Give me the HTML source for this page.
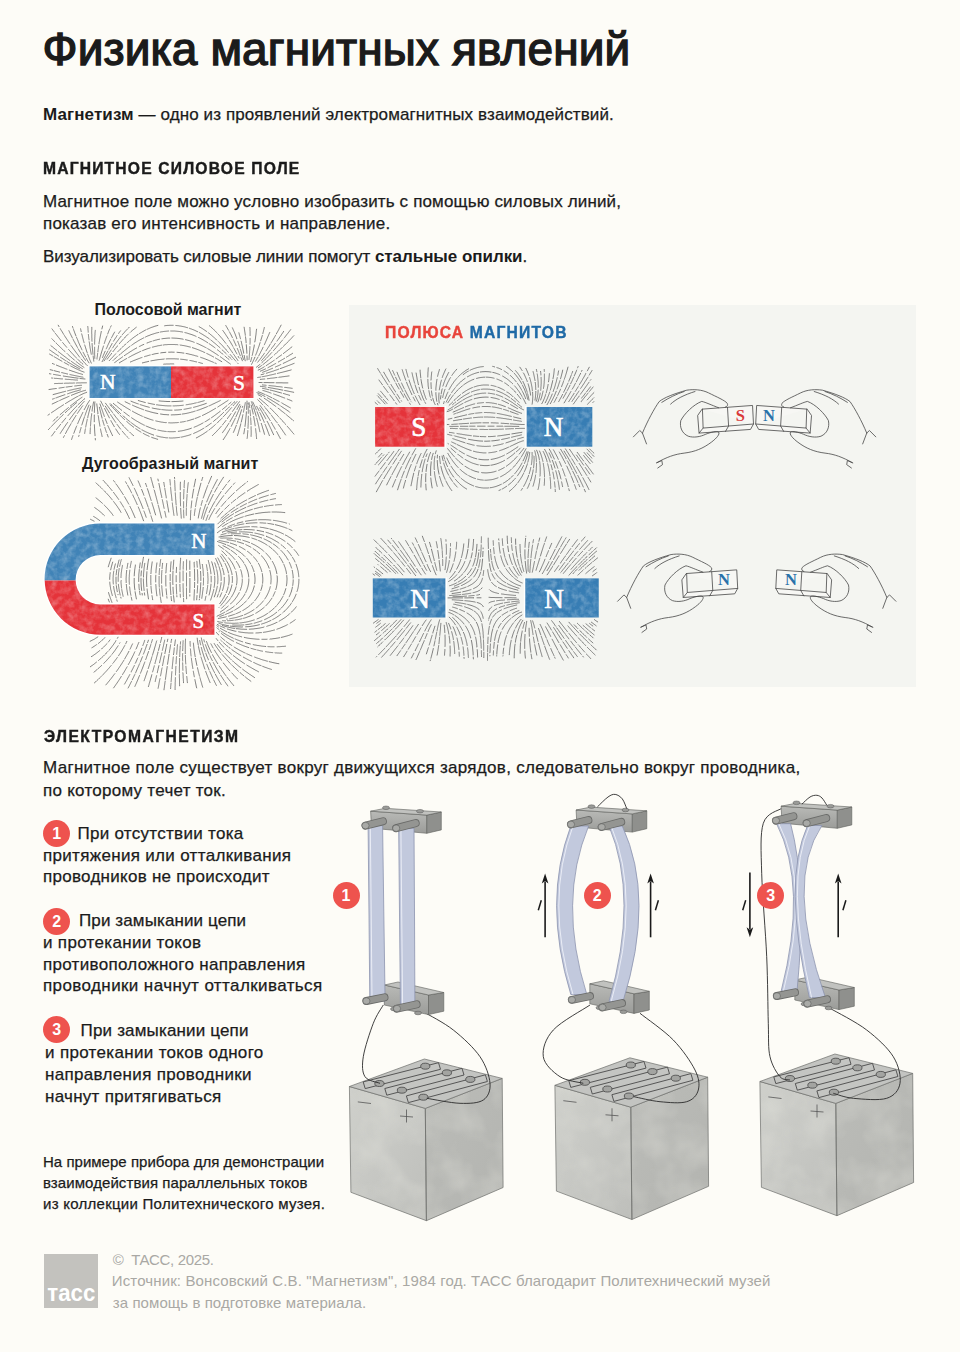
<!DOCTYPE html>
<html><head><meta charset="utf-8">
<style>
html,body{margin:0;padding:0;}
body{width:960px;height:1352px;background:#fdfcf7;position:relative;overflow:hidden;font-family:"Liberation Sans",sans-serif;}
.ln{position:absolute;white-space:nowrap;line-height:1;}
.ln span{-webkit-text-stroke:0.25px currentColor;}
.ln span.b{-webkit-text-stroke:0;}
.ln.t span{-webkit-text-stroke:1.4px currentColor;}
.ln.hd span{-webkit-text-stroke:0.45px currentColor;}
.ln.ft span{-webkit-text-stroke:0;}
.panel{position:absolute;left:349px;top:305px;width:567px;height:382px;background:#f4f5f1;}
.num{position:absolute;width:27px;height:27px;border-radius:50%;background:#ee534e;color:#fff;font-weight:bold;font-size:16px;line-height:27px;text-align:center;}
.logo{position:absolute;left:44px;top:1254px;width:54px;height:54px;background:#c3c2be;}
svg{position:absolute;left:0;top:0;}
</style></head><body>
<div class="panel"></div>
<div class="logo"><svg width="54" height="54" style="position:absolute;left:0;top:0"><text transform="translate(3.3,46.9) scale(1,1.12)" x="0" y="0" font-family="Liberation Sans" font-weight="bold" font-size="22" fill="#fff" textLength="48" lengthAdjust="spacingAndGlyphs">тасс</text></svg></div>
<svg width="960" height="1352" viewBox="0 0 960 1352"><defs><filter id="wc" x="-2%" y="-5%" width="104%" height="110%" color-interpolation-filters="sRGB">
<feTurbulence type="fractalNoise" baseFrequency="0.16" numOctaves="3" seed="4" result="n"/>
<feColorMatrix in="n" type="matrix" values="0 0 0 0 1  0 0 0 0 1  0 0 0 0 1  0 0 0 0.55 -0.2" result="w"/>
<feComposite in="w" in2="SourceAlpha" operator="in" result="wi"/>
<feMerge><feMergeNode in="SourceGraphic"/><feMergeNode in="wi"/></feMerge></filter></defs><path d="M109.2 360.7L109.9 360.0L110.6 359.3L111.3 358.5L112.0 357.8L112.7 357.1L113.4 356.3L114.0 355.6L114.7 354.9L115.4 354.2L115.7 353.8M117.6 351.9L118.2 351.3L118.9 350.6L119.6 349.9L120.3 349.2L121.0 348.5L121.7 347.8L122.5 347.1L123.2 346.4L123.9 345.7L124.7 345.0L125.4 344.3L126.1 343.7M127.5 342.5L127.6 342.3L128.4 341.7L129.2 341.1L129.9 340.4L130.7 339.8L131.5 339.2L132.3 338.5L133.1 337.9L133.9 337.3L134.7 336.7L135.5 336.2L136.3 335.6L137.1 335.0L138.0 334.5L138.0 334.4M139.2 333.6L139.6 333.4L140.5 332.9L141.4 332.4L142.2 331.9L143.1 331.4L144.0 330.9L144.9 330.4L145.6 330.0M146.9 329.4L147.6 329.1L148.5 328.7L149.4 328.3L150.3 327.9L151.2 327.5L152.2 327.2L153.1 326.9L154.1 326.5L155.0 326.2L156.0 325.9L156.9 325.7L157.9 325.4M199.1 326.7L200.0 327.2L200.8 327.7L201.7 328.2L202.5 328.7L203.4 329.3L204.2 329.8L205.0 330.4L205.9 331.0L206.7 331.5L206.9 331.7M208.5 332.9L209.1 333.3L209.9 333.9L210.6 334.6L211.4 335.2L212.2 335.9L212.9 336.5L213.7 337.2L214.4 337.8L215.2 338.5L215.9 339.2L216.6 339.9L217.0 340.2M218.6 341.8L218.8 342.0L219.5 342.7L220.2 343.4L220.9 344.1L221.6 344.8L222.3 345.5L223.0 346.3L223.6 347.0L224.3 347.8L225.0 348.5L225.6 349.2L226.3 350.0L227.0 350.7L227.6 351.5L228.3 352.3L228.4 352.4M230.1 354.4L230.2 354.5L230.9 355.3L231.5 356.1L232.2 356.8L232.8 357.6L233.5 358.4L234.1 359.1L234.8 359.9L235.4 360.6L235.8 361.1M237.5 363.0L238.1 363.6M86.4 382.8L85.4 382.8L84.4 382.8L83.4 382.8L82.4 382.8L81.4 382.8L80.4 382.9L79.4 382.9L78.4 382.9L77.4 382.9L76.4 383.0L76.2 383.0M74.5 383.0L74.4 383.0L73.4 383.0L72.4 383.1L71.4 383.1L70.4 383.1L69.4 383.1L68.4 383.2L67.4 383.2L66.4 383.2L65.4 383.2L64.4 383.3L64.2 383.3M62.7 383.3L62.4 383.3L61.4 383.4L60.4 383.4L59.4 383.4L58.4 383.4L57.4 383.5L56.4 383.5L55.4 383.5L54.6 383.6M85.0 379.0L84.0 378.9L83.0 378.8L82.1 378.7L81.1 378.6L80.1 378.5L79.8 378.4M78.2 378.2L78.1 378.2L77.1 378.1L76.1 377.9L75.1 377.8L74.1 377.7L73.1 377.5L72.1 377.4L71.1 377.2L70.2 377.1L69.2 376.9L68.2 376.8L67.2 376.6L66.2 376.5L65.2 376.3L64.2 376.2L63.3 376.0M60.5 375.6L60.3 375.5L59.3 375.4L58.3 375.2L57.3 375.0L56.3 374.9L55.4 374.7L54.4 374.5L53.6 374.4M50.9 373.9L50.4 373.9L49.4 373.7M87.3 365.6L86.6 364.9L85.9 364.2L85.2 363.5L84.5 362.8L83.9 362.0L83.2 361.3L82.5 360.5L81.9 359.8L81.2 359.0M79.7 357.2L79.3 356.7L78.7 355.9L78.1 355.1L77.5 354.3L76.9 353.5L76.3 352.7L75.7 351.9L75.1 351.1L74.5 350.3L73.9 349.5L73.3 348.7L72.7 347.9L72.2 347.1L71.6 346.3L71.0 345.4L70.9 345.3M69.7 343.5L69.3 343.0L68.8 342.1L68.2 341.3L67.7 340.5L67.1 339.6L66.6 338.8L66.0 338.0L65.5 337.1L64.9 336.3L64.5 335.6M63.7 334.4L63.3 333.7L62.8 332.9L62.3 332.0L61.8 331.2L61.2 330.3L60.7 329.5L60.3 328.7M59.0 326.6L58.7 326.0L58.2 325.2M117.6 402.1L118.1 402.4L118.9 403.0L119.8 403.5L120.6 404.1L121.5 404.6L122.3 405.1L123.1 405.7L124.0 406.2L124.8 406.7L125.7 407.3L126.5 407.8L127.4 408.3L128.2 408.8L129.1 409.3L130.0 409.9L130.3 410.1M132.4 411.3L132.6 411.3L133.4 411.8L134.3 412.3L135.2 412.8L136.1 413.2L137.0 413.7L137.9 414.2L138.8 414.6L139.7 415.0L140.6 415.5L141.5 415.9L142.4 416.3L142.4 416.3M143.9 416.9L144.2 417.1L145.2 417.5L146.1 417.8L147.0 418.2L148.0 418.5L148.9 418.9L149.8 419.2L150.8 419.5L151.7 419.8L152.7 420.1L153.1 420.2M155.8 420.9L156.6 421.1L157.5 421.3L158.5 421.5L159.5 421.7L160.5 421.9L161.5 422.1L162.5 422.2L163.5 422.4L164.5 422.5L165.4 422.6L166.3 422.6M168.7 422.8L169.4 422.8L170.4 422.9L171.4 422.9L172.4 422.9L173.4 422.8L174.4 422.8L175.4 422.7L176.4 422.7L177.4 422.6L178.3 422.5M180.2 422.3L180.4 422.2L181.4 422.1L182.4 421.9L183.4 421.8L184.3 421.6L185.3 421.4M187.0 421.0L187.3 420.9L188.2 420.7L189.2 420.4L190.2 420.1L191.1 419.8L192.1 419.5L193.0 419.2L193.6 419.1M195.0 418.5L195.9 418.2L196.8 417.9L197.7 417.5L198.7 417.1L199.6 416.7L200.2 416.5M202.5 415.4L203.2 415.1L204.1 414.7L205.0 414.2L205.9 413.8L206.8 413.3L207.7 412.8L208.6 412.4L209.4 411.9L210.3 411.4L211.2 410.9L212.1 410.4L212.9 409.9L213.8 409.4L214.6 408.9L215.5 408.4L215.7 408.3M217.8 407.0L218.1 406.8L218.9 406.3L219.7 405.7L220.6 405.2L221.4 404.7L222.3 404.1L223.1 403.6L224.0 403.0L224.8 402.5L225.6 401.9L226.5 401.4L227.3 400.9L228.1 400.3M196.3 437.9L197.2 437.5L198.0 437.0L198.9 436.5L199.8 436.0L200.7 435.5L201.5 435.0L202.4 434.5L203.2 434.0L204.1 433.4L204.9 432.9L205.7 432.3L206.5 431.8L207.4 431.2L207.8 430.8M209.2 429.8L209.8 429.4L210.5 428.7L211.3 428.1L212.1 427.5L212.9 426.8L213.6 426.2L214.4 425.5L215.1 424.9L215.4 424.6M217.0 423.1L217.3 422.8L218.0 422.1L218.8 421.4L219.5 420.7L220.2 420.0L220.9 419.3L221.6 418.6L222.1 418.0M223.4 416.7L223.6 416.4L224.3 415.7L225.0 415.0L225.7 414.2L226.4 413.5L227.0 412.7L227.7 412.0L228.4 411.2L229.0 410.5L229.7 409.7L230.3 409.0L231.0 408.2L231.6 407.6M233.3 405.6L233.6 405.2L234.3 404.5L235.0 403.7L235.6 403.0L236.3 402.3L237.0 401.5M290.7 329.6L290.1 330.4L289.5 331.2L288.9 331.9L288.3 332.7L287.7 333.5L287.0 334.3L286.4 335.1L285.8 335.9L285.2 336.7L284.6 337.5L284.0 338.1M282.6 340.0L282.1 340.6L281.4 341.4L280.8 342.1L280.1 342.9L279.5 343.7L278.9 344.4L278.2 345.2L277.6 345.9L276.9 346.7L276.3 347.5L275.6 348.2L274.9 349.0L274.3 349.7L273.6 350.5L273.4 350.8M271.8 352.5L271.6 352.7L270.9 353.4L270.3 354.2L269.6 354.9L268.9 355.6L268.2 356.4L267.5 357.1L266.8 357.8L266.1 358.5L265.4 359.2L264.7 359.9L264.0 360.6L263.3 361.3L262.5 362.0L261.8 362.7L261.6 362.9M260.0 364.3L259.6 364.7L258.8 365.3L258.0 366.0L257.2 366.6L256.4 367.2M281.1 325.1L280.6 326.0L280.2 326.9L279.7 327.7L279.2 328.6L278.8 329.5L278.3 330.4L277.8 331.3L277.3 332.1L276.9 333.0L276.4 333.7M275.8 335.0L275.4 335.6L274.9 336.5L274.4 337.4L273.9 338.2L273.4 339.1L272.9 339.9L272.4 340.8L271.8 341.7L271.3 342.5L271.0 343.1M270.1 344.4L269.7 345.1L269.2 345.9L268.7 346.8L268.1 347.6L267.6 348.4L267.0 349.3L266.5 350.1L266.0 350.9M264.4 353.2L264.3 353.4L263.7 354.3L263.1 355.1L262.5 355.9L261.9 356.7L261.4 357.5L260.8 358.3L260.2 359.1L259.5 359.9L258.9 360.7L258.3 361.5L257.7 362.2M91.3 363.1L90.9 362.2L90.5 361.3L90.1 360.4L89.7 359.5L89.3 358.5L89.0 357.6L88.6 356.7L88.3 355.7L87.9 354.8L87.6 354.0M87.2 352.6L86.9 352.0L86.6 351.0L86.3 350.1L86.0 349.1L85.7 348.1L85.4 347.2L85.1 346.2L84.8 345.3L84.7 345.0M84.1 342.8L84.0 342.4L83.7 341.4L83.4 340.5L83.2 339.5L82.9 338.5L82.7 337.6L82.4 336.6L82.2 335.6L81.9 334.7L81.7 333.9M81.2 331.6L81.0 330.8L80.8 329.8L80.6 328.8M109.9 404.5L110.6 405.2L111.2 406.0L111.9 406.7L112.6 407.4L113.3 408.2L114.0 408.9L114.7 409.6L115.4 410.3L116.0 411.1L116.7 411.8L117.4 412.5L118.1 413.2L118.8 413.9L118.9 414.0M120.4 415.5L120.9 416.1L121.6 416.8L122.4 417.5L123.1 418.2L123.8 418.9L124.5 419.5M126.6 421.4L126.8 421.6L127.5 422.2L128.3 422.9L129.0 423.5L129.8 424.2L130.6 424.8L131.3 425.4L132.1 426.0L132.9 426.7L133.7 427.2M135.8 428.8L136.2 429.0L137.0 429.6L137.8 430.1L138.6 430.7L139.5 431.2L140.3 431.7L141.0 432.2M143.2 433.4L143.8 433.7L144.7 434.2L145.6 434.7L146.5 435.1L147.4 435.5L148.3 435.9L149.2 436.3L149.3 436.4M151.7 437.4L152.0 437.5L152.9 437.8L153.9 438.1L154.8 438.4L155.8 438.7L156.7 439.0L157.7 439.3M113.1 360.4L113.8 359.7L114.6 359.1L115.3 358.4L116.1 357.7L116.8 357.1L117.2 356.7M119.0 355.2L119.1 355.1L119.9 354.5L120.6 353.8L121.4 353.2L122.2 352.5L122.9 351.9L123.7 351.3L124.5 350.6L125.3 350.0L126.0 349.4L126.8 348.8L127.6 348.2L128.4 347.5L129.2 346.9L130.0 346.4M131.5 345.3L131.6 345.2L132.5 344.6L133.3 344.0L134.1 343.5L134.9 342.9L135.8 342.4L136.6 341.9L137.5 341.3L138.3 340.8L139.2 340.3L140.1 339.8L140.9 339.3L141.8 338.9L142.7 338.4L143.6 337.9L143.9 337.8M145.5 337.0L146.3 336.6L147.2 336.2L148.1 335.8L149.1 335.5L150.0 335.1L150.9 334.7L151.9 334.4L152.8 334.1L153.8 333.8L154.7 333.5L155.7 333.2L156.6 332.9L157.6 332.7L158.5 332.5M160.1 332.1L160.5 332.0L161.5 331.8L162.5 331.7L163.5 331.5L164.5 331.4L165.5 331.3L166.5 331.2L167.5 331.1L168.5 331.0L168.7 331.0M170.7 331.0L171.5 331.0L172.5 331.0L173.5 331.0L174.5 331.0L175.5 331.1L176.5 331.2L177.5 331.3L178.5 331.4L179.5 331.5L180.4 331.7L181.4 331.8L182.4 332.0L182.7 332.1M184.9 332.6L185.3 332.7L186.3 332.9L187.3 333.2L188.2 333.5L189.2 333.8L190.1 334.1L191.1 334.4L192.0 334.7L193.0 335.1L193.9 335.4L194.8 335.8L195.7 336.2L196.1 336.4M198.3 337.4L198.5 337.5L199.4 337.9L200.2 338.4L201.1 338.8L202.0 339.3L202.9 339.8L203.8 340.3L204.6 340.8L205.5 341.3L206.3 341.8L207.2 342.4L208.0 342.9L208.1 343.0M209.4 343.9L209.7 344.0L210.5 344.6L211.3 345.2L212.1 345.7L212.9 346.3L213.8 346.9L214.6 347.5L215.1 347.9M217.4 349.8L217.7 350.0L218.5 350.6L219.3 351.2L220.0 351.9L220.8 352.5L221.6 353.1L222.3 353.8L223.0 354.3M225.0 356.1L225.4 356.4L226.1 357.1L226.9 357.7L227.6 358.4L228.4 359.0L229.1 359.6M84.0 367.4L83.1 366.8L82.3 366.3L81.5 365.7L80.7 365.1L79.9 364.5L79.1 363.9L78.3 363.3L77.5 362.6L76.7 362.0L76.0 361.4M74.6 360.3L74.4 360.1L73.7 359.4L72.9 358.8L72.2 358.1L71.4 357.5L70.7 356.8L69.9 356.2L69.2 355.5L68.4 354.8L67.7 354.2L67.1 353.6M65.0 351.6L64.7 351.4L64.0 350.8L63.3 350.1L62.6 349.4L61.8 348.7L61.1 348.0L60.4 347.3L59.7 346.6L59.0 345.9L58.3 345.2L57.5 344.5L56.8 343.8L56.1 343.1L56.0 342.9M54.5 341.5L54.0 340.9L53.3 340.2L52.6 339.5L51.9 338.8M142.4 362.9L143.2 362.7L144.1 362.5L145.1 362.2L146.1 362.0L147.1 361.8L148.0 361.5L148.7 361.4M150.9 360.9L151.0 360.9L151.9 360.7L152.9 360.5L153.9 360.4L154.9 360.2L155.9 360.0L156.9 359.9L157.9 359.7L158.9 359.6L159.8 359.5L160.8 359.4L161.8 359.3L162.8 359.2L163.8 359.1L164.2 359.0M166.2 358.9L166.8 358.9L167.8 358.8L168.8 358.8L169.8 358.8L170.8 358.8L171.8 358.8L172.8 358.8L173.8 358.8L174.8 358.8L175.8 358.9L176.8 358.9L177.8 359.0L178.5 359.0M180.6 359.2L180.8 359.2L181.8 359.3L182.8 359.4L183.8 359.5L184.8 359.7L185.8 359.8L186.8 360.0L187.3 360.0M189.9 360.5L190.7 360.6L191.7 360.8L192.7 361.0L193.6 361.2L194.6 361.5L195.6 361.7L196.6 361.9L196.7 361.9M198.8 362.5L199.5 362.6L200.4 362.9L201.4 363.2L202.4 363.4M237.5 435.5L237.8 434.5L238.1 433.6L238.4 432.6L238.7 431.7L238.9 430.7L239.2 429.7L239.5 428.8L239.8 427.8L240.0 426.9L240.3 425.9L240.5 424.9L240.8 424.0L240.8 423.8M241.2 422.2L241.3 422.0L241.5 421.0L241.7 420.1L242.0 419.1L242.2 418.1L242.4 417.1L242.6 416.2L242.8 415.2L242.9 414.7M243.5 412.1L243.6 411.3L243.8 410.3L244.0 409.3L244.2 408.3L244.4 407.3L244.6 406.4L244.8 405.4L245.0 404.4L245.2 403.4L245.3 402.7M293.8 335.7L293.1 336.4L292.4 337.1L291.8 337.9L291.1 338.6L290.4 339.3L289.7 340.0L289.0 340.7L288.3 341.5L287.6 342.2L286.9 342.9L286.2 343.6L285.5 344.3L284.8 345.0L284.0 345.7L283.4 346.3M282.3 347.4L281.9 347.8L281.2 348.5L280.5 349.2L279.7 349.9L279.0 350.6L278.3 351.3L277.6 351.9L276.8 352.6L276.1 353.3L275.4 354.0L274.6 354.7L274.2 355.0M272.3 356.8L271.6 357.3L270.9 358.0L270.1 358.6L269.4 359.3L268.6 359.9L267.9 360.6L267.1 361.2L266.3 361.9L265.5 362.5L264.8 363.1L264.0 363.7L263.2 364.4L263.0 364.5M261.7 365.5L261.6 365.6L260.8 366.1L260.0 366.7L259.1 367.3L258.3 367.8M125.1 401.7L126.0 402.2L126.9 402.6L127.8 403.0L128.7 403.5L129.6 403.9L130.1 404.1M132.5 405.2L133.3 405.6L134.2 406.0L135.1 406.4L136.0 406.8L137.0 407.2L137.9 407.5L138.8 407.9L139.7 408.3L140.7 408.6L141.6 409.0L142.5 409.3L143.5 409.7L143.8 409.8M145.5 410.4L146.3 410.7L147.3 411.0L148.2 411.2L149.2 411.5L150.1 411.8L151.1 412.1L152.1 412.3L153.1 412.6L154.0 412.8L155.0 413.0L156.0 413.2L157.0 413.4L157.8 413.6M160.5 414.0L160.9 414.1L161.9 414.2L162.9 414.4L163.9 414.5L164.9 414.6L165.9 414.6L166.9 414.7L167.9 414.8L168.7 414.8M171.2 414.9L171.9 414.9L172.9 414.8L173.9 414.8L174.9 414.8L175.9 414.7L176.9 414.7L177.9 414.6L178.9 414.5L179.8 414.4L180.8 414.3L180.9 414.3M182.4 414.0L182.8 414.0L183.8 413.8L184.8 413.7L185.8 413.5L186.8 413.3L187.7 413.1L188.7 412.9L189.7 412.6L190.7 412.4L191.6 412.1L192.6 411.9L193.6 411.6L194.5 411.3L195.2 411.1M196.8 410.6L197.4 410.4L198.3 410.1L199.3 409.8L200.2 409.4L201.1 409.1L202.1 408.7L203.0 408.4L203.9 408.0L204.9 407.6L205.8 407.3L206.7 406.9L207.4 406.6M208.9 405.9L209.5 405.7L210.4 405.3L211.3 404.9L212.2 404.4L213.1 404.0L214.0 403.6L214.9 403.2L215.8 402.7L216.7 402.3L217.6 401.9L218.5 401.4L219.4 401.0L220.3 400.5M85.5 390.3L84.5 390.6L83.6 390.8L82.6 391.1L81.7 391.4L80.7 391.7L79.8 392.1L78.8 392.4L77.9 392.8L76.9 393.1L76.0 393.5L75.1 393.8L74.1 394.2L73.2 394.6L72.3 394.9L71.4 395.3M69.1 396.3L68.6 396.5L67.7 396.9L66.8 397.3L65.9 397.7L64.9 398.1L64.0 398.5L63.1 398.9L62.2 399.3L61.3 399.7L60.4 400.2L59.7 400.5M58.2 401.2L57.7 401.4L56.8 401.8L55.9 402.3L55.0 402.7L54.1 403.1L53.1 403.6L52.2 404.0M256.6 438.6L256.5 437.6L256.4 436.6L256.3 435.6L256.3 434.6L256.2 433.6L256.0 432.6L255.9 431.6L255.8 430.7L255.7 429.7L255.6 428.7L255.6 428.6M255.2 425.8L255.2 425.7L255.0 424.7L254.9 423.7L254.7 422.7L254.6 421.7L254.4 420.8L254.2 419.8L254.1 418.8L253.9 417.8L253.7 416.8L253.6 416.4M253.2 414.0L253.2 413.9L253.0 412.9L252.8 411.9L252.5 410.9L252.3 410.0L252.1 409.0L251.9 408.0L251.7 407.0L251.4 406.1L251.2 405.1M159.1 400.9L160.1 401.0L161.1 401.1L162.1 401.2L163.1 401.2L164.1 401.3L165.1 401.4L166.0 401.4L167.0 401.5L168.0 401.5L169.0 401.5L169.9 401.5M171.8 401.6L172.0 401.6L173.0 401.6L174.0 401.5L175.0 401.5L176.0 401.5L177.0 401.4L178.0 401.4L179.0 401.3L180.0 401.2L181.0 401.2L182.0 401.1L183.0 401.0M86.7 392.3L85.7 392.7L84.8 393.0L83.9 393.4L83.0 393.8L82.0 394.2L81.1 394.7L80.2 395.1L79.6 395.4M78.3 396.1L77.6 396.5L76.7 396.9L75.8 397.4L74.9 397.9L74.1 398.4L73.2 398.9L72.3 399.4L71.5 399.9L70.6 400.4L69.8 400.9L68.9 401.4L68.0 402.0L67.2 402.5L66.3 403.0L65.5 403.5M63.5 404.8L62.9 405.1L62.1 405.7L61.3 406.2L60.4 406.8L59.6 407.3L58.7 407.8L57.9 408.4L57.1 408.9L56.2 409.5L55.4 410.1L54.6 410.6L53.8 411.2L52.9 411.7L52.1 412.3L51.5 412.7M49.5 414.1L48.8 414.6L48.0 415.1M212.3 435.7L212.7 435.3L213.4 434.6L214.1 433.9L214.8 433.2L215.6 432.5L216.3 431.8L216.9 431.1L217.6 430.3L218.3 429.6L219.0 428.9L219.7 428.1L220.3 427.4L221.0 426.6L221.4 426.2M222.5 424.9L222.9 424.3L223.5 423.5L224.2 422.8L224.8 422.0L225.4 421.2L226.0 420.4L226.1 420.3M227.5 418.5L227.8 418.0L228.4 417.2L229.0 416.4L229.6 415.6L230.2 414.8L230.7 414.0L231.0 413.6M232.5 411.4L233.0 410.7L233.6 409.9L234.2 409.0L234.8 408.2L235.3 407.4L235.9 406.6L236.5 405.8L237.1 405.0L237.6 404.1L238.2 403.3L238.8 402.5L239.4 401.7M256.6 329.2L256.4 330.2L256.3 331.2L256.2 332.2L256.1 333.1L256.0 334.1L255.9 335.1L255.7 336.1L255.6 337.1L255.5 338.1L255.3 339.1L255.2 340.1L255.0 341.1L254.8 342.1L254.8 342.1M254.3 345.0L254.2 346.0L254.0 347.0L253.8 348.0L253.6 348.9L253.4 349.9L253.2 350.9L253.0 351.9L252.8 352.9L252.6 353.8L252.4 354.8L252.2 355.4M251.8 357.3L251.7 357.7L251.4 358.7L251.2 359.7L250.9 360.6L250.6 361.6M138.3 400.5L139.2 400.8L140.2 401.1L141.1 401.4L142.1 401.6L143.1 401.9L144.0 402.2L145.0 402.4L145.3 402.5M148.1 403.1L148.9 403.3L149.9 403.5L150.8 403.7L151.8 403.9L152.8 404.1L153.8 404.3L154.5 404.4M156.5 404.8L156.7 404.8L157.7 404.9L158.7 405.1L159.7 405.2L160.7 405.3L161.7 405.4L162.7 405.5L163.7 405.6L164.7 405.7L165.7 405.8L166.7 405.8L167.7 405.9L168.7 405.9L169.7 405.9L170.7 405.9L171.1 405.9M173.0 405.9L173.7 405.9L174.7 405.9L175.7 405.8L176.7 405.8L177.7 405.7L178.7 405.7L179.7 405.6L180.7 405.5L181.7 405.4L182.7 405.3L183.3 405.2M186.1 404.8L186.6 404.7L187.6 404.6L188.6 404.4L189.6 404.2L190.6 404.1L191.6 403.9L192.5 403.7L193.5 403.5L194.5 403.2L195.5 403.0L196.3 402.8M197.8 402.5L198.4 402.3L199.3 402.1L200.3 401.8L201.3 401.5L202.2 401.3L203.2 401.0L204.2 400.7M77.6 380.1L77.5 380.1L76.5 380.0L75.5 380.0L74.5 379.9L73.5 379.8L72.6 379.7L71.6 379.7L70.6 379.6L69.6 379.5L68.6 379.4L67.6 379.4L66.6 379.3L65.6 379.2L65.2 379.2M62.5 378.9L61.6 378.9L60.6 378.8L59.6 378.7L58.6 378.6L57.6 378.5L56.6 378.4L55.6 378.4L54.6 378.3L54.4 378.3M52.9 378.1L52.6 378.1L51.6 378.0M91.3 354.4L91.2 354.3L91.1 353.3L90.9 352.3L90.7 351.3L90.5 350.3L90.4 349.4L90.2 348.4L90.0 347.4L89.9 346.4L89.7 345.4L89.6 344.4L89.5 343.4L89.3 342.4L89.2 341.8M89.0 339.9L89.0 339.5L88.8 338.5L88.7 337.5L88.6 336.5L88.5 335.5L88.4 334.5L88.4 334.4M88.2 332.2L88.2 331.5L88.1 330.5L88.0 329.5L88.0 328.5L87.9 327.5L87.8 326.5M82.1 397.3L81.3 397.8L80.4 398.4L79.6 399.0L78.8 399.5L78.0 400.1L77.2 400.7L76.4 401.3L75.6 401.9L74.8 402.5L74.0 403.1L73.2 403.7L72.4 404.4L71.6 405.0L70.9 405.6L70.4 405.9M68.4 407.6L67.8 408.1L67.0 408.8L66.2 409.4L65.5 410.1L64.7 410.7L63.9 411.4L63.2 412.0L62.4 412.7L61.7 413.3L60.9 414.0L60.2 414.6M58.0 416.6L57.9 416.7L57.2 417.3L56.5 418.0L55.7 418.7L55.0 419.4L54.3 420.0L53.5 420.7L53.2 421.0M113.3 403.4L114.1 404.1L114.9 404.7L115.7 405.3L116.4 406.0L117.2 406.6L118.0 407.3L118.7 407.9L119.5 408.5L120.3 409.2L121.0 409.8L121.7 410.3M123.9 412.1L124.2 412.3L125.0 412.9L125.8 413.5L126.6 414.1L127.4 414.7L128.2 415.3L129.0 415.9L129.3 416.1M131.6 417.8L132.2 418.2L133.1 418.8L133.9 419.3L134.8 419.9L135.6 420.4L136.4 420.9L137.3 421.4L138.2 421.9L139.0 422.4L139.9 422.9L140.8 423.4L141.7 423.9L142.6 424.3L143.4 424.8L144.3 425.2L144.4 425.2M146.0 426.0L146.2 426.1L147.1 426.5L148.0 426.8L148.9 427.2L149.9 427.6L150.8 427.9L151.7 428.3L152.7 428.6L153.6 428.9L154.6 429.2L155.6 429.5L155.8 429.5M157.9 430.1L158.5 430.2L159.4 430.4L160.4 430.6L161.4 430.8L162.4 431.0L163.4 431.1L164.4 431.3L165.4 431.4L166.2 431.5M167.8 431.6L168.3 431.6L169.3 431.7L170.3 431.7L171.3 431.7L172.3 431.7L173.3 431.7L174.3 431.6L175.3 431.6L175.4 431.6M178.3 431.3L179.3 431.2L180.3 431.0L181.3 430.9L182.3 430.7L183.3 430.5L184.2 430.3L185.2 430.0L186.2 429.8L187.1 429.5L188.1 429.3L189.1 429.0L190.0 428.7L191.0 428.4L191.4 428.2M194.1 427.2L194.7 427.0L195.6 426.6L196.6 426.2L197.5 425.8L198.4 425.3L199.3 424.9L200.2 424.5L201.1 424.0L201.9 423.5L202.8 423.1L203.1 422.9M205.0 421.8L205.4 421.6L206.3 421.1L207.1 420.5L208.0 420.0L208.8 419.5L209.7 418.9L209.8 418.9M211.5 417.7L212.2 417.2L213.0 416.7L213.8 416.1L214.6 415.5L215.4 414.9L216.2 414.3L217.0 413.7L217.8 413.1L218.6 412.5L219.4 411.9L220.2 411.3L220.2 411.2M222.5 409.4L223.3 408.7L224.0 408.1L224.8 407.5L225.6 406.8L226.3 406.2L226.9 405.8M228.7 404.2L229.4 403.6L230.2 403.0L231.0 402.3M251.1 436.4L251.1 435.4L251.2 434.4L251.2 433.4L251.2 432.4L251.2 431.4L251.2 430.4L251.1 429.4L251.1 428.4L251.1 427.4L251.1 426.7M251.0 424.7L251.0 424.4L251.0 423.4L250.9 422.4L250.9 421.4L250.8 420.4L250.7 419.4L250.7 418.4L250.6 417.9M250.5 415.9L250.5 415.4L250.4 414.4L250.3 413.4L250.2 412.4L250.1 411.4L250.0 410.4L250.0 410.2M249.7 407.7L249.7 407.4L249.5 406.4L249.4 405.4L249.3 404.4L249.2 403.4L249.0 402.5M130.4 362.0L131.4 361.6L132.3 361.2L133.2 360.8L134.1 360.4L135.1 360.1L136.0 359.7L136.9 359.3L137.9 359.0L138.8 358.6L139.7 358.3L140.7 357.9L141.6 357.6L142.0 357.5M144.4 356.7L144.5 356.6L145.4 356.3L146.4 356.1L147.3 355.8L148.3 355.5L149.3 355.2L150.2 355.0M152.1 354.5L152.2 354.5L153.1 354.3L154.1 354.0L155.1 353.8L156.1 353.6L157.1 353.5L158.0 353.3L158.2 353.3M160.7 352.9L161.0 352.8L162.0 352.7L163.0 352.6L164.0 352.5L165.0 352.4L165.8 352.3M168.6 352.2L169.0 352.2L170.0 352.2L171.0 352.1L172.0 352.1L173.0 352.2L174.0 352.2L174.2 352.2M177.0 352.3L178.0 352.4L179.0 352.5L180.0 352.6L180.9 352.7L181.9 352.8L182.9 353.0L183.9 353.1M186.1 353.5L186.9 353.6L187.9 353.8L188.8 354.0L189.8 354.3L190.8 354.5L191.8 354.7L192.7 355.0L193.7 355.2L194.7 355.5L195.6 355.8L196.6 356.0L197.5 356.3L197.8 356.4M200.6 357.3L201.3 357.6L202.3 357.9L203.2 358.2L204.2 358.6L205.1 358.9L206.0 359.3L207.0 359.7L207.9 360.0L208.8 360.4L209.7 360.8L210.7 361.2L211.6 361.6L212.5 361.9L213.4 362.3M214.9 363.0L215.3 363.1L216.2 363.5M290.4 407.9L289.5 407.4L288.7 406.9L287.8 406.4L286.9 405.9L286.1 405.4L285.2 404.9L284.3 404.4L283.4 403.9L282.6 403.4L281.7 403.0L281.6 402.9M279.1 401.5L279.1 401.5L278.2 401.0L277.3 400.6L276.4 400.1L275.5 399.6L274.6 399.2L273.8 398.7L273.1 398.4M271.8 397.7L271.1 397.4L270.2 396.9L269.3 396.5L268.4 396.1L267.5 395.6L266.6 395.2M265.1 394.5L264.7 394.4L263.8 394.0L262.9 393.6L262.0 393.2L261.1 392.8L260.1 392.5L259.2 392.1L258.2 391.8M209.5 325.8L210.3 326.4L211.0 327.1L211.8 327.8L212.5 328.4L213.2 329.1L213.9 329.8L214.7 330.5L215.4 331.2L216.1 331.9L216.6 332.5M217.7 333.7L218.1 334.1L218.8 334.8L219.5 335.6L220.1 336.3L220.8 337.1L221.4 337.9L222.1 338.6L222.7 339.4L223.3 340.2L224.0 341.0L224.6 341.7L225.2 342.5L225.8 343.3L225.9 343.4M227.1 345.1L227.6 345.7L228.2 346.5L228.8 347.3L229.4 348.2L230.0 349.0L230.5 349.8L231.1 350.6L231.7 351.4L232.2 352.2L232.7 352.9M233.5 354.1L233.9 354.7L234.5 355.5L235.1 356.4L235.6 357.2L236.2 358.0L236.8 358.8L237.4 359.7L237.9 360.5M285.6 435.0L285.0 434.2L284.5 433.3L283.9 432.5L283.3 431.7L282.8 430.8L282.2 430.0L281.7 429.2L281.1 428.4L280.5 427.5L279.9 426.7L279.4 425.9L278.8 425.1L278.2 424.3L278.1 424.2M277.0 422.7L277.0 422.7L276.4 421.9L275.8 421.1L275.2 420.3L274.6 419.5L274.0 418.7L273.4 417.9L272.8 417.1L272.2 416.3L271.6 415.5L271.2 415.0M270.3 413.8L269.7 413.1L269.1 412.4L268.5 411.6L267.8 410.8L267.2 410.0L266.6 409.3L265.9 408.5L265.3 407.7L264.6 407.0L264.6 406.9M262.9 405.0L262.6 404.7L262.0 404.0L261.3 403.3L260.6 402.5L259.9 401.8L259.2 401.1L258.5 400.4L257.8 399.7M273.6 434.7L273.2 433.8L272.8 432.9L272.3 432.0L271.9 431.1L271.5 430.1L271.1 429.2L270.6 428.3L270.2 427.4L269.8 426.5L269.3 425.6L268.9 424.7L268.5 423.8L268.0 423.0L267.6 422.1L267.1 421.3M265.8 418.8L265.7 418.5L265.2 417.6L264.8 416.8L264.3 415.9L263.8 415.0L263.3 414.1L262.8 413.3L262.3 412.4L261.8 411.5L261.3 410.7L260.8 409.8L260.3 408.9L259.8 408.1L259.7 407.9M97.0 359.0L97.0 358.5L97.1 357.5L97.3 356.5L97.4 355.6L97.5 354.6L97.6 353.6L97.7 353.1M97.9 351.6L98.0 350.6L98.1 349.6L98.3 348.6L98.4 347.6L98.5 346.6L98.7 345.6L98.7 345.6M99.0 343.9L99.0 343.7L99.1 342.7L99.3 341.7L99.5 340.7L99.6 339.7L99.8 338.7L100.0 337.8L100.2 336.8L100.4 335.8L100.6 334.8L100.8 333.8L101.0 332.9L101.2 331.9L101.3 331.4M101.9 328.9L102.1 328.0L102.4 327.0L102.6 326.0M107.2 359.2L107.4 358.9L108.0 358.1L108.6 357.3L109.3 356.5L109.9 355.7L110.5 354.9L111.1 354.1L111.6 353.4M112.9 351.7L113.5 350.9L114.1 350.2L114.7 349.4L115.3 348.6L116.0 347.8L116.6 347.0L117.2 346.2L117.6 345.8M119.3 343.8L119.8 343.2L120.4 342.4L121.1 341.7L121.8 340.9L122.4 340.2L123.1 339.4L123.8 338.7L124.5 338.0L125.1 337.2L125.8 336.5L126.6 335.8L127.3 335.1L128.0 334.4L128.4 334.0M130.3 332.3L130.9 331.7L131.7 331.0L132.4 330.4L133.2 329.8L134.0 329.1L134.8 328.5L135.5 327.9L136.3 327.3M82.4 368.6L81.5 368.1L80.6 367.6L79.8 367.0L78.9 366.5L78.1 366.0L77.2 365.4L76.4 364.9L75.6 364.3L74.7 363.8L73.9 363.2L73.1 362.7L72.3 362.1L71.5 361.5L71.3 361.4M70.0 360.5L69.8 360.3L69.0 359.8L68.2 359.2L67.4 358.6L66.6 358.0L65.8 357.4L65.0 356.8L64.2 356.2L63.4 355.6L62.6 355.0L61.8 354.4L61.0 353.8L60.2 353.1L59.4 352.5L58.7 351.9L58.4 351.7M56.9 350.5L56.3 350.0L55.5 349.4L54.8 348.8L54.0 348.2L53.2 347.5L52.4 346.9L51.7 346.2L50.9 345.6M84.1 372.1L83.2 371.8L82.2 371.4L81.3 371.1L80.4 370.7L79.5 370.3L78.6 369.9L77.7 369.4L76.8 369.0L75.8 368.6L74.9 368.2L74.1 367.7L73.2 367.3L72.3 366.8L71.4 366.4L70.7 366.0M68.8 365.0L68.7 365.0L67.8 364.5L67.0 364.0L66.1 363.5L65.2 363.1L64.3 362.6L64.2 362.5M62.0 361.3L61.7 361.1L60.8 360.6L60.0 360.1L59.1 359.6L58.2 359.1L57.4 358.6L56.5 358.1L55.6 357.6L54.8 357.1L54.4 356.9M53.0 356.1L52.2 355.6L51.3 355.1L50.5 354.6L49.6 354.1M119.3 362.9L120.1 362.3L121.0 361.8L121.9 361.3L122.7 360.8L123.6 360.3L124.4 359.8L125.3 359.3L126.2 358.8L126.8 358.4M128.6 357.5L128.8 357.3L129.7 356.9L130.6 356.4L131.4 355.9L132.3 355.4L133.2 355.0L134.1 354.5L135.0 354.1L135.9 353.6L136.8 353.2L137.7 352.8L138.6 352.4L139.5 351.9L140.4 351.5L140.9 351.3M142.6 350.6L143.2 350.4L144.1 350.0L145.0 349.6L146.0 349.3L146.9 348.9L147.9 348.6L148.8 348.3L149.8 348.0L150.1 347.9M152.3 347.2L152.6 347.1L153.6 346.9L154.6 346.6L155.5 346.4L156.5 346.2L157.5 345.9L158.5 345.7L159.5 345.6L160.4 345.4L161.4 345.2L161.7 345.2M163.2 345.0L163.4 345.0L164.4 344.8L165.4 344.7L166.4 344.7L167.4 344.6L168.4 344.5L169.4 344.5L170.4 344.5L171.4 344.5L172.4 344.5L173.4 344.5L174.4 344.5L175.4 344.6L176.4 344.6L177.4 344.7L177.9 344.8M180.1 345.0L180.4 345.1L181.4 345.2L182.3 345.4L183.3 345.5L184.3 345.7L185.3 345.9L186.3 346.1L187.2 346.3L188.2 346.6L189.2 346.8L190.2 347.1L190.4 347.1M192.4 347.7L193.0 347.9L194.0 348.2L194.9 348.5L195.9 348.9L196.8 349.2L197.8 349.6L198.7 349.9L199.6 350.3L200.5 350.7L201.5 351.1L202.4 351.4L203.3 351.9L204.2 352.3L204.8 352.5M206.8 353.5L206.9 353.5L207.8 354.0L208.7 354.4L209.6 354.9L210.5 355.3L211.4 355.8L212.3 356.3L213.1 356.8L213.6 357.0M215.4 358.0L215.8 358.2L216.6 358.7L217.5 359.2L218.4 359.7L219.2 360.2L220.1 360.7L221.0 361.2L221.8 361.7M84.7 398.7L83.9 399.3L83.2 400.0L82.4 400.6L81.7 401.3L81.0 402.0L80.2 402.7L79.5 403.3L78.8 404.0L78.1 404.7L77.8 405.0M76.8 406.0L76.7 406.2L76.0 406.9L75.3 407.6L74.6 408.3L73.9 409.0L73.2 409.8L72.5 410.5L71.9 411.2L71.2 412.0L70.5 412.7L69.8 413.5L69.2 414.2L68.5 415.0L67.9 415.7L67.8 415.8M65.9 418.0L65.2 418.7L64.6 419.5L63.9 420.3L63.3 421.0L62.7 421.8L62.0 422.6L62.0 422.7M60.7 424.2L60.1 424.9L59.5 425.7L58.9 426.5L58.3 427.2L57.6 428.0L57.0 428.8L56.4 429.6L56.3 429.7M54.9 431.5L54.6 432.0L54.0 432.8L53.4 433.6L52.8 434.4L52.2 435.2L51.6 436.0M110.5 403.8L111.2 404.5L111.9 405.2L112.6 405.9L113.3 406.6L114.1 407.3L114.8 408.0L115.5 408.7L116.2 409.4L116.9 410.1L117.6 410.8L118.3 411.5L119.1 412.1L119.8 412.8L120.5 413.5L120.8 413.8M123.0 415.8L123.5 416.2L124.2 416.9L125.0 417.5L125.7 418.2L126.5 418.9L127.2 419.5L128.0 420.1L128.8 420.8L129.6 421.4L130.2 421.9M131.5 422.9L131.9 423.2L132.7 423.8L133.6 424.4L134.4 425.0L135.2 425.6L136.0 426.1L136.8 426.7L137.7 427.2L138.5 427.8L139.4 428.3L140.1 428.7M141.9 429.8L142.0 429.8L142.8 430.3L143.7 430.8L144.6 431.2L145.5 431.7L146.4 432.1L147.3 432.5L148.2 432.9L149.1 433.3L150.1 433.7L151.0 434.1L151.9 434.4L152.9 434.8L153.8 435.1L153.8 435.1M156.6 435.9L156.7 436.0L157.7 436.2L158.6 436.4L159.6 436.7L160.6 436.9L161.6 437.1L162.6 437.2L163.5 437.4L164.5 437.5L165.5 437.7L166.5 437.8L167.5 437.8L167.6 437.8M169.1 437.9L169.5 437.9L170.5 438.0L171.5 438.0L172.5 438.0L173.5 437.9L174.5 437.9L175.5 437.8L176.5 437.7L177.5 437.6L178.5 437.5L179.4 437.4M181.0 437.1L181.5 437.1L182.4 436.9L183.4 436.7L184.4 436.4L185.4 436.2L186.3 435.9L187.3 435.7L188.3 435.4L189.2 435.1L190.2 434.8L191.0 434.4M193.6 433.5L193.9 433.3L194.8 432.9L195.7 432.5L196.6 432.1L197.5 431.7L198.4 431.2L199.3 430.8L200.2 430.3L201.1 429.8L201.9 429.3L202.8 428.8L203.7 428.3L204.0 428.1M205.8 426.9L206.2 426.7L207.0 426.1L207.8 425.6L208.7 425.0L209.5 424.4L210.3 423.8L211.1 423.2L211.2 423.2M213.4 421.4L213.5 421.4L214.2 420.7L215.0 420.1L215.8 419.5L216.5 418.8L217.3 418.2L218.1 417.5L218.8 416.9L219.6 416.2L220.3 415.5L221.0 414.9L221.8 414.2L222.5 413.5L223.2 412.8L223.7 412.3M225.3 410.8L225.4 410.7L226.1 410.0L226.8 409.3L227.5 408.6L228.3 407.9L229.0 407.2L229.3 407.0M231.0 405.2L231.1 405.1L231.8 404.4L232.5 403.7L233.3 403.0L234.0 402.3L234.7 401.7M90.7 406.1L90.4 407.0L90.1 408.0L89.9 408.9L89.6 409.9L89.3 410.9L89.1 411.8L88.8 412.8L88.6 413.8L88.4 414.7L88.1 415.7L87.9 416.7L87.7 417.7L87.6 417.8M87.3 419.2L87.2 419.6L87.0 420.6L86.8 421.6L86.6 422.5L86.4 423.5L86.2 424.5L86.0 425.5L85.8 426.5L85.7 427.1M85.4 428.9L85.3 429.4L85.1 430.4L85.0 431.4L84.8 432.4L84.7 433.4M264.5 434.3L264.4 433.9L264.1 432.9L263.9 432.0L263.6 431.0L263.3 430.1L263.0 429.1L262.7 428.1L262.4 427.2L262.2 426.2L261.9 425.3L261.5 424.3L261.3 423.4M260.4 420.7L260.3 420.5L260.0 419.6L259.6 418.6L259.3 417.7L259.0 416.8L258.6 415.8L258.3 414.9L257.9 413.9L257.6 413.0L257.2 412.1L257.1 411.7M256.4 410.0L256.1 409.3L255.7 408.4L255.3 407.5L254.9 406.5L254.5 405.6L254.1 404.7L253.7 403.8L253.2 402.9L252.8 402.0M289.1 375.9L288.1 376.0L287.2 376.2L286.2 376.3L285.2 376.4L284.2 376.6L283.2 376.7L282.2 376.8L281.2 377.0L280.2 377.1L279.2 377.2L278.8 377.3M277.0 377.5L276.2 377.6L275.3 377.7L274.3 377.9L273.3 378.0L272.3 378.1L271.3 378.2L270.3 378.3L269.3 378.5L268.3 378.6L267.3 378.7L267.3 378.7M264.8 379.0L264.3 379.0L263.3 379.1L262.3 379.2L261.3 379.3L260.3 379.4M280.3 438.6L279.9 437.7L279.4 436.8L278.9 436.0L278.5 435.1L278.0 434.2L277.5 433.3L277.1 432.4L276.6 431.6M275.2 429.2L275.1 428.9L274.6 428.1L274.1 427.2L273.6 426.3L273.1 425.5L272.6 424.6L272.1 423.7L271.6 422.9L271.4 422.5M270.2 420.6L270.1 420.3L269.5 419.5L269.0 418.6L268.5 417.8L267.9 416.9L267.4 416.1L266.9 415.2L266.3 414.4L265.8 413.6L265.2 412.7L264.7 411.9L264.6 411.8M263.8 410.6L263.5 410.2L263.0 409.4L262.4 408.6L261.8 407.8L261.2 407.0L260.6 406.2L260.2 405.6M294.1 363.4L293.2 363.7L292.3 364.1L291.3 364.5L290.4 364.8L289.5 365.2L288.5 365.5L287.6 365.9L286.7 366.2L285.7 366.6L284.8 366.9L283.9 367.3L282.9 367.6L282.0 368.0L281.0 368.3L280.2 368.6M278.7 369.2L278.2 369.3L277.3 369.7L276.3 370.0L275.4 370.3L274.4 370.6L273.5 371.0L272.5 371.3L271.6 371.6L270.6 371.9L269.7 372.2L268.7 372.5L267.8 372.8L266.8 373.1L266.3 373.3M264.1 373.9L264.0 374.0L263.0 374.2L262.0 374.5L261.1 374.7M99.2 360.3L99.4 359.7L99.7 358.8L99.9 357.8L100.2 356.8L100.5 355.9L100.8 354.9L101.0 354.0L101.3 353.0L101.6 352.0L101.9 351.1L102.2 350.1L102.5 349.2L102.8 348.2L103.1 347.3L103.4 346.3L103.5 346.0M104.3 343.5L104.3 343.4L104.6 342.5L104.9 341.6L105.2 340.6L105.6 339.7L105.9 338.7L106.2 337.8L106.6 336.8L106.9 335.9L107.0 335.8M107.7 334.0L108.0 333.1L108.4 332.2L108.7 331.2L109.1 330.3L109.5 329.4L109.8 328.8M110.5 327.2L110.7 326.7L111.2 325.8M93.6 401.9L93.4 402.9L93.2 403.9L93.0 404.9L92.9 405.9L92.7 406.8L92.5 407.8L92.4 408.8L92.2 409.8L92.1 410.8L92.1 411.1M91.7 413.6L91.7 413.8L91.6 414.8L91.5 415.8L91.3 416.7L91.2 417.7L91.1 418.7L91.0 419.7L90.9 420.7L90.8 421.7L90.7 422.7L90.7 423.7L90.6 424.7L90.5 425.7L90.5 426.1M90.4 427.8L90.3 428.7L90.3 429.7L90.2 430.7L90.2 431.7L90.1 432.7L90.1 433.7M291.2 369.9L290.9 370.0L289.9 370.3L288.9 370.5L288.0 370.8L287.0 371.0L286.0 371.3L285.1 371.5L284.1 371.8L283.1 372.0L282.2 372.3L281.2 372.5L280.2 372.7L279.2 373.0L278.3 373.2L277.5 373.4M275.7 373.8L275.4 373.9L274.4 374.1L273.4 374.4L272.4 374.6L271.5 374.8L270.5 375.0L269.5 375.2L268.5 375.5L267.6 375.7L266.6 375.9L265.6 376.1L264.6 376.3L263.6 376.5L262.7 376.6L262.4 376.7M261.0 376.9L260.7 377.0L259.7 377.2L258.7 377.3L257.7 377.5M89.0 362.9L88.5 362.0L87.9 361.2L87.4 360.3L86.9 359.5L86.5 358.6L86.2 358.1M85.5 356.8L85.0 355.9L84.6 355.1L84.1 354.2L83.7 353.3L83.2 352.4L83.1 352.2M82.0 349.9L81.9 349.7L81.5 348.8L81.1 347.9L80.7 347.0L80.2 346.0L79.8 345.1L79.4 344.2L79.0 343.3L78.6 342.4L78.2 341.5L77.9 340.5L77.5 339.6L77.1 338.7L76.7 337.8L76.4 337.0M75.9 335.7L75.6 335.0L75.2 334.0L74.9 333.1L74.5 332.2L74.2 331.2L73.8 330.3L73.6 329.6M73.1 328.2L72.8 327.5L72.5 326.5M89.0 405.1L88.6 406.0L88.2 406.9L87.9 407.8L87.5 408.8L87.1 409.7L86.7 410.6L86.4 411.6L86.0 412.5L85.7 413.4L85.4 414.4L85.0 415.3L85.0 415.4M84.5 416.8L84.4 417.2L84.0 418.2L83.7 419.1L83.4 420.0L83.1 421.0L82.8 422.0L82.5 422.9L82.2 423.9L81.9 424.8L81.8 425.0M81.1 427.4L81.0 427.7L80.8 428.7L80.5 429.6L80.2 430.6L80.0 431.5L79.7 432.5L79.6 432.8M79.0 435.3L79.0 435.4L78.7 436.4M292.0 401.0L291.1 400.6L290.2 400.2L289.2 399.8L288.3 399.5L287.4 399.1L287.2 399.0M284.8 398.1L284.6 398.0L283.6 397.7L282.7 397.3L281.8 397.0L280.8 396.6L279.9 396.2L279.0 395.9L278.0 395.5L277.1 395.2L276.2 394.9L275.2 394.5L274.3 394.2L273.6 394.0M271.1 393.1L270.5 392.9L269.5 392.6L268.6 392.2L267.6 391.9L266.7 391.6L265.7 391.3L264.8 391.0L263.8 390.7L262.9 390.5M81.3 387.8L80.3 388.0L79.3 388.2L78.3 388.4L77.3 388.6L76.4 388.8L75.4 389.0L74.4 389.2L73.4 389.4L72.4 389.7L71.5 389.9L70.5 390.1L69.5 390.3L68.6 390.6L67.6 390.8L67.6 390.8M65.7 391.3L65.6 391.3L64.7 391.5L63.7 391.8L62.7 392.0L61.8 392.3L60.8 392.5L59.8 392.8L58.9 393.0L57.9 393.3L56.9 393.6L56.0 393.8L55.0 394.1L54.0 394.3L53.1 394.6M291.9 346.9L291.1 347.5L290.3 348.1L289.5 348.8L288.7 349.4L288.0 350.0L287.2 350.6L286.4 351.2L285.6 351.8L284.8 352.4L284.0 353.0L283.4 353.5M281.6 354.9L280.8 355.5L280.0 356.0L279.2 356.6L278.4 357.2L277.6 357.8L276.8 358.4L276.2 358.8M274.2 360.3L273.5 360.7L272.7 361.3L271.9 361.9L271.0 362.4L270.2 363.0L269.4 363.5L268.5 364.1L267.7 364.6L266.9 365.2L266.2 365.6M264.4 366.7L264.3 366.8L263.5 367.3L262.6 367.8L261.7 368.3L260.8 368.8L260.0 369.2L259.1 369.7L258.2 370.1M89.6 400.5L89.0 401.3L88.5 402.2L87.9 403.0L87.4 403.9L86.9 404.7L86.4 405.6L85.9 406.5L85.5 407.4L85.0 408.2L84.5 409.1L84.2 409.7M82.9 412.3L82.7 412.7L82.3 413.6L81.8 414.5L81.4 415.4L81.0 416.3L80.5 417.2L80.1 418.1L79.7 419.0L79.3 419.9L78.9 420.8L78.5 421.7L78.1 422.7L77.7 423.6L77.6 423.8M76.7 426.0L76.5 426.4L76.1 427.3L75.8 428.2L75.4 429.1L75.0 430.1L74.7 431.0L74.3 431.9L74.0 432.9L73.8 433.3M72.9 435.6L72.9 435.7L72.6 436.6L72.2 437.6L71.9 438.5L71.6 439.4M96.8 403.9L96.9 404.9L97.0 405.9L97.2 406.9L97.3 407.9L97.4 408.9L97.5 409.9L97.6 410.9L97.8 411.9L97.9 412.9L98.0 413.9L98.0 413.9M98.2 415.6L98.3 415.9L98.4 416.8L98.6 417.8L98.7 418.8L98.8 419.8L99.0 420.8L99.2 421.8L99.3 422.8L99.5 423.8L99.7 424.7L99.8 425.7L99.9 426.2M100.5 429.0L100.6 429.7L100.8 430.6L101.0 431.6L101.2 432.6L101.5 433.6L101.7 434.5L101.9 435.5L102.1 436.5M293.5 420.7L292.7 420.1L292.0 419.4L291.2 418.8L290.4 418.1L289.7 417.5L288.9 416.9L288.1 416.2L287.4 415.6L286.6 414.9L286.4 414.8M285.2 413.8L285.0 413.7L284.3 413.1L283.5 412.4L282.7 411.8L281.9 411.2L281.1 410.6L280.3 409.9L279.6 409.3L278.8 408.7L278.1 408.2M275.9 406.5L275.6 406.3L274.8 405.7L274.0 405.1L273.2 404.5L272.4 403.9L271.6 403.3L270.8 402.7L269.9 402.1L269.1 401.6L268.3 401.0L267.5 400.4L266.7 399.9L265.8 399.3L265.0 398.8L264.1 398.2L264.0 398.1M261.5 396.6L260.7 396.1L259.9 395.6L259.0 395.2L258.1 394.7M163.7 364.2L164.4 364.1L165.4 364.1L166.4 364.0L167.4 364.0L168.4 364.0L169.4 364.0L170.4 363.9L171.4 363.9L172.4 363.9L173.4 363.9L173.8 364.0M225.8 325.5L226.3 326.4L226.8 327.2L227.3 328.1L227.8 329.0L228.3 329.8L228.6 330.3M229.4 331.8L229.8 332.5L230.2 333.3L230.7 334.2L231.2 335.1L231.6 336.0L232.1 336.9L232.5 337.8L232.6 337.9M233.4 339.7L233.8 340.5L234.2 341.4L234.6 342.3L235.0 343.2L235.5 344.2L235.9 345.1L236.1 345.8M237.3 348.4L237.4 348.7L237.8 349.7L238.2 350.6L238.6 351.5L238.9 352.4L239.3 353.4L239.7 354.3L240.1 355.2L240.3 355.8M241.0 357.6L241.2 358.0L241.6 358.9L242.0 359.9L242.4 360.8M82.5 374.4L81.5 374.1L80.6 373.8L79.6 373.6L78.7 373.3L77.7 373.0L76.8 372.7L75.8 372.4L74.9 372.0L73.9 371.7L73.0 371.4L72.0 371.1L71.1 370.7L70.1 370.4L69.3 370.1M67.0 369.2L66.4 369.0L65.4 368.7L64.5 368.3L63.6 367.9L62.6 367.6L61.7 367.2L60.8 366.9L59.8 366.5L58.9 366.1L58.0 365.8L57.1 365.4L56.4 365.1M54.4 364.3L54.3 364.3L53.4 363.9L52.4 363.5M82.7 405.8L82.1 406.6L81.5 407.4L80.9 408.3L80.3 409.1L79.8 409.9L79.2 410.7L78.7 411.5L78.1 412.4L77.5 413.2L77.4 413.4M76.1 415.4L75.9 415.7L75.4 416.6L74.8 417.4L74.3 418.3L73.8 419.1L73.3 420.0L72.7 420.8L72.2 421.7L71.9 422.2M71.0 423.7L70.7 424.3L70.2 425.1L69.7 426.0L69.2 426.8L68.7 427.7L68.2 428.6L67.7 429.5L67.2 430.3L66.7 431.2L66.3 432.1L65.8 433.0L65.5 433.5M64.4 435.7L63.9 436.5L63.5 437.4M243.8 433.8L244.0 432.8L244.2 431.8L244.3 430.8L244.5 429.8L244.6 428.9L244.7 428.5M245.0 426.4L245.0 425.9L245.2 424.9L245.3 423.9L245.4 422.9L245.5 421.9L245.6 420.9L245.7 419.9L245.8 418.9L245.9 417.9L246.0 416.9L246.1 415.9L246.2 414.9L246.3 414.0L246.3 413.0L246.4 412.0L246.4 411.8M246.6 409.5L246.6 409.0L246.7 408.0L246.7 407.0L246.8 406.0L246.9 405.0L246.9 404.0L247.0 403.0L247.0 402.0L247.0 401.1M102.1 361.7L102.6 360.8L103.1 359.9L103.5 359.1L104.0 358.2L104.5 357.3L105.0 356.4L105.5 355.5L105.9 354.7L106.4 353.8L106.9 352.9L107.4 352.0L107.8 351.2L107.9 351.0M108.8 349.4L108.8 349.4L109.3 348.5L109.8 347.7L110.3 346.8L110.8 345.9L111.3 345.0L111.8 344.2L112.1 343.5M113.5 341.2L113.8 340.7L114.3 339.9L114.9 339.1L115.4 338.2L116.0 337.4L116.5 336.5L117.1 335.7L117.1 335.6M118.6 333.5L118.8 333.2L119.3 332.4L119.9 331.6L120.5 330.8M85.4 360.4L84.9 359.5L84.3 358.7L83.8 357.9L83.2 357.0L82.7 356.2L82.1 355.3L81.6 354.5L81.1 353.6L80.6 352.8L80.0 351.9L79.5 351.1L79.0 350.2L78.5 349.3L78.2 348.8M77.4 347.4L77.0 346.7L76.6 345.9L76.1 345.0L75.6 344.1L75.1 343.2L74.7 342.3L74.2 341.5L73.7 340.6L73.3 339.7L73.1 339.4M72.5 338.1L72.4 337.9L71.9 337.0L71.5 336.1L71.0 335.2L70.6 334.3L70.1 333.4L69.7 332.5L69.3 331.6L68.9 330.7M283.6 331.4L283.1 332.3L282.5 333.1L282.0 333.9L281.4 334.7L280.9 335.6L280.3 336.4L279.7 337.2L279.2 338.0L278.6 338.9L278.0 339.7L277.4 340.5L277.0 341.1M275.3 343.4L275.1 343.7L274.5 344.5L273.9 345.4L273.3 346.2L272.7 347.0L272.1 347.7L271.5 348.5L271.1 349.1M270.2 350.3L269.7 350.9L269.0 351.7L268.4 352.5L267.8 353.3L267.2 354.0L266.5 354.8L265.9 355.6L265.2 356.3L264.6 357.1L263.9 357.9L263.3 358.6L262.6 359.4L262.0 360.1L261.6 360.5M222.5 432.7L222.6 432.5L223.2 431.7L223.8 430.9L224.4 430.1L225.0 429.3L225.5 428.4L226.1 427.6L226.6 426.8L227.2 426.0L227.7 425.1L228.3 424.3L228.8 423.4L229.0 423.1M229.9 421.7L229.9 421.7L230.4 420.9L230.9 420.0L231.4 419.2L231.9 418.3L232.4 417.4L232.9 416.6L233.4 415.7L233.9 414.8L234.4 414.0L234.9 413.1L235.4 412.2L235.6 411.8M237.0 409.4L237.3 408.7L237.8 407.8L238.3 407.0L238.8 406.1L239.3 405.2L239.8 404.4M82.9 364.2L82.1 363.5L81.4 362.8L80.7 362.1L80.0 361.5L79.2 360.8L78.5 360.1L77.9 359.4M76.6 358.2L76.4 357.9L75.7 357.2L75.0 356.5L74.3 355.8L73.6 355.0L73.0 354.3L72.3 353.6L71.6 352.8L70.9 352.1L70.3 351.3L69.6 350.6L68.9 349.9L68.6 349.5M66.7 347.3L66.3 346.8L65.7 346.1L65.0 345.3L64.4 344.6L63.7 343.8L63.1 343.0L62.7 342.6M61.1 340.7L60.5 339.9L59.9 339.2L59.3 338.4L58.7 337.6L58.0 336.8L57.4 336.0L56.8 335.2L56.2 334.4L55.6 333.7L55.0 332.9L54.9 332.8M54.0 331.6L53.8 331.3L53.2 330.5L52.6 329.7L52.0 328.9M84.2 401.4L83.5 402.1L82.8 402.9L82.2 403.6L81.5 404.4L80.8 405.1L80.2 405.9L79.5 406.6L78.9 407.4L78.4 408.0M76.9 409.8L76.4 410.5L75.8 411.3L75.2 412.1L74.5 412.9L73.9 413.7L73.3 414.5L72.7 415.3L72.1 416.1L71.5 416.9L70.9 417.7L70.4 418.5L69.8 419.3L69.4 419.8M67.7 422.3L67.5 422.6L66.9 423.4L66.3 424.2L65.8 425.0L65.2 425.9L64.6 426.7L64.1 427.5L63.5 428.4L63.0 429.2L62.4 430.0L61.9 430.9L61.3 431.7L60.8 432.5L60.3 433.4M293.9 434.1L293.3 433.3L292.6 432.6L292.0 431.8L291.3 431.0L290.7 430.3L290.1 429.5L289.4 428.7L288.8 428.0L288.1 427.2L287.4 426.5L287.1 426.1M285.5 424.3L285.5 424.2L284.8 423.5L284.1 422.7L283.5 422.0L282.8 421.2L282.1 420.5L281.5 419.8L280.8 419.0L280.1 418.3L279.6 417.8M278.4 416.5L278.1 416.1L277.4 415.4L276.7 414.6L276.0 413.9L275.3 413.2L274.6 412.5L273.9 411.8L273.2 411.1L272.5 410.3L271.8 409.6L271.1 408.9L270.4 408.2L270.2 408.1M268.2 406.2L268.2 406.2L267.5 405.5L266.7 404.8L266.0 404.1L265.3 403.4L264.5 402.8L263.8 402.1L263.0 401.5L262.2 400.8L261.5 400.2L260.7 399.5L259.9 398.9L259.3 398.4M100.0 404.0L100.3 405.0L100.7 405.9L101.0 406.9L101.3 407.8L101.7 408.7L102.0 409.7L102.3 410.6L102.7 411.6L103.0 412.5L103.3 413.5L103.7 414.4L104.0 415.4L104.3 416.3L104.4 416.5M105.3 418.8L105.4 419.1L105.7 420.0L106.1 421.0L106.5 421.9L106.8 422.8L107.1 423.5M107.9 425.6L108.0 425.6L108.3 426.5L108.7 427.5L109.1 428.4L109.5 429.3L110.0 430.2L110.4 431.1L110.8 432.0L111.2 432.9L111.7 433.8L112.1 434.7L112.5 435.6M292.2 388.3L291.2 388.2L290.2 388.0L289.2 387.9L288.2 387.8L287.2 387.7L286.2 387.5L285.2 387.4L284.7 387.4M282.3 387.1L282.2 387.1L281.2 386.9L280.2 386.8L279.3 386.7L278.3 386.6L277.3 386.5L276.3 386.4L275.3 386.2L274.3 386.1L273.3 386.0L272.3 385.9L271.3 385.8L270.3 385.7L269.3 385.6L269.0 385.6M266.1 385.3L265.3 385.2L264.3 385.1L263.3 385.0L262.4 384.9M99.4 407.3L99.6 408.3L99.8 409.2L100.1 410.2L100.3 411.2L100.6 412.2L100.8 413.1L101.0 414.1L101.3 415.1L101.5 416.0L101.8 417.0L102.1 418.0L102.1 418.2M102.6 420.0L102.9 420.9L103.1 421.8L103.4 422.8L103.7 423.7L104.0 424.7L104.2 425.3M104.8 427.3L104.9 427.6L105.2 428.5L105.5 429.5L105.8 430.4L106.1 431.4L106.5 432.3L106.6 432.5M107.2 434.3L107.5 435.1L107.9 436.1L108.2 437.0M83.0 377.2L82.3 377.0L81.3 376.9L80.3 376.7L79.4 376.5L78.4 376.3L77.4 376.1L76.4 375.9L75.4 375.7L74.5 375.5L73.5 375.3L72.5 375.1L71.5 374.9L70.6 374.7L69.9 374.5M67.6 374.0L66.7 373.8L65.7 373.5L64.7 373.3L63.7 373.1L62.8 372.8L61.8 372.6L61.6 372.6M59.6 372.1L58.9 371.9L57.9 371.6L56.9 371.4L56.0 371.2L55.0 370.9L54.4 370.7M53.0 370.4L52.1 370.2L51.1 369.9L50.2 369.7M81.5 385.3L80.7 385.3L79.7 385.4L78.7 385.5L77.7 385.6L76.7 385.8L75.7 385.9L74.7 386.0L74.7 386.0M72.1 386.3L71.8 386.4L70.8 386.5L69.8 386.6L68.8 386.7L67.8 386.9L66.8 387.0L66.1 387.1M64.2 387.3L63.8 387.4L62.8 387.5L61.8 387.7L60.8 387.8L59.9 388.0L59.0 388.1M56.3 388.5L55.9 388.5L54.9 388.7L53.9 388.8L52.9 388.9L51.9 389.1L51.0 389.2L50.0 389.4L49.0 389.5M164.6 325.8L164.9 325.7L165.8 325.6L166.8 325.5L167.8 325.4L168.8 325.4L169.8 325.3L170.8 325.3L171.8 325.3L172.8 325.3L173.2 325.3M175.8 325.5L176.8 325.6L177.8 325.7L178.8 325.8L179.8 326.0L180.8 326.1L181.8 326.3L182.8 326.5L183.7 326.7L184.7 326.9L185.7 327.2L186.6 327.5L187.5 327.7M189.3 328.3L189.5 328.3L190.4 328.7L191.4 329.0L192.3 329.4L193.2 329.7L194.2 330.1L195.1 330.5L196.0 331.0L196.9 331.4L197.6 331.7M199.2 332.5L199.6 332.7L200.4 333.2L201.3 333.7L202.2 334.2L203.0 334.7L203.9 335.3L204.7 335.8L205.6 336.3L206.4 336.9L207.2 337.4L208.1 338.0L208.9 338.6L209.3 338.9M210.8 340.0L211.3 340.4L212.1 341.0L212.8 341.6L213.6 342.3L214.4 342.9L215.2 343.5L215.9 344.2L216.7 344.8L217.4 345.5L218.2 346.1L218.9 346.8L219.7 347.5L220.1 347.9M222.1 349.8L222.6 350.2L223.3 350.9L224.0 351.6L224.7 352.3L225.4 353.0L226.2 353.7L226.3 353.9M228.1 355.7L228.3 355.9L229.0 356.6L229.7 357.3L230.4 358.0L231.1 358.7L231.8 359.4M233.4 432.4L233.7 431.8L234.1 430.8L234.5 429.9L234.9 429.0L235.2 428.1L235.6 427.1L236.0 426.2L236.3 425.3M236.9 423.7L237.0 423.4L237.4 422.4L237.7 421.5L238.0 420.6L238.4 419.6L238.7 418.7L239.0 417.7L239.3 416.8L239.7 415.8L240.0 414.9L240.3 413.9L240.6 413.0L240.9 412.0L241.2 411.1L241.5 410.1L241.6 409.7M242.3 407.5L242.4 407.3L242.7 406.3M114.7 362.5L115.2 362.2L116.0 361.6L116.8 361.0L117.6 360.4L118.4 359.8L119.2 359.3L120.0 358.7L120.9 358.1L121.7 357.5L122.5 356.9L122.7 356.8M124.4 355.6L125.0 355.2L125.8 354.7L126.6 354.1L127.5 353.6L128.3 353.0L129.1 352.5L130.0 351.9L130.8 351.4L131.7 350.9L132.5 350.3L133.4 349.8L134.2 349.3L135.1 348.8L136.0 348.3L136.7 347.9M139.2 346.6L139.5 346.4L140.4 346.0L141.3 345.5L142.2 345.1L143.1 344.7L144.0 344.3L144.1 344.2M146.8 343.1L146.8 343.1L147.7 342.7L148.6 342.4L149.6 342.0L150.5 341.7L151.5 341.4L151.6 341.3M153.0 340.9L153.4 340.8L154.3 340.5L155.3 340.2L156.3 340.0L157.2 339.7L158.2 339.5L159.2 339.3L159.7 339.2M161.9 338.8L162.1 338.8L163.1 338.6L164.1 338.5L165.1 338.4L166.1 338.3L167.1 338.2L168.1 338.1L169.1 338.1L169.8 338.1M171.8 338.0L172.1 338.0L173.1 338.1L174.1 338.1L175.1 338.2L176.1 338.2L177.1 338.3L178.1 338.4L179.1 338.5L180.1 338.7L181.1 338.8L182.0 339.0L183.0 339.1L183.2 339.2M185.5 339.7L186.0 339.8L186.9 340.0L187.9 340.3L188.9 340.5L189.8 340.8L190.8 341.1L191.7 341.4L192.7 341.7L193.6 342.1L194.2 342.3M196.8 343.3L197.3 343.5L198.3 343.9L199.2 344.3L200.1 344.8L201.0 345.2L201.9 345.6L202.8 346.1L203.7 346.5L204.6 347.0L205.4 347.4L206.2 347.8M207.7 348.7L208.1 348.9L208.9 349.4L209.8 349.9L210.6 350.4L211.5 351.0L212.3 351.5L213.2 352.0L214.0 352.6L214.9 353.1L215.7 353.7L216.5 354.2L217.4 354.8L218.2 355.3L218.5 355.6M220.3 356.8L220.7 357.0L221.5 357.6L222.3 358.2L223.1 358.8L223.9 359.4L224.7 359.9L225.5 360.5L226.3 361.1L227.2 361.7L228.0 362.3L228.8 362.9L229.6 363.4L230.4 364.0M293.7 392.3L292.8 392.1L291.8 391.9L290.8 391.7L289.8 391.5L288.8 391.3L287.9 391.1L286.9 390.9L285.9 390.7L284.9 390.6L284.6 390.5M282.8 390.1L282.0 390.0L281.0 389.8L280.0 389.6L279.0 389.4L278.1 389.2L277.1 389.0L276.1 388.9L275.1 388.7L274.1 388.5L273.1 388.3L272.1 388.1L271.2 388.0L270.2 387.8L269.2 387.6L268.2 387.5L268.1 387.4M266.0 387.1L265.2 387.0L264.3 386.8L263.3 386.7L262.3 386.5L261.3 386.4L260.3 386.3M102.5 357.5L102.9 356.6L103.2 355.7L103.6 354.8L104.0 353.9L104.4 352.9L104.8 352.0L105.2 351.2M106.2 348.9L106.4 348.4L106.9 347.5L107.3 346.5L107.7 345.6L108.1 344.7L108.5 343.8L109.0 342.9L109.4 342.0L109.8 341.1L110.3 340.2L110.7 339.3L110.8 339.2M111.4 337.9L111.6 337.5L112.1 336.7L112.6 335.8L113.0 334.9L113.5 334.0L114.0 333.1L114.5 332.3L114.6 332.1M100.7 401.1L101.2 402.0L101.7 402.9L102.1 403.7L102.6 404.6L103.1 405.5L103.4 406.2M104.6 408.5L104.9 409.1L105.3 410.0L105.8 410.9L106.2 411.8L106.7 412.7L107.1 413.6L107.6 414.4L108.0 415.3L108.5 416.2L109.0 417.1L109.4 417.9M110.8 420.5L110.9 420.6L111.3 421.5L111.8 422.4L112.3 423.2L112.8 424.1L113.3 425.0L113.8 425.8L114.3 426.7M115.8 429.0L115.9 429.2L116.5 430.1L117.0 430.9L117.6 431.8L118.1 432.6L118.7 433.4L119.3 434.2L119.5 434.5M292.6 353.3L291.8 353.9L290.9 354.4L290.1 354.9L289.2 355.4L288.4 356.0L287.5 356.5L286.7 357.0L286.4 357.2M284.7 358.2L284.1 358.6L283.3 359.1L282.4 359.6L281.5 360.1L280.7 360.6L279.8 361.1L279.0 361.6L278.3 362.0M275.8 363.4L275.5 363.6L274.6 364.1L273.7 364.6L272.9 365.1L272.0 365.5L271.1 366.0L270.2 366.5L269.3 366.9L268.4 367.4L267.9 367.7M265.5 368.9L264.9 369.2L264.0 369.6L263.1 370.0L262.1 370.4L261.2 370.8L260.3 371.2M94.8 358.4L94.7 357.4L94.7 356.4L94.7 355.4L94.6 354.4L94.6 353.4L94.6 352.4L94.6 351.4L94.6 350.4L94.6 349.4L94.6 348.4L94.6 347.4L94.6 347.2M94.6 344.2L94.6 343.4L94.6 342.4L94.7 341.4L94.7 340.4L94.7 339.4L94.8 338.4L94.8 337.4L94.9 336.4L94.9 335.4L95.0 334.4L95.0 333.4L95.1 332.4L95.2 331.4L95.3 330.4L95.3 330.3M269.7 332.4L269.7 332.5L269.3 333.4L268.9 334.4L268.5 335.3L268.1 336.2L267.7 337.1L267.3 338.1L266.9 339.0L266.5 339.9L266.1 340.8L265.7 341.7L265.3 342.6L264.9 343.5L264.5 344.4L264.3 344.8M263.1 347.2L262.7 348.0L262.3 348.9L261.9 349.8L261.4 350.7L260.9 351.6L260.5 352.5L260.0 353.4L259.5 354.3L259.1 355.2L258.7 355.9M257.9 357.2L257.6 357.8L257.1 358.6L256.6 359.5L256.1 360.3L255.5 361.2M264.3 327.5L264.1 328.5L263.9 329.4L263.6 330.4L263.4 331.4L263.1 332.4L262.9 333.3L262.8 333.7M262.3 335.5L262.1 336.2L261.8 337.2L261.5 338.1L261.2 339.1L260.9 340.0L260.7 340.8M260.1 342.6L260.0 342.9L259.7 343.9L259.4 344.8L259.1 345.8L258.8 346.7L258.4 347.7L258.1 348.6L257.8 349.5L257.4 350.5L257.1 351.4L256.8 352.4L256.4 353.3L256.0 354.2L255.7 355.2L255.6 355.3M254.9 357.0L254.9 357.0L254.5 357.9L254.2 358.9L253.8 359.8L253.3 360.7L252.9 361.6L252.5 362.5L252.0 363.4L251.6 364.3M295.6 357.3L294.8 357.7L293.9 358.2L293.0 358.6L292.1 359.1L291.2 359.5L290.3 360.0L289.4 360.4L288.5 360.8L287.6 361.3L286.7 361.7L285.8 362.2L284.9 362.6L284.0 363.0L283.2 363.4M280.8 364.6L280.4 364.7L279.5 365.2L278.6 365.6L277.7 366.0L276.7 366.4L275.8 366.8L275.3 367.1M272.6 368.3L272.2 368.4L271.3 368.8L270.3 369.2L269.4 369.6L268.5 370.0L267.6 370.4L266.6 370.8L265.7 371.1L264.8 371.5L263.8 371.8L262.9 372.2L262.6 372.3M232.4 327.8L232.8 328.7L233.2 329.6L233.6 330.5L234.0 331.4L234.4 332.3L234.8 333.3L235.2 334.2L235.5 335.1L235.9 336.1L236.2 337.0L236.6 337.9L236.9 338.9L236.9 338.9M237.8 341.3L237.9 341.7L238.2 342.7L238.6 343.6L238.9 344.5L239.2 345.5L239.5 346.5L239.8 347.4L239.9 347.8M240.4 349.2L240.4 349.3L240.7 350.3L241.0 351.2L241.3 352.2L241.6 353.1L241.8 354.1L242.1 355.1L242.4 356.0L242.7 357.0L243.0 357.9L243.3 358.9L243.4 359.5M238.9 332.8L239.1 333.5L239.3 334.5L239.6 335.4L239.9 336.4L240.1 337.4L240.4 338.3L240.5 338.8M241.1 341.2L241.4 342.2L241.6 343.2L241.8 344.1L242.0 345.1L242.3 346.1L242.5 347.1L242.7 348.1L242.9 349.0L243.1 350.0L243.3 351.0L243.5 352.0L243.7 353.0L243.7 353.2M244.2 355.4L244.3 355.9L244.5 356.9L244.6 357.9L244.8 358.8L245.0 359.8L245.2 360.8M105.3 406.2L105.9 407.0L106.4 407.9L106.9 408.7L107.4 409.6L108.0 410.4L108.5 411.3L109.0 412.1L109.5 413.0L109.6 413.0M110.6 414.6L110.6 414.7L111.1 415.5L111.7 416.4L112.2 417.2L112.8 418.0L113.3 418.9L113.9 419.7L114.4 420.5L115.0 421.4L115.5 422.2L115.7 422.4M116.9 424.2L117.3 424.7L117.9 425.5L118.5 426.3L119.0 427.1L119.7 427.9L120.3 428.7L120.6 429.1M122.2 431.1L122.8 431.8L123.4 432.5L124.1 433.3L124.7 434.1L125.4 434.8L125.8 435.3M127.0 436.6L127.4 437.0L128.1 437.7L128.8 438.4M223.2 439.7L223.8 438.9L224.3 438.0L224.9 437.2L225.4 436.4L226.0 435.5L226.5 434.7L227.0 433.8L227.5 433.0L228.0 432.1L228.5 431.2L229.0 430.4L229.5 429.5L230.0 428.6L230.1 428.5M231.3 426.3L231.4 426.0L231.9 425.1L232.3 424.2L232.8 423.3L233.2 422.4L233.7 421.5L234.1 420.6L234.6 419.7L235.0 418.8L235.2 418.4M235.9 416.9L236.2 416.1L236.7 415.2L237.1 414.3L237.5 413.3L237.9 412.4L238.3 411.5L238.7 410.6L239.1 409.7L239.5 408.8L239.9 407.9L240.3 406.9L240.7 406.0M94.9 401.9L94.8 402.9L94.7 403.9L94.7 404.9L94.6 405.9L94.6 406.9L94.5 407.9L94.5 408.9L94.5 409.9L94.4 410.9L94.4 411.9L94.4 412.4M94.3 414.9L94.3 414.9L94.3 415.9L94.3 416.9L94.3 417.9L94.3 418.9L94.3 419.9L94.3 420.9L94.3 421.9L94.3 421.9M94.4 424.7L94.4 424.9L94.4 425.9L94.5 426.9L94.5 427.9L94.6 428.9L94.6 429.9L94.7 430.9L94.7 431.9L94.8 432.9L94.9 433.9L95.0 434.9L95.0 435.7M95.3 438.4L95.3 438.9L95.4 439.9M249.9 327.5L250.0 328.5L250.0 329.5L250.0 330.5L250.1 331.5L250.1 332.5L250.1 333.5L250.1 334.5L250.1 335.5L250.1 335.7M250.1 338.3L250.1 338.5L250.1 339.5L250.1 340.5L250.1 341.5L250.1 342.5L250.0 343.5L250.0 344.2M249.9 346.6L249.9 347.5L249.8 348.5L249.8 349.5L249.7 350.5L249.6 351.5L249.6 352.5L249.5 353.5L249.4 354.5L249.3 355.5L249.3 356.5L249.2 357.5L249.1 358.5L249.0 359.5M287.9 382.9L287.0 382.9L286.0 382.9L285.0 382.9L284.0 382.9L283.0 382.9L282.0 382.8L281.0 382.8L280.0 382.8L279.0 382.8L278.0 382.8L277.0 382.8L276.1 382.8M274.1 382.7L274.0 382.7L273.0 382.7L272.0 382.7L271.0 382.7L270.0 382.7L269.0 382.7L268.0 382.6L267.0 382.6L266.0 382.6L265.0 382.6L264.0 382.6L263.9 382.6M262.2 382.6L262.0 382.6L261.0 382.5L260.0 382.5L259.0 382.5M79.8 368.9L79.3 368.6L78.5 368.2L77.6 367.7L76.7 367.2L75.8 366.7L75.0 366.3L74.1 365.8L73.2 365.3L72.4 364.7L71.5 364.2L70.6 363.7L69.8 363.2L68.9 362.7L68.1 362.2L67.2 361.6L66.9 361.4M65.7 360.6L65.5 360.6L64.7 360.0L63.9 359.5L63.0 358.9L62.2 358.4L61.3 357.8L60.5 357.3L60.4 357.2M58.6 356.1L58.0 355.6L57.2 355.1L56.4 354.5L55.5 354.0L54.7 353.4L53.9 352.8L53.1 352.3L52.2 351.7L51.4 351.1L50.6 350.5L49.8 350.0L49.6 349.9M80.5 389.9L80.0 390.0L79.1 390.2L78.1 390.5L77.2 390.8L76.2 391.1L75.2 391.3L74.3 391.6L73.3 391.9L72.4 392.2L71.4 392.5L70.5 392.8L69.5 393.1L68.6 393.5L67.6 393.8L67.6 393.8M64.9 394.7L64.8 394.7L63.8 395.1L62.9 395.4L61.9 395.7L61.0 396.1L60.1 396.4L59.1 396.7L58.2 397.1L57.2 397.4L56.3 397.8L55.9 397.9M54.3 398.5L53.5 398.8L52.5 399.1M105.5 403.2L106.1 404.0L106.7 404.8L107.3 405.6L107.9 406.4L108.5 407.2L109.1 408.0L109.7 408.8L110.3 409.6L110.9 410.4L111.5 411.2L112.1 412.0L112.4 412.4M113.5 413.9L113.9 414.4L114.5 415.2L115.1 416.0L115.7 416.8L116.3 417.6L117.0 418.4L117.6 419.1L118.2 419.9L118.7 420.5M119.6 421.6L120.1 422.2L120.8 423.0L121.4 423.7L122.1 424.5L122.8 425.2L123.4 426.0L124.1 426.7L124.8 427.4L125.5 428.1L126.2 428.9L126.9 429.6L127.6 430.3L128.3 431.0L128.4 431.1M129.9 432.4L130.5 433.0L131.3 433.7L132.0 434.3L132.8 435.0L133.6 435.6M131.0 401.2L132.0 401.6L132.9 402.0L133.8 402.3L134.8 402.7L135.7 403.0L136.6 403.4L137.6 403.7L138.3 403.9M140.1 404.6L140.4 404.7L141.4 405.0L142.3 405.3L143.3 405.6L144.2 405.9L145.2 406.2L146.1 406.5L147.1 406.7L148.1 407.0L149.0 407.2L149.3 407.3M152.2 408.0L152.9 408.2L153.9 408.4L154.9 408.6L155.9 408.7L156.9 408.9L157.8 409.1L158.8 409.2L159.8 409.4L160.3 409.4M161.7 409.6L161.8 409.6L162.8 409.7L163.8 409.8L164.8 409.9L165.8 410.0L166.8 410.1L167.8 410.1L168.8 410.2L169.8 410.2L170.8 410.2L171.8 410.2L172.0 410.2M174.6 410.1L174.8 410.1L175.8 410.1L176.8 410.0L177.8 410.0L178.8 409.9L179.8 409.8L180.8 409.7L181.5 409.6M184.0 409.3L184.7 409.2L185.7 409.0L186.7 408.8L187.7 408.6L188.7 408.4L189.6 408.2L190.6 408.0L191.2 407.9M193.6 407.3L194.5 407.1L195.5 406.8L196.4 406.6L197.4 406.3L198.4 406.0L199.3 405.7L200.3 405.4L201.2 405.1L202.2 404.8L203.1 404.5L204.1 404.2L205.0 403.8L206.0 403.5L206.3 403.4M244.1 327.2L244.3 328.2L244.4 329.2L244.6 330.1L244.7 331.1L244.9 332.1L245.0 333.1L245.2 334.1L245.3 335.1L245.3 335.3M245.5 336.8L245.5 337.1L245.7 338.1L245.8 339.1L245.9 340.1L246.0 341.1L246.1 342.1L246.1 342.8M246.3 344.7L246.3 345.0L246.4 346.0L246.5 347.0L246.6 348.0L246.6 349.0L246.7 350.0L246.8 351.0L246.8 352.0L246.9 353.0L246.9 353.3M247.0 356.0L247.0 357.0L247.1 358.0L247.1 359.0L247.1 360.0M222.8 330.5L223.4 331.3L224.0 332.1L224.6 333.0L225.1 333.8L225.7 334.6L226.2 335.4L226.8 336.3L227.3 337.1L227.9 338.0L228.3 338.6M229.0 339.9L229.4 340.5L230.0 341.4L230.5 342.2L231.0 343.1L231.5 344.0L232.0 344.8L232.5 345.7L232.8 346.3M233.6 347.8L233.9 348.3L234.4 349.2L234.9 350.1L235.3 351.0L235.8 351.9L236.3 352.7L236.7 353.6L237.0 354.0M238.2 356.4L238.6 357.2L239.1 358.0M289.7 412.1L289.6 412.0L288.8 411.4L288.0 410.9L287.1 410.3L286.3 409.7L285.5 409.2L284.6 408.6L283.8 408.1L283.0 407.5L282.1 407.0L281.3 406.4L280.7 406.0M279.3 405.1L278.8 404.8L278.0 404.2L277.1 403.7L276.3 403.2L275.4 402.6L274.6 402.1L273.7 401.6L272.9 401.1L272.0 400.5L271.2 400.0L270.3 399.5L269.4 399.0L268.6 398.5L267.7 398.0L267.3 397.8M265.3 396.7L265.1 396.5L264.2 396.1L263.3 395.6L262.4 395.2L261.5 394.7L260.6 394.3L259.7 393.9L258.8 393.5L257.9 393.1L256.9 392.7M269.4 435.6L269.1 434.7L268.7 433.7L268.4 432.8L268.0 431.8L267.7 430.9L267.3 430.0L267.0 429.0L266.6 428.1L266.2 427.2L265.9 426.2L265.5 425.3L265.1 424.4L265.1 424.3M264.2 422.3L264.0 421.6L263.6 420.7L263.2 419.8L262.8 418.9L262.4 418.0L262.0 417.0L261.5 416.1L261.1 415.2L260.7 414.3L260.3 413.4L259.8 412.5L259.8 412.5M259.0 410.8L259.0 410.7L258.5 409.8L258.1 408.9L257.6 408.0L257.1 407.2L256.7 406.3M93.8 361.2L93.7 360.2L93.6 359.2L93.4 358.2L93.3 357.2L93.2 356.2L93.2 356.0M93.0 354.3L93.0 354.2L92.9 353.2L92.8 352.2L92.7 351.2L92.6 350.2L92.5 349.2L92.4 348.2L92.3 347.2L92.3 346.2L92.2 345.2L92.1 344.2L92.1 343.5M92.0 341.3L92.0 341.2L91.9 340.2L91.9 339.2L91.9 338.2L91.8 337.2L91.8 336.3L91.8 335.3L91.8 334.3L91.7 333.3L91.7 332.3L91.7 331.3L91.7 330.3L91.8 329.3L91.8 328.3L91.8 327.3M259.9 431.8L259.8 431.5L259.6 430.5L259.4 429.5L259.2 428.6L259.0 427.6L258.8 426.6L258.6 425.6L258.3 424.7L258.1 423.7L257.9 422.7L257.6 421.7L257.4 420.8L257.1 419.8L256.9 418.8L256.6 417.9L256.6 417.9M256.2 416.2L256.1 415.9L255.8 415.0L255.6 414.0L255.3 413.1L255.0 412.1L254.7 411.2L254.4 410.2L254.1 409.2L253.8 408.3L253.7 407.9M253.1 406.3L252.8 405.5L252.5 404.5L252.1 403.6L251.8 402.6L251.4 401.7M104.1 360.9L104.7 360.0L105.2 359.2L105.8 358.4L106.3 357.5L106.8 356.7L107.4 355.8L107.9 355.0L108.5 354.2L109.0 353.3L109.6 352.5L110.1 351.6L110.6 350.8L111.2 350.0M112.5 348.0L112.9 347.5L113.4 346.6L114.0 345.8L114.5 345.0L115.1 344.2L115.7 343.4L116.3 342.5L116.9 341.7L117.5 340.9L118.1 340.1L118.7 339.3L119.3 338.5L119.9 337.7L120.5 337.0L121.1 336.2M122.3 334.8L122.4 334.6L123.0 333.9L123.7 333.1L124.4 332.4L125.0 331.6L125.7 330.9L126.4 330.1L127.1 329.4L127.8 328.7L128.5 328.0L129.2 327.3M289.6 395.3L288.6 395.0L287.7 394.7L286.7 394.5L285.8 394.2L284.8 393.9L283.8 393.6L283.3 393.5M281.5 393.0L280.9 392.8L280.0 392.6L279.0 392.3L278.0 392.1L277.1 391.8L276.1 391.5L275.1 391.3L274.2 391.0L273.2 390.8L272.2 390.5L271.3 390.3L270.3 390.1M268.9 389.7L268.4 389.6L267.4 389.4L266.4 389.1L265.4 388.9L264.5 388.7L263.5 388.5L262.5 388.3M247.1 438.4L247.3 437.4L247.4 436.4L247.5 435.4L247.5 434.4L247.6 433.4L247.7 432.4L247.8 431.4L247.8 430.6M248.0 428.3L248.0 427.4L248.1 426.4L248.1 425.4L248.2 424.4L248.2 423.4L248.3 422.4L248.3 421.4L248.3 420.4L248.3 419.4L248.3 418.4L248.3 417.4L248.4 416.4L248.4 416.2M248.3 413.3L248.3 412.4L248.3 411.4L248.3 410.4L248.3 409.4L248.2 408.4L248.2 407.4L248.2 406.4L248.2 406.0M248.1 404.4L248.1 404.4L248.1 403.4M76.6 402.7L75.8 403.3L75.0 404.0L74.3 404.6L73.5 405.3L72.7 405.9L72.0 406.6L71.2 407.2L70.5 407.9L69.7 408.6L69.0 409.2L68.3 409.9L67.5 410.6L66.8 411.3L66.1 411.9L65.3 412.6M63.3 414.5L63.2 414.7L62.4 415.4L61.7 416.1L61.0 416.8L60.3 417.5L59.6 418.2L59.5 418.2M58.4 419.4L58.1 419.6L57.4 420.3L56.7 421.0L56.0 421.7L55.3 422.4L54.6 423.1L53.9 423.9L53.2 424.6L52.5 425.3L51.9 426.0L51.5 426.4M50.2 427.7L49.8 428.2L49.1 428.9L48.4 429.6" fill="none" stroke="#575757" stroke-width="0.75" stroke-linecap="round"/><path d="M168.8 512.1L168.8 512.0L168.6 511.0L168.4 510.1L168.3 509.1L168.1 508.1L167.9 507.1L167.7 506.1L167.6 505.1L167.4 504.1L167.2 503.2L167.1 502.2L166.9 501.2L166.8 500.8M166.3 497.9L166.2 497.2L166.1 496.3L165.9 495.3L165.7 494.3L165.6 493.3L165.4 492.3L165.3 491.3L165.1 490.3L164.9 489.4L164.8 488.4L164.7 488.1M164.5 486.7L164.5 486.4L164.3 485.4L164.1 484.4L164.0 483.4L163.8 482.4M186.3 515.3L186.3 514.6L186.3 513.6L186.3 512.6L186.3 511.6L186.3 510.6L186.4 509.6L186.4 508.6L186.4 507.9M186.4 506.4L186.5 505.6L186.5 504.6L186.5 503.6L186.6 502.6L186.6 501.6L186.7 500.6L186.8 499.6L186.8 498.6L186.9 497.6L187.0 496.6L187.0 495.6L187.1 494.6L187.1 494.5M187.2 492.8L187.3 492.6L187.3 491.6L187.4 490.6L187.5 489.6L187.6 488.6L187.7 487.6L187.8 486.6L187.9 485.7L188.0 484.7L188.1 483.7L188.3 482.7M217.8 557.9L218.3 558.8L218.8 559.7L219.2 560.6L219.7 561.5L220.1 562.4L220.6 563.3L221.0 564.2L221.4 565.1L221.7 566.0L221.9 566.6M222.5 568.1L222.7 568.9L223.0 569.8L223.2 570.8L223.5 571.8L223.7 572.7L223.9 573.7L224.0 574.7M224.3 577.3L224.3 577.7L224.3 578.7L224.3 579.7L224.3 580.7L224.3 581.7L224.2 582.7L224.1 583.7L223.9 584.7L223.8 585.7L223.6 586.6L223.3 587.6L223.1 588.6L222.8 589.5L222.5 590.5L222.5 590.6M221.7 592.8L221.5 593.3L221.1 594.2L220.7 595.2L220.3 596.1L219.9 597.0M217.4 532.7L218.2 532.1L219.0 531.5L219.8 530.9L220.7 530.4L221.5 529.9L222.4 529.4L223.3 528.9L224.2 528.5L225.1 528.0L225.6 527.8M227.9 526.7L228.7 526.3L229.6 526.0L230.5 525.6L231.5 525.2L232.4 524.9L233.4 524.5L234.3 524.2L234.5 524.1M237.2 523.3L238.1 523.0L239.1 522.8L240.1 522.5L241.0 522.3L242.0 522.0L242.8 521.9M245.4 521.3L245.9 521.2L246.9 521.0L247.9 520.9L248.9 520.7L249.9 520.6L250.8 520.4L251.8 520.3L252.8 520.2L253.8 520.1L254.8 520.0L255.8 519.9L256.8 519.8L256.9 519.8M258.5 519.8L258.8 519.7L259.8 519.7L260.8 519.7L261.8 519.7L262.8 519.7L263.8 519.7L264.8 519.7L265.8 519.7L266.8 519.8L267.8 519.8L268.8 519.9L269.8 520.0L270.8 520.1L270.9 520.1M273.3 520.3L273.8 520.4L274.8 520.5L275.8 520.7L276.7 520.8L277.7 521.0L278.7 521.2L279.7 521.4L280.7 521.6L281.7 521.8L282.6 522.0L283.6 522.3L284.6 522.5L285.5 522.8L286.5 523.1L286.7 523.1M289.2 523.9L289.4 524.0M134.9 686.4L135.3 685.5L135.7 684.6L136.1 683.7L136.5 682.8L136.9 681.9L137.3 680.9L137.7 680.0L138.1 679.1L138.4 678.2L138.8 677.2L139.2 676.3L139.6 675.4L139.7 675.2M140.5 673.2L140.7 672.6L141.1 671.7L141.5 670.8L141.8 669.8L142.2 668.9L142.6 668.0L142.9 667.0L143.3 666.1L143.6 665.2L144.0 664.2L144.3 663.3L144.7 662.4L144.8 662.0M145.7 659.6L145.7 659.5L146.1 658.6L146.4 657.7L146.7 656.7L147.1 655.8L147.4 654.8L147.7 653.9L148.1 652.9L148.4 652.0L148.6 651.5M149.2 649.6L149.3 649.2L149.7 648.2L150.0 647.3L150.3 646.3L150.6 645.4L150.8 644.6M151.3 643.1L151.5 642.5L151.8 641.5L152.1 640.6L152.4 639.6M258.6 671.8L258.4 671.7L257.5 671.2L256.6 670.7L255.7 670.3L254.9 669.8L254.0 669.3L253.1 668.8L252.2 668.3L251.4 667.8L250.5 667.3L249.6 666.8L248.8 666.3L247.9 665.8L247.1 665.3L246.8 665.1M244.7 663.8L244.5 663.7L243.7 663.1L242.9 662.6L242.0 662.0L241.2 661.4L240.4 660.9L239.6 660.3L238.8 659.7L238.0 659.1L237.1 658.5L236.3 657.9L235.5 657.3L234.8 656.7L234.0 656.1L233.4 655.7M231.7 654.3L231.6 654.2L230.9 653.6L230.1 652.9L229.3 652.3L228.6 651.6L227.8 651.0L227.1 650.3L226.4 649.6L225.9 649.1M223.8 647.2L223.5 646.8L222.8 646.1L222.1 645.4L221.4 644.7L220.7 643.9L220.1 643.2L219.4 642.5L219.3 642.4M218.0 640.8L217.5 640.2L216.9 639.4L216.3 638.6M220.7 538.1L221.7 538.1L222.7 538.1L223.7 538.0L224.7 538.0L225.7 538.0L226.7 538.0L227.7 538.1L228.7 538.1L229.7 538.2L230.7 538.2L231.7 538.3L232.2 538.4M235.1 538.7L235.6 538.8L236.6 539.0L237.6 539.1L238.6 539.3L239.6 539.5L240.5 539.8L240.6 539.8M242.9 540.3L243.5 540.5L244.4 540.8L245.4 541.1L246.3 541.4L247.3 541.7L248.2 542.1L249.1 542.4L249.6 542.6M251.5 543.4L251.9 543.6L252.8 544.0L253.7 544.5L254.6 544.9L255.5 545.4L256.3 545.9L257.2 546.4L258.0 546.9L258.9 547.5L259.7 548.0L260.5 548.6L261.3 549.2L262.1 549.8L262.9 550.4L263.7 551.1L263.8 551.2M265.7 552.9L265.9 553.1L266.6 553.8L267.3 554.6L267.9 555.3L268.6 556.1L269.2 556.8L269.8 557.6L270.4 558.4L271.0 559.3L271.0 559.3M272.3 561.3L272.6 561.8L273.1 562.7L273.5 563.6L274.0 564.5L274.4 565.4L274.8 566.3L275.1 567.2L275.5 568.2L275.8 569.1L276.0 570.1L276.3 571.0L276.5 572.0L276.7 573.0L276.9 573.7M277.1 575.8L277.2 576.0L277.2 577.0L277.3 578.0L277.3 579.0L277.3 580.0L277.3 581.0L277.2 582.0L277.1 583.0L277.0 583.9L276.9 584.9L276.7 585.9L276.5 586.9L276.3 587.9L276.0 588.8L275.8 589.6M275.1 591.7L274.7 592.6L274.3 593.5L273.9 594.4L273.5 595.3L273.0 596.2L273.0 596.3M271.9 598.1L271.5 598.8L270.9 599.6L270.3 600.5L269.7 601.3L269.1 602.1L268.5 602.8L267.8 603.6L267.2 604.3L266.5 605.1L265.8 605.8L265.7 605.9M264.2 607.3L263.6 607.8L262.8 608.4L262.0 609.1L261.2 609.7L260.4 610.3L259.6 610.8L258.8 611.4L257.9 611.9L257.1 612.5L256.2 613.0L255.8 613.2M253.3 614.6L252.7 614.8L251.8 615.3L250.9 615.7L250.0 616.1L249.0 616.4L248.1 616.8L247.2 617.1L246.2 617.5L245.3 617.8L244.3 618.1L243.3 618.3L243.0 618.4M241.6 618.8L241.4 618.8L240.4 619.1L239.5 619.3L238.5 619.5L237.5 619.7L236.5 619.8L235.5 620.0L234.9 620.1M233.3 620.3L232.5 620.4L231.5 620.5L230.6 620.6L229.6 620.6L228.6 620.7L227.6 620.7L227.4 620.7M225.6 620.8L225.6 620.8L224.6 620.8L223.6 620.8L222.6 620.7M170.6 688.6L170.7 687.6L170.7 686.6L170.8 685.6L170.9 684.6L171.0 683.6L171.0 683.4M171.1 681.9L171.1 681.7L171.2 680.7L171.3 679.7L171.3 678.7L171.4 677.7L171.5 676.7L171.6 675.7L171.6 674.7L171.7 673.7L171.8 672.7L171.9 671.7L171.9 671.6M172.2 668.7L172.2 667.7L172.3 666.7L172.4 665.7L172.5 664.7L172.6 663.7L172.7 662.7L172.8 661.7L172.9 660.7L173.0 659.7L173.1 658.7L173.2 657.7L173.3 657.0M173.5 654.6L173.6 653.8L173.8 652.8L173.9 651.8L174.0 650.8L174.1 649.8L174.2 648.8L174.3 647.9M174.6 645.6L174.7 644.8L174.9 643.8L175.0 642.9L175.1 641.9L175.3 640.9L175.4 639.9M220.9 534.9L221.8 534.6L222.8 534.3L223.7 534.1L224.7 533.8L225.7 533.6L226.1 533.5M228.2 533.1L228.6 533.0L229.6 532.8L230.6 532.7L231.6 532.5L232.6 532.4L233.6 532.3L234.6 532.2L235.6 532.1L236.6 532.0L236.6 532.0M239.5 531.9L239.6 531.9L240.6 531.9L241.6 531.8L242.6 531.9L243.6 531.9L244.6 531.9L245.6 532.0L246.6 532.0L247.5 532.1L248.5 532.2L249.5 532.3L250.5 532.4L251.5 532.5L252.5 532.7L252.7 532.7M254.9 533.1L255.5 533.2L256.4 533.4L257.4 533.6L258.4 533.9L259.4 534.1L260.3 534.4L261.3 534.6L262.2 534.9L263.2 535.2L263.8 535.4M266.0 536.2L266.0 536.2L267.0 536.6L267.9 537.0L268.8 537.4L269.7 537.8L270.6 538.2L271.5 538.6L272.4 539.1L273.3 539.6L274.2 540.1L275.0 540.6L275.9 541.1L276.7 541.6L277.6 542.1L278.4 542.7L279.0 543.1M281.1 544.7L281.6 545.1L282.4 545.7L283.1 546.4L283.9 547.0L284.6 547.7L285.4 548.4L285.5 548.5M287.4 550.5L287.4 550.6L288.1 551.3L288.7 552.1L289.4 552.9L290.0 553.7L290.6 554.5L291.2 555.3L291.5 555.8M292.4 557.2L292.8 557.8L293.3 558.7L293.8 559.5L294.3 560.4L294.7 561.3L295.0 562.0M296.0 564.2L296.3 565.0L296.6 565.9L296.9 566.9L297.2 567.8L297.5 568.8L297.7 569.8L298.0 570.7L298.2 571.7L298.3 572.7L298.5 573.7L298.6 574.7L298.7 575.7L298.8 576.7L298.8 576.8M298.9 579.2L298.9 579.7L298.9 580.7L298.8 581.7L298.8 582.7L298.7 583.7L298.6 584.6L298.4 585.6L298.3 586.6L298.1 587.6L297.9 588.6L297.6 589.6L297.4 590.5L297.1 591.5L297.1 591.5M296.1 594.2L296.1 594.3L295.7 595.2L295.3 596.2L294.9 597.1L294.5 598.0L294.0 598.9L293.5 599.7L293.0 600.6L292.5 601.5L292.1 602.1M291.2 603.5L290.9 604.0L290.3 604.8L289.7 605.6L289.0 606.3L288.4 607.1L287.7 607.9L287.1 608.6L286.4 609.3L285.7 610.1L285.0 610.8L284.2 611.4L283.5 612.1L282.8 612.7M280.9 614.3L280.4 614.6L279.6 615.2L278.8 615.8L278.0 616.4L277.1 616.9L276.3 617.5L275.4 618.0L274.6 618.5L273.7 619.0L272.8 619.5L272.7 619.5M271.0 620.4L270.1 620.8L269.2 621.2L268.3 621.6L267.4 622.0L266.5 622.4L265.5 622.7L264.6 623.1L263.6 623.4L262.7 623.7L261.7 624.0L261.5 624.1M259.4 624.7L258.9 624.8L257.9 625.1L256.9 625.3L255.9 625.5L255.0 625.7L254.0 625.9L253.0 626.0L252.0 626.2L251.0 626.3L250.0 626.5L249.0 626.6L248.0 626.7L247.0 626.7L246.0 626.8L245.6 626.8M242.6 626.9L242.0 627.0L241.0 627.0L240.0 626.9L239.0 626.9L238.0 626.9L237.0 626.8L236.0 626.8L235.0 626.7L234.0 626.6L233.0 626.5L232.1 626.3L231.1 626.2L230.3 626.1M228.7 625.8L228.1 625.7L227.1 625.5L226.1 625.3L225.2 625.1L224.2 624.9L223.2 624.6L222.3 624.3L221.3 624.1L220.4 623.8L219.4 623.4L218.8 623.2M121.3 559.6L121.0 560.6L120.8 561.6L120.5 562.5L120.3 563.5L120.1 564.5L119.8 565.5L119.7 566.3M119.3 568.3L119.2 568.4L119.1 569.4L118.9 570.4L118.8 571.4L118.6 572.4L118.5 573.3L118.4 574.3L118.4 575.3L118.3 576.3L118.2 577.3L118.2 578.3L118.2 579.3L118.2 580.3L118.2 581.3L118.2 581.4M118.4 584.3L118.4 584.3L118.5 585.3L118.6 586.3L118.8 587.3L118.9 588.3L119.1 589.3L119.2 590.3L119.4 591.3L119.6 592.2L119.8 593.2L120.0 594.2L120.2 595.1M120.8 597.2L121.0 598.1M194.3 515.5L194.3 515.5L194.4 514.5L194.5 513.5L194.6 512.5L194.8 511.5L194.9 510.5L195.1 509.5L195.2 508.8M195.5 506.6L195.5 506.6L195.7 505.6L195.9 504.6L196.0 503.6L196.2 502.6L196.4 501.6L196.6 500.7L196.8 499.7L197.0 498.7L197.2 497.7L197.4 497.1M197.7 495.7L197.9 494.8L198.1 493.8L198.4 492.8L198.6 491.9L198.9 490.9L199.1 489.9L199.4 489.0L199.6 488.0L199.9 487.0L200.1 486.1L200.4 485.1L200.7 484.1L200.9 483.2M201.7 480.6L201.8 480.3L202.1 479.3L202.4 478.4L202.7 477.4M208.3 560.5L208.5 561.5L208.8 562.4L209.0 563.4L209.3 564.4L209.5 565.3L209.7 566.3L209.9 567.3L210.1 568.3L210.3 569.3L210.5 570.3L210.6 571.2L210.8 572.2L210.9 573.2L210.9 573.8M211.1 576.2L211.2 577.2L211.2 578.2L211.2 579.2L211.2 580.2L211.2 581.2L211.2 582.0M211.0 584.1L211.0 584.2L210.9 585.2L210.8 586.2L210.7 587.2L210.5 588.2L210.4 589.2L210.2 590.1L210.0 591.1L209.8 592.1L209.6 593.1L209.3 594.1L209.1 595.0M94.4 682.9L95.2 682.2L95.9 681.6L96.6 680.9L97.4 680.2L98.1 679.5L98.8 678.8L99.5 678.1L100.3 677.4L101.0 676.7L101.1 676.5M102.2 675.5L102.4 675.3L103.1 674.6L103.8 673.8L104.4 673.1L105.1 672.4L105.8 671.7L106.5 670.9L107.2 670.2L107.8 669.4L108.5 668.7L109.1 667.9L109.8 667.2L110.4 666.4L111.1 665.6L111.3 665.4M112.8 663.5L113.0 663.3L113.6 662.5L114.2 661.7L114.8 660.9L115.4 660.1L116.0 659.3L116.6 658.5L117.2 657.7L117.3 657.5M118.5 655.8L118.9 655.2L119.4 654.4L120.0 653.6L120.5 652.7L121.1 651.9L121.6 651.0L122.1 650.2L122.6 649.3L123.1 648.5L123.6 647.6L124.1 646.7L124.6 645.8L124.8 645.5M125.6 643.9L126.0 643.2L126.4 642.3L126.8 641.4M166.0 517.2L165.8 516.2L165.6 515.3L165.4 514.3L165.2 513.3L165.0 512.3L164.8 511.3L164.8 511.3M164.2 508.5L164.1 508.4L163.9 507.4L163.7 506.5L163.5 505.5L163.3 504.5L163.1 503.5L162.9 502.5L162.7 501.6L162.5 500.6L162.3 499.7M161.8 497.5L161.7 496.7L161.5 495.7L161.2 494.7L161.0 493.7L160.8 492.8L160.6 491.8L160.4 490.8L160.2 489.8L160.0 488.8L159.8 487.9L159.6 486.9L159.4 485.9L159.2 484.9L159.0 483.9L158.9 483.4M158.3 480.9L158.1 480.0L157.9 479.1M281.8 653.1L281.4 653.1L280.4 653.1L279.4 653.1L278.4 653.0L277.4 653.0L276.4 652.9L275.4 652.9L275.0 652.8M272.8 652.6L272.4 652.6L271.4 652.5L270.4 652.4L269.4 652.3L268.4 652.1L267.4 652.0L266.4 651.8L265.6 651.7M262.6 651.2L262.5 651.2L261.5 651.0L260.5 650.8L259.6 650.6L258.6 650.3L257.6 650.1L257.5 650.1M256.1 649.7L255.7 649.6L254.7 649.4L253.7 649.1L252.8 648.8L251.8 648.6L250.9 648.3M248.8 647.6L248.0 647.4L247.1 647.0L246.1 646.7L245.2 646.4L244.2 646.0L243.3 645.7L242.4 645.3L241.4 644.9L240.5 644.5L239.6 644.1L238.7 643.7L237.8 643.3L236.9 642.9L236.3 642.6M233.7 641.3L233.3 641.1L232.4 640.7L231.5 640.2L230.6 639.7L229.8 639.2L228.9 638.7L228.1 638.2L227.2 637.7L226.4 637.1L225.5 636.6L224.7 636.0L223.9 635.4L223.1 634.9L222.3 634.3L221.5 633.6L221.4 633.6M219.2 631.7L219.2 631.7M90.1 641.3L91.0 640.8L91.9 640.4L92.8 639.9L93.7 639.5L94.6 639.0L95.4 638.4L96.3 637.9L97.1 637.4L97.9 636.8M219.0 537.0L219.1 537.0L220.1 536.8L221.1 536.6L222.0 536.4L223.0 536.3L224.0 536.1L225.0 536.0L226.0 535.9L227.0 535.8L228.0 535.7L229.0 535.6L230.0 535.6L231.0 535.6L232.0 535.5L232.3 535.5M234.4 535.5L235.0 535.6L236.0 535.6L237.0 535.6L238.0 535.7L239.0 535.8L240.0 535.9L241.0 536.0L242.0 536.1L243.0 536.2L244.0 536.4L244.9 536.5L245.9 536.7L246.9 536.9L247.9 537.1L248.9 537.3L249.2 537.4M251.9 538.1L252.7 538.4L253.7 538.7L254.6 539.0L255.6 539.3L256.5 539.7L257.0 539.9M258.6 540.6L259.3 540.8L260.2 541.2L261.1 541.7L262.0 542.1L262.9 542.6L263.8 543.1L264.6 543.5L265.5 544.1L266.3 544.6L267.2 545.1L267.3 545.2M268.8 546.2L268.8 546.2L269.6 546.8L270.4 547.4L271.2 548.1L272.0 548.7L272.7 549.4L273.5 550.0L274.2 550.7L274.9 551.4L275.6 552.1L276.3 552.9L277.0 553.6L277.6 554.4L277.8 554.6M279.0 556.1L279.5 556.7L280.0 557.6L280.6 558.4L281.1 559.2L281.6 560.1L282.1 561.0L282.6 561.8L283.0 562.7M283.7 564.1L283.9 564.5L284.3 565.5L284.6 566.4L285.0 567.3L285.3 568.3L285.6 569.3L285.8 570.2L286.1 571.2L286.3 572.2L286.4 573.2L286.5 573.8M286.8 575.5L286.8 576.1L286.9 577.1L287.0 578.1L287.0 579.1L287.0 580.1L286.9 581.1L286.9 582.1L286.8 583.1L286.7 584.1L286.5 585.1L286.4 585.8M285.8 588.6L285.7 589.0L285.4 590.0L285.1 590.9L284.8 591.9L284.5 592.8L284.1 593.8L283.7 594.6M283.1 596.1L282.9 596.5L282.4 597.4L281.9 598.2L281.4 599.1L280.9 600.0L280.3 600.8L279.8 601.6L279.2 602.4L278.6 603.2L278.0 604.0L277.5 604.5M276.5 605.7L276.0 606.3L275.3 607.0L274.6 607.7L273.9 608.4L273.1 609.1L272.4 609.7L271.6 610.4L270.9 611.0L270.1 611.6L269.5 612.0M268.1 613.0L267.6 613.4L266.8 613.9L266.0 614.5L265.1 615.0L264.2 615.5L263.4 616.0L262.5 616.4L261.6 616.9L260.7 617.3L259.8 617.7L258.9 618.2L257.9 618.5L257.0 618.9M254.3 619.9L254.2 619.9L253.2 620.2L252.3 620.5L251.3 620.8L250.4 621.1L249.4 621.3L248.4 621.6L247.4 621.8L246.5 622.0L245.5 622.2L244.5 622.3L243.5 622.5L242.5 622.6L241.5 622.8L240.5 622.9L239.8 622.9M238.3 623.1L237.5 623.1L236.5 623.2L235.5 623.2L234.5 623.3L233.5 623.3L232.5 623.3L231.5 623.3L230.5 623.2L229.5 623.2L228.5 623.1L227.6 623.1L226.6 623.0L225.6 622.9L224.6 622.8L224.5 622.7M222.3 622.4L221.6 622.3L220.6 622.1L219.6 622.0L218.7 621.7L217.7 621.5M219.0 540.5L219.7 540.6L220.7 540.8L221.6 541.0L222.6 541.2L223.6 541.4L224.6 541.6L225.5 541.8L226.5 542.0L227.5 542.3L228.5 542.5L228.8 542.6M230.4 543.1L231.3 543.4L232.3 543.7L233.2 544.0L234.2 544.4L235.1 544.7L236.0 545.1L236.6 545.3M239.3 546.5L239.7 546.7L240.6 547.1L241.5 547.6L242.4 548.1L243.2 548.6L244.1 549.1L244.9 549.6L245.2 549.8M247.5 551.4L248.2 551.9L249.0 552.5L249.8 553.2L250.5 553.8L251.3 554.5L252.0 555.2L252.2 555.4M253.6 556.9L254.1 557.3L254.7 558.1L255.4 558.9L256.0 559.7L256.6 560.5L257.1 561.3L257.4 561.6M258.3 563.1L258.7 563.8L259.2 564.7L259.6 565.6L260.0 566.5L260.4 567.4L260.8 568.4L261.1 569.3L261.4 570.3L261.7 571.2L261.8 571.7M262.3 573.6L262.4 574.2L262.5 575.1L262.6 576.1L262.7 577.1L262.8 578.1L262.8 579.1L262.8 580.1L262.8 581.1L262.7 582.1L262.6 583.1L262.6 583.3M262.3 584.8L262.3 585.1L262.1 586.1L261.9 587.0L261.6 588.0L261.3 589.0L261.0 589.9L260.8 590.5M259.8 592.8L259.4 593.6L259.0 594.5L258.5 595.4L258.0 596.2L257.4 597.1L256.9 597.9L256.3 598.7L255.7 599.5L255.1 600.3L254.5 600.9M253.1 602.5L253.1 602.5L252.4 603.3L251.7 603.9L250.9 604.6L250.2 605.3L249.4 605.9L248.6 606.6L247.8 607.2L247.0 607.8L246.2 608.3L245.4 608.9L244.5 609.4L243.7 610.0L242.8 610.5L242.8 610.5M240.8 611.5L240.2 611.9L239.3 612.3L238.4 612.7L237.5 613.1L236.5 613.5L235.8 613.8M234.4 614.4L233.7 614.6L232.8 614.9L231.9 615.2L230.9 615.5L229.9 615.8L229.0 616.1L228.5 616.2M226.3 616.8L226.1 616.9L225.1 617.1L224.1 617.3L223.1 617.5L222.2 617.7L221.2 617.9L220.2 618.1L219.2 618.3L218.3 618.4M187.4 682.7L187.3 681.7L187.2 680.7L187.1 679.7L187.0 678.7L186.9 677.7L186.8 676.7L186.7 676.4M186.5 673.5L186.4 672.7L186.3 671.7L186.2 670.7L186.2 669.7L186.1 668.7L186.0 667.7L185.9 666.8L185.9 666.2M185.8 664.0L185.8 663.8L185.7 662.8L185.6 661.8L185.6 660.8L185.5 659.8L185.5 658.8L185.5 657.8L185.4 656.8L185.4 655.8L185.4 655.4M185.3 653.7L185.3 652.8L185.3 651.8L185.3 650.8L185.3 649.8L185.3 648.8L185.3 647.8L185.3 646.8L185.3 645.8L185.3 644.8L185.3 643.8L185.4 642.8L185.4 641.8L185.4 640.8L185.5 639.8L185.5 639.1M221.9 551.0L222.7 551.7L223.4 552.3L224.1 553.0L224.8 553.8L225.5 554.5L226.2 555.2L226.7 555.8M228.5 557.8L228.8 558.2L229.4 559.0L230.0 559.8L230.6 560.6L231.2 561.4L231.7 562.3L232.3 563.1L232.8 564.0L233.2 564.9L233.7 565.7L234.1 566.7L234.5 567.6L234.9 568.5L235.2 569.1M235.9 571.5L236.1 572.3L236.4 573.3L236.5 574.3L236.7 575.2L236.8 576.2L236.9 577.2L237.0 578.2L237.0 579.2L237.0 580.2L236.9 581.2L236.9 582.2L236.8 583.2L236.6 584.2L236.4 585.2L236.4 585.2M236.1 586.8L236.0 587.1L235.7 588.1L235.4 589.0L235.0 590.0L234.7 590.9L234.3 591.8L233.8 592.7L233.4 593.6L232.9 594.5L232.4 595.4L231.9 596.2L231.4 597.1L231.1 597.4M230.3 598.7L230.2 598.7L229.6 599.5L229.0 600.3L228.4 601.1L227.7 601.9L227.1 602.6L226.4 603.3L226.2 603.6M225.0 604.8L225.0 604.8L224.3 605.5L223.6 606.2L222.9 606.9L222.2 607.6L221.5 608.3M104.4 515.6L103.6 514.9L102.9 514.2L102.2 513.5L101.4 512.8L100.7 512.2L99.9 511.5L99.1 510.9L98.4 510.3L97.6 509.7L96.8 509.1L96.0 508.5L95.1 507.9L94.7 507.6M164.0 689.8L164.1 688.8L164.3 687.8L164.4 686.8L164.5 685.8L164.7 684.8L164.8 683.8L164.9 682.8L165.1 681.8L165.2 681.1M165.4 679.4L165.5 678.9L165.6 677.9L165.8 676.9L165.9 675.9L166.0 674.9L166.2 673.9L166.3 672.9L166.5 671.9L166.6 670.9L166.7 670.0L166.9 669.0L167.0 668.0L167.2 667.0L167.2 666.5M167.5 664.3L167.6 664.0L167.7 663.0L167.9 662.0L168.0 661.1L168.2 660.1L168.3 659.1L168.5 658.1L168.6 657.1L168.8 656.1L168.9 655.1L169.1 654.2M169.3 652.7L169.4 652.2L169.6 651.2L169.7 650.2L169.9 649.2L170.1 648.2L170.2 647.2L170.4 646.2L170.5 645.3L170.6 644.8M171.0 642.6L171.1 642.3L171.2 641.3L171.4 640.3L171.6 639.3M218.6 545.5L218.9 545.7L219.7 546.3L220.5 546.9L221.3 547.4L222.2 548.0L223.0 548.6L223.8 549.2L223.9 549.3M225.7 550.6L226.2 551.0L226.9 551.6L227.7 552.3L228.5 552.9L229.2 553.6L230.0 554.3L230.7 554.9L231.4 555.6L232.1 556.3L232.8 557.1L233.5 557.8L234.1 558.6L234.8 559.3L234.9 559.5M236.3 561.3L236.6 561.7L237.1 562.6L237.7 563.4L238.2 564.3L238.7 565.2L239.1 566.0L239.5 566.9L239.8 567.6M240.6 569.6L240.7 569.7L241.0 570.7L241.3 571.6L241.5 572.6L241.7 573.6L241.9 574.6L242.1 575.5L242.2 576.5L242.3 577.2M242.3 579.0L242.3 579.5L242.3 580.5L242.3 581.5L242.2 582.5L242.0 583.5L241.9 584.5L241.7 585.5L241.5 586.5L241.2 587.4L240.9 588.4L240.6 589.3L240.2 590.3L240.1 590.5M239.2 592.6L239.0 593.0L238.5 593.9L238.0 594.7L237.5 595.6L237.0 596.4L236.4 597.3L235.8 598.1L235.2 598.9L234.6 599.7L234.0 600.4L233.3 601.2L232.6 601.9L231.9 602.6L231.2 603.3L230.5 604.0L230.4 604.1M228.2 606.1L227.5 606.7L226.7 607.3L226.0 607.9L225.2 608.6L224.4 609.2L223.6 609.8L222.8 610.3L221.9 610.9L221.1 611.5L220.3 612.1M227.1 539.7L227.3 539.7L228.3 539.9L229.3 540.0L230.3 540.1L231.3 540.3L232.3 540.5L233.3 540.7L234.2 540.9L235.2 541.1L235.7 541.2M237.4 541.7L238.1 541.9L239.1 542.2L240.0 542.5L241.0 542.8L241.9 543.1L242.9 543.4L243.6 543.7M245.8 544.6L246.5 545.0L247.4 545.4L248.3 545.9L249.2 546.3L250.1 546.8L250.9 547.2M253.1 548.6L253.5 548.9L254.3 549.5L255.2 550.0L256.0 550.6L256.7 551.3L257.5 551.9L258.3 552.6L259.0 553.2L259.7 553.8M261.4 555.7L261.8 556.1L262.5 556.8L263.1 557.6L263.7 558.4L264.3 559.2L264.9 560.0L265.5 560.8L266.0 561.7L266.5 562.5L267.0 563.4L267.4 564.3L267.9 565.2L268.3 566.1L268.7 567.0L269.0 568.0L269.1 568.2M269.8 570.4L269.9 570.8L270.2 571.8L270.4 572.8L270.6 573.8L270.7 574.7L270.9 575.7L271.0 576.7L271.0 577.7L271.1 578.7L271.1 579.7L271.0 580.7L271.0 581.7L270.9 582.7L270.8 583.7L270.8 583.9M270.3 586.6L270.3 586.7L270.0 587.6L269.8 588.6L269.5 589.6L269.1 590.5L268.8 591.5L268.4 592.4L268.0 593.3L267.6 594.2L267.1 595.1L266.7 596.0L266.2 596.8L265.6 597.7L265.1 598.5L264.8 599.0M263.4 600.8L263.3 600.9L262.7 601.7L262.0 602.5L261.4 603.2L260.7 603.9L260.0 604.7L259.3 605.4L258.5 606.0L257.8 606.7L257.0 607.3L256.2 607.9L256.1 608.0M254.0 609.6L253.8 609.7L253.0 610.3L252.1 610.8L251.3 611.3L250.4 611.8L249.5 612.3L248.6 612.8L247.7 613.2L246.8 613.7L245.9 614.1L245.0 614.5L244.5 614.7M242.8 615.4L242.2 615.6L241.3 615.9L240.3 616.2L239.4 616.5L238.4 616.8L237.5 617.1L236.5 617.4L235.5 617.6L234.6 617.8L233.6 618.0L232.6 618.2L231.6 618.4L230.6 618.6L229.6 618.8L229.6 618.8M227.3 619.1L226.7 619.1M222.0 521.9L222.8 521.3L223.6 520.7L224.3 520.0L225.1 519.4L225.9 518.8L226.7 518.2L227.6 517.7L228.4 517.1L229.2 516.5L230.0 516.0L230.9 515.4L231.7 514.9L232.6 514.4L233.4 513.8L233.6 513.7M235.4 512.7L236.0 512.3L236.9 511.8L237.8 511.4L238.7 510.9L239.5 510.4L240.4 510.0L241.3 509.5L242.2 509.1L243.1 508.7L244.0 508.3L244.9 507.8L245.8 507.5M247.8 506.6L248.6 506.3L249.6 505.9L250.5 505.5L251.4 505.2L252.4 504.8L253.3 504.5L254.2 504.1L255.2 503.8L256.1 503.5L257.1 503.2M259.7 502.3L259.9 502.3L260.9 502.0L261.9 501.7L262.8 501.5L263.8 501.2L264.8 500.9L265.7 500.7L266.7 500.5L267.7 500.2L267.9 500.2M270.1 499.7L270.6 499.6L271.6 499.4L272.6 499.2L273.5 499.0L274.5 498.8L275.5 498.7M156.9 562.9L156.8 563.9L156.7 564.9L156.5 565.8L156.4 566.8L156.3 567.8L156.2 568.8L156.1 569.8L156.0 570.8L156.0 571.8L155.9 572.8L155.9 572.9M155.8 575.2L155.8 575.8L155.7 576.8L155.7 577.8L155.7 578.8L155.7 579.8L155.7 580.8L155.7 581.8L155.7 582.0M155.8 584.5L155.8 584.8L155.9 585.8L156.0 586.8L156.0 587.8L156.1 588.8L156.2 589.8L156.3 590.8L156.4 591.8L156.5 592.8L156.6 593.8L156.8 594.8L156.9 595.8M108.3 599.2L108.6 600.2L109.0 601.1L109.4 602.0M113.1 515.4L113.1 515.3L112.5 514.5L111.9 513.7L111.3 512.9L110.6 512.1L110.0 511.4L109.4 510.6L108.7 509.8L108.0 509.1L107.4 508.3L106.7 507.6L106.0 506.9L105.3 506.2L104.6 505.5L104.2 505.0M102.4 503.3L101.7 502.7L101.0 502.0L100.2 501.4L99.4 500.7L98.7 500.1L97.9 499.4L97.1 498.8L96.4 498.2L96.0 497.9M198.3 518.0L198.4 517.1L198.6 516.1L198.8 515.1L199.0 514.1L199.2 513.1L199.4 512.2L199.6 511.2L199.8 510.2L200.0 509.2L200.3 508.3L200.4 507.8M201.0 505.4L201.0 505.4L201.3 504.4L201.6 503.4L201.9 502.5L202.1 501.5L202.4 500.6L202.4 500.5M203.2 498.0L203.3 497.7L203.7 496.7L204.0 495.8L204.3 494.8L204.6 493.9L205.0 493.0L205.3 492.0L205.6 491.1L206.0 490.1L206.3 489.2L206.7 488.3L207.0 487.3L207.4 486.4L207.7 485.6M208.4 483.9L208.5 483.6L208.9 482.7L209.3 481.8L209.7 480.8L210.1 479.9L210.4 479.0L210.8 478.1L211.2 477.2L211.6 476.3M161.5 518.0L161.3 517.1L161.0 516.1L160.8 515.1L160.5 514.2L160.3 513.2L160.1 512.2L159.8 511.2L159.6 510.3L159.3 509.3L159.1 508.3L158.8 507.4L158.6 506.4L158.3 505.4L158.3 505.3M157.9 503.9L157.8 503.5L157.6 502.5L157.3 501.6L157.1 500.6L156.8 499.6L156.6 498.7L156.3 497.7L156.1 496.7L155.8 495.8L155.5 494.8L155.3 493.8L155.0 492.9L154.8 491.9L154.5 490.9L154.3 490.0L154.2 489.9M153.7 487.8L153.5 487.1L153.2 486.1L152.9 485.1L152.7 484.2L152.4 483.2L152.1 482.2L151.9 481.3L151.6 480.3L151.3 479.4L151.1 478.4L150.8 477.4M295.3 619.7L295.1 619.9L294.3 620.4L293.4 621.0L292.6 621.6L291.8 622.1L290.9 622.7L290.1 623.2M287.6 624.6L287.5 624.7L286.6 625.1L285.7 625.6L284.8 626.0L283.9 626.4L283.0 626.8L282.0 627.2L281.1 627.6L280.2 628.0L279.3 628.4L278.3 628.7L277.4 629.0L276.9 629.2M274.5 630.0L273.6 630.2L272.6 630.5L271.6 630.7L270.7 631.0L269.7 631.2L268.7 631.4L267.7 631.6L266.7 631.8L265.8 632.0L264.8 632.1L263.8 632.3L263.3 632.3M261.4 632.6L260.8 632.6L259.8 632.7L258.8 632.8L257.8 632.9L256.8 632.9L255.9 633.0M253.0 633.0L252.8 633.0L251.8 633.0L250.8 633.0L249.8 633.0L248.8 633.0L247.8 632.9L246.8 632.8L245.8 632.8L244.8 632.7L243.8 632.6L242.8 632.4L241.8 632.3L240.9 632.2L239.9 632.0L238.9 631.9L238.6 631.8M236.0 631.3L235.9 631.3L235.0 631.1L234.0 630.9L233.0 630.6L232.0 630.4L231.1 630.1L230.1 629.8L229.2 629.6L228.2 629.2L227.3 629.0M224.9 628.1L224.4 627.9L223.5 627.5L222.6 627.1L221.7 626.7L220.8 626.3L220.0 625.9M218.8 625.3L218.1 624.9L217.3 624.4M155.1 681.7L155.2 681.6L155.4 680.6L155.6 679.6L155.8 678.7L156.1 677.7L156.3 676.7L156.5 675.8L156.6 675.6M157.2 672.8L157.2 672.8L157.4 671.9L157.7 670.9L157.9 669.9L158.1 668.9L158.3 668.0L158.6 667.0L158.8 666.0L158.9 665.6M159.5 662.8L159.7 662.1L159.9 661.1L160.1 660.2L160.4 659.2L160.6 658.2L160.8 657.2L161.0 656.3L161.3 655.3L161.5 654.3L161.7 653.3L161.8 652.8M162.3 650.5L162.4 650.4L162.6 649.4L162.8 648.5L163.0 647.5L163.3 646.5L163.5 645.5L163.7 644.6L163.9 643.6L164.1 642.6L164.4 641.6L164.6 640.7L164.7 640.1M222.6 526.5L223.4 526.0L224.3 525.4L225.1 524.9L226.0 524.4L226.8 523.9L227.7 523.4L228.2 523.1M229.8 522.3L230.4 522.0L231.3 521.6L232.2 521.1L233.1 520.7L234.0 520.3L234.9 519.9L235.8 519.5L236.8 519.1L237.7 518.8L238.6 518.4L239.6 518.1L240.5 517.7L241.4 517.4L242.4 517.1L243.2 516.8M245.0 516.3L245.3 516.2L246.2 515.9L247.2 515.6L248.1 515.4L249.1 515.1L250.1 514.9L251.0 514.7L252.0 514.4L253.0 514.2L253.9 514.0M255.5 513.7L255.9 513.6L256.9 513.5L257.9 513.3L258.9 513.1L259.9 513.0L260.9 512.9L261.9 512.7L262.9 512.6L263.9 512.5L264.9 512.4L265.9 512.3L266.9 512.3L267.9 512.2L268.8 512.1L269.8 512.1L270.1 512.1M272.0 512.0L272.8 512.0L273.8 512.0L274.8 512.0L275.8 512.0L276.8 512.0L277.8 512.1L278.8 512.1L279.8 512.2L280.8 512.2L281.8 512.3L282.8 512.4L283.8 512.5L284.8 512.6M214.7 562.9L215.0 563.7L215.3 564.7L215.6 565.6L215.9 566.6L216.2 567.5L216.3 568.2M216.7 569.7L216.9 570.4L217.1 571.4L217.3 572.4L217.4 573.4L217.6 574.4L217.7 575.4L217.8 576.4L217.8 577.4L217.9 578.4L217.9 579.4L217.9 580.4L217.8 581.4L217.8 582.4L217.7 583.4L217.6 583.9M217.3 586.2L217.3 586.3L217.1 587.3L216.9 588.3L216.7 589.3L216.4 590.2L216.2 591.2L215.9 592.2L215.6 593.1L215.3 594.1L215.0 595.0L214.6 596.0L214.3 596.9M91.4 656.6L92.3 656.1L93.1 655.5L93.9 655.0L94.7 654.4L95.6 653.8L96.4 653.2L97.2 652.6L97.9 652.0L98.7 651.4L99.5 650.7L99.8 650.5M101.7 648.8L101.8 648.8L102.5 648.1L103.3 647.4L104.0 646.7L104.7 646.0L105.4 645.3L106.1 644.6L106.8 643.9L106.8 643.8M108.3 642.1L108.7 641.6L109.3 640.8L109.9 640.0M202.7 687.2L202.4 686.2L202.1 685.3L201.8 684.3L201.6 683.3L201.3 682.4L201.0 681.4L200.7 680.5L200.5 679.5L200.2 678.5L200.0 677.7M199.6 676.2L199.4 675.6L199.2 674.7L198.9 673.7L198.7 672.7L198.4 671.8L198.2 670.8L198.0 669.8L197.7 668.9L197.5 667.9L197.5 667.7M196.9 665.4L196.8 665.0L196.6 664.0L196.4 663.0L196.2 662.0L196.0 661.0L195.8 660.1L195.6 659.1L195.5 658.3M195.2 656.6L195.1 656.1L194.9 655.1L194.8 654.1L194.6 653.2L194.5 652.2L194.3 651.2L194.2 650.2L194.0 649.2L193.9 648.2L193.8 647.2L193.7 646.2L193.6 645.2L193.5 644.2L193.4 643.2L193.4 643.1M210.1 682.6L209.9 682.1L209.5 681.2L209.1 680.3L208.8 679.4L208.4 678.4L208.0 677.5L207.7 676.6L207.3 675.7L206.9 674.7L206.6 673.8L206.2 672.8L205.9 671.9L205.7 671.3M204.9 669.1L204.5 668.1L204.2 667.2L203.9 666.2L203.6 665.3L203.3 664.3L203.0 663.4L202.7 662.4L202.4 661.5L202.1 660.5L201.8 659.6L201.5 658.6L201.2 657.7L201.0 657.0M200.5 655.0L200.4 654.8L200.2 653.8L199.9 652.8L199.7 651.9L199.5 650.9L199.2 649.9L199.0 648.9L198.8 648.0L198.6 647.0L198.5 646.6M198.3 645.2L198.2 645.0L198.1 644.0L197.9 643.0L197.7 642.1L197.6 641.1L197.4 640.1L197.3 639.1L197.2 638.1M166.7 563.5L166.6 564.2L166.5 565.1L166.4 566.1L166.3 567.1L166.2 568.1L166.2 569.1L166.1 570.1L166.0 571.1L166.0 572.1L165.9 573.1L165.9 573.1M165.8 575.5L165.8 576.1L165.8 577.1L165.8 578.1L165.8 579.1L165.8 580.1L165.8 581.1L165.8 582.1L165.8 583.1L165.8 584.1L165.9 585.1L165.9 586.1M166.1 588.8L166.1 589.1L166.2 590.1L166.3 591.1L166.4 592.1L166.5 593.1L166.6 594.1L166.7 595.1M166.8 596.6L166.9 597.1L167.0 598.1M296.2 606.8L295.6 607.6L295.0 608.4L294.3 609.1L293.7 609.9L293.0 610.6L292.3 611.3L291.6 612.0L290.9 612.7M289.4 614.0L289.4 614.1L288.6 614.7L287.8 615.3L287.1 616.0L286.3 616.6L285.5 617.2L284.6 617.8L283.8 618.3L283.0 618.9L282.1 619.4L281.3 619.9L280.4 620.4L279.6 620.9L279.1 621.2M277.0 622.3L276.9 622.3L276.0 622.8L275.1 623.2L274.2 623.6L273.3 624.0L272.3 624.4L271.4 624.7L270.5 625.1L269.5 625.4L268.6 625.7L267.6 626.0L266.8 626.3M264.0 627.0L263.8 627.1L262.8 627.4L261.8 627.6L260.8 627.8L259.9 628.0L258.9 628.2L257.9 628.3L256.9 628.5L255.9 628.6L254.9 628.7L253.9 628.9L252.9 629.0L251.9 629.0L250.9 629.1L249.9 629.2L249.3 629.2M246.7 629.3L245.9 629.3L244.9 629.3L243.9 629.2L242.9 629.2L241.9 629.2L240.9 629.1L239.9 629.0L239.0 628.9L238.0 628.8L237.0 628.7L236.4 628.7M234.8 628.4L234.0 628.3L233.0 628.2L232.0 628.0L231.0 627.8L230.1 627.6L229.1 627.4L228.1 627.1L227.1 626.9L226.2 626.6L225.2 626.4L224.3 626.1L223.3 625.8L222.4 625.4M115.4 563.9L115.1 564.9L114.9 565.8L114.6 566.8L114.4 567.8L114.2 568.8L114.1 569.3M113.8 571.1L113.7 571.7L113.5 572.7L113.4 573.7L113.3 574.7L113.2 575.7L113.2 576.7L113.1 577.7L113.1 578.7L113.1 579.7L113.1 580.7L113.2 581.7L113.2 582.7L113.3 583.7L113.3 584.0M113.6 586.4L113.6 586.7L113.8 587.7L113.9 588.6L114.1 589.6L114.3 590.6L114.5 591.6L114.8 592.6L115.0 593.5L115.2 594.5L115.5 595.5L115.8 596.4L116.0 597.4L116.2 597.9M116.8 599.9L116.9 600.3L117.2 601.2M127.9 563.3L127.7 564.3L127.5 565.3L127.4 566.3L127.2 567.3L127.0 568.2L127.0 568.5M126.7 570.4L126.6 571.2L126.5 572.2L126.4 573.2L126.3 574.2L126.3 575.2L126.2 576.2L126.2 577.2L126.1 578.2L126.1 579.2L126.1 580.2L126.2 581.2L126.2 582.2L126.2 582.6M126.3 584.4L126.4 585.2L126.5 586.2L126.6 587.2L126.7 588.2L126.8 589.2L127.0 590.2L127.1 591.1L127.3 592.1L127.5 593.1L127.6 594.1L127.8 595.1M271.4 669.4L270.5 669.1L269.5 668.8L268.6 668.5L267.6 668.2L266.7 667.8L265.8 667.5L264.8 667.2L263.9 666.8L263.0 666.5L262.7 666.4M261.1 665.7L261.1 665.7L260.2 665.3L259.2 665.0L258.3 664.6L257.4 664.2L256.5 663.8L255.6 663.4L254.7 662.9L253.8 662.5L253.7 662.5M251.4 661.4L251.1 661.2L250.2 660.8L249.3 660.3L248.4 659.9L247.5 659.4L246.6 658.9L245.7 658.4L244.9 658.0L244.0 657.5L243.3 657.1M240.9 655.7L240.5 655.4L239.7 654.9L238.8 654.4L238.0 653.8L237.2 653.3L236.3 652.7L235.5 652.2L234.7 651.6L233.9 651.1L233.0 650.5L232.2 649.9L231.8 649.6M230.0 648.2L229.8 648.1L229.0 647.5L228.3 646.8L227.5 646.2L226.7 645.6L226.0 644.9L225.2 644.3L224.4 643.6L223.7 642.9L223.1 642.4M221.8 641.2L221.5 640.9L220.8 640.2M181.3 518.2L181.2 517.2L181.2 516.2L181.1 515.2L181.0 514.2L180.9 513.2L180.9 512.2L180.8 511.2L180.8 510.2L180.7 509.2L180.7 508.3M180.6 506.0L180.5 505.2L180.5 504.2L180.5 503.2L180.4 502.2L180.4 501.2L180.4 500.2L180.4 499.2L180.3 498.2L180.3 497.2L180.3 496.2L180.3 495.2L180.3 494.2L180.3 493.2L180.3 492.4M180.3 489.8L180.3 489.2L180.3 488.2L180.3 487.2L180.3 486.2L180.3 485.2L180.3 484.2L180.4 483.2L180.4 482.2M217.5 541.5L218.4 541.9L219.3 542.2L220.3 542.5L221.2 542.8L222.2 543.2L223.1 543.5L224.1 543.9L225.0 544.2L225.9 544.6M227.5 545.2L227.8 545.3L228.7 545.7L229.6 546.1L230.5 546.6L231.4 547.0L232.3 547.4L233.2 547.9L234.1 548.4L234.3 548.5M235.9 549.4L236.7 549.9L237.5 550.4L238.3 551.0L239.2 551.6L240.0 552.1L240.8 552.7L241.5 553.4L242.3 554.0L243.1 554.7L243.8 555.3L244.5 556.0L244.9 556.4M246.5 558.1L246.6 558.2L247.3 559.0L247.9 559.7L248.5 560.5L249.1 561.3L249.6 562.2L250.2 563.0L250.5 563.5M251.4 565.1L251.7 565.6L252.1 566.5L252.5 567.4L252.9 568.4L253.2 569.3L253.6 570.2L253.9 571.2L254.0 571.7M254.5 573.7L254.5 574.1L254.7 575.1L254.8 576.1L254.9 577.1L255.0 578.1L255.0 579.1L255.0 580.1L255.0 581.1L254.9 582.1L254.8 583.1L254.7 583.7M254.3 585.9L254.3 586.0L254.0 587.0L253.7 588.0L253.4 588.9L253.1 589.9L252.8 590.8L252.4 591.7L251.9 592.6L251.5 593.5L251.0 594.4L250.5 595.3L250.0 596.1L249.4 596.9L248.9 597.8L248.3 598.6L247.8 599.1M246.3 600.9L245.7 601.6L245.0 602.3L244.3 603.0L243.5 603.7L242.8 604.4L242.0 605.0L241.3 605.7L240.5 606.3L239.7 606.9L238.9 607.5L238.0 608.0L237.2 608.6L236.3 609.1L235.5 609.6L234.7 610.1M233.0 611.0L232.9 611.1L232.0 611.5L231.1 612.0L230.2 612.4L229.3 612.8L228.4 613.2L227.4 613.6L226.5 614.0L225.6 614.4M224.0 615.0L223.7 615.1L222.8 615.4L221.8 615.8L220.9 616.1L219.9 616.4M215.8 513.7L216.1 513.3L216.6 512.5L217.2 511.7L217.8 510.9L218.4 510.1L219.0 509.3L219.5 508.6M221.3 506.4L221.5 506.2L222.2 505.4L222.8 504.6L223.4 503.9L224.1 503.1L224.8 502.4L225.4 501.6L226.1 500.9M227.8 499.1L228.2 498.7L228.9 498.0L229.6 497.3L230.3 496.6L231.0 495.9L231.7 495.2L232.4 494.5L233.1 493.8L233.9 493.1L234.3 492.7M236.3 490.8L236.8 490.4L237.6 489.7L238.3 489.1L239.1 488.4L239.8 487.8L240.6 487.1L241.4 486.5L242.1 485.8L242.9 485.2L243.7 484.6L244.5 483.9L245.3 483.3L245.3 483.3M247.0 482.0L247.6 481.5M278.9 663.7L277.9 663.6L277.0 663.4L276.0 663.2L275.0 663.0L274.0 662.8L273.0 662.6L272.1 662.4L271.1 662.1L270.1 661.9L269.1 661.7L269.1 661.6M267.5 661.2L267.2 661.2L266.2 660.9L265.3 660.6L264.3 660.3L263.4 660.1L262.4 659.8L261.5 659.5L260.5 659.2L259.6 658.8L258.6 658.5L257.7 658.2L256.7 657.9L255.8 657.5L254.8 657.2L254.5 657.0M251.8 656.0L251.1 655.7L250.2 655.3L249.3 654.9L248.4 654.5L247.5 654.1L246.7 653.8M245.2 653.0L244.7 652.8L243.8 652.4L242.9 651.9L242.1 651.5L241.2 651.0L240.3 650.6L239.4 650.1L238.5 649.6L237.7 649.1L236.8 648.6L235.9 648.1L235.1 647.6L234.2 647.1L234.1 647.0M231.9 645.6L231.7 645.4L230.9 644.9L230.0 644.3L229.2 643.8L228.4 643.2L227.6 642.6L226.8 642.0L226.4 641.7M225.0 640.6L224.4 640.1L223.7 639.5L222.9 638.9L222.1 638.2L221.4 637.5L220.8 637.0M218.8 635.0L218.5 634.8L217.8 634.0L217.2 633.3L216.5 632.5M194.1 562.1L194.1 562.1L194.1 563.1L194.2 564.1L194.2 565.1L194.3 566.1L194.3 567.1L194.3 567.3M194.4 569.0L194.4 569.1L194.5 570.1L194.5 571.1L194.5 572.1L194.6 573.1L194.6 574.1L194.6 575.1L194.6 576.1L194.6 577.1L194.6 578.1L194.7 579.1L194.7 580.1L194.6 580.5M194.6 582.3L194.6 583.1L194.6 584.1L194.6 585.1L194.5 586.1L194.5 587.1L194.5 587.6M194.4 589.7L194.4 590.1L194.4 591.1L194.3 592.1L194.3 593.1L194.2 594.1L194.2 595.1L194.1 596.1L194.1 597.1L194.0 598.1L194.0 599.1L194.0 600.1M220.4 556.0L220.9 556.8L221.5 557.6L222.0 558.5L222.6 559.3L223.1 560.1L223.6 561.0L224.1 561.7M224.8 563.2L225.1 563.6L225.5 564.5L225.9 565.4L226.3 566.3L226.7 567.3L227.1 568.2L227.4 569.2L227.7 570.1L228.0 571.1L228.2 572.0L228.4 572.9M228.8 574.8L228.8 575.0L228.9 576.0L229.0 577.0L229.1 578.0L229.1 579.0L229.1 580.0L229.1 581.0L229.0 582.0L228.9 583.0L228.8 584.0L228.6 584.9L228.6 585.1M228.2 586.8L228.2 586.9L227.9 587.9L227.7 588.8L227.4 589.8L227.0 590.7L226.7 591.7L226.3 592.6M225.5 594.4L225.5 594.4L225.0 595.3L224.5 596.2L224.1 597.1L223.6 597.9L223.0 598.8L222.5 599.6L222.0 600.5L221.4 601.3L220.8 602.1L220.3 602.9L219.7 603.7M121.0 512.4L120.6 511.7L120.1 510.8L119.6 510.0L119.0 509.1L118.5 508.3L117.9 507.5L117.4 506.6L116.8 505.8L116.2 505.0L115.6 504.2L115.0 503.4L114.4 502.6L113.8 501.8L113.6 501.5M112.3 499.9L111.9 499.4L111.3 498.7L110.7 497.9L110.0 497.1L109.4 496.4L108.7 495.6L108.0 494.9L107.4 494.1L106.7 493.4L106.0 492.7L105.3 492.0L104.6 491.2L104.0 490.6M102.7 489.3L102.5 489.1L101.8 488.4L101.1 487.7L100.4 487.0L99.6 486.3L98.9 485.6L98.2 485.0L97.4 484.3L96.7 483.6L96.0 482.9M155.6 514.9L155.3 513.9L155.0 513.0L154.7 512.0L154.4 511.1L154.2 510.1L153.9 509.1L153.6 508.2L153.3 507.2L153.0 506.3L152.7 505.3L152.4 504.4L152.1 503.4L151.9 502.7M151.2 500.5L150.9 499.6L150.6 498.6L150.3 497.7L150.0 496.7L149.7 495.8L149.4 494.8L149.1 493.9L148.8 492.9L148.5 492.0L148.2 491.0L147.9 490.1L147.5 489.1L147.4 488.7M146.7 486.7L146.6 486.3L146.3 485.3L145.9 484.4L145.6 483.4M180.6 558.2L180.6 559.2L180.5 560.2L180.4 561.2L180.4 562.2L180.3 563.2L180.2 564.2L180.2 565.2L180.1 566.2L180.1 567.2L180.1 568.2L180.0 569.2L180.0 570.0M179.9 571.9L179.9 572.2L179.9 573.2L179.9 574.2L179.9 575.2L179.9 576.2L179.9 577.2L179.9 578.2L179.9 579.2L179.9 580.2L179.9 581.2L179.9 582.2L179.9 582.5M179.9 584.3L179.9 585.2L179.9 586.2L180.0 587.2L180.0 588.2L180.0 589.2L180.0 590.2L180.1 591.2L180.1 591.8M180.2 594.1L180.2 594.2L180.3 595.2L180.3 596.2L180.4 597.2M148.7 559.1L148.5 560.1L148.3 561.1L148.1 562.1L148.0 563.0L147.8 564.0L147.7 565.0L147.6 566.0L147.4 567.0L147.3 568.0L147.2 569.0L147.1 569.7M146.9 571.7L146.9 572.0L146.8 573.0L146.8 574.0L146.7 575.0L146.7 576.0L146.6 577.0L146.6 578.0L146.6 579.0L146.6 580.0L146.6 581.0L146.6 582.0L146.7 583.0L146.7 584.0L146.8 585.0L146.8 586.0L146.9 586.6M147.1 588.9L147.1 589.0L147.2 589.9L147.3 590.9L147.4 591.9L147.6 592.9L147.7 593.9L147.9 594.9L148.0 595.9L148.2 596.9L148.3 597.9L148.5 598.9M222.0 532.3L222.0 532.3L222.9 531.9L223.9 531.6L224.8 531.2L225.8 530.9L226.7 530.5L227.6 530.2L228.6 529.9L229.6 529.7L230.5 529.4L231.5 529.1L232.5 528.9L233.4 528.7L234.1 528.5M235.6 528.2L236.4 528.1L237.4 527.9L238.3 527.7L239.3 527.6L240.3 527.4L241.3 527.3L242.3 527.2L243.3 527.1L244.3 527.0L245.3 526.9L246.3 526.8L247.3 526.8L248.3 526.7L249.3 526.7L249.5 526.7M251.8 526.7L252.3 526.7L253.3 526.7L254.3 526.8L255.3 526.8L256.3 526.9L257.3 526.9L257.4 527.0M260.1 527.2L260.3 527.2L261.3 527.4L262.3 527.5L263.2 527.6L264.2 527.8L265.2 528.0L266.2 528.2L267.2 528.4L268.2 528.6L268.3 528.6M269.8 529.0L270.1 529.1L271.1 529.3L272.0 529.6L273.0 529.9L273.9 530.2L274.9 530.5L275.8 530.8L276.8 531.1L277.7 531.5L278.6 531.9L279.6 532.2L280.5 532.6L281.4 533.0L282.3 533.4L283.2 533.9L283.5 534.0M285.3 535.0L285.9 535.3L286.8 535.7L287.6 536.2L288.5 536.8L289.3 537.3L290.2 537.8L291.0 538.4L291.8 539.0L292.6 539.5L293.4 540.1L294.2 540.8L295.0 541.4M206.4 564.7L206.6 565.6L206.7 566.6L206.9 567.6L207.1 568.6L207.2 569.5L207.4 570.5M207.5 572.1L207.6 572.5L207.7 573.5L207.8 574.5L207.8 575.5L207.9 576.5L207.9 577.5L208.0 578.5L208.0 579.5L208.0 580.5L207.9 581.5L207.9 582.5L207.8 583.5L207.8 583.7M207.7 585.2L207.7 585.5L207.6 586.5L207.5 587.5L207.3 588.5L207.2 589.5L207.0 590.5L206.9 591.4L206.7 592.4L206.5 593.4L206.5 593.7M206.0 596.2L205.9 596.4L205.7 597.3L205.5 598.3L205.3 599.3L205.1 600.3M105.9 684.9L106.5 684.1L107.2 683.4L107.8 682.6L108.5 681.8L109.1 681.0L109.7 680.3L110.3 679.5L111.0 678.7L111.6 677.9L112.2 677.1L112.8 676.3L113.4 675.5L114.0 674.7L114.6 673.9L114.9 673.6M116.2 671.7L116.4 671.5L117.0 670.7L117.6 669.9L118.1 669.1L118.7 668.3L119.3 667.4L119.8 666.6L120.4 665.8L120.9 664.9L121.5 664.1L122.0 663.3L122.5 662.4L123.1 661.6L123.6 660.7L124.0 660.1M124.8 658.8L125.1 658.1L125.6 657.3L126.1 656.4L126.6 655.5L127.1 654.7L127.6 653.8L128.1 652.9L128.5 652.0L128.9 651.3M130.0 649.2L130.4 648.5L130.8 647.6L131.2 646.7L131.6 645.7L132.1 644.8L132.5 643.9M217.6 517.1L217.9 516.7L218.6 515.9L219.2 515.1L219.9 514.4L220.5 513.6L221.2 512.9L221.9 512.1L222.5 511.4L222.9 511.1M224.7 509.2L225.3 508.6L226.1 507.9L226.8 507.2L227.5 506.5L228.2 505.8L229.0 505.1L229.3 504.8M231.5 502.9L232.0 502.5L232.7 501.8L233.5 501.2L234.3 500.6L235.1 499.9L235.9 499.3L236.0 499.2M237.4 498.2L237.4 498.1L238.2 497.5L239.0 496.9L239.8 496.3L240.6 495.7L241.5 495.1L242.3 494.5L243.1 494.0L243.9 493.4L244.7 492.8L244.9 492.8M247.2 491.2L247.2 491.2L248.1 490.6L248.9 490.1L249.8 489.6L250.6 489.0L251.5 488.5L252.3 488.0L253.2 487.5L254.1 487.0L254.9 486.5L255.8 486.0L256.7 485.5L257.5 485.0L258.4 484.6L258.5 484.5M176.5 567.3L176.5 567.9L176.5 568.9L176.4 569.9L176.4 570.9L176.3 571.9L176.3 572.6M176.2 575.6L176.2 575.8L176.2 576.8L176.2 577.8L176.2 578.8L176.2 579.8L176.2 580.8L176.2 581.8M176.3 584.3L176.3 584.8L176.3 585.8L176.3 586.8L176.4 587.8L176.4 588.8L176.5 589.8L176.5 590.8L176.6 591.8L176.6 592.8L176.7 593.8L176.7 594.1M176.8 595.6L176.8 595.8L176.9 596.8M94.0 672.1L94.2 671.9L95.0 671.3L95.8 670.7L96.5 670.0L97.3 669.4L98.0 668.7L98.8 668.0L99.5 667.4L100.3 666.7L101.0 666.0L101.6 665.5M103.7 663.4L103.9 663.2L104.6 662.5L105.3 661.8L106.0 661.1L106.7 660.4L107.3 659.6L108.0 658.9L108.7 658.2L109.3 657.4L110.0 656.7L110.6 655.9L110.8 655.7M112.0 654.3L112.5 653.6L113.2 652.8L113.8 652.0L114.4 651.2L115.0 650.4L115.5 649.6L116.1 648.8L116.7 647.9L117.2 647.1L117.8 646.3L118.1 645.8M119.6 643.3L119.9 642.8M152.7 521.3L152.4 520.3L152.1 519.4L151.8 518.4L151.5 517.5L151.2 516.5L151.0 515.8M150.4 513.9L150.3 513.6L150.0 512.7L149.7 511.7L149.4 510.8L149.1 509.8L148.8 508.9L148.7 508.5M148.2 507.2L148.1 507.0L147.8 506.1L147.5 505.1L147.1 504.2L146.8 503.2L146.5 502.3L146.1 501.3L145.8 500.4L145.5 499.5L145.1 498.5L144.8 497.8M143.9 495.3L143.7 494.8L143.4 493.8L143.0 492.9L142.6 492.0L142.3 491.0L141.9 490.1L141.6 489.4M140.7 487.0L140.4 486.4L140.0 485.5L139.7 484.5L139.3 483.6L138.9 482.7L138.5 481.8L138.1 480.9M160.7 559.6L160.5 560.6L160.4 561.6L160.3 562.6L160.1 563.6L160.0 564.6L159.9 565.5L159.8 566.3M159.6 568.5L159.6 568.5L159.5 569.5L159.4 570.5L159.3 571.5L159.3 572.5L159.2 573.5L159.2 574.5L159.2 574.6M159.1 576.3L159.1 576.5L159.1 577.5L159.1 578.5L159.1 579.5L159.1 580.5L159.1 581.5L159.1 582.5L159.1 583.5L159.2 584.5L159.2 585.5L159.3 586.5L159.3 587.1M159.4 588.8L159.5 589.5L159.6 590.5L159.7 591.5L159.8 592.5L159.9 593.5L160.0 594.5L160.1 595.3M160.4 596.9L160.4 597.4L160.6 598.4L160.7 599.4L160.9 600.4L161.0 601.4L161.2 602.4M199.4 559.6L199.4 559.9L199.5 560.9L199.6 561.9L199.7 562.9L199.8 563.9L200.0 564.9L200.1 565.9L200.2 566.9L200.3 567.9L200.3 568.7M200.5 571.4L200.6 571.9L200.6 572.9L200.7 573.9L200.7 574.9L200.8 575.9L200.8 576.9L200.8 577.9L200.8 578.9L200.8 579.9L200.8 580.5M200.8 582.7L200.8 582.9L200.7 583.9L200.7 584.9L200.6 585.9L200.6 586.9L200.5 587.9L200.4 588.9L200.3 589.9L200.3 590.8L200.2 591.8L200.1 592.8L200.0 593.8L199.9 594.8L199.7 595.8L199.6 596.8L199.6 597.5M199.4 599.1L199.3 599.8M135.1 517.7L134.7 516.8L134.3 515.9L133.9 514.9L133.5 514.0L133.1 513.1L132.7 512.2L132.3 511.3L131.9 510.4L131.5 509.5L131.0 508.6L130.6 507.7L130.1 506.8L129.9 506.3M128.8 504.2L128.7 504.1L128.3 503.3L127.8 502.4L127.3 501.5L126.8 500.6L126.3 499.8L125.8 498.9L125.3 498.0L124.8 497.2L124.5 496.7M123.3 494.6L123.2 494.6L122.7 493.8L122.2 492.9L121.6 492.1L121.1 491.2L120.5 490.4L120.0 489.6L119.4 488.7L118.9 487.9L118.3 487.1L117.7 486.3L117.2 485.4L116.6 484.6L116.0 483.8L116.0 483.8M114.9 482.2L114.8 482.2L114.2 481.4L113.6 480.6M233.7 685.6L233.1 684.8L232.5 684.0L231.8 683.3L231.2 682.5L230.6 681.7L229.9 680.9L229.3 680.1L228.7 679.4L228.1 678.6L227.5 677.8L226.9 677.0L226.8 676.9M225.8 675.6L225.7 675.4L225.1 674.6L224.5 673.8L223.9 672.9L223.4 672.1L222.8 671.3L222.2 670.5L221.6 669.7L221.1 668.8L220.5 668.0L220.0 667.2L219.4 666.3L219.1 665.9M217.7 663.7L217.3 663.0L216.7 662.1L216.2 661.3L215.7 660.4L215.2 659.5L214.7 658.7L214.2 657.8L213.7 656.9L213.2 656.1L212.7 655.2L212.6 654.8M211.5 652.7L211.4 652.5L210.9 651.6L210.5 650.7L210.0 649.8L209.6 648.9L209.2 648.0L208.8 647.1L208.4 646.2L208.0 645.3L207.6 644.3L207.2 643.4L206.9 642.5L206.5 641.5L206.5 641.4M171.1 561.8L171.0 562.8L170.9 563.8L170.8 564.8L170.7 565.8L170.7 566.8L170.6 567.8L170.5 568.8L170.5 569.8L170.4 570.8L170.4 571.6M170.2 574.4L170.2 574.8L170.2 575.8L170.2 576.8L170.2 577.8L170.2 578.8L170.2 579.8L170.2 580.5M170.2 582.3L170.2 582.8L170.2 583.8L170.3 584.8L170.3 585.8L170.3 586.8L170.4 587.8L170.4 588.8L170.5 589.8L170.6 590.8L170.7 591.8L170.7 592.8L170.8 593.8L170.9 594.6M171.1 596.4L171.1 596.8L171.2 597.8L171.3 598.8L171.4 599.8L171.6 600.7M250.9 681.3L250.1 680.7L249.3 680.1L248.5 679.5L247.7 678.9L246.9 678.3L246.1 677.7L245.4 677.0L245.0 676.8M243.7 675.7L243.0 675.1L242.3 674.5L241.5 673.9L240.7 673.2L240.0 672.6L239.8 672.4M238.4 671.2L237.7 670.6L237.0 669.9L236.3 669.2L235.5 668.5L234.8 667.9L234.1 667.2L233.3 666.5L232.6 665.8L232.2 665.4M231.1 664.3L230.5 663.7L229.8 663.0L229.1 662.2L228.4 661.5L227.7 660.8L227.0 660.1L226.4 659.3L225.7 658.6L225.0 657.8L224.4 657.1L223.7 656.3L223.1 655.6L222.4 654.8L222.2 654.6M221.0 653.0L220.5 652.5L219.9 651.7L219.3 650.9L218.7 650.1L218.1 649.3L217.5 648.5L216.9 647.7L216.4 646.9L215.8 646.0L215.2 645.2L214.7 644.4L214.2 643.5M217.9 527.9L218.6 527.2L219.4 526.6L220.1 525.9L220.9 525.3L221.7 524.7L222.4 524.0L223.2 523.4L224.1 522.9L224.9 522.3L225.0 522.2M226.4 521.2L226.5 521.2L227.4 520.6L228.2 520.1L229.1 519.6L229.9 519.0L230.8 518.5L231.7 518.1L232.2 517.8M234.8 516.4L235.2 516.2L236.1 515.7L237.0 515.3L237.9 514.9L238.8 514.4L239.7 514.0L240.6 513.6L241.5 513.2L242.5 512.9L243.4 512.5L244.0 512.3M245.3 511.8L246.2 511.4L247.1 511.1L248.1 510.7L249.0 510.4L250.0 510.1L250.9 509.8L251.9 509.5L252.3 509.4M254.2 508.8L254.8 508.7L255.7 508.4L256.7 508.2L257.7 507.9L258.6 507.7L259.6 507.4L260.6 507.2L261.6 507.0L262.5 506.8L262.6 506.8M264.5 506.4L265.5 506.3L266.5 506.1L267.5 505.9L268.5 505.8L269.4 505.6L270.4 505.5L271.4 505.4L272.4 505.3L273.1 505.2M275.5 505.0L276.4 504.9L277.4 504.8L278.4 504.7L279.4 504.7L280.4 504.6L281.4 504.6M158.1 688.3L158.3 687.3L158.5 686.3L158.7 685.3L158.9 684.3L159.0 683.4L159.2 682.4L159.4 681.4L159.6 680.4L159.8 679.4L160.0 678.6M160.5 675.9L160.6 675.5L160.8 674.5L161.0 673.5L161.2 672.6L161.3 671.6L161.5 670.6L161.7 669.6L161.9 668.6L162.1 667.9M162.5 665.7L162.5 665.7L162.7 664.7L162.9 663.7L163.1 662.7L163.3 661.8L163.4 660.8L163.6 659.8L163.8 658.8L164.0 657.8L164.2 656.9L164.4 656.0M164.9 653.6L165.0 652.9L165.2 652.0L165.4 651.0L165.6 650.0L165.8 649.0L166.0 648.0L166.2 647.1L166.4 646.1L166.6 645.1L166.7 644.3M167.3 641.7L167.4 641.2L167.6 640.2L167.8 639.2M189.8 561.0L189.8 562.0L189.8 563.0L189.8 564.0L189.8 565.0L189.8 566.0L189.8 567.0L189.8 568.0L189.8 569.0L189.8 569.4M189.9 571.4L189.9 572.0L189.9 573.0L189.9 574.0L189.9 575.0L189.9 576.0L189.9 576.5M189.9 578.4L189.9 579.0L189.9 580.0L189.9 581.0L189.9 582.0L189.9 583.0L189.9 584.0L189.9 585.0L189.9 586.0L189.9 587.0L189.9 588.0L189.8 589.0L189.8 590.0L189.8 591.0L189.8 592.0L189.8 592.6M189.8 594.9L189.8 595.0L189.8 596.0M113.6 687.9L114.2 687.1L114.8 686.2L115.4 685.4L115.9 684.6L116.5 683.8L117.1 683.0L117.6 682.1L118.2 681.3L118.7 680.5L119.3 679.6L119.8 678.8L120.4 678.0L120.9 677.1L121.4 676.3L121.5 676.2M122.6 674.5L123.0 673.7L123.6 672.9L124.1 672.0L124.6 671.2L125.1 670.3L125.6 669.4L126.1 668.6L126.6 667.7L127.1 666.8L127.2 666.7M128.3 664.6L128.6 664.2L129.0 663.3L129.5 662.5L130.0 661.6L130.5 660.7L130.9 659.8L131.4 658.9L131.8 658.0L132.3 657.1L132.7 656.2L133.2 655.3L133.6 654.4L134.0 653.5L134.4 652.6L134.8 651.8M136.0 649.1L136.1 649.0L136.5 648.1L136.9 647.1L137.3 646.2L137.6 645.3L138.0 644.4L138.4 643.4L138.8 642.5L138.8 642.4M152.2 561.9L152.1 562.9L151.9 563.9L151.8 564.9L151.7 565.9L151.5 566.9L151.4 567.9L151.3 568.8L151.2 569.8L151.1 570.8L151.1 571.8L151.0 572.8L150.9 573.6M150.8 575.4L150.8 575.8L150.8 576.8L150.8 577.8L150.8 578.8L150.8 579.8L150.8 580.8L150.8 581.8L150.8 582.8L150.9 583.8L150.9 584.6M151.0 586.1L151.0 586.8L151.1 587.8L151.2 588.8L151.3 589.8L151.4 590.8L151.5 591.8L151.7 592.8L151.7 593.2M152.0 595.6L152.1 595.8L152.2 596.8L152.4 597.7L152.5 598.7L152.7 599.7M146.2 517.3L146.1 517.1L145.8 516.2L145.5 515.2L145.2 514.3L144.8 513.3L144.5 512.4L144.1 511.5L143.9 511.0M143.1 508.6L142.7 507.7L142.4 506.8L142.0 505.9L141.6 504.9L141.3 504.0L140.9 503.1L140.5 502.2L140.1 501.2L139.7 500.3L139.3 499.4L138.9 498.5L138.5 497.5L138.3 497.0M137.7 495.7L137.7 495.7L137.3 494.8L136.9 493.9L136.5 493.0L136.1 492.1L135.7 491.2L135.3 490.3L134.8 489.3L134.4 488.4L134.3 488.2M133.0 485.5L132.7 484.8L132.2 483.9L131.8 483.1L131.3 482.2L130.9 481.3L130.4 480.4L130.0 479.5L129.5 478.6L129.1 477.7M221.2 684.5L220.7 683.7L220.2 682.8L219.7 681.9L219.2 681.1L218.7 680.2L218.2 679.3L217.7 678.5L217.2 677.6L216.7 676.7L216.2 675.8L215.8 675.0L215.5 674.4M214.7 673.0L214.4 672.3L213.9 671.4L213.4 670.5L213.0 669.6L212.5 668.7L212.1 667.8L211.7 666.9L211.2 666.0L210.8 665.1L210.4 664.2L210.0 663.3L209.6 662.5M208.4 659.8L208.4 659.7L208.0 658.7L207.6 657.8L207.2 656.9L206.8 656.0L206.5 655.0L206.1 654.1L205.8 653.2L205.8 653.1M205.1 651.4L205.1 651.3L204.8 650.3L204.4 649.4L204.1 648.4L203.8 647.5L203.5 646.5L203.2 645.6L203.0 644.6L202.7 643.7L202.4 642.7L202.2 641.7L201.9 640.7L201.7 639.8L201.5 638.8L201.3 637.9M223.0 545.7L223.3 545.8L224.1 546.3L225.0 546.7L225.9 547.2L226.8 547.7L227.6 548.2L228.5 548.7L229.4 549.2L229.5 549.4M231.0 550.3L231.9 550.9L232.7 551.5L233.5 552.1L234.3 552.7L235.1 553.3L235.8 553.9L236.6 554.6L236.8 554.8M238.6 556.5L238.8 556.6L239.5 557.4L240.1 558.1L240.8 558.8L241.4 559.6L242.1 560.4L242.7 561.2L243.2 562.0L243.8 562.8L243.8 562.9M244.6 564.2L244.8 564.6L245.3 565.4L245.8 566.3L246.2 567.2L246.6 568.1L246.9 569.1L247.3 570.0L247.6 571.0L247.9 571.9L248.1 572.9L248.3 573.9L248.5 574.9L248.6 575.9L248.7 576.9L248.7 577.0M248.8 578.9L248.8 579.8L248.8 580.8L248.7 581.8L248.6 582.8L248.5 583.8L248.3 584.8L248.1 585.8L247.9 586.8L247.6 587.7L247.3 588.7L247.0 589.6L246.6 590.6L246.2 591.5L245.8 592.4L245.6 592.8M244.9 594.1L244.9 594.2L244.4 595.0L243.8 595.9L243.3 596.7L242.7 597.5L242.1 598.3L241.5 599.1L240.9 599.9L240.2 600.6L239.5 601.4L238.8 602.1L238.1 602.8L237.4 603.5L236.7 604.2L236.3 604.5M234.5 606.0L234.4 606.1L233.6 606.7L232.8 607.3L231.9 607.9L231.1 608.4L230.3 609.0L229.4 609.5L228.6 610.0L227.7 610.5L226.9 611.1L226.6 611.2M224.9 612.1L224.2 612.5L223.4 613.0L222.5 613.4L221.6 613.9L220.7 614.3L219.8 614.8L218.9 615.2L218.0 615.7L217.1 616.2M292.1 634.2L291.6 634.4L290.6 634.7L289.7 635.1L288.7 635.4L287.8 635.7L286.8 636.0L285.9 636.2L284.9 636.5L283.9 636.8L283.0 637.0L282.0 637.2L281.3 637.4M279.7 637.7L279.1 637.8L278.1 638.0L277.1 638.2L276.1 638.3L275.1 638.5L274.1 638.6L273.1 638.7L272.1 638.9L271.1 639.0L270.1 639.0L269.9 639.1M267.1 639.2L266.2 639.3L265.2 639.3L264.2 639.3L263.2 639.3L262.2 639.3L261.9 639.3M259.1 639.3L258.2 639.2L257.2 639.2L256.2 639.1L255.2 639.0L254.2 638.9L253.2 638.8L252.2 638.7L251.2 638.6L250.2 638.5L249.2 638.3L248.2 638.2L247.2 638.0L246.2 637.8L245.3 637.6L244.3 637.4M241.7 636.8L241.4 636.8L240.4 636.5L239.4 636.3L238.5 636.0L237.5 635.7L236.5 635.4L235.6 635.1L234.6 634.8L233.7 634.5L232.7 634.2L231.8 633.8L230.9 633.5L229.9 633.1L229.0 632.7L228.5 632.5M226.9 631.8L226.3 631.5L225.4 631.1L224.5 630.6L223.6 630.1L222.7 629.7L221.9 629.2L221.0 628.7L220.3 628.2M218.4 626.9L217.7 626.4L216.9 625.8M174.0 515.4L173.8 514.4L173.7 513.4L173.5 512.4L173.4 511.4L173.3 510.4L173.1 509.4L173.0 508.5L172.9 507.5L172.7 506.5L172.6 505.5L172.5 504.5L172.4 503.5L172.3 502.9M172.1 500.8L172.0 500.5L171.9 499.5L171.8 498.5L171.7 497.5L171.6 496.5L171.5 495.6L171.4 494.6L171.2 493.6L171.1 492.6L171.0 491.6L170.9 490.6L170.8 489.6L170.7 488.6L170.6 487.6L170.6 487.1M170.4 485.1L170.3 484.6L170.3 483.6L170.2 482.6L170.1 481.6L170.0 480.6L169.9 479.6M131.3 561.3L131.3 561.6L131.1 562.5L130.9 563.5L130.7 564.5L130.5 565.5L130.3 566.5L130.2 567.5L130.2 567.6M129.8 570.1L129.8 570.4L129.7 571.4L129.6 572.4L129.5 573.4L129.4 574.4L129.3 575.4L129.3 576.4L129.2 577.4L129.2 578.4L129.2 579.4L129.2 580.4L129.2 581.4L129.3 582.4L129.3 583.4L129.4 584.2M129.6 586.9L129.7 587.4L129.8 588.4L129.9 589.4L130.0 590.4L130.2 591.4L130.3 592.4L130.5 593.3L130.7 594.3L130.9 595.3M131.2 597.1L131.3 597.3L131.5 598.2L131.7 599.2L131.9 600.2M173.8 560.1L173.7 561.1L173.6 562.1L173.6 563.1L173.5 564.1L173.4 565.1L173.3 566.1L173.2 567.1L173.2 568.1L173.1 569.1L173.1 569.3M173.0 571.1L173.0 572.1L172.9 573.1L172.9 574.1L172.9 575.1L172.8 576.1L172.8 577.1L172.8 578.1L172.8 579.1L172.8 580.1L172.8 581.1L172.8 582.1L172.8 583.1L172.9 584.1L172.9 584.6M173.0 587.2L173.0 588.1L173.1 589.1L173.1 590.1L173.2 591.1L173.3 592.1L173.3 593.1L173.4 594.1L173.4 594.2M173.5 595.6L173.6 596.0L173.7 597.0L173.8 598.0L173.9 599.0L174.0 600.0L174.1 601.0L174.2 602.0M208.9 519.5L209.3 518.6L209.7 517.6L210.2 516.7L210.6 515.8L211.1 514.9L211.5 514.1L212.0 513.2L212.5 512.3L213.0 511.4L213.5 510.6L214.0 509.7L214.5 508.8L214.7 508.5M216.0 506.4L216.1 506.3L216.6 505.5L217.2 504.6L217.7 503.8L218.3 503.0L218.9 502.2L219.4 501.3L220.0 500.5L220.6 499.7L221.2 498.9L221.8 498.1L222.4 497.3L223.0 496.5L223.6 495.7L223.7 495.7M225.3 493.7L225.5 493.4L226.2 492.6L226.8 491.9L227.4 491.1L228.1 490.3L228.7 489.6L229.4 488.8L230.1 488.1L230.7 487.3L231.4 486.6L231.8 486.1M233.4 484.4L233.4 484.4L234.1 483.6L234.8 482.9M124.5 684.1L125.0 683.3L125.5 682.4L126.0 681.5L126.5 680.7L127.0 679.8L127.4 678.9L127.9 678.0L128.4 677.1L128.9 676.3L129.3 675.4L129.8 674.5L129.9 674.4M131.2 671.9L131.2 671.8L131.6 670.9L132.1 670.1L132.5 669.2L133.0 668.3L133.4 667.4L133.9 666.5L134.3 665.6L134.4 665.4M135.3 663.3L135.6 662.9L136.0 661.9L136.4 661.0L136.8 660.1L137.2 659.2L137.6 658.3L137.8 658.0M138.9 655.4L139.2 654.6L139.6 653.7L140.0 652.8L140.4 651.9L140.8 650.9L141.1 650.0L141.5 649.1L141.8 648.2M142.8 645.6L142.9 645.3L143.3 644.4L143.6 643.5L144.0 642.5L144.3 641.6L144.6 640.6L144.7 640.3M196.7 687.9L196.4 687.0L196.2 686.0L196.0 685.0L195.8 684.0L195.6 683.0L195.4 682.1L195.2 681.1L195.0 680.1L194.9 679.6M194.3 676.8L194.2 676.2L194.0 675.2L193.8 674.2L193.7 673.2L193.5 672.3L193.3 671.3L193.3 671.2M192.9 668.6L192.8 668.3L192.7 667.3L192.5 666.3L192.3 665.3L192.2 664.4L192.1 663.4L191.9 662.4L191.8 661.4L191.6 660.4L191.5 659.4L191.4 658.4L191.3 658.0M191.1 656.1L191.0 655.4L190.9 654.4L190.8 653.4L190.7 652.4L190.7 651.5L190.6 650.5L190.5 649.5L190.4 648.9M190.3 646.2L190.2 645.5L190.2 644.5L190.1 643.5L190.1 642.5L190.1 641.5M186.6 559.8L186.6 560.8L186.6 561.8L186.6 562.8L186.5 563.8L186.5 564.8L186.5 565.8L186.5 566.8L186.5 567.8L186.5 568.8L186.5 569.8L186.5 570.1M186.5 572.8L186.5 572.8L186.5 573.8L186.5 574.8L186.5 575.8L186.5 576.8L186.5 577.8L186.5 578.8L186.5 579.8L186.5 580.8L186.5 581.8L186.5 582.8L186.5 583.8L186.5 584.8L186.5 585.8L186.5 586.2M186.5 588.0L186.5 588.8L186.5 589.8L186.5 590.8L186.5 591.8L186.5 592.8L186.5 593.8L186.5 594.8L186.5 595.8L186.6 596.8L186.6 597.8L186.6 598.8M179.6 685.8L179.6 684.8L179.5 683.8L179.5 682.8L179.5 681.8L179.5 680.8L179.5 679.8L179.5 678.8L179.4 677.8L179.4 676.8L179.4 675.8L179.4 674.8L179.4 674.5M179.4 673.0L179.4 672.8L179.4 671.8L179.4 670.8L179.4 669.8L179.4 668.8L179.4 667.8L179.4 666.8L179.5 665.8L179.5 664.8L179.5 663.8L179.5 662.8L179.5 661.8L179.6 660.8L179.6 659.8L179.6 658.8L179.6 658.4M179.7 656.6L179.7 655.8L179.8 654.8L179.8 653.8L179.8 652.8L179.9 651.8L179.9 650.8L180.0 649.8L180.1 648.8L180.1 647.8L180.2 646.8L180.3 645.8L180.3 645.8M180.4 644.2L180.4 643.8L180.5 642.8L180.6 641.8M206.0 520.4L206.3 519.5L206.7 518.5L207.0 517.6L207.4 516.6L207.7 515.7L208.0 515.0M209.1 512.5L209.3 512.0L209.7 511.1L210.2 510.2L210.6 509.3L211.1 508.4L211.5 507.6L212.0 506.7L212.4 505.8L212.9 504.9L213.4 504.0L213.9 503.2L214.4 502.3L214.8 501.6M215.7 500.1L215.9 499.7L216.4 498.9L217.0 498.0L217.5 497.2L218.0 496.3L218.6 495.5L219.1 494.6L219.7 493.8L220.2 493.0L220.8 492.1L221.2 491.5M222.6 489.6L223.1 488.9L223.7 488.1L224.3 487.3L224.9 486.4L225.5 485.6L226.1 484.8L226.6 484.2M228.0 482.3L228.5 481.7L229.1 480.9L229.8 480.1M144.1 680.8L144.2 680.4L144.5 679.5L144.9 678.5L145.2 677.6L145.5 676.7L145.8 675.7L146.2 674.8L146.5 673.8L146.8 672.9L147.1 671.9L147.5 671.0L147.5 670.9M148.2 668.6L148.4 668.1L148.7 667.2L149.0 666.2L149.3 665.3L149.6 664.3L149.9 663.4L150.2 662.4L150.5 661.5L150.9 660.5L151.2 659.6L151.4 658.6L151.7 657.6L152.0 656.7M152.5 655.2L152.6 654.8L152.9 653.8L153.2 652.9L153.5 651.9L153.8 651.0L154.1 650.0L154.3 649.0L154.6 648.1L154.9 647.1L155.2 646.2L155.5 645.2L155.7 644.2L156.0 643.3L156.3 642.3L156.5 641.3L156.7 640.9M190.4 519.8L190.4 518.8L190.5 517.8L190.5 516.8L190.5 515.8L190.6 514.8L190.6 513.8L190.7 512.8L190.7 511.8L190.8 510.8L190.9 510.1M191.0 508.1L191.1 507.8L191.2 506.8L191.3 505.8L191.4 504.8L191.5 503.8L191.6 502.8L191.7 501.8L191.8 500.9M192.2 498.0L192.2 497.9L192.4 496.9L192.5 495.9L192.7 494.9L192.8 493.9L193.0 492.9L193.2 491.9L193.3 490.9L193.5 490.0L193.7 489.1M194.0 486.9L194.2 486.0L194.4 485.0L194.6 484.1L194.8 483.1L195.0 482.1L195.2 481.1L195.4 480.1L195.6 479.2M108.5 592.5L108.7 592.9L108.9 593.9L109.2 594.8L109.5 595.8L109.9 596.7L110.2 597.7L110.5 598.6L110.9 599.5L111.2 600.5L111.6 601.4L111.9 602.4M143.5 557.2L143.3 558.2L143.1 559.2L143.0 560.2L142.8 561.1L142.6 562.1L142.4 563.1L142.3 564.1L142.1 565.1L142.0 566.1L141.8 567.1L141.7 567.9M141.4 570.9L141.4 571.0L141.3 572.0L141.2 573.0L141.1 574.0L141.1 575.0L141.0 576.0M141.0 578.2L141.0 579.0L141.0 580.0L141.0 581.0L141.0 582.0L141.1 583.0L141.1 584.0L141.2 585.0L141.2 586.0L141.3 587.0L141.4 588.0L141.5 589.0L141.6 590.0L141.7 590.5M142.1 593.4L142.2 594.0L142.3 595.0M91.9 647.7L92.3 647.5L93.1 647.0L94.0 646.4L94.8 645.9L95.6 645.3L96.5 644.8L96.7 644.6M98.4 643.4L98.9 643.0L99.7 642.4L100.4 641.7L101.2 641.1L101.9 640.4L102.7 639.8L103.4 639.1L104.1 638.4L104.8 637.6M183.4 561.7L183.4 562.7L183.3 563.7L183.3 564.7L183.3 565.7L183.2 566.7L183.2 567.7L183.2 568.7L183.2 569.2M183.1 570.9L183.1 571.7L183.1 572.7L183.1 573.7L183.1 574.7L183.1 575.7L183.1 576.7L183.1 577.7L183.1 578.7L183.1 579.7L183.1 580.7L183.1 580.8M183.1 583.6L183.1 583.7L183.1 584.7L183.1 585.7L183.1 586.7L183.1 587.7L183.2 588.7L183.2 589.7L183.2 590.7L183.2 591.7L183.3 592.7L183.3 593.7L183.3 594.7L183.4 595.7L183.4 596.5M183.5 598.2L183.5 598.7L183.6 599.7L183.6 600.7L183.7 601.7M202.3 564.4L202.5 565.4L202.6 566.4L202.7 567.4L202.9 568.4L203.0 569.4L203.1 570.4L203.2 571.4L203.2 572.4L203.3 573.4L203.4 574.4L203.4 575.4L203.5 575.9M203.5 577.9L203.5 578.4L203.5 579.4L203.5 580.4L203.5 581.4L203.5 582.4L203.4 583.4L203.4 584.4L203.3 585.1M203.2 587.4L203.1 588.4L203.0 589.4L202.9 590.3L202.7 591.3L202.6 592.3L202.5 593.3L202.4 594.3L202.2 595.3L202.1 596.3L201.9 597.3L201.8 598.3M162.6 563.3L162.5 564.3L162.4 565.3L162.3 566.3L162.2 567.3L162.1 568.3L162.1 568.6M161.9 570.3L161.9 570.3L161.8 571.3L161.8 572.3L161.7 573.3L161.7 574.3L161.6 575.3L161.6 576.3L161.6 577.3L161.6 578.3L161.6 579.3L161.6 580.3L161.6 581.3L161.6 582.3L161.6 583.3L161.6 583.3M161.7 585.7L161.8 586.3L161.8 587.3L161.9 588.3L162.0 589.3L162.1 590.3L162.2 591.3L162.3 592.2L162.4 593.2L162.5 594.2L162.6 595.2L162.7 596.2M221.4 554.1L222.1 554.8L222.7 555.6L223.3 556.4L223.9 557.2L224.5 558.0L225.1 558.8L225.7 559.6L226.1 560.3M226.9 561.5L227.3 562.2L227.8 563.0L228.3 563.9L228.8 564.8L229.2 565.7L229.6 566.6L230.0 567.5L230.4 568.4L230.7 569.4L231.0 570.3L231.3 571.3L231.6 572.3L231.8 573.2L232.0 574.2L232.0 574.7M232.3 576.5L232.3 577.2L232.4 578.2L232.4 579.2L232.4 580.2L232.4 581.2L232.3 582.2L232.2 582.7M231.9 584.9L231.9 585.2L231.6 586.1L231.4 587.1L231.1 588.1L230.8 589.0L230.5 590.0L230.2 590.9L229.8 591.8L229.4 592.7L229.0 593.6L228.5 594.5L228.5 594.6M227.5 596.4L227.0 597.1L226.5 598.0L225.9 598.8L225.4 599.7L224.8 600.5L224.2 601.3L223.6 602.1L223.0 602.9L222.3 603.6L221.7 604.4L221.1 605.2L220.8 605.5M219.4 607.1L219.1 607.4M122.5 565.3L122.4 565.6L122.3 566.6L122.1 567.5L121.9 568.5L121.7 569.5L121.6 570.5L121.5 571.5L121.3 572.5L121.2 573.5L121.1 574.5L121.1 575.5L121.0 576.5L121.0 577.5L121.0 577.6M121.0 580.5L121.0 580.5L121.0 581.5L121.0 582.5L121.1 583.5L121.2 584.5L121.3 585.5L121.4 586.5L121.5 587.5L121.6 588.1M121.8 589.6L121.9 590.4L122.1 591.4L122.3 592.4L122.5 593.4L122.7 594.3L122.9 595.3L123.1 596.3M225.1 529.3L226.0 528.9L226.9 528.6L227.8 528.2L228.8 527.8L229.7 527.5L230.7 527.2L231.5 526.9M233.8 526.2L234.5 526.0L235.4 525.7L236.4 525.4L237.4 525.2L238.4 525.0L239.3 524.8L240.3 524.5L241.3 524.4L242.3 524.2L243.3 524.0L243.9 523.9M246.2 523.5L247.2 523.4L248.2 523.3L249.2 523.2L250.2 523.1L251.2 523.0L252.2 523.0L253.2 522.9L254.2 522.9L255.2 522.8L256.2 522.8L257.0 522.8M260.0 522.8L260.2 522.8L261.2 522.9L262.2 522.9L263.2 523.0L264.2 523.1L265.2 523.1L265.9 523.2M267.8 523.4L268.2 523.5L269.2 523.6L270.1 523.7L271.1 523.9L272.1 524.1L273.1 524.3L273.7 524.4M275.3 524.7L276.0 524.9L277.0 525.1L278.0 525.4L278.9 525.6L279.9 525.9L280.9 526.2L281.8 526.5L282.8 526.8L283.7 527.1L284.7 527.4L285.6 527.8L286.5 528.1L287.1 528.3M288.9 529.1L289.3 529.3L290.2 529.7L291.1 530.1L292.0 530.5M215.7 558.5L216.1 559.4L216.5 560.3L216.9 561.2L217.3 562.2L217.7 563.1L218.1 564.0L218.4 564.9L218.5 565.2M219.0 566.6L219.1 566.8L219.4 567.8L219.7 568.7L219.9 569.7L220.2 570.7L220.4 571.6L220.6 572.6L220.8 573.6L220.9 574.6L221.0 575.6L221.1 576.6L221.2 577.6L221.2 578.6L221.2 579.6L221.2 580.6L221.2 580.6M221.1 582.7L221.0 583.6L220.9 584.6L220.7 585.6L220.5 586.5L220.3 587.5L220.1 588.5L219.9 589.5L219.6 590.4L219.3 591.4L219.0 592.2M218.4 593.9L218.3 594.2L217.9 595.1L217.6 596.1L217.2 597.0M143.6 520.8L143.2 519.9L142.9 518.9L142.6 518.0L142.2 517.1L141.9 516.1L141.5 515.2L141.2 514.2L140.8 513.3L140.5 512.4L140.1 511.5L139.7 510.5L139.4 509.6L139.0 508.7L138.6 507.8L138.3 507.0M137.2 504.6L137.0 504.1L136.6 503.2L136.2 502.3L135.8 501.4L135.3 500.4L134.9 499.5L134.5 498.6L134.0 497.7L133.6 496.8L133.2 495.9L132.7 495.0L132.7 494.9M131.6 492.9L131.4 492.4L130.9 491.5L130.5 490.6L130.0 489.7L129.5 488.8L129.0 487.9L128.6 487.1L128.1 486.2L127.6 485.3L127.5 485.1M126.8 483.8L126.6 483.6L126.1 482.7L125.6 481.8M254.6 677.6L253.8 677.0L252.9 676.5L252.1 675.9L251.3 675.4L250.5 674.8L249.6 674.3L248.8 673.7L248.0 673.1L247.2 672.5L246.4 672.0L245.5 671.4L244.7 670.8L243.9 670.2L243.1 669.6L242.6 669.2M240.8 667.8L240.8 667.8L240.0 667.1L239.2 666.5L238.4 665.9L237.6 665.2L236.9 664.6L236.1 664.0L235.4 663.3L234.6 662.7L233.8 662.0L233.1 661.3L232.8 661.1M231.5 659.9L230.9 659.3L230.2 658.6L229.4 657.9L228.7 657.2L228.0 656.5L227.3 655.8L226.6 655.1L225.9 654.4L225.2 653.7L224.8 653.2M223.5 651.9L223.2 651.5L222.5 650.7L221.8 650.0L221.2 649.2L220.5 648.5L219.9 647.7L219.3 646.9L218.6 646.1L218.0 645.3L217.4 644.5L217.3 644.4M135.4 565.0L135.4 565.1L135.3 566.1L135.1 567.1L135.0 568.1L134.8 569.1L134.7 570.1L134.6 571.1L134.5 572.0L134.4 573.0L134.3 574.0L134.3 575.0L134.2 575.9M134.2 578.3L134.2 579.0L134.2 580.0L134.2 581.0L134.2 582.0L134.2 583.0L134.3 584.0L134.4 585.0L134.4 586.0L134.5 587.0L134.6 588.0L134.8 589.0L134.9 589.9M135.1 591.7L135.1 592.0L135.3 593.0L135.5 594.0L135.6 594.9L135.8 595.9L136.0 596.9L136.2 597.9L136.4 598.9M285.5 646.2L284.7 646.3L283.7 646.4L282.7 646.4L281.7 646.5L280.7 646.6L279.7 646.7L278.7 646.7L277.7 646.8L277.1 646.8M274.1 646.8L273.7 646.8L272.7 646.8L271.7 646.8L270.7 646.8L269.7 646.7L268.7 646.7L267.9 646.6M265.7 646.5L264.7 646.4L263.7 646.3L262.7 646.2L261.7 646.1L260.8 645.9L259.8 645.8L258.8 645.6L257.8 645.5L256.8 645.3L255.8 645.1L254.8 645.0L253.9 644.8L253.2 644.6M250.4 644.0L250.0 643.9L249.0 643.6L248.0 643.4L247.0 643.1L246.1 642.9L245.4 642.6M242.7 641.8L242.3 641.7L241.3 641.4L240.4 641.0L239.4 640.7L238.5 640.3L237.6 640.0L236.6 639.6L235.7 639.2L235.0 638.9M233.3 638.2L233.0 638.0L232.1 637.6L231.2 637.2L230.3 636.7L229.4 636.3L228.5 635.8L227.6 635.3L226.7 634.9L225.9 634.4L225.0 633.8L224.1 633.3L223.3 632.8L222.5 632.2L221.6 631.7L220.8 631.1L220.6 630.9M219.1 629.7L218.5 629.2L217.7 628.6L217.0 627.9M220.8 518.7L221.5 518.0L222.2 517.3L222.9 516.6L223.6 515.9L224.4 515.3L225.1 514.6L225.9 514.0L226.6 513.3L227.4 512.7L227.5 512.6M228.8 511.5L229.0 511.4L229.8 510.8L230.6 510.2L231.4 509.6L232.2 509.0L233.0 508.4L233.8 507.8L234.6 507.3L234.8 507.1M236.5 505.9L237.1 505.6L237.9 505.0L238.8 504.5L239.6 504.0L240.5 503.4L241.3 502.9L242.2 502.4L243.0 501.9L243.9 501.4L244.8 500.9L245.7 500.4L246.5 500.0L246.8 499.8M248.8 498.8L249.2 498.6L250.1 498.1L251.0 497.7L251.9 497.2L252.8 496.8L253.7 496.4L254.6 495.9L255.4 495.6M257.3 494.7L257.3 494.7L258.2 494.3L259.2 493.9L260.1 493.5L261.0 493.2L261.9 492.8L262.9 492.4L263.8 492.1L264.7 491.7L265.7 491.4L266.6 491.0L267.6 490.7L268.5 490.4M144.8 563.3L144.7 564.2L144.5 565.2L144.4 566.2L144.2 567.2L144.1 568.2L144.0 569.2L143.9 570.2L143.8 571.2L143.7 572.2L143.6 573.2L143.6 574.2L143.5 575.2L143.5 576.2L143.5 577.2L143.5 577.2M143.4 578.9L143.4 579.2L143.4 580.2L143.4 581.2L143.5 582.2L143.5 583.2L143.6 584.2L143.6 585.2L143.7 586.2L143.8 587.2L143.9 588.2L144.0 589.1L144.1 590.1L144.1 590.5M144.4 592.9L144.4 593.1L144.6 594.1L144.7 595.1M140.2 562.9L140.1 563.9L139.9 564.9L139.8 565.9L139.6 566.9L139.5 567.9L139.5 568.1M139.3 569.5L139.3 569.9L139.2 570.9L139.1 571.9L139.0 572.9L138.9 573.9L138.8 574.9L138.8 575.9L138.8 576.9L138.7 577.9L138.7 578.9L138.7 579.9L138.7 580.9L138.7 581.5M138.9 584.2L138.9 584.8L139.0 585.8L139.0 586.8L139.1 587.8L139.2 588.8L139.4 589.8M139.5 591.2L139.6 591.8L139.8 592.8L139.9 593.8L140.1 594.8M94.1 521.1L93.2 520.7L92.3 520.2L91.4 519.8L90.5 519.3M129.4 518.5L129.0 517.6L128.6 516.7L128.2 515.8L127.7 514.9L127.3 514.0L126.9 513.1L126.4 512.2L125.9 511.3L125.5 510.5L125.0 509.6L124.6 508.9M123.6 507.2L123.5 507.0L123.0 506.1L122.5 505.3L121.9 504.4L121.4 503.6L120.9 502.7L120.3 501.9L120.2 501.7M118.8 499.6L118.6 499.4L118.1 498.6L117.5 497.8L116.9 496.9L116.3 496.1L115.7 495.3L115.1 494.5L114.5 493.7L113.9 492.9L113.5 492.3M112.2 490.7L112.1 490.6L111.4 489.8L110.8 489.0L110.2 488.3L109.5 487.5L108.9 486.7L108.2 486.0L107.6 485.2L106.9 484.5L106.2 483.7L105.6 483.0L104.9 482.2L104.2 481.5L103.5 480.8L103.1 480.3M237.4 678.8L237.3 678.8L236.6 678.1L236.0 677.4L235.3 676.7L234.6 675.9L233.9 675.2L233.2 674.5L232.5 673.7L231.9 673.0M229.9 670.9L229.8 670.8L229.2 670.0L228.5 669.3L227.9 668.5L227.2 667.7L226.6 667.0L226.0 666.2L225.3 665.4L224.7 664.6L224.1 663.9L223.5 663.1L223.1 662.7M221.3 660.3L221.0 659.9L220.4 659.1L219.9 658.3L219.3 657.5L218.7 656.6L218.1 655.8L217.6 655.0L217.0 654.2L216.5 653.3L215.9 652.5L215.4 651.6L214.9 650.8L214.3 649.9L214.3 649.9M213.2 648.0L212.8 647.4L212.3 646.5L211.9 645.6L211.4 644.7L210.9 643.8M201.5 518.3L201.8 517.3L202.0 516.3L202.3 515.4L202.5 514.4L202.8 513.4L203.1 512.5L203.3 511.5L203.6 510.6L203.9 509.6L204.3 508.7L204.6 507.7L204.9 506.8L205.2 505.8L205.6 504.9L205.8 504.3M206.7 501.9L207.0 501.1L207.4 500.2L207.8 499.3L208.1 498.4L208.5 497.4L208.9 496.5L209.3 495.6L209.7 494.7L210.2 493.8L210.6 492.9L211.0 492.0L211.4 491.1L211.8 490.2L211.9 490.0M212.6 488.6L212.7 488.4L213.2 487.5L213.6 486.6L214.1 485.7L214.5 484.8L215.0 483.9L215.5 483.0L215.9 482.1L216.4 481.3L216.9 480.4L217.3 479.5L217.4 479.4M177.2 515.3L177.1 514.3L177.0 513.3L176.8 512.3L176.7 511.3L176.6 510.3L176.5 509.3L176.5 508.3L176.4 507.3L176.3 506.6M176.2 505.0L176.1 504.3L176.0 503.3L175.9 502.3L175.9 501.3L175.8 500.3L175.7 499.3L175.6 498.3L175.6 497.3L175.5 496.3L175.4 495.3L175.4 494.3L175.3 493.3L175.3 492.8M175.2 490.9L175.1 490.3L175.1 489.3L175.0 488.3L175.0 487.3L174.9 486.3L174.9 485.3L174.8 484.3L174.8 483.3L174.7 482.3L174.7 481.3L174.6 480.6M174.6 478.8L174.6 478.4L174.5 477.4M227.1 531.9L227.3 531.9L228.2 531.6L229.2 531.4L230.2 531.2L231.2 531.0L232.2 530.8L233.1 530.6L234.1 530.5L235.1 530.3L236.1 530.2L237.1 530.1L238.1 529.9L239.1 529.9L240.1 529.8L241.1 529.7L241.9 529.6M243.9 529.6L244.1 529.6L245.1 529.5L246.1 529.5L247.1 529.5L248.1 529.6L249.1 529.6L250.1 529.7L251.1 529.7L252.1 529.8L253.1 529.9L254.1 530.0L254.3 530.0M257.0 530.3L257.0 530.4L258.0 530.5L259.0 530.7L260.0 530.9L261.0 531.1L261.9 531.3L262.9 531.5L263.9 531.7L263.9 531.7M266.0 532.3L266.8 532.5L267.7 532.8L268.7 533.1L269.6 533.5L270.6 533.8L271.5 534.1L272.4 534.5L272.9 534.7M275.2 535.7L276.1 536.1L277.0 536.6L277.9 537.0L278.8 537.5L279.7 538.0L280.5 538.5L281.4 539.0L282.2 539.5L283.1 540.0L283.9 540.6L284.7 541.1L285.1 541.4M287.3 543.1L287.9 543.6L288.7 544.2L289.5 544.9L290.2 545.5L290.9 546.2L291.7 546.9L292.2 547.5M294.1 549.5L294.4 549.8L295.0 550.6L295.7 551.3L296.3 552.1L296.9 552.9L297.5 553.7L298.0 554.6L298.6 555.4M203.3 519.3L203.5 518.3L203.8 517.4L204.1 516.4L204.4 515.5L204.7 514.5L205.0 513.6L205.3 512.6L205.7 511.7L206.0 510.7L206.3 509.8L206.7 508.9L207.1 507.9L207.4 507.0M208.4 504.8L208.6 504.2L209.0 503.3L209.4 502.4L209.9 501.5L210.3 500.6L210.7 499.7L211.1 498.8L211.6 497.9L212.0 497.0L212.5 496.1L212.9 495.2L213.3 494.4M214.6 492.1L214.8 491.7L215.3 490.8L215.8 489.9L216.3 489.1L216.8 488.2L217.2 487.5M218.0 486.1L218.3 485.6L218.8 484.8L219.3 483.9L219.8 483.0L220.4 482.2L220.9 481.3L221.4 480.5L221.9 479.7L222.5 478.8L223.0 478.0L223.5 477.2M196.8 561.3L196.9 561.8L197.0 562.8L197.0 563.8L197.1 564.8L197.2 565.8L197.3 566.8L197.3 567.2M197.4 569.6L197.4 569.8L197.5 570.8L197.6 571.8L197.6 572.8L197.6 573.8L197.7 574.8L197.7 575.8L197.7 576.8L197.8 577.8L197.8 578.8L197.8 579.8L197.8 580.8L197.7 581.8L197.7 582.8L197.7 583.3M197.6 585.6L197.6 585.8L197.6 586.8L197.5 587.8L197.5 588.8L197.4 589.8L197.3 590.8L197.3 591.8L197.2 592.8L197.2 593.0M197.0 595.5L197.0 595.8L196.9 596.8L196.8 597.8L196.7 598.8L196.7 599.8M148.4 686.6L148.7 685.6L149.0 684.7L149.2 683.7L149.5 682.8L149.8 681.8L150.1 680.8L150.4 679.9L150.6 678.9L150.9 678.0L151.2 677.0L151.5 676.0L151.7 675.1L151.8 674.7M152.6 671.9L152.8 671.2L153.1 670.3L153.4 669.3L153.6 668.3L153.9 667.4L154.2 666.4L154.3 665.8M154.9 663.7L155.0 663.5L155.2 662.5L155.5 661.6L155.7 660.6L156.0 659.6L156.3 658.7L156.5 657.7L156.8 656.7L157.0 655.8L157.3 654.8L157.6 653.8L157.8 652.9L158.1 651.9L158.1 651.9M158.5 650.4L158.6 650.0L158.8 649.0L159.1 648.0L159.3 647.1L159.6 646.1L159.8 645.1L160.0 644.3M160.5 642.5L160.5 642.2L160.8 641.3L161.0 640.3L161.3 639.3L161.5 638.3L161.7 637.4M111.1 558.2L110.8 559.2L110.5 560.1L110.1 561.1L109.8 562.0L109.5 562.9L109.2 563.9L108.9 564.8L108.6 565.8L108.3 566.8M216.4 685.4L215.9 684.5L215.5 683.6L215.0 682.7L214.6 681.8L214.2 680.9L213.7 680.0L213.6 679.8M212.9 678.3L212.9 678.2L212.4 677.3L212.0 676.4L211.6 675.5L211.2 674.6L210.8 673.7L210.4 672.8L210.0 671.8L209.8 671.5M209.1 670.0L208.8 669.1L208.4 668.2L208.0 667.2L207.6 666.3L207.3 665.4L206.9 664.5L206.8 664.2M205.9 661.8L205.8 661.7L205.5 660.7L205.1 659.8L204.8 658.8L204.5 657.9L204.1 657.0L203.8 656.0L203.5 655.1L203.2 654.1L202.9 653.1L202.6 652.2L202.3 651.2L202.0 650.3L201.8 649.3L201.5 648.3L201.3 647.5M200.6 644.8L200.6 644.5L200.3 643.5L200.1 642.5L199.9 641.5L199.7 640.5M90.3 666.8L91.1 666.2L91.9 665.6L92.7 665.1L93.5 664.5L94.3 663.9L95.1 663.2L95.9 662.6L96.5 662.1M98.6 660.4L99.0 660.1L99.7 659.4L100.5 658.8L101.2 658.1L101.9 657.4L102.7 656.7L103.4 656.1L104.1 655.4L104.8 654.7L105.5 654.0L106.2 653.2L106.9 652.5L107.6 651.8L107.8 651.5M108.9 650.3L108.9 650.3L109.6 649.5L110.2 648.8L110.9 648.0L111.5 647.2L112.1 646.4L112.7 645.6L113.3 644.8L113.9 644.0L114.4 643.2L115.0 642.3L115.5 641.5L116.1 640.6L116.1 640.6M117.4 638.3L117.6 638.0L118.0 637.2M119.1 560.0L119.0 560.2L118.8 561.2L118.5 562.1L118.3 563.1L118.0 564.1L117.8 565.0L117.6 566.0L117.3 567.0L117.3 567.4M116.9 569.5L116.8 569.9L116.6 570.9L116.5 571.9L116.4 572.9L116.2 573.9L116.2 574.9L116.1 575.1M116.0 577.0L116.0 577.9L116.0 578.9L116.0 579.9L116.0 580.9L116.0 581.9L116.1 582.9L116.2 583.9L116.2 584.1M116.3 585.6L116.4 585.9L116.5 586.9L116.6 587.9L116.8 588.9L117.0 589.8L117.1 590.8L117.3 591.7M118.0 594.5L118.0 594.7M128.1 688.0L128.6 687.2L129.0 686.3L129.5 685.4L129.9 684.5L130.4 683.6L130.8 682.7L131.3 681.8L131.5 681.4M132.3 679.8L132.6 679.1L133.0 678.2L133.5 677.3L133.9 676.4L134.3 675.5L134.7 674.6L134.8 674.6M135.5 673.0L135.6 672.8L136.0 671.9L136.4 671.0L136.8 670.0L137.2 669.1L137.6 668.2L138.0 667.3L138.4 666.4L138.8 665.5L139.2 664.5L139.6 663.7M140.2 662.2L140.4 661.8L140.8 660.9L141.2 659.9L141.5 659.0L141.9 658.1L142.3 657.1L142.5 656.7M143.4 654.1L143.7 653.4L144.1 652.5L144.4 651.5L144.8 650.6L145.1 649.7L145.5 648.7L145.8 647.8L146.1 646.8L146.5 645.9L146.8 645.0L147.0 644.4M147.5 642.7L147.8 642.1L148.1 641.2L148.4 640.2M227.8 685.9L227.7 685.7L227.1 684.9L226.6 684.1L226.0 683.3L225.4 682.4L224.9 681.7M224.1 680.5L223.7 680.0L223.2 679.1L222.6 678.3L222.1 677.4L221.5 676.6L221.0 675.8L220.6 675.1M219.6 673.6L219.4 673.2L218.9 672.4L218.4 671.5L217.9 670.7L217.3 669.8L216.8 668.9L216.3 668.1L215.8 667.2L215.4 666.3L214.9 665.5L214.4 664.6L213.9 663.7L213.4 662.8L213.3 662.5M212.4 660.7L212.1 660.2L211.6 659.3L211.2 658.4L210.7 657.5L210.3 656.6L210.0 655.8M209.2 654.3L209.0 653.8L208.6 652.9L208.2 652.0L207.8 651.1L207.5 650.2L207.1 649.2L206.7 648.3L206.4 647.4L206.0 646.4L205.7 645.5L205.4 644.7M204.5 642.0L204.4 641.7L204.1 640.7L203.9 639.8M175.1 689.6L175.1 688.6L175.1 687.6L175.1 686.6L175.2 685.6L175.2 684.6L175.2 683.6L175.2 682.6L175.3 681.6L175.3 680.6L175.3 679.6L175.4 678.6L175.4 677.7M175.5 675.0L175.5 674.6L175.5 673.6L175.6 672.6L175.6 671.6L175.7 670.7L175.7 669.7L175.8 668.7L175.8 667.7L175.9 666.7L175.9 666.3M176.0 663.8L176.0 663.7L176.1 662.7L176.2 661.7L176.2 660.7L176.3 659.7L176.3 658.7L176.4 657.7L176.5 656.7L176.5 656.6M176.7 654.3L176.7 653.7L176.8 652.7L176.9 651.7L177.0 650.7L177.1 649.7L177.2 648.7L177.2 647.7L177.3 646.7L177.4 645.7L177.5 644.7L177.6 644.7M183.9 517.8L183.9 517.7L183.8 516.7L183.8 515.7L183.7 514.7L183.7 513.7L183.7 512.7L183.6 511.7L183.6 510.7L183.6 509.9M183.6 508.0L183.6 507.7L183.6 506.7L183.6 505.7L183.6 504.7L183.6 503.7L183.6 502.7L183.6 501.7M183.6 498.9L183.6 498.7L183.7 497.7L183.7 496.7L183.7 495.7L183.7 494.7L183.8 493.7L183.8 492.7L183.9 491.7L183.9 490.7L183.9 489.7L184.0 489.3M184.1 487.7L184.1 487.7L184.1 486.7L184.2 485.7L184.2 484.7L184.3 483.7L184.3 482.7L184.4 481.7L184.5 480.7M112.7 562.1L112.4 563.1L112.1 564.0L111.9 565.0L111.6 566.0L111.3 566.9L111.1 567.9L110.9 568.9L110.7 569.8M110.2 572.6L110.2 572.8L110.1 573.8L109.9 574.8L109.9 575.8L109.8 576.8L109.7 577.8L109.7 578.8L109.7 579.4M109.8 582.1L109.8 582.8L109.9 583.8L110.0 584.8L110.2 585.8L110.3 586.8L110.5 587.7L110.6 588.7L110.8 589.7L111.1 590.7L111.3 591.7L111.5 592.6L111.8 593.6L112.1 594.6L112.3 595.5M99.6 520.5L98.8 519.9L98.0 519.3L97.2 518.8L96.4 518.2L95.5 517.6L94.7 517.1L93.8 516.6L93.6 516.5M231.4 533.9L231.4 533.9L232.4 533.8L233.4 533.8L234.4 533.7L235.4 533.7L236.4 533.7L237.4 533.7L238.4 533.7L239.4 533.7L240.3 533.7M242.9 533.8L243.4 533.9L244.4 534.0L245.4 534.1L246.4 534.2L247.3 534.3L248.3 534.5M250.6 534.8L251.3 535.0L252.3 535.2L253.2 535.4L254.2 535.6L255.2 535.9L256.2 536.2L257.1 536.4L258.1 536.7L259.0 537.0L260.0 537.4L260.9 537.7L261.8 538.0L261.8 538.0M264.0 538.9L264.6 539.2L265.5 539.6L266.4 540.0L267.3 540.5L268.2 541.0L269.1 541.4L270.0 541.9L270.8 542.4L271.7 543.0L271.8 543.1M273.4 544.1L274.2 544.6L275.0 545.2L275.8 545.8L276.6 546.4L277.3 547.1L278.1 547.7L278.8 548.4L279.1 548.6M280.9 550.3L281.0 550.5L281.7 551.2L282.4 551.9L283.0 552.7L283.7 553.4L284.3 554.2L284.9 555.0L285.5 555.8L286.1 556.6L286.6 557.5L287.1 558.3L287.7 559.2L288.2 560.0M289.3 562.3L289.5 562.7L289.9 563.6L290.3 564.6L290.7 565.5L291.0 566.4L291.3 567.4L291.6 568.1M292.2 570.3L292.4 571.2L292.6 572.2L292.7 573.2L292.9 574.2L293.0 575.2L293.1 576.2L293.2 577.2L293.2 578.2L293.2 578.2M293.2 579.8L293.2 580.2L293.2 581.2L293.1 582.2L293.0 583.2L292.9 584.2L292.8 585.2L292.7 585.5M292.4 587.1L292.2 588.1L292.0 589.1L291.7 590.0L291.5 591.0L291.2 592.0L290.8 592.9L290.5 593.8L290.1 594.8L289.7 595.7L289.3 596.6L289.2 596.8M288.0 599.1L287.9 599.2L287.4 600.1L286.8 601.0L286.3 601.8L285.7 602.6L285.2 603.4L284.6 604.2L283.9 605.0L283.3 605.8L282.7 606.5L282.0 607.3L281.3 608.0L280.6 608.7L279.9 609.4L279.2 610.1L278.6 610.6M276.8 612.2L276.1 612.7L275.3 613.3L274.5 613.9L273.7 614.5L272.9 615.1L272.0 615.6L271.2 616.1L270.3 616.7L269.5 617.2L268.6 617.6L267.7 618.1L266.8 618.6L265.9 619.0L265.0 619.4L264.6 619.6M261.9 620.7L261.3 621.0L260.4 621.3L259.4 621.6L258.5 621.9L257.5 622.2L256.6 622.5L255.6 622.8L254.6 623.1L254.1 623.2M252.0 623.7L251.7 623.7L250.7 623.9L249.8 624.1L248.8 624.3L247.8 624.4L246.8 624.6L245.8 624.7L245.7 624.7M243.9 624.9L243.8 624.9L242.8 625.0L241.8 625.0L240.8 625.1L239.8 625.1L238.8 625.1L237.8 625.1L236.8 625.1L235.8 625.1L234.8 625.1L233.8 625.0L232.8 625.0L232.6 625.0M211.7 561.8L211.8 562.1L212.1 563.1L212.4 564.0L212.6 565.0L212.9 565.9L213.2 566.9L213.4 567.9L213.6 568.9L213.8 569.8L214.0 570.8L214.2 571.8L214.3 572.8L214.5 573.8L214.6 574.5M214.7 576.1L214.7 576.8L214.8 577.8L214.8 578.8L214.8 579.8L214.8 580.8L214.8 581.8L214.7 582.8L214.6 583.8L214.5 584.8L214.4 585.7L214.2 586.7L214.1 587.4M213.8 589.2L213.7 589.7L213.5 590.7L213.2 591.6L213.0 592.6L212.7 593.6L212.4 594.5L212.1 595.5L211.8 596.4L211.5 597.4L211.2 598.3L210.9 599.3L210.6 600.1M183.5 682.7L183.5 681.7L183.4 680.7L183.4 679.7L183.3 678.7L183.2 677.7L183.2 676.7L183.1 675.7L183.1 674.7L183.0 673.7L183.0 672.7L183.0 672.7M182.9 670.3L182.9 669.7L182.8 668.7L182.8 667.7L182.8 666.7L182.8 665.7L182.7 664.7L182.7 663.7L182.7 662.7L182.7 662.7M182.7 661.0L182.7 660.7L182.6 659.7L182.6 658.7L182.6 657.7L182.6 656.7L182.6 655.7L182.6 654.7L182.7 653.7L182.7 653.5M182.7 650.7L182.7 649.7L182.8 648.7L182.8 647.7L182.8 646.7L182.9 645.7L182.9 644.7L183.0 643.7L183.0 642.7L183.1 641.7L183.1 640.7M217.8 523.9L218.5 523.2L219.2 522.5L219.9 521.8L220.6 521.1L221.4 520.4L222.1 519.7L222.9 519.0L223.6 518.4L224.4 517.7L225.1 517.1L225.9 516.5L226.7 515.8L227.5 515.2L228.3 514.6L228.9 514.2M231.1 512.6L231.5 512.3L232.4 511.7L233.2 511.2L234.0 510.6L234.9 510.1L235.7 509.6L236.6 509.0L237.4 508.5L238.0 508.2M240.1 507.0L240.9 506.5L241.8 506.1L242.7 505.6L243.6 505.1L244.4 504.7L245.3 504.2L246.2 503.8L246.5 503.7M248.6 502.7L248.9 502.5L249.9 502.1L250.8 501.7L251.7 501.3L252.6 500.9L253.5 500.5L254.4 500.1L255.4 499.7L256.3 499.4L256.8 499.2M259.0 498.4L259.1 498.3L260.1 498.0L261.0 497.6L261.9 497.3L262.9 497.0L263.8 496.7L264.8 496.4L265.8 496.1L266.7 495.8L267.7 495.5L268.3 495.3M270.9 494.6L271.5 494.5L272.5 494.2L273.5 494.0L274.4 493.7L275.4 493.5" fill="none" stroke="#575757" stroke-width="0.75" stroke-linecap="round"/><path d="M569.6 449.3L570.1 450.1L570.7 450.9L571.3 451.8L571.8 452.6L572.4 453.4L572.9 454.3L573.5 455.1L574.1 455.9L574.6 456.7L575.2 457.6L575.7 458.4L576.3 459.2L576.9 460.1L577.4 460.9L577.6 461.2M579.1 463.4L579.6 464.2L580.2 465.1L580.7 465.9L581.3 466.7L581.8 467.6L582.4 468.4L582.9 469.3L583.4 470.1L584.0 470.9L584.5 471.8L585.1 472.6L585.6 473.5L586.1 474.3L586.6 475.2L586.9 475.5M587.9 477.2L588.2 477.7L588.7 478.6L589.3 479.4L589.8 480.3L590.3 481.1L590.8 482.0M534.7 450.8L535.0 451.7L535.2 452.7L535.4 453.7L535.6 454.6L535.8 455.6L536.0 456.6L536.1 457.6L536.2 458.6L536.3 459.6L536.4 460.6L536.4 461.4M536.5 463.1L536.5 463.6L536.5 464.6L536.5 465.6L536.4 466.6L536.4 467.6L536.3 468.6L536.3 469.6L536.2 470.6L536.1 471.6L536.0 472.6L535.9 472.8M535.6 475.0L535.5 475.5L535.4 476.5L535.2 477.5L535.0 478.5L534.8 479.5L534.6 480.4L534.3 481.4L534.1 482.4L533.8 483.3L533.6 484.3L533.3 485.3L533.0 486.2M529.0 400.3L528.9 399.3L528.7 398.3L528.5 397.3L528.3 396.3L528.0 395.4L527.8 394.4L527.6 393.8M527.2 392.3L527.0 391.5L526.7 390.6L526.3 389.6L526.0 388.7L525.6 387.7L525.3 386.8L524.9 385.9L524.5 385.0L524.1 384.0L523.7 383.1L523.2 382.2L522.8 381.3L522.7 381.2M521.8 379.5L521.3 378.7L520.8 377.9L520.3 377.0L519.7 376.2L519.2 375.3L518.6 374.5L518.0 373.7L517.4 372.9L516.8 372.1L516.2 371.4L515.5 370.6M520.6 448.0L520.1 448.5L519.4 449.1L518.6 449.8L517.9 450.4L517.1 451.1L516.4 451.7M514.8 453.0L514.8 453.1L514.1 453.7L513.3 454.3L512.5 455.0L511.7 455.6L510.9 456.2L510.1 456.8L509.3 457.4L508.5 457.9L507.7 458.5L507.1 458.8M504.6 460.4L504.2 460.5L503.4 461.0L502.5 461.5L501.6 461.9L500.7 462.3L499.7 462.7L498.8 463.1L497.9 463.4L496.9 463.8L496.0 464.1L495.0 464.3L494.0 464.6L493.1 464.8L492.1 465.0L491.1 465.2L490.9 465.2M489.4 465.4L489.1 465.4L488.1 465.5L487.1 465.6L486.1 465.6L485.1 465.6L484.1 465.6L483.1 465.5L482.1 465.4L481.1 465.3L480.1 465.2L480.0 465.1M478.3 464.8L478.2 464.8L477.2 464.6L476.2 464.3L475.3 464.0L474.3 463.7L473.4 463.4L472.4 463.1L471.5 462.7L470.6 462.3L469.7 461.9L468.8 461.4L467.9 461.0L467.0 460.5L466.1 460.0L465.3 459.5L465.2 459.5M462.9 458.0L462.8 457.9L461.9 457.3L461.1 456.7L460.3 456.1L459.5 455.5L458.7 454.9L458.0 454.3L457.9 454.3M455.8 452.5L455.7 452.4L454.9 451.7L454.1 451.1L453.4 450.4L452.6 449.7L451.9 449.1L451.1 448.4M517.5 408.6L516.6 408.1L515.8 407.6L514.9 407.1L514.0 406.6L513.2 406.1L512.3 405.6L511.4 405.1L510.6 404.6L510.6 404.6M508.5 403.5L507.9 403.2L507.0 402.7L506.1 402.3L505.2 401.9L504.3 401.4L503.4 401.0L502.5 400.6L501.9 400.4M499.2 399.4L498.7 399.3L497.8 399.0L496.8 398.7L495.9 398.4L494.9 398.2L493.9 398.0L492.9 397.8L491.9 397.6L491.0 397.5M488.2 397.2L488.0 397.2L487.0 397.1L486.0 397.1L485.0 397.1L484.0 397.2L483.0 397.2L482.0 397.3L481.0 397.4L480.0 397.5L479.0 397.7L478.0 397.9L477.0 398.1L476.1 398.3L475.1 398.5L474.2 398.8M471.9 399.5L471.3 399.7L470.3 400.0L469.4 400.4L468.5 400.8L467.5 401.2L466.6 401.6L465.7 402.0L464.8 402.4L464.6 402.6M463.0 403.4L462.2 403.8L461.3 404.3L460.4 404.8L459.5 405.3L458.7 405.8L457.8 406.3L456.9 406.8L456.1 407.3L455.2 407.8L454.5 408.2M452.7 409.2L452.6 409.2L451.7 409.7L450.8 410.2L449.9 410.6L449.0 411.0L448.0 411.3L447.1 411.6M519.1 402.4L518.4 401.6L517.7 400.9L517.0 400.2L516.3 399.5L515.5 398.8L514.8 398.2L514.3 397.7M513.1 396.7L512.6 396.2L511.8 395.5L511.0 394.9L510.2 394.2L509.5 393.6L508.7 393.0L507.8 392.5L507.0 391.9L506.9 391.9M504.6 390.4L504.5 390.3L503.6 389.8L502.7 389.3L501.8 388.9L500.9 388.5L500.0 388.0L499.1 387.7L498.2 387.3L497.8 387.2M496.2 386.6L495.3 386.3L494.4 386.1L493.4 385.8L492.4 385.6L491.4 385.4L491.1 385.4M488.7 385.1L488.4 385.1L487.4 385.0L486.4 385.0L485.4 385.0L484.4 385.0L483.4 385.0L482.5 385.1L481.5 385.2L480.5 385.4L479.5 385.5L478.5 385.7L477.5 385.9L476.6 386.2L475.6 386.5L474.6 386.8L474.0 387.0M472.4 387.6L471.8 387.8L470.9 388.2L470.0 388.6L469.1 389.1L468.2 389.5L467.3 390.0L466.5 390.5L465.6 391.0L464.8 391.6L464.0 392.1L463.1 392.7L462.3 393.3L462.3 393.3M460.5 394.7L460.0 395.1L459.2 395.8L458.4 396.4L457.7 397.1L456.9 397.7L456.2 398.4L455.5 399.1L454.8 399.8L454.0 400.5L453.9 400.7M452.5 402.1L451.9 402.6L451.2 403.4L450.5 404.1L449.8 404.8L449.1 405.5M405.9 369.3L406.0 369.5L406.2 370.5L406.5 371.5L406.7 372.4L407.0 373.4L407.3 374.4L407.5 375.3L407.8 376.3L408.1 377.2M409.0 380.0L409.0 380.1L409.3 381.0L409.7 382.0L410.0 382.9L410.3 383.9L410.7 384.8L411.0 385.8L411.4 386.7L411.7 387.6L412.1 388.6L412.5 389.5L412.8 390.4L413.2 391.3L413.6 392.3L414.0 393.2L414.3 393.7M415.2 395.8L415.3 395.9L415.7 396.8L416.1 397.7L416.6 398.6L417.0 399.5L417.5 400.4L418.0 401.3L418.4 402.1L418.9 403.0L419.4 403.9L419.9 404.7M518.1 414.3L517.7 414.2L516.7 413.9L515.8 413.6L514.8 413.2L513.9 412.9L513.0 412.6L512.0 412.2L511.1 411.9L510.3 411.6M508.8 411.1L508.3 410.9L507.3 410.6L506.4 410.2L505.4 409.9L504.5 409.6L503.6 409.4M501.7 408.8L501.6 408.8L500.6 408.5L499.6 408.3L498.7 408.0L497.7 407.8L496.7 407.6L495.7 407.4L494.8 407.2L493.8 407.1L492.8 406.9L492.1 406.9M490.4 406.7L489.8 406.6L488.8 406.6L487.8 406.5L486.8 406.5L485.8 406.5L484.8 406.5L483.8 406.5L482.8 406.5L482.1 406.6M479.7 406.8L478.8 406.9L477.8 407.0L476.8 407.2L475.9 407.4L474.9 407.5L473.9 407.7L472.9 408.0L472.8 408.0M469.9 408.7L469.0 409.0L468.1 409.2L467.1 409.5L466.2 409.8L465.2 410.1L464.3 410.5L463.3 410.8L462.4 411.1L461.4 411.4L460.5 411.8L459.6 412.1L458.6 412.5L457.7 412.8L456.7 413.1L456.7 413.1M455.4 413.6L454.8 413.8L453.9 414.1M524.2 424.5L523.2 424.5L522.2 424.5L521.2 424.5L520.2 424.4L519.2 424.4L518.2 424.3L517.2 424.3L516.2 424.2L515.2 424.1L514.2 424.1L513.2 424.0L512.2 423.9L511.2 423.9L510.2 423.8L510.2 423.8M508.6 423.7L508.2 423.7L507.2 423.6L506.2 423.5L505.2 423.5L504.2 423.4L503.2 423.3L502.2 423.3L501.2 423.2L501.1 423.2M498.3 423.1L498.2 423.1L497.2 423.0L496.2 423.0L495.2 422.9L494.2 422.9L493.2 422.9L492.2 422.8L491.2 422.8L491.2 422.8M488.6 422.8L488.2 422.8L487.2 422.8L486.2 422.8L485.2 422.8L484.2 422.8L483.2 422.8L482.9 422.8M481.1 422.8L480.2 422.8L479.2 422.8L478.2 422.9L477.2 422.9L476.2 422.9L475.2 423.0L474.2 423.0L473.2 423.1L472.2 423.1L471.2 423.2L470.4 423.2M468.6 423.3L468.2 423.3L467.2 423.4L466.2 423.5L465.2 423.5L464.2 423.6L463.2 423.6L462.2 423.7L461.2 423.8L460.2 423.8L459.2 423.9L458.9 423.9M457.5 424.0L457.2 424.1L456.2 424.1L455.2 424.2L454.3 424.2L453.3 424.3L452.3 424.4L451.8 424.4M448.9 424.5L448.3 424.5L447.3 424.5M521.4 421.3L520.4 421.1L519.4 421.0L518.4 420.8L517.4 420.7L516.5 420.5L515.5 420.4L514.5 420.2L513.5 420.0L513.4 420.0M511.6 419.7L511.5 419.7L510.5 419.5L509.6 419.4L508.6 419.2L507.6 419.1L506.6 418.9L505.6 418.7L504.6 418.6L503.6 418.5L502.6 418.3L501.6 418.2L500.7 418.0L499.7 417.9L498.7 417.8L497.7 417.7L496.8 417.6M494.8 417.4L494.7 417.4L493.7 417.3L492.7 417.2L491.7 417.2L490.7 417.1L489.7 417.1L488.7 417.1L487.7 417.0L486.7 417.0L485.7 417.0L484.7 417.0L484.1 417.0M482.6 417.1L481.7 417.1L480.7 417.1L479.7 417.2L478.7 417.2L477.7 417.3L476.7 417.4L475.7 417.5L474.7 417.6L473.7 417.7L473.5 417.7M471.4 418.0L470.7 418.0L469.8 418.2L468.8 418.3L467.8 418.4L466.8 418.6L465.8 418.7L464.8 418.9L463.8 419.0L463.2 419.1M461.7 419.4L460.9 419.5L459.9 419.7L458.9 419.8L457.9 420.0L456.9 420.2L455.9 420.3L454.9 420.5L454.0 420.7L453.5 420.7M549.3 449.1L549.8 450.0L550.3 450.9L550.8 451.7L551.2 452.6L551.7 453.5L552.2 454.4L552.6 455.3L553.0 456.2L553.4 457.1L553.9 458.0L554.3 458.9L554.3 459.0M555.4 461.7L555.8 462.6L556.1 463.6L556.5 464.5L556.8 465.4L557.2 466.4L557.5 467.3L557.8 468.2M558.6 470.7L558.8 471.1L559.0 472.1L559.3 473.0L559.6 474.0L559.9 475.0L560.2 475.9L560.4 476.9L560.7 477.9L560.9 478.8L561.0 479.0M561.6 481.9L561.8 482.7L562.0 483.7L562.2 484.7L562.4 485.7L562.6 486.6M524.4 428.4L523.4 428.4L522.4 428.4L521.4 428.4L520.4 428.4L519.4 428.4L518.4 428.5L517.4 428.5L516.4 428.5L515.4 428.6L515.4 428.6M513.4 428.7L512.4 428.7L511.4 428.7L510.4 428.8L509.4 428.8L508.4 428.9L507.4 428.9L506.4 429.0L505.6 429.0M503.5 429.1L503.4 429.1L502.4 429.1L501.4 429.2L500.4 429.2L499.4 429.2L498.4 429.3L497.4 429.3L496.4 429.3L495.4 429.3L494.4 429.4L493.4 429.4L492.4 429.4L491.4 429.4L490.4 429.4L489.4 429.4L489.1 429.4M487.7 429.5L487.4 429.5L486.4 429.5L485.4 429.5L484.4 429.5L483.4 429.4L482.4 429.4L481.4 429.4L480.4 429.4L479.9 429.4M477.1 429.4L476.4 429.3L475.4 429.3L474.4 429.3L473.4 429.3L472.4 429.2L471.4 429.2L470.4 429.2L470.2 429.2M468.2 429.1L467.4 429.1L466.4 429.0L465.4 429.0L464.4 428.9L463.4 428.9L462.4 428.9L461.4 428.8L460.4 428.8L459.8 428.7M457.3 428.6L456.4 428.6L455.4 428.6L454.4 428.5L453.4 428.5L452.4 428.4L451.4 428.4L450.4 428.4M520.8 398.9L520.3 398.2L519.7 397.4L519.1 396.6L518.5 395.8L517.9 395.0L517.3 394.3M516.0 392.8L516.0 392.7L515.3 392.0L514.6 391.2L513.9 390.5L513.2 389.8L512.5 389.1L511.8 388.4L511.1 387.7L510.8 387.5M509.0 386.0L508.8 385.8L508.0 385.2L507.2 384.6L506.4 384.0L505.6 383.4L504.7 382.9L504.7 382.9M502.3 381.5L502.1 381.4L501.2 380.9L500.3 380.5L499.4 380.1L498.5 379.7L497.6 379.3L496.9 379.1M494.1 378.2L493.7 378.1L492.8 377.9L491.8 377.7L490.8 377.5L489.8 377.4L488.8 377.3L487.8 377.2L486.8 377.2L486.0 377.1M484.6 377.2L483.8 377.2L482.8 377.3L481.8 377.4L480.8 377.5L479.9 377.7L478.9 377.8L477.9 378.1L476.9 378.3L476.5 378.4M474.2 379.1L474.1 379.2L473.1 379.6L472.2 379.9L471.3 380.3L470.4 380.8L469.5 381.2L468.6 381.7L467.7 382.2L466.9 382.7L466.0 383.2L465.2 383.8L464.4 384.3L463.6 384.9M462.4 385.9L462.0 386.2L461.2 386.8L460.5 387.5L459.7 388.1L459.0 388.8L458.3 389.5L457.6 390.2L456.9 391.0L456.2 391.7L455.6 392.4L454.9 393.2L454.3 393.9M453.4 395.0L453.0 395.5L452.4 396.3L451.8 397.1L451.2 397.9L450.6 398.7L450.0 399.6L449.5 400.4L448.9 401.2L448.4 402.0L447.8 402.8M432.2 487.9L432.0 486.9L431.8 486.0L431.7 485.0L431.5 484.0L431.4 483.0L431.2 482.0L431.1 481.0L431.0 480.0L430.9 479.0L430.8 478.0M430.7 475.6L430.6 475.0L430.6 474.0L430.6 473.0L430.6 472.0L430.6 471.0L430.6 470.0L430.6 469.0L430.7 468.0L430.7 467.0L430.8 466.0L430.9 465.0L431.0 464.0L431.1 463.0L431.2 462.1L431.2 461.8M431.6 459.5L431.7 459.1L431.9 458.1L432.1 457.1L432.3 456.2L432.6 455.2L432.9 454.2L433.2 453.3M376.4 491.8L376.9 490.9L377.3 490.1L377.8 489.2L378.3 488.3L378.8 487.4L379.3 486.6L379.8 485.7L380.3 484.8L380.7 483.9L381.2 483.1L381.7 482.2L382.2 481.3L382.7 480.5L382.8 480.4M383.8 478.7L384.3 477.9L384.8 477.0L385.3 476.2L385.8 475.3L386.3 474.5L386.9 473.6L387.4 472.8L387.9 471.9L388.4 471.1L389.0 470.2L389.5 469.4L390.0 468.5L390.6 467.7L391.1 466.8L391.2 466.6M392.8 464.1L393.3 463.5L393.8 462.6L394.3 461.8L394.9 460.9L395.4 460.1L396.0 459.3L396.5 458.4L396.8 458.0M398.0 456.2L398.2 455.9L398.7 455.1L399.3 454.3L399.9 453.4L400.4 452.6L401.0 451.8L401.4 451.2M517.9 446.8L517.0 447.4L516.2 448.0L515.4 448.5L514.5 449.1L513.7 449.6L512.9 450.2L512.0 450.7L511.2 451.3L510.4 451.8L509.5 452.3L508.6 452.8L507.8 453.3L506.9 453.8L506.7 453.9M504.5 455.1L504.3 455.2L503.4 455.7L502.4 456.1L501.5 456.5L500.6 456.9L499.7 457.2L498.7 457.6L497.8 457.9L496.8 458.2L495.9 458.4L494.9 458.7L493.9 458.9L492.9 459.1L492.0 459.3L491.1 459.4M488.7 459.7L488.0 459.8L487.0 459.8L486.0 459.8L485.0 459.8L484.0 459.8L483.0 459.7L482.0 459.7L481.0 459.5L480.0 459.4L479.0 459.2L478.8 459.2M476.8 458.8L476.1 458.6L475.1 458.4L474.2 458.1L473.2 457.8L472.3 457.4L471.3 457.1L470.4 456.7L469.5 456.3L468.6 455.9L467.7 455.5L466.9 455.2M464.4 453.8L464.1 453.7L463.2 453.2L462.4 452.7L461.5 452.2L460.7 451.6L459.8 451.1L459.0 450.6M457.4 449.5L457.3 449.4L456.5 448.9L455.7 448.3L454.8 447.8L454.0 447.2L453.2 446.7L452.3 446.1L451.5 445.6L450.8 445.1M448.5 443.9L448.0 443.6M532.1 404.2L532.3 403.2L532.4 402.2L532.5 401.2L532.6 400.2L532.7 399.2L532.7 398.2L532.8 397.2L532.8 396.2L532.7 395.2L532.7 394.2L532.6 393.2L532.6 392.4M532.4 390.9L532.4 390.3L532.2 389.3L532.1 388.3L532.0 387.3L531.8 386.3L531.6 385.3L531.4 384.3L531.2 383.4L531.0 382.4L530.7 381.4L530.5 380.5L530.2 379.5L529.9 378.5L529.6 377.6L529.6 377.5M528.9 375.4L528.6 374.8L528.3 373.8L527.9 372.9L527.5 372.0L527.1 371.0L526.7 370.1L526.3 369.2L525.8 368.3M523.9 448.3L523.3 449.1L522.6 449.9L522.0 450.7L521.4 451.4L520.8 452.2L520.1 453.0L519.5 453.8L519.0 454.3M517.1 456.5L516.9 456.8L516.2 457.5L515.5 458.3L514.8 459.0L514.1 459.7L513.4 460.4L512.7 461.1L511.9 461.8L511.2 462.4L510.4 463.1L509.7 463.7L508.9 464.3L508.1 464.9L507.3 465.5L506.5 466.1L506.4 466.1M504.3 467.5L503.9 467.7L503.1 468.2L502.2 468.7L501.3 469.1L500.4 469.6L499.5 470.0L498.7 470.3M496.1 471.2L495.7 471.3L494.8 471.6L493.8 471.9L492.8 472.1L491.8 472.3L490.8 472.5L489.9 472.6L488.9 472.7L487.9 472.8L486.9 472.9L485.9 472.9L484.9 472.9L483.9 472.8L482.9 472.8L481.9 472.7L481.6 472.6M478.7 472.1L477.9 472.0L477.0 471.7L476.0 471.5L475.0 471.2L474.1 470.9L473.2 470.5L472.2 470.1L471.3 469.7L470.8 469.5M469.4 468.8L468.6 468.4L467.8 467.9L466.9 467.4L466.0 466.9L465.2 466.3L465.1 466.3M463.1 464.9L462.8 464.6L462.0 464.0L461.2 463.4L460.4 462.7L459.7 462.1L458.9 461.4L458.2 460.7L457.5 460.0L456.8 459.3L456.1 458.6L455.9 458.3M454.7 457.0L454.1 456.4L453.4 455.6L452.7 454.9L452.1 454.1L451.5 453.3L450.8 452.6L450.2 451.8L449.6 451.0L448.9 450.2L448.3 449.5L447.7 448.7M451.8 490.6L451.2 489.8L450.6 489.0L450.0 488.2L449.5 487.3L449.0 486.5L448.4 485.6L447.9 484.8L447.4 483.9L447.0 483.0L446.5 482.1L446.1 481.3L445.9 480.9M445.1 479.3L444.8 478.5L444.4 477.6L444.0 476.7L443.7 475.7L443.3 474.8L443.0 473.9L442.7 472.9L442.4 472.0L442.1 471.0L441.8 470.0L441.6 469.1L441.3 468.1L441.1 467.1L440.9 466.2L440.8 466.1M440.4 463.7L440.3 463.2L440.2 462.2L440.0 461.2L439.9 460.2L439.8 459.2L439.7 458.2L439.6 457.3L439.6 456.4M521.9 432.3L520.9 432.5L519.9 432.6L519.0 432.8L518.0 432.9L517.0 433.1L516.0 433.2L515.0 433.4L514.0 433.6L513.0 433.7L512.0 433.9L511.9 433.9M509.7 434.3L509.1 434.4L508.1 434.5L507.1 434.7L506.1 434.8L505.1 435.0L504.1 435.1L503.2 435.3L502.2 435.4L501.2 435.6L500.2 435.7L499.2 435.8L498.2 435.9L497.7 436.0M495.3 436.2L495.2 436.2L494.2 436.3L493.2 436.4L492.2 436.5L491.2 436.5L490.2 436.6L489.2 436.6L488.4 436.6M485.8 436.7L485.2 436.7L484.2 436.7L483.2 436.6L482.2 436.6L481.2 436.6L480.2 436.5M478.7 436.4L478.2 436.4L477.2 436.3L476.2 436.2L475.2 436.1L474.2 436.0L473.4 436.0M471.3 435.7L470.3 435.6L469.3 435.4L468.3 435.3L467.3 435.2L466.3 435.0L465.3 434.9L464.3 434.7L463.3 434.6L462.4 434.4L461.4 434.2L460.4 434.1L459.4 433.9L458.4 433.8L457.4 433.6L457.0 433.5M454.1 433.1L453.5 433.0L452.5 432.8L451.5 432.6L450.5 432.5L449.5 432.4M379.0 380.0L379.5 380.8L380.1 381.6L380.7 382.4L381.3 383.2L381.9 384.1L382.5 384.9L382.5 384.9M383.6 386.5L383.7 386.5L384.2 387.3L384.8 388.1L385.4 388.9L386.0 389.7L386.6 390.5L387.2 391.3L387.8 392.1L388.1 392.5M389.9 394.9L390.2 395.3L390.8 396.1L391.4 396.9L392.0 397.7L392.6 398.5L393.2 399.3L393.8 400.1L394.1 400.7M395.7 402.8L396.1 403.4L396.7 404.2M378.5 457.0L379.1 456.3L379.8 455.5L380.5 454.8L381.2 454.1L381.9 453.3M375.1 476.2L375.7 475.4L376.3 474.6L376.9 473.8L377.5 473.0L378.1 472.2L378.7 471.4L378.9 471.1M380.0 469.5L380.5 469.0L381.1 468.2L381.7 467.4L382.3 466.6L382.9 465.8L383.5 465.0L384.1 464.2L384.7 463.4L385.3 462.6L385.3 462.6M386.9 460.6L387.1 460.2L387.8 459.4L388.4 458.6L389.0 457.8L389.6 457.0L390.2 456.2L390.8 455.5L391.4 454.7L392.0 453.9L392.6 453.1L393.2 452.3L393.7 451.5M536.3 401.2L536.6 400.2L536.9 399.3L537.1 398.3L537.3 397.3L537.5 396.3L537.6 395.4L537.8 394.4L537.9 393.4L538.0 392.4L538.1 391.4L538.1 390.4L538.2 390.1M538.3 387.2L538.3 386.4L538.3 385.4L538.2 384.4L538.2 383.4L538.2 382.4L538.1 381.4L538.0 380.4L537.9 379.4L537.8 378.4L537.7 377.4L537.6 376.4L537.5 375.4L537.3 374.4L537.2 373.9M536.9 371.8L536.8 371.5L536.6 370.5L536.4 369.5M545.2 402.8L545.7 401.9L546.1 401.0L546.6 400.1L547.0 399.2L547.4 398.3L547.8 397.3L548.1 396.4L548.5 395.5L548.9 394.5L549.2 393.6L549.5 392.7L549.7 392.1M550.3 390.1L550.4 389.8L550.7 388.8L551.0 387.9L551.2 386.9L551.5 385.9L551.7 385.0L551.9 384.0L552.2 383.0L552.4 382.0L552.6 381.1L552.7 380.6M553.0 378.8L553.1 378.1L553.3 377.1L553.5 376.1L553.6 375.2L553.8 374.2L553.9 373.2L554.0 372.2L554.1 371.2L554.2 370.2L554.3 369.2L554.4 368.8M525.9 403.7L525.4 402.8L525.0 401.9L524.5 401.0L524.1 400.1L523.6 399.2L523.1 398.3L522.8 397.8M522.0 396.4L521.7 395.7L521.1 394.9L520.6 394.0L520.1 393.2L519.5 392.3L519.0 391.5L518.4 390.7L517.8 389.9L517.2 389.1L516.6 388.3L516.0 387.5L515.3 386.7L514.7 386.0L514.5 385.8M512.6 383.7L511.9 383.1L511.2 382.4L510.5 381.7L509.7 381.1L508.9 380.4L508.2 379.8L507.4 379.2L506.6 378.6L505.7 378.0L504.9 377.5L504.0 377.0L503.2 376.4L502.6 376.1M499.9 374.8L499.6 374.6L498.7 374.2L497.8 373.9L496.8 373.5L495.9 373.2L494.9 372.9L494.0 372.7L493.0 372.4L492.8 372.4M491.1 372.1L491.0 372.1L490.0 371.9L489.0 371.8L488.0 371.7L487.0 371.7L486.0 371.6L485.0 371.6L484.0 371.7L483.0 371.7L482.0 371.8L481.1 371.9L480.4 372.0M478.8 372.3L478.1 372.5L477.1 372.7L476.2 373.0L475.2 373.3L474.3 373.6L473.3 374.0L472.4 374.3L471.5 374.7L470.6 375.1L469.7 375.6L468.8 376.1L467.9 376.6L467.4 376.8M465.1 378.4L464.6 378.7L463.8 379.3L463.0 379.9L462.2 380.6L461.4 381.2L460.7 381.9L459.9 382.5L459.2 383.2L458.5 383.9L457.8 384.7L457.2 385.4L456.5 386.2L456.3 386.3M455.4 387.5L455.2 387.7L454.6 388.5L454.0 389.3L453.4 390.1L452.8 390.9L452.2 391.7L451.7 392.5L451.5 392.8M450.3 394.7L450.0 395.1L449.5 395.9L449.0 396.8L448.5 397.6L448.1 398.5L447.6 399.4L447.1 400.3L446.7 401.2L446.2 402.1M544.6 449.3L545.1 450.2L545.6 451.0L546.0 451.9L546.5 452.8L546.9 453.7L547.3 454.6L547.7 455.5L548.1 456.5L548.5 457.4L548.9 458.3L549.2 459.3L549.6 460.2L549.9 461.1L550.2 462.1L550.2 462.2M551.0 464.7L551.1 465.0L551.4 465.9L551.6 466.9L551.9 467.9L552.1 468.8L552.3 469.8M552.9 472.1L553.0 472.7L553.2 473.7L553.4 474.7L553.6 475.7L553.7 476.6L553.9 477.6L554.1 478.6L554.1 479.0M554.5 481.9L554.6 482.6L554.7 483.6L554.8 484.6L554.9 485.6L555.0 486.6L555.1 487.2M555.2 489.2L555.2 489.6L555.3 490.6L555.3 491.6M526.9 451.7L526.6 452.7L526.2 453.6L525.9 454.5L525.5 455.5L525.1 456.4L524.7 457.3L524.4 458.2L523.9 459.2L523.5 460.1L523.1 461.0L523.1 461.0M522.0 463.0L521.7 463.6L521.2 464.5L520.7 465.4L520.2 466.2L519.7 467.1L519.1 467.9L518.6 468.7L518.0 469.6L517.4 470.4L516.8 471.2L516.2 472.0L515.6 472.7L514.9 473.5L514.7 473.8M513.2 475.4L512.9 475.7L512.2 476.4L511.5 477.1L510.7 477.8L510.0 478.5L509.2 479.1L508.4 479.7L507.7 480.4L506.9 480.9L506.0 481.5L505.2 482.1L504.4 482.6L503.5 483.1L503.1 483.4M501.3 484.3L500.8 484.5L499.9 484.9L499.0 485.3L498.1 485.7L497.1 486.0L496.2 486.4L495.2 486.7L494.3 486.9L493.3 487.2L492.3 487.4L491.3 487.6L490.4 487.7M489.0 487.9L488.4 487.9L487.4 488.0L486.4 488.0L485.4 488.0L484.4 488.0L483.4 488.0L482.4 487.9L481.4 487.8L480.4 487.6L479.4 487.5L478.4 487.3L477.5 487.0L476.5 486.8L475.7 486.6M473.7 485.9L473.6 485.9L472.7 485.5L471.8 485.1L470.9 484.7L470.0 484.3L469.1 483.8L468.2 483.3L467.3 482.8L466.5 482.3L465.6 481.8L464.8 481.2L464.0 480.6L463.2 480.0L462.4 479.4L461.7 478.8L461.1 478.3M459.9 477.1L459.4 476.7L458.7 476.0L458.0 475.3L457.3 474.6L456.7 473.8L456.0 473.1L455.4 472.3L454.8 471.5L454.2 470.7L453.6 469.9L453.0 469.1L452.4 468.3L451.9 467.5L451.3 466.6L451.1 466.2M449.8 464.0L449.3 463.1L448.9 462.3L448.4 461.4L448.0 460.5L447.5 459.6L447.1 458.7L446.8 458.0M560.7 449.3L561.2 450.2L561.7 451.0L562.2 451.9L562.7 452.7L563.3 453.6L563.8 454.5L564.3 455.3L564.8 456.2L565.3 457.1L565.8 457.9L566.2 458.8L566.2 458.8M567.3 460.8L567.7 461.4L568.2 462.3L568.6 463.2L569.1 464.1L569.6 465.0L570.1 465.8L570.5 466.7L571.0 467.6L571.4 468.5L571.9 469.4L572.1 469.9M572.8 471.4L573.2 472.1L573.6 473.0L574.1 473.9L574.5 474.8L574.9 475.7L575.3 476.6L575.8 477.5L576.2 478.4L576.6 479.3L577.0 480.3L577.4 481.2L577.8 482.1L577.9 482.4M578.7 484.2L579.0 484.9L579.3 485.8L579.7 486.7M397.0 372.2L397.4 373.1L397.7 374.1L398.1 375.0L398.5 375.9L398.9 376.8L399.3 377.8L399.7 378.7L400.1 379.6L400.4 380.3M401.6 383.0L401.7 383.3L402.1 384.2L402.5 385.1L403.0 386.0L403.4 386.9L403.8 387.8L404.3 388.7L404.4 388.9M405.1 390.2L405.2 390.5L405.6 391.3L406.1 392.2L406.5 393.1L407.0 394.0L407.5 394.9L408.0 395.8L408.4 396.7L408.9 397.5L409.4 398.4L409.9 399.3L410.3 399.9M411.3 401.8L411.4 401.9M532.1 452.5L532.1 453.5L532.1 454.5L532.2 455.5L532.1 456.5L532.1 457.5L532.1 458.5L532.0 459.5L531.9 460.5L531.8 461.5L531.7 462.5L531.6 463.5L531.4 464.5L531.4 464.7M530.8 467.5L530.6 468.4L530.4 469.4L530.2 470.3L529.9 471.3L529.6 472.3L529.4 473.2L529.2 473.8M528.6 475.4L528.4 476.1L528.1 477.0L527.7 477.9L527.3 478.9L526.9 479.8L526.5 480.7L526.1 481.6L525.7 482.5L525.3 483.4L524.8 484.3L524.3 485.2L523.8 486.0L523.7 486.3M522.5 488.3L522.3 488.6L521.7 489.5L521.2 490.3M403.4 488.1L403.7 487.1L403.9 486.1L404.2 485.2L404.4 484.2L404.7 483.2L405.0 482.3L405.3 481.3L405.5 480.4M406.3 477.8L406.4 477.5L406.7 476.5L407.0 475.6L407.4 474.6L407.7 473.7L408.0 472.7L408.3 471.8L408.7 470.9L409.0 469.9L409.4 469.0L409.7 468.1L410.1 467.1L410.5 466.2L410.9 465.3L411.2 464.5M412.2 462.0L412.4 461.6L412.8 460.7L413.3 459.8L413.7 458.9L414.1 458.0L414.5 457.1L415.0 456.2L415.4 455.3L415.9 454.4M392.6 370.5L392.7 370.7L393.1 371.6L393.5 372.5L393.9 373.4L394.3 374.4L394.7 375.2M395.6 377.1L395.6 377.1L396.0 378.0L396.4 378.9L396.9 379.8L397.3 380.7L397.7 381.6L397.8 381.7M398.6 383.3L398.6 383.4L399.1 384.3L399.5 385.2L400.0 386.1L400.5 387.0L400.9 387.8L401.4 388.7L401.9 389.6L402.3 390.5L402.8 391.4L403.0 391.8M404.2 393.9L404.2 394.0L404.7 394.9L405.2 395.7L405.7 396.6L406.2 397.5L406.7 398.3L407.2 399.2L407.7 400.1L408.2 400.8M409.5 403.0L409.8 403.5L410.3 404.3M431.8 371.9L431.7 372.2L431.6 373.2L431.5 374.2L431.4 375.2L431.3 376.2L431.2 377.2L431.2 378.2L431.1 379.2L431.1 380.2L431.1 380.2M431.0 382.7L431.0 383.2L431.0 384.2L431.1 385.2L431.1 386.2L431.2 387.2L431.2 388.2L431.3 388.7M431.5 391.0L431.5 391.2L431.6 392.1L431.8 393.1L431.9 394.1L432.1 395.1L432.3 396.1M432.7 397.9L432.8 398.0L433.0 399.0L433.3 400.0L433.6 400.9L434.0 401.9L434.3 402.8L434.7 403.7L435.2 404.6M397.6 489.8L397.9 488.9L398.2 487.9L398.5 487.0L398.8 486.0L399.1 485.1L399.4 484.1L399.8 483.2L400.1 482.2L400.4 481.3L400.8 480.3L401.1 479.4L401.2 479.2M401.7 477.8L401.8 477.5L402.1 476.6L402.5 475.6L402.9 474.7L403.2 473.8L403.6 472.9L404.0 471.9L404.3 471.1M405.3 468.9L405.6 468.3L406.0 467.3L406.4 466.4L406.8 465.5L407.2 464.6L407.6 463.7L408.1 462.8L408.5 461.9L408.9 461.0L409.4 460.1L409.8 459.2L410.3 458.3L410.7 457.4L411.0 457.0M412.0 455.0L412.1 454.8L412.6 453.9L413.1 453.0L413.6 452.2L414.1 451.3L414.6 450.4L415.1 449.6L415.6 448.7M523.3 437.4L522.3 437.6L521.3 437.9L520.4 438.2L519.4 438.4L518.5 438.7L517.6 439.0M515.5 439.7L514.7 440.0L513.7 440.3L512.8 440.6L511.8 440.9L510.9 441.2L509.9 441.6L509.0 441.9L508.0 442.2L507.1 442.5L506.1 442.8L505.9 442.9M503.2 443.7L502.3 444.0L501.3 444.2L500.4 444.5L499.4 444.7L498.4 444.9L497.4 445.1L496.5 445.3L495.5 445.5L494.5 445.7L493.5 445.8L493.2 445.9M490.4 446.2L489.5 446.2L488.5 446.3L487.5 446.3L486.5 446.4L485.5 446.4L484.5 446.4L483.5 446.3L482.5 446.3L481.5 446.2L480.5 446.1L479.5 446.0L478.5 445.9L477.5 445.8L476.9 445.7M474.2 445.2L473.6 445.1L472.6 444.9L471.7 444.6L470.7 444.4L469.7 444.1L468.8 443.9L467.8 443.6L467.0 443.4M465.1 442.8L464.9 442.7L464.0 442.4L463.0 442.1L462.1 441.8L461.1 441.5L460.2 441.2L459.2 440.8L458.3 440.5L457.3 440.2L456.4 439.9L455.4 439.6L454.5 439.2L453.5 438.9L452.8 438.7M572.0 401.4L572.4 400.7L573.0 399.9L573.5 399.1L574.1 398.3L574.6 397.4L575.2 396.6L575.8 395.8L576.3 395.0L576.9 394.1L577.4 393.3L578.0 392.5L578.6 391.6L579.0 391.0M580.6 388.5L580.8 388.3L581.3 387.5L581.9 386.6L582.4 385.8L583.0 385.0L583.5 384.1L584.1 383.3L584.6 382.4L585.1 381.6L585.7 380.8L586.2 379.9L586.7 379.1L587.3 378.2L587.8 377.4L588.0 377.1M589.2 375.1L589.4 374.8L589.9 374.0L590.4 373.1L590.9 372.3L591.5 371.4L592.0 370.5M543.2 451.5L543.7 452.4L544.1 453.3L544.5 454.2L544.9 455.1L545.3 456.0L545.6 457.0L545.9 457.9L546.3 458.9L546.6 459.8L546.9 460.8L547.1 461.7L547.2 461.9M547.6 463.6L547.7 463.7L547.9 464.6L548.1 465.6L548.4 466.6L548.6 467.6L548.8 468.5L549.0 469.5L549.1 470.5L549.3 471.5L549.5 472.5L549.6 473.5L549.8 474.5L549.9 475.5L549.9 475.6M550.1 477.1L550.1 477.4L550.2 478.4L550.3 479.4L550.4 480.4L550.5 481.4L550.5 482.4L550.6 483.4L550.6 484.4L550.6 485.4L550.7 486.4L550.7 487.4L550.7 488.4M402.2 369.7L402.5 370.6L402.8 371.6L403.1 372.6L403.4 373.5L403.7 374.5L404.0 375.4L404.4 376.3L404.7 377.3L405.0 378.2L405.4 379.2L405.7 380.1L405.8 380.3M406.5 382.2L406.8 382.9L407.1 383.8L407.5 384.8L407.9 385.7L408.3 386.6L408.7 387.5L409.1 388.5L409.5 389.4L409.9 390.3L410.3 391.2L410.7 392.1L411.1 393.0L411.6 393.9L411.9 394.7M413.2 397.2L413.3 397.5L413.8 398.4L414.3 399.3L414.7 400.2L415.2 401.0M564.1 402.9L564.7 402.0L565.2 401.2L565.7 400.3L566.2 399.4L566.8 398.6L567.3 397.7L567.8 396.9L568.3 396.0L568.8 395.2L569.3 394.3L569.8 393.4L570.3 392.6L570.8 391.7L571.0 391.4M572.2 389.2L572.3 389.1L572.8 388.2L573.3 387.4L573.8 386.5L574.3 385.6L574.7 384.7L575.2 383.8L575.4 383.4M576.3 381.9L576.6 381.2L577.1 380.3L577.5 379.4L578.0 378.5L578.4 377.6L578.9 376.7L579.3 375.8L579.8 375.0L580.2 374.1L580.6 373.3M581.5 371.4L581.5 371.4L582.0 370.4M550.3 403.7L550.8 402.8L551.3 401.9L551.7 401.1L552.2 400.2L552.7 399.3L553.1 398.4L553.5 397.5L554.0 396.6L554.4 395.7L554.8 394.8L555.2 393.8L555.6 392.9L555.9 392.0L556.3 391.2M557.1 389.0L557.4 388.3L557.7 387.3L558.1 386.4L558.4 385.4L558.7 384.5L559.0 383.5L559.3 382.6L559.7 381.6L559.9 380.7M560.5 378.8L560.5 378.8L560.8 377.8L561.1 376.8L561.3 375.9L561.6 374.9L561.8 373.9L562.1 373.0L562.3 372.0L562.5 371.0L562.7 370.1M584.1 452.5L584.7 453.2L585.4 454.0L586.0 454.8L586.6 455.5L587.3 456.3L587.9 457.0L588.6 457.8L589.3 458.5L589.9 459.3L590.6 460.1L591.2 460.8L591.9 461.6L592.5 462.3M558.6 401.7L558.8 401.4L559.3 400.6L559.7 399.7L560.2 398.8L560.7 398.0L561.2 397.1L561.7 396.2L562.1 395.3L562.6 394.4M563.7 392.2L563.9 391.7L564.4 390.8L564.8 389.9L565.3 389.0L565.7 388.1L566.1 387.2L566.5 386.3L566.9 385.4L567.4 384.5L567.8 383.6L568.0 383.1M568.8 381.2L568.9 380.8L569.3 379.9L569.7 379.0L570.1 378.1L570.5 377.1L570.8 376.2L571.2 375.3L571.4 374.8M571.9 373.4L572.3 372.5L572.6 371.5M468.6 368.8L467.8 369.3L466.9 369.8L466.1 370.3L465.2 370.9L464.4 371.5L463.6 372.1L462.8 372.7L462.0 373.3L461.3 373.9L460.5 374.6L459.8 375.3L459.1 376.0L458.4 376.7L457.8 377.3M456.7 378.5L456.3 378.9L455.7 379.7L455.1 380.4L454.4 381.2L453.8 382.0L453.3 382.8L452.7 383.7L452.1 384.5L451.6 385.3L451.1 386.2L450.5 387.0L450.0 387.9L449.6 388.8L449.1 389.7L449.1 389.7M447.9 392.1L447.8 392.4L447.3 393.3L446.9 394.2L446.5 395.1L446.2 396.0L445.8 397.0L445.4 397.9L445.1 398.7M444.2 401.5L444.2 401.7L443.9 402.6L443.6 403.6M525.6 398.6L525.3 397.6L524.9 396.7L524.5 395.8L524.1 394.9L523.7 394.0L523.3 393.1L522.8 392.2L522.5 391.6M521.8 390.3L521.4 389.5L520.9 388.7L520.4 387.8L519.9 386.9L519.3 386.1L518.8 385.3L518.2 384.4L517.6 383.6L517.5 383.4M516.4 381.9L515.8 381.3L515.2 380.5L514.5 379.7L513.8 379.0L513.2 378.3L512.5 377.5L511.8 376.8L511.0 376.2L510.3 375.5L510.3 375.5M508.4 373.9L508.0 373.6L507.2 373.0L506.4 372.4L505.5 371.8L504.7 371.3L504.0 370.8M501.7 369.6L501.2 369.3L500.3 368.9L499.4 368.5L498.5 368.1L497.5 367.8L496.9 367.6M494.6 366.9L493.7 366.6L492.7 366.4M412.0 372.8L412.2 373.6L412.4 374.6L412.6 375.6L412.8 376.5L413.1 377.5L413.3 378.5L413.6 379.4L413.8 380.4L414.1 381.4L414.3 382.3L414.6 383.3L414.7 383.4M415.1 384.9L415.2 385.2L415.5 386.2L415.8 387.1L416.1 388.1L416.4 389.0L416.8 390.0L417.1 390.9L417.5 391.8L417.8 392.8L417.9 392.9M418.9 395.5L419.0 395.5L419.4 396.5L419.8 397.4L420.2 398.3L420.6 399.2L421.1 400.1M526.0 448.8L525.5 449.7L525.0 450.6L524.5 451.5L524.0 452.3L523.5 453.2L523.0 454.1L522.5 454.9L522.0 455.8L521.5 456.6L521.1 457.2M520.2 458.6L519.8 459.2L519.3 460.0L518.7 460.8L518.1 461.6L517.5 462.4L516.9 463.2L516.3 464.0L515.6 464.7L515.0 465.5L514.3 466.3L513.6 467.0L512.9 467.7L512.8 467.9M511.6 469.0L511.5 469.1L510.8 469.8L510.0 470.5L509.3 471.1L508.5 471.7L507.7 472.3L506.9 472.9L506.1 473.5L505.3 474.1L504.4 474.6L503.6 475.1L502.7 475.6L501.8 476.1L500.9 476.6L500.6 476.7M498.0 477.8L497.2 478.1L496.3 478.4L495.3 478.7L494.4 479.0L493.4 479.3L492.4 479.5L491.4 479.7L490.5 479.8L489.5 479.9L488.5 480.0L487.5 480.1L486.5 480.2L485.5 480.2L484.8 480.2M483.3 480.1L482.5 480.0L481.5 479.9L480.5 479.8L479.5 479.6L478.5 479.4L477.6 479.2M475.7 478.7L475.6 478.6L474.7 478.3L473.7 478.0L472.8 477.6L471.9 477.2L471.0 476.8L470.1 476.4L469.2 475.9L468.8 475.7M467.5 475.0L467.4 474.9L466.6 474.4L465.7 473.9L464.9 473.3L464.1 472.7L463.3 472.1L462.5 471.5L461.8 470.9L461.0 470.2L460.3 469.5L460.1 469.4M458.1 467.5L458.1 467.4L457.4 466.7L456.8 466.0L456.1 465.2L455.4 464.5L454.8 463.7L454.2 462.9L453.6 462.1L453.0 461.3L452.4 460.5L451.8 459.7L451.8 459.6M450.9 458.3L450.7 458.0L450.2 457.2L449.6 456.3L449.1 455.5L448.6 454.6L448.1 453.8L447.8 453.3M540.6 400.0L540.9 399.1L541.2 398.2L541.6 397.2L541.8 396.3L542.1 395.3L542.3 394.3L542.6 393.3L542.8 392.4L543.0 391.4L543.1 391.1M543.5 388.5L543.5 388.4L543.6 387.4L543.8 386.5L543.9 385.5L544.0 384.5L544.1 383.5L544.2 382.5L544.2 381.5L544.3 380.5L544.4 379.5L544.4 378.5L544.4 377.5L544.4 376.5L544.4 375.5L544.4 374.5L544.4 374.0M544.3 371.4L544.3 370.5L544.2 369.5M420.1 370.1L420.1 371.1L420.2 372.1L420.3 373.1L420.4 374.1L420.5 375.1L420.6 376.1L420.7 377.1L420.8 377.9M421.0 379.5L421.1 380.1L421.3 381.1L421.4 382.0L421.6 383.0L421.8 384.0L422.0 385.0L422.2 386.0L422.4 386.9L422.6 387.9L422.7 388.1M423.2 390.3L423.4 390.8L423.6 391.8L423.9 392.7L424.2 393.7L424.5 394.7L424.9 395.6L425.2 396.5L425.5 397.5L425.9 398.4L426.3 399.3M539.5 451.0L539.9 451.9L540.3 452.8L540.7 453.8L541.0 454.7L541.3 455.7L541.6 456.6L541.9 457.6L542.2 458.5L542.4 459.5L542.7 460.5L542.9 461.4M543.2 463.2L543.3 463.4L543.4 464.4L543.6 465.4L543.7 466.4L543.9 467.4L544.0 468.4L544.1 469.4L544.2 470.4L544.3 471.4L544.3 472.4L544.4 473.3L544.4 474.3L544.5 475.3L544.5 476.3L544.5 477.0M544.5 478.7L544.5 479.3L544.5 480.3L544.5 481.3L544.4 482.3L544.4 483.3L544.3 484.3L544.2 485.3M380.6 391.2L380.9 391.6L381.6 392.4L382.2 393.1L382.9 393.9L383.5 394.7L384.1 395.4L384.8 396.2L385.4 397.0L386.1 397.7L386.7 398.5L387.3 399.3L388.0 400.1M528.2 451.9L528.1 452.1L527.9 453.1L527.6 454.1L527.4 455.0L527.1 456.0L526.8 457.0L526.5 457.9L526.2 458.9L525.9 459.8L525.5 460.7L525.2 461.7L524.8 462.6L524.5 463.4M523.5 465.6L523.2 466.3L522.7 467.1L522.3 468.0L521.8 468.9L521.3 469.8L520.8 470.7L520.3 471.5L519.8 472.4L519.2 473.2L518.7 474.0L518.1 474.8L517.5 475.7L517.3 475.9M515.5 478.2L515.0 478.8L514.3 479.5L513.6 480.2L512.9 481.0L512.2 481.7L511.5 482.4L510.8 483.0L510.0 483.7L509.2 484.3L508.5 484.9L508.2 485.1M506.6 486.3L506.0 486.7L505.2 487.2L504.3 487.8L503.5 488.3L502.6 488.8L502.1 489.0M500.5 489.8L499.9 490.1L499.0 490.4M428.3 367.8L428.2 368.8L428.1 369.8L428.1 370.8L428.0 371.8L427.9 372.8L427.9 373.8L427.9 374.8L427.8 375.8L427.8 376.8L427.8 377.1M427.8 379.3L427.9 379.8L427.9 380.8L427.9 381.8L428.0 382.8L428.1 383.8L428.1 384.8L428.2 385.8L428.3 386.8L428.5 387.8L428.6 388.8L428.6 388.8M428.9 390.6L428.9 390.7L429.1 391.7L429.3 392.7L429.5 393.7L429.7 394.7L429.9 395.6L430.2 396.6L430.4 397.2M431.0 399.3L431.1 399.5L431.4 400.4M416.6 489.6L416.7 488.6L416.8 487.6L416.8 486.6L416.9 485.6L417.0 484.6L417.1 483.6L417.2 482.6L417.3 481.6L417.4 480.6L417.6 479.7L417.7 478.7L417.9 477.7L418.0 477.0M418.2 475.5L418.4 474.7L418.5 473.7L418.7 472.8L418.9 471.8L419.1 470.8L419.2 470.4M419.9 467.6L420.1 466.9L420.3 465.9L420.6 465.0L420.9 464.0L421.2 463.1L421.5 462.1L421.8 461.2L422.1 460.2L422.2 459.8M423.1 457.6L423.1 457.4L423.5 456.5L423.9 455.5L424.3 454.6L424.7 453.7L425.1 452.8L425.6 451.9L426.1 451.0L426.5 450.2L427.0 449.3M456.8 369.2L456.1 369.9L455.5 370.7L454.8 371.4L454.2 372.2L453.6 373.0L453.0 373.8L452.4 374.6L451.9 375.4M450.5 377.6L450.2 378.0L449.7 378.8L449.2 379.7L448.8 380.6L448.3 381.5L447.8 382.4L447.4 383.3L447.0 384.2L446.6 385.1L446.2 386.0L445.9 386.8M445.0 389.3L444.8 389.8L444.5 390.7L444.2 391.7L443.9 392.6L443.6 393.6L443.4 394.6L443.1 395.5L442.9 396.5L442.7 397.5M523.4 440.8L522.4 441.0L521.5 441.3L520.5 441.7L519.6 442.0L518.7 442.4L517.8 442.8L516.9 443.2L516.0 443.7L515.0 444.1L514.1 444.5L513.2 445.0L512.4 445.4L511.4 445.8L510.5 446.3L509.9 446.6M508.5 447.2L507.8 447.5L506.9 447.9L506.0 448.3L505.1 448.7L504.1 449.1L503.2 449.4L502.3 449.8L501.3 450.1L500.4 450.4L499.6 450.7M496.8 451.5L496.5 451.5L495.6 451.8L494.6 452.0L493.6 452.2L492.6 452.3L491.6 452.5L490.6 452.6L489.6 452.7L488.8 452.8M486.0 452.9L485.6 452.9L484.6 452.9L483.6 452.9L482.6 452.8L481.7 452.7L480.7 452.6L479.7 452.5L478.7 452.3L477.7 452.2L476.7 452.0L475.7 451.8L474.8 451.5L473.8 451.3L473.4 451.2M471.2 450.5L470.9 450.4L470.0 450.1L469.0 449.8L468.1 449.4L467.2 449.1L466.2 448.7L465.3 448.3L464.4 447.9L463.5 447.5L462.6 447.1L461.6 446.7L460.7 446.3L459.8 445.8L458.9 445.4L458.0 445.0L457.4 444.7M456.1 444.0L455.3 443.7L454.4 443.2L453.5 442.8L452.6 442.4L451.7 442.0M587.0 449.1L587.7 449.8L588.4 450.5L589.0 451.3L589.7 452.0L590.4 452.7L590.7 453.0M591.8 454.2L592.5 454.9L593.2 455.6L593.9 456.4M565.5 448.9L566.0 449.8L566.6 450.6L567.1 451.4L567.7 452.3L568.2 453.1L568.7 454.0L569.3 454.8L569.8 455.7L570.3 456.5L570.7 457.0M571.8 458.8L571.9 459.0L572.5 459.9L573.0 460.7L573.5 461.6L574.0 462.4L574.5 463.3L575.1 464.2L575.1 464.3M576.2 466.1L576.6 466.7L577.1 467.6L577.6 468.5L578.1 469.3L578.6 470.2L579.1 471.1L579.6 471.9L580.1 472.8L580.6 473.7L581.1 474.5L581.6 475.4L581.7 475.7M582.8 477.7L583.0 478.0L583.5 478.9L583.9 479.8L584.4 480.7L584.9 481.6L585.3 482.5L585.8 483.3L586.3 484.2L586.7 485.1L587.2 486.0L587.6 486.9L588.1 487.8L588.5 488.7L588.9 489.5M521.7 407.0L521.2 406.7L520.5 406.1L519.7 405.4L518.9 404.8L518.2 404.1L517.4 403.5L517.4 403.5M515.6 402.0L515.1 401.6L514.3 400.9L513.5 400.3L512.7 399.7L512.0 399.1L511.3 398.6M509.9 397.6L509.5 397.3L508.7 396.8L507.9 396.2L507.0 395.7L506.2 395.1L505.3 394.6L504.4 394.2L503.6 393.7L502.7 393.2L501.8 392.8L500.9 392.4L499.9 392.0L499.0 391.6L498.1 391.3L497.1 390.9L496.7 390.8M494.7 390.2L494.2 390.1L493.3 389.9L492.3 389.7L491.3 389.5L490.3 389.4L489.3 389.2L488.3 389.2L487.3 389.1L486.3 389.1L485.3 389.1L484.3 389.1L483.3 389.1L482.3 389.2L481.3 389.3L481.1 389.3M479.5 389.6L479.4 389.6L478.4 389.8L477.4 390.0L476.4 390.3L475.5 390.5L474.5 390.8L473.6 391.1L472.6 391.5L471.7 391.9L471.3 392.0M469.4 392.8L469.0 393.1L468.1 393.5L467.2 394.0L466.3 394.5L465.4 395.0L464.6 395.5L463.7 396.0L462.9 396.6L462.1 397.1L461.2 397.7L460.4 398.3L459.6 398.9L458.8 399.5L458.0 400.1L457.3 400.7L457.2 400.8M455.5 402.1L454.9 402.6L454.2 403.3L453.4 403.9L452.6 404.6M521.4 434.9L520.4 435.1L519.4 435.4L518.5 435.6L517.5 435.8L516.5 436.0L515.5 436.3L514.6 436.5L513.6 436.7L512.6 437.0L511.6 437.2L511.4 437.3M509.4 437.8L508.7 437.9L507.8 438.2L506.8 438.4L505.8 438.6L504.8 438.8L503.9 439.0L502.9 439.2L501.9 439.4L501.6 439.5M499.4 439.9L498.9 440.0L498.0 440.2L497.0 440.3L496.0 440.4L495.0 440.6L494.0 440.7L493.0 440.8L492.0 440.9L491.7 440.9M490.0 441.0L490.0 441.0L489.0 441.1L488.0 441.1L487.0 441.2L486.0 441.2L485.0 441.2L484.6 441.2M482.7 441.1L482.0 441.1L481.0 441.0L480.0 441.0L479.0 440.9L478.0 440.8L477.0 440.7L476.0 440.5L475.1 440.4L474.1 440.3L473.1 440.1L472.1 439.9L471.1 439.8L470.1 439.6L469.1 439.4L468.5 439.3M465.7 438.7L465.2 438.6L464.3 438.3L463.3 438.1L462.3 437.9L461.3 437.6L460.4 437.4L459.4 437.2L458.4 436.9L457.4 436.7L456.5 436.4L455.5 436.2L454.5 436.0L454.4 435.9M451.9 435.4L451.6 435.3L450.6 435.1L449.7 434.9L448.7 434.6L447.7 434.4M483.3 366.6L482.3 366.7L481.3 366.8L480.4 366.9L479.4 367.1L478.4 367.3L477.4 367.5L476.4 367.8L475.5 368.1L474.5 368.4L473.6 368.7L472.7 369.1L471.7 369.4L470.8 369.9L470.0 370.3M468.3 371.2L468.2 371.2L467.3 371.7L466.4 372.3L465.6 372.8L464.8 373.4L464.0 374.0L463.2 374.6M426.2 489.9L426.1 488.9L426.0 487.9L425.9 486.9L425.9 485.9L425.8 485.0L425.8 484.0M425.7 481.8L425.7 481.0L425.7 480.0L425.7 479.0L425.7 478.0L425.7 477.0L425.8 476.0L425.8 475.0L425.9 474.0L425.9 473.5M426.1 471.5L426.1 471.0L426.2 470.0L426.3 469.0L426.5 468.0L426.6 467.0L426.8 466.0L426.9 465.0L427.1 464.3M427.6 461.6L427.7 461.1L427.9 460.1L428.2 459.2L428.5 458.2L428.7 457.2L429.0 456.3L429.4 455.3L429.7 454.4L430.1 453.5L430.5 452.5M587.2 399.9L587.9 399.2L588.6 398.4L589.2 397.7L589.9 396.9L590.6 396.2L591.2 395.4L591.9 394.7L592.6 393.9L593.2 393.2L593.9 392.5M553.4 449.8L553.9 450.7L554.4 451.5L554.8 452.4L555.3 453.3L555.8 454.2L556.3 455.1L556.7 455.9L557.2 456.8L557.6 457.7L558.0 458.6L558.3 459.3M559.4 461.6L559.7 462.3L560.1 463.2L560.5 464.1L560.9 465.0L561.3 466.0L561.4 466.3M562.4 468.7L562.4 468.7L562.8 469.7L563.1 470.6L563.5 471.5L563.8 472.5L564.1 473.4L564.5 474.4L564.8 475.3L565.1 476.1M565.9 478.6L566.1 479.1L566.3 480.1L566.6 481.0L566.9 482.0L567.2 482.9L567.5 483.9L567.8 484.9L568.0 485.8L568.2 486.6M568.7 488.6L568.8 488.7L569.0 489.7L569.3 490.7M443.0 486.3L442.6 485.3L442.3 484.4L441.9 483.5L441.5 482.6L441.2 481.6L440.9 480.7L440.6 479.7L440.3 478.8L440.0 477.8L439.7 476.8L439.5 476.3M439.0 474.1L439.0 473.9L438.8 473.0L438.6 472.0L438.4 471.0L438.2 470.0L438.0 469.0L437.9 468.0L437.8 467.0L437.6 466.1L437.5 465.1L437.5 464.1L437.4 463.1L437.3 462.1L437.3 461.1L437.3 460.5M437.3 458.0L437.3 457.1L437.4 456.1L437.5 455.1M573.4 404.0L574.0 403.2L574.6 402.4L575.2 401.5L575.8 400.7L576.3 399.9L576.9 399.1L577.5 398.3L578.1 397.5L578.7 396.7L579.3 395.9L579.3 395.9M580.5 394.2L581.0 393.4L581.6 392.6L582.2 391.8L582.8 391.0L583.4 390.2L583.9 389.4L584.5 388.6L585.1 387.8L585.7 386.9L586.3 386.1L586.9 385.3L587.4 384.5L588.0 383.7L588.6 382.9L589.0 382.2M590.3 380.3L590.9 379.6M530.6 395.1L530.6 394.9L530.4 393.9L530.3 392.9L530.1 391.9L529.9 391.0L529.7 390.0L529.5 389.0L529.3 388.0L529.0 387.1L528.8 386.1L528.5 385.1L528.2 384.2L528.1 383.8M527.3 381.6L527.2 381.3L526.9 380.4L526.5 379.5L526.1 378.5L525.7 377.6L525.3 376.7L524.9 375.8L524.5 374.9L524.0 374.0L523.6 373.1L523.4 372.9M522.1 370.6L522.1 370.5L521.5 369.7L521.0 368.8L520.4 368.0L519.9 367.2M457.3 487.1L457.2 487.0L456.5 486.3L455.8 485.5L455.2 484.8L454.5 484.0L453.9 483.2L453.7 482.9M452.4 481.3L452.1 480.8L451.6 480.0L451.0 479.2L450.5 478.3L449.9 477.5L449.7 477.0M448.7 475.2L448.5 474.8L448.0 474.0L447.6 473.1L447.1 472.2L446.7 471.2L446.3 470.3L445.9 469.4L445.6 468.5L445.2 467.6L444.9 466.6L444.5 465.7L444.2 464.7L443.9 463.8L443.7 463.0M443.1 460.9L443.1 460.9L442.9 459.9L442.6 458.9L442.4 458.0L442.2 457.0L442.1 456.0M420.9 487.1L420.9 486.1L421.0 485.1L421.0 484.1L421.0 483.1L421.1 482.1L421.1 481.1L421.2 480.1L421.3 479.2L421.4 478.2L421.5 477.2L421.6 476.2L421.7 475.2L421.8 474.3M422.2 471.8L422.3 471.2L422.4 470.2L422.6 469.2L422.8 468.3L423.0 467.3L423.2 466.3L423.4 465.3L423.7 464.4L423.9 463.4L424.2 462.4L424.4 461.5L424.7 460.5L425.0 459.5L425.1 459.1M426.0 456.6L426.3 455.8L426.7 454.8L427.1 453.9M411.0 485.8L411.2 484.8L411.4 483.8L411.6 482.9L411.8 481.9L412.0 480.9L412.2 479.9L412.4 478.9L412.6 478.0L412.8 477.0L413.1 476.0L413.3 475.1L413.5 474.1L413.8 473.1L413.8 473.1M414.4 471.0L414.6 470.2L414.9 469.3L415.2 468.3L415.5 467.4L415.8 466.4L415.9 466.0M416.7 463.8L416.8 463.6L417.1 462.6L417.5 461.7L417.8 460.8L418.2 459.8L418.6 458.9L419.0 458.0L419.4 457.1L419.8 456.2L420.2 455.3L420.6 454.4L421.1 453.5M521.6 413.3L520.6 413.0L519.7 412.7L518.8 412.3L517.8 411.9L516.9 411.6L516.0 411.2L515.1 410.8L514.2 410.4L513.2 410.0L512.3 409.6L511.4 409.2L510.5 408.7L509.6 408.4L508.7 408.0L508.2 407.8M505.4 406.6L505.0 406.5L504.0 406.1L503.1 405.8L502.1 405.4L501.2 405.1L500.2 404.8L499.3 404.6L498.3 404.3L498.3 404.3M496.7 403.9L496.4 403.8L495.4 403.6L494.4 403.4L493.4 403.2L492.4 403.1L491.4 402.9L490.4 402.8L489.5 402.7L488.5 402.6L487.5 402.6L486.5 402.6L486.2 402.6M483.4 402.6L482.5 402.7L481.5 402.8L480.5 402.9L479.5 403.0L478.5 403.1L477.5 403.3L477.3 403.3M474.8 403.8L474.6 403.9L473.6 404.1L472.6 404.4L471.7 404.7L470.7 405.0L469.7 405.3L468.8 405.6L467.9 405.9L466.9 406.2L466.0 406.6L465.3 406.9M463.6 407.6L463.2 407.7L462.3 408.1L461.4 408.5L460.4 408.9L459.5 409.3L458.6 409.7L457.7 410.1L456.8 410.5L455.9 410.9L455.0 411.3L454.0 411.7L453.1 412.1M547.0 404.7L547.5 403.9L548.0 403.0L548.5 402.1L548.9 401.3L549.4 400.4L549.8 399.5L550.3 398.6L550.7 397.7L551.1 396.7L551.5 395.8L551.9 394.9L552.2 394.0M553.2 391.5L553.3 391.2L553.6 390.2L553.9 389.3L554.3 388.3L554.6 387.4L554.9 386.4L555.2 385.5L555.4 384.5L555.7 383.5L556.0 382.6L556.3 381.6L556.5 380.6L556.7 379.7L557.0 378.7L557.2 377.7L557.3 377.5M557.8 375.2L557.9 374.8L558.1 373.8L558.2 372.8L558.4 371.9L558.6 370.9M388.8 369.0L389.2 369.9L389.6 370.8L390.0 371.7L390.5 372.6L390.9 373.5L391.3 374.4L391.8 375.3L392.2 376.2L392.7 377.1L393.1 378.0L393.6 378.9L394.0 379.8L394.5 380.7L394.8 381.3M395.8 383.1L395.9 383.3L396.4 384.2L396.8 385.1L397.3 386.0L397.8 386.9L398.3 387.7L398.8 388.6L399.0 389.0M400.5 391.6L400.7 392.1L401.2 393.0L401.8 393.8L402.3 394.7L402.8 395.5L403.3 396.4L403.8 397.3L403.8 397.3M536.6 450.2L537.0 451.1L537.4 452.0L537.7 453.0L538.0 453.9L538.3 454.9L538.6 455.8L538.8 456.8L539.0 457.8L539.2 458.8L539.4 459.8L539.4 460.0M539.6 461.5L539.7 461.7L539.8 462.7L539.9 463.7L540.0 464.7L540.1 465.7L540.1 466.7L540.2 467.7L540.2 468.7L540.2 469.7L540.2 470.7L540.2 471.7L540.2 472.7L540.2 473.7L540.1 474.7L540.1 475.7L540.0 476.1M539.8 478.6L539.8 478.7L539.7 479.7L539.6 480.7L539.5 481.7L539.4 482.7L539.2 483.7L539.0 484.6L538.9 485.6L538.7 486.6L538.5 487.6L538.3 488.6L538.0 489.5M437.2 486.3L436.9 485.3L436.7 484.4L436.4 483.4L436.2 482.4L436.0 481.5L435.7 480.5L435.5 479.5L435.4 478.5L435.2 477.5L435.0 476.5L434.9 475.6L434.7 474.6L434.6 473.6L434.5 472.6L434.4 471.7M434.3 469.5L434.2 468.6L434.2 467.6L434.2 466.6L434.2 465.6L434.2 464.6L434.2 463.6L434.2 462.6L434.3 461.6L434.3 460.6L434.4 459.6L434.5 458.6L434.7 457.6L434.8 456.6L434.9 456.2M435.4 453.7L435.4 453.7L435.6 452.7L435.9 451.8L436.2 450.8M559.3 452.0L559.8 452.8L560.3 453.7L560.8 454.6L561.3 455.5L561.8 456.3L562.2 457.2L562.7 458.1L563.2 459.0L563.6 459.9L564.1 460.8L564.6 461.6L565.0 462.5L565.4 463.4L565.6 463.6M566.6 465.9L566.8 466.1L567.2 467.0L567.6 467.9L568.0 468.9L568.4 469.8L568.9 470.7L569.3 471.6L569.7 472.5L570.1 473.4L570.5 474.3L570.5 474.4M571.1 475.9L571.2 476.2L571.6 477.1L572.0 478.0L572.4 479.0L572.7 479.9L573.1 480.8L573.5 481.8L573.7 482.4M574.5 484.7L574.8 485.5L575.2 486.4L575.5 487.4L575.8 488.3L576.2 489.3M377.7 368.6L377.9 369.0L378.4 369.8L378.9 370.7L379.5 371.6L380.0 372.4L380.5 373.2M381.3 374.6L381.6 375.0L382.1 375.8L382.6 376.7L383.1 377.5L383.7 378.4L384.2 379.2L384.8 380.0L385.3 380.9L385.8 381.7L386.4 382.6L386.9 383.4L387.5 384.2L387.9 384.9M388.9 386.5L389.1 386.8L389.7 387.6L390.2 388.4L390.8 389.3L391.3 390.1L391.9 390.9L392.5 391.7L393.0 392.6L393.6 393.4L394.1 394.2L394.7 395.1L394.9 395.3M395.8 396.6L395.8 396.7L396.4 397.5L397.0 398.4L397.5 399.2L398.1 400.0L398.6 400.8L399.2 401.7L399.8 402.5M466.6 489.0L465.9 488.6L465.1 488.0L464.2 487.5L463.4 486.9L462.6 486.3L461.8 485.7L461.1 485.0L460.3 484.4L459.6 483.7L458.9 483.0L458.2 482.3L457.5 481.6L456.8 480.8L456.1 480.1L455.5 479.4M454.1 477.5L453.6 477.0L453.0 476.2L452.5 475.3L451.9 474.5L451.4 473.7L450.8 472.8L450.3 472.0L449.8 471.1L449.3 470.2L448.9 469.3L448.6 468.9M447.5 466.5L447.1 465.7L446.7 464.8L446.3 463.9L446.0 463.0L445.6 462.0L445.3 461.1L445.1 460.7M444.6 459.1L444.3 458.2L444.1 457.3L443.8 456.3L443.5 455.3M520.9 418.7L519.9 418.4L519.0 418.2L518.0 418.0L517.0 417.8L516.0 417.5L515.1 417.3L514.1 417.1L513.6 416.9M511.4 416.4L511.2 416.4L510.2 416.1L509.2 415.9L508.3 415.7L507.3 415.4L506.3 415.2L505.3 415.0L504.4 414.8L503.4 414.6L502.4 414.4L501.4 414.2L500.4 414.0L499.5 413.8L498.5 413.6L497.5 413.5L497.2 413.4M495.0 413.1L494.5 413.1L493.5 413.0L492.5 412.9L491.5 412.8L490.5 412.7L489.5 412.6L488.5 412.6L487.5 412.6L486.5 412.5L485.5 412.5L484.5 412.5L484.3 412.5M481.9 412.6L481.5 412.6L480.5 412.7L479.5 412.8L478.5 412.9L477.5 413.0L476.6 413.1L475.6 413.2L475.6 413.2M474.0 413.4L473.6 413.5L472.6 413.7L471.6 413.8L470.6 414.0L469.6 414.2L468.8 414.4M466.7 414.8L466.7 414.8L465.7 415.0L464.8 415.3L463.8 415.5L462.8 415.7L461.8 416.0L460.9 416.2L459.9 416.4L458.9 416.7L458.0 416.9L457.0 417.1L456.0 417.4L455.0 417.6L454.7 417.7M451.9 418.3L451.1 418.5L450.2 418.7L449.2 419.0L448.2 419.2M439.4 369.6L439.2 370.5L438.9 371.4L438.6 372.4L438.3 373.3L438.1 374.3L437.8 375.3L437.6 376.3L437.6 376.4M437.0 379.3L436.8 380.2L436.7 381.2L436.5 382.2L436.4 383.2L436.3 384.1L436.2 385.1L436.1 386.1L436.0 387.1L435.9 388.1L435.9 389.1L435.9 390.1L435.9 390.3M435.9 392.6L435.9 393.1L435.9 394.1L436.0 395.1L436.1 396.1L436.2 397.1L436.3 398.1L436.4 399.1L436.6 400.1L436.8 401.1L436.8 401.3M437.4 403.4L437.6 404.0L437.9 404.9M581.1 401.7L581.1 401.7L581.7 400.9L582.4 400.1L583.0 399.3L583.6 398.6L584.3 397.8L584.9 397.0L585.5 396.2L586.2 395.5L586.8 394.7L587.4 393.9L588.1 393.1L588.3 392.9M589.5 391.4L590.0 390.8L590.6 390.0L591.2 389.3L591.9 388.5L592.5 387.7L593.1 387.0M563.1 398.2L563.6 397.3L564.1 396.4L564.6 395.5L565.1 394.7L565.6 393.8L566.0 392.9L566.5 392.0M567.3 390.5L567.4 390.2L567.9 389.4L568.4 388.5L568.8 387.6L569.3 386.7L569.7 385.8L570.0 385.3M570.6 383.8L571.0 383.1L571.4 382.2L571.9 381.3L572.3 380.4L572.7 379.5L573.1 378.5L573.5 377.6L573.7 377.3M574.3 375.9L574.3 375.8L574.7 374.9L575.1 374.0L575.5 373.0L575.9 372.1L576.3 371.2L576.6 370.3L576.7 370.1M577.6 367.8L577.7 367.5L578.1 366.5M541.8 403.7L542.3 402.8L542.8 401.9L543.2 401.0L543.6 400.1L544.0 399.2L544.4 398.3L544.7 397.3L545.1 396.4L545.4 395.4L545.7 394.5L545.7 394.5M546.1 393.0L546.3 392.6L546.5 391.6L546.8 390.6L547.0 389.7L547.3 388.7L547.5 387.7L547.7 386.7L547.9 385.7L548.1 384.8L548.1 384.4M548.5 381.8L548.7 380.8L548.8 379.8L548.9 378.8L549.0 377.8L549.1 376.8L549.2 375.8L549.3 374.8L549.4 373.8L549.4 373.6M554.1 402.3L554.6 401.5L555.1 400.6L555.5 399.7L556.0 398.8L556.5 397.9L556.9 397.1M557.6 395.5L557.8 395.2L558.2 394.3L558.6 393.4L559.0 392.5L559.5 391.6L559.9 390.7L560.3 389.8L560.5 389.2M561.5 386.8L561.8 386.1L562.1 385.1L562.5 384.2L562.9 383.3L563.2 382.3L563.5 381.4L563.7 380.8M564.3 379.3L564.5 378.5L564.9 377.6L565.2 376.7L565.5 375.7L565.8 374.7L566.1 373.8L566.4 372.8L566.7 371.9L566.9 370.9L567.2 370.0L567.5 369.0L567.7 368.0L568.0 367.1M416.1 373.0L416.3 374.0L416.4 374.9L416.6 375.9L416.8 376.9L417.0 377.9L417.1 378.9L417.3 379.9L417.6 380.8L417.8 381.8L418.0 382.8L418.2 383.8L418.5 384.7M419.1 387.2L419.3 387.6L419.5 388.6L419.8 389.5L420.1 390.5L420.4 391.4L420.8 392.4L421.1 393.3L421.4 394.3L421.8 395.2L422.2 396.1L422.5 397.1L422.9 398.0L423.3 398.9L423.7 399.8L424.1 400.5M424.8 401.9L425.1 402.5L425.6 403.4M448.7 372.5L448.2 373.3L447.8 374.2L447.3 375.1L446.9 376.0L446.4 376.9L446.0 377.8L445.6 378.7L445.2 379.6L444.8 380.6L444.5 381.5L444.1 382.4L443.8 383.4L443.5 384.3L443.2 385.3L442.9 386.1M442.2 388.9L442.1 389.1L441.9 390.1L441.7 391.1L441.5 392.1L441.3 393.1L441.2 393.9M440.9 395.6L440.9 396.0L440.7 397.0L440.6 398.0L440.6 399.0M577.2 452.3L577.8 453.1L578.4 453.9L579.0 454.7L579.5 455.5L580.1 456.3L580.7 457.1L581.3 457.9L581.9 458.7L582.5 459.5L583.1 460.3L583.7 461.1L583.9 461.3M585.3 463.2L585.5 463.5L586.1 464.3L586.7 465.1L587.3 465.9L587.9 466.7L588.5 467.5L589.1 468.3L589.7 469.1L590.3 469.9L590.9 470.7L591.5 471.6L592.1 472.4L592.7 473.2L593.3 474.0M377.5 395.8L378.2 396.5L378.9 397.2L379.6 398.0L380.2 398.7L380.9 399.4L381.6 400.2L382.3 400.9L383.0 401.6L383.6 402.4L384.3 403.1L385.0 403.9M568.8 401.6L569.3 400.7L569.9 399.9L570.4 399.1L571.0 398.2L571.5 397.4L572.0 396.5L572.6 395.7L573.1 394.9L573.6 394.0L574.2 393.2L574.2 393.2M575.3 391.4L575.8 390.6L576.3 389.8L576.8 388.9L577.4 388.1L577.9 387.2L578.2 386.7M579.2 385.0L579.4 384.7L579.9 383.8L580.5 382.9L581.0 382.1L581.5 381.2L582.0 380.4L582.5 379.5L583.0 378.6L583.5 377.8L584.0 376.9L584.5 376.0L585.0 375.2L585.4 374.3L585.9 373.4L585.9 373.4M587.3 370.9L587.4 370.8L587.8 369.9L588.3 369.0L588.8 368.1L589.3 367.2M386.7 484.9L387.1 484.0L387.6 483.1L388.0 482.2L388.5 481.4L388.9 480.5L389.4 479.6L389.8 478.7L390.3 477.8L390.8 476.9L390.9 476.6M391.8 474.9L392.2 474.3L392.6 473.4L393.1 472.5L393.6 471.6L394.1 470.7L394.6 469.9L395.0 469.0L395.5 468.1L396.0 467.3L396.5 466.4L397.0 465.5L397.5 464.6L398.0 463.8L398.5 462.9L398.9 462.3M399.8 460.8L400.1 460.3L400.6 459.5L401.1 458.6L401.6 457.8L402.1 456.9L402.7 456.1L403.2 455.2L403.7 454.4M375.5 453.8L376.3 453.1L377.0 452.4L377.7 451.7L378.4 451.0L379.1 450.3L379.8 449.6L380.5 448.9M445.9 368.9L445.7 369.2L445.3 370.1L444.9 371.0L444.5 371.9L444.1 372.8L443.7 373.8L443.3 374.7L442.9 375.6L442.6 376.6L442.3 377.5L442.3 377.5M441.5 380.1L441.4 380.4L441.1 381.3L440.8 382.3L440.6 383.3L440.4 384.2L440.2 385.2L440.0 386.2L439.8 387.2L439.6 388.2L439.4 389.2L439.3 389.9M439.0 392.9L439.0 393.1L438.9 394.1L438.9 395.1L438.8 396.1L438.8 397.1L438.8 398.1L438.8 399.1L438.9 400.1L439.0 401.1L439.1 402.1L439.2 403.1M375.6 483.9L376.1 483.1L376.6 482.2L377.2 481.4L377.7 480.5L378.3 479.7L378.8 478.9L379.4 478.0L379.9 477.2L380.5 476.4L381.0 475.5L381.6 474.7L382.1 474.0M383.1 472.4L383.3 472.2L383.8 471.4L384.4 470.6L384.9 469.7L385.5 468.9L386.1 468.1L386.6 467.3L386.9 466.9M388.3 464.9L388.4 464.8L388.9 464.0L389.5 463.2L390.1 462.3L390.6 461.5L391.2 460.7L391.8 459.9L392.4 459.1L393.0 458.3L393.5 457.4L394.1 456.6L394.7 455.8L395.3 455.0L395.8 454.2L396.4 453.4L396.9 452.7M397.8 451.4L398.2 450.9L398.7 450.1L399.3 449.3M529.7 452.5L529.6 453.4L529.5 454.4L529.3 455.4L529.2 456.4L529.0 457.4L528.8 458.4L528.6 459.3L528.3 460.3L528.1 461.3L527.8 462.2M527.4 463.8L527.3 464.2L527.0 465.1L526.6 466.1L526.3 467.0L526.0 467.9L525.6 468.9L525.2 469.8L524.8 470.7L524.4 471.6L524.3 471.9M523.6 473.2L523.6 473.4L523.1 474.3L522.6 475.2L522.2 476.1L521.7 477.0L521.1 477.8L520.6 478.7L520.1 479.5L519.5 480.3L518.9 481.2L518.4 482.0L517.8 482.8L517.7 482.9M516.7 484.0L516.5 484.3L515.9 485.1L515.2 485.8L514.5 486.6L513.8 487.3L513.1 488.0L512.4 488.7L511.7 489.4L510.9 490.0L510.2 490.7L509.4 491.3M583.5 455.4L583.8 455.7L584.4 456.5L585.0 457.3L585.6 458.1L586.3 458.8L586.9 459.6L587.5 460.4L588.2 461.2L588.8 461.9L589.4 462.7L590.1 463.5M383.7 372.1L383.7 372.1L384.2 373.0L384.7 373.9L385.2 374.7L385.7 375.6L386.2 376.5L386.7 377.3L387.2 378.2L387.7 379.1L388.2 379.9L388.7 380.8L389.2 381.6L389.4 382.0M391.0 384.5L391.3 385.1L391.8 385.9L392.4 386.8L392.9 387.6L393.4 388.5L393.9 389.3L394.5 390.2L395.0 391.0L395.6 391.8L395.6 391.9M397.0 394.1L397.2 394.4L397.7 395.2L398.3 396.1L398.8 396.9L399.3 397.7L399.9 398.6L399.9 398.6M401.3 400.7L401.5 401.1M392.5 487.0L392.9 486.0L393.2 485.1L393.6 484.2L394.0 483.3L394.4 482.3L394.8 481.4L395.2 480.5L395.6 479.6L395.6 479.4M396.6 477.3L396.8 476.8L397.2 475.9L397.6 475.0L398.0 474.1L398.4 473.2L398.9 472.3L399.3 471.4L399.7 470.5L400.2 469.6L400.6 468.7L401.0 467.8L401.5 466.9L401.7 466.6M402.7 464.6L402.9 464.2L403.3 463.4L403.8 462.5L404.3 461.6L404.7 460.7L405.2 459.8L405.7 459.0L406.2 458.1L406.7 457.2L407.2 456.3L407.7 455.5L408.2 454.6L408.7 453.7L409.2 452.9L409.6 452.1M523.5 409.8L522.6 409.4L521.7 408.9L520.8 408.4L520.0 407.9L519.2 407.3L518.9 407.1M517.5 406.2L516.7 405.6L515.9 405.0L515.1 404.4L514.2 403.9L513.4 403.3L512.6 402.7L511.8 402.2L510.9 401.6L510.1 401.1L509.2 400.6L508.4 400.1L507.5 399.5L506.6 399.1L505.8 398.6L505.0 398.2M502.9 397.2L502.2 396.8L501.3 396.4L500.3 396.0L499.4 395.7L498.5 395.3L497.5 395.0L496.6 394.7L496.3 394.6M494.8 394.3L494.6 394.2L493.7 394.0L492.7 393.8L491.7 393.6L490.7 393.5L489.7 393.3L488.7 393.2L488.2 393.2M485.8 393.1L485.7 393.1L484.7 393.1L483.7 393.2L482.7 393.2L481.7 393.3L480.7 393.4L479.7 393.6L478.8 393.8L477.8 393.9L476.8 394.2L475.8 394.4L474.9 394.7L474.0 394.9M472.0 395.6L472.0 395.6L471.1 396.0L470.2 396.4L469.2 396.8L468.3 397.2L467.4 397.6L466.5 398.0L465.6 398.5L464.8 399.0L463.9 399.5L463.0 400.0L462.7 400.2M461.5 401.0L461.3 401.0L460.5 401.6L459.7 402.1L458.8 402.7L458.0 403.2L457.2 403.8L456.3 404.4L455.5 405.0L454.8 405.4M453.5 406.4L453.1 406.7L452.2 407.2L451.4 407.8L450.6 408.3L449.7 408.8L448.8 409.3L448.0 409.8M375.1 464.5L375.8 463.7L376.5 463.0L377.1 462.3L377.8 461.5L378.5 460.8L379.1 460.0L379.8 459.3L380.5 458.5L381.1 457.8L381.4 457.4M382.7 456.0L383.1 455.5L383.8 454.8M527.8 399.4L527.5 398.4L527.3 397.5L527.0 396.5L526.7 395.5L526.4 394.6L526.1 393.6L525.7 392.7L525.4 391.8L525.0 390.8L524.7 389.9L524.3 389.0L523.9 388.1L523.4 387.2L523.0 386.3L522.6 385.5M521.8 384.0L521.6 383.6L521.1 382.7L520.6 381.9L520.1 381.0L519.5 380.2L519.0 379.3L518.4 378.5L517.8 377.7L517.2 376.9L516.6 376.1L516.0 375.3L515.4 374.6L514.7 373.8L514.2 373.2M512.9 371.9L512.6 371.6L511.9 371.0L511.2 370.3L510.4 369.6L509.7 369.0L508.9 368.3L508.1 367.7L507.3 367.1L506.5 366.5M377.3 400.9L377.7 401.3L378.5 402.0L379.2 402.7L379.9 403.4M378.6 464.8L378.9 464.5L379.5 463.7L380.1 462.9L380.8 462.2L381.4 461.4L382.1 460.6L382.7 459.9L383.4 459.1L384.0 458.3L384.6 457.6L385.3 456.8L385.9 456.0L386.5 455.3L387.2 454.5L387.6 454.0M388.8 452.6L389.1 452.2M587.6 404.3L588.2 403.6L588.9 402.8L589.6 402.1L590.3 401.4L591.0 400.6L591.7 399.9L592.4 399.2L593.1 398.5L593.8 397.8M592.8 402.6L593.1 402.3L593.8 401.6M549.1 452.9L549.5 453.8L550.0 454.7L550.4 455.7L550.8 456.6L551.2 457.5L551.4 457.9M552.3 460.3L552.7 461.2L553.0 462.1L553.4 463.1L553.7 464.0L554.0 465.0L554.3 465.9L554.6 466.9L554.9 467.8L555.0 468.1M555.8 470.8L556.0 471.7L556.3 472.6L556.5 473.6L556.8 474.6L557.0 475.6L557.2 476.5L557.4 477.5L557.6 478.5L557.8 479.2M558.1 480.7L558.2 481.4L558.4 482.4L558.6 483.4L558.7 484.4L558.9 485.4L559.0 486.4L559.2 487.4L559.3 488.3L559.4 489.3M576.4 455.0L577.0 455.8L577.6 456.7L578.2 457.5L578.8 458.3L579.3 459.1L579.9 459.9L580.5 460.7L581.1 461.5L581.7 462.4L582.2 463.2L582.8 464.0L583.4 464.8L583.6 465.1M585.3 467.5L585.7 468.1L586.3 468.9L586.8 469.7L587.4 470.6L588.0 471.4L588.5 472.2L589.1 473.0L589.6 473.9L589.8 474.1M564.1 451.1L564.6 452.0L565.1 452.8L565.6 453.7L566.2 454.5L566.7 455.4L567.2 456.2L567.7 457.1L568.2 457.9L568.7 458.8L569.2 459.7L569.7 460.5L570.2 461.4M570.9 462.6L571.2 463.1L571.7 464.0L572.2 464.9L572.7 465.8L573.2 466.6L573.7 467.5L574.1 468.4L574.6 469.3L575.1 470.2L575.5 471.0L576.0 471.9L576.5 472.8L576.7 473.3M577.8 475.3L577.8 475.5L578.3 476.4L578.7 477.3L579.2 478.2L579.6 479.1L580.1 480.0L580.5 480.9L580.9 481.8L581.3 482.7L581.8 483.6L582.2 484.5L582.6 485.4L583.0 486.3L583.3 487.0M584.3 489.3L584.6 490.0L585.0 490.9L585.4 491.8M581.7 398.1L582.2 397.3L582.9 396.5L583.5 395.8L584.1 395.0L584.7 394.2L585.3 393.4L585.7 392.9M586.7 391.7L587.2 391.0L587.8 390.2L588.4 389.5L589.0 388.7L589.6 387.9L590.3 387.1L590.4 386.9M518.8 426.4L517.8 426.4L516.8 426.4L515.8 426.4L514.8 426.4L513.8 426.4L512.8 426.4L511.8 426.3L510.8 426.3L509.8 426.3L508.8 426.3L507.8 426.3L506.8 426.3L505.8 426.3L504.8 426.3L504.7 426.3M503.0 426.3L502.8 426.2L501.8 426.2L500.8 426.2L499.8 426.2L498.8 426.2L497.8 426.2L496.9 426.2M494.0 426.2L493.8 426.2L492.8 426.2L491.8 426.2L490.8 426.2L489.8 426.2L488.8 426.2L488.0 426.2M485.1 426.2L484.8 426.2L483.8 426.2L482.8 426.2L481.8 426.2L480.8 426.2L479.8 426.2L478.8 426.2L477.8 426.2L477.5 426.2M475.0 426.2L474.8 426.2L473.8 426.2L472.8 426.2L471.8 426.2L470.8 426.2L469.8 426.2L469.6 426.2M467.9 426.3L467.8 426.3L466.8 426.3L465.8 426.3L464.8 426.3L463.8 426.3L462.8 426.3L461.8 426.3L460.8 426.3L460.4 426.3M458.2 426.4L457.8 426.4L456.8 426.4L455.8 426.4L454.8 426.4L453.8 426.4L452.8 426.4L451.8 426.4L450.8 426.4L449.8 426.4M589.7 449.0L590.4 449.7L591.1 450.4L591.8 451.1L592.5 451.8L593.2 452.5L593.9 453.2M534.9 400.3L534.9 400.3L535.1 399.3L535.3 398.3L535.4 397.3L535.5 396.3L535.6 395.3L535.7 394.3L535.7 393.3L535.8 392.3L535.8 391.4M535.8 389.7L535.8 389.3L535.7 388.3L535.7 387.3L535.6 386.3L535.6 385.3L535.5 384.3L535.4 383.3L535.2 382.4M535.0 380.6L535.0 380.4L534.8 379.4L534.6 378.4L534.4 377.4L534.2 376.4L534.0 375.5L533.8 374.5L533.6 373.5L533.3 372.5L533.1 371.6M537.8 402.0L538.2 401.1L538.5 400.1L538.8 399.2L539.1 398.2L539.4 397.2L539.6 396.3L539.8 395.3L540.0 394.3L540.2 393.3L540.2 393.1M540.7 390.3L540.8 389.4L540.9 388.4L540.9 387.4L541.0 386.4L541.1 385.4L541.1 384.4L541.2 383.4L541.2 382.4L541.2 381.4L541.2 380.4L541.2 379.4L541.1 378.4L541.1 377.4L541.1 377.3M540.9 375.0L540.9 374.4L540.8 373.4L540.7 372.4L540.6 371.4M587.2 452.8L587.8 453.6L588.5 454.3L589.1 455.1L589.8 455.8L590.5 456.6L591.2 457.3L591.8 458.1M378.3 393.7L379.0 394.5L379.7 395.2L380.4 396.0L381.0 396.7L381.7 397.4L382.0 397.8M383.3 399.3L383.7 399.7L384.3 400.4L385.0 401.2L385.7 401.9L386.3 402.7L387.0 403.5M533.9 456.1L534.0 456.3L534.0 457.3L534.1 458.3L534.1 459.3L534.1 460.3L534.0 461.3L534.0 462.3L534.0 463.3L533.9 464.3L533.8 465.3L533.7 466.3L533.6 467.3L533.5 467.9M533.2 469.8L533.1 470.2L533.0 471.2L532.8 472.2L532.6 473.2L532.4 474.2L532.1 475.1L531.9 476.1L531.6 477.1L531.4 478.0L531.1 479.0L530.8 479.9L530.5 480.9L530.4 481.1M529.7 483.0L529.4 483.7L529.1 484.6L528.7 485.6L528.3 486.5L527.9 487.4L527.4 488.3M375.1 402.4L375.9 403.1L376.6 403.8L377.3 404.5" fill="none" stroke="#575757" stroke-width="0.75" stroke-linecap="round"/><path d="M526.6 573.1L526.5 572.1L526.3 571.1L526.2 570.1L526.0 569.1L525.9 568.1L525.8 567.1L525.7 566.1L525.6 565.1L525.5 564.1L525.4 563.1L525.3 562.1L525.2 561.3M525.1 559.0L525.1 558.2L525.0 557.2L525.0 556.2L524.9 555.2L524.9 554.2L524.9 553.2L524.9 552.2L524.9 551.2L524.9 550.2L524.9 549.8M525.0 547.3L525.0 547.2L525.1 546.2L525.1 545.2L525.2 544.2L525.2 543.2L525.3 542.2L525.4 541.2L525.5 540.2L525.5 539.2L525.6 538.3M525.8 536.3L525.8 536.2M547.1 623.0L547.6 623.8L548.2 624.7L548.7 625.5L549.2 626.4L549.8 627.2L550.3 628.1L550.8 628.9L551.3 629.8L551.5 630.1M552.7 632.0L552.8 632.3L553.4 633.2L553.9 634.1L554.4 634.9L554.9 635.8L555.4 636.7L555.9 637.5L556.4 638.4L556.9 639.2L557.4 640.1L557.9 641.0L558.4 641.8L558.9 642.7L559.0 642.8M560.1 644.7L560.5 645.3L561.0 646.1L561.5 647.0L562.0 647.8L562.5 648.7L563.1 649.5L563.6 650.4L564.1 651.2L564.6 652.1L565.1 652.8M566.2 654.7L566.7 655.5L567.3 656.3L567.8 657.2L568.3 658.0M516.8 605.0L516.2 605.1L515.3 605.3L514.3 605.6L513.3 605.8L512.4 606.1L511.4 606.3L510.4 606.6L509.5 606.9L508.5 607.2L507.6 607.5L506.6 607.8L505.7 608.1L504.7 608.5L504.0 608.8M501.5 609.9L501.1 610.1L500.2 610.6L499.3 611.1L498.5 611.6L497.6 612.1L496.8 612.7L496.1 613.4L495.3 614.0L494.6 614.7L494.0 615.5L493.3 616.3L492.8 617.1L492.7 617.2M491.7 619.1L491.3 619.7L491.0 620.7L490.6 621.6L490.3 622.5L490.0 623.5L489.8 624.3M489.4 626.3L489.4 626.4L489.2 627.4L489.0 628.4L488.9 629.4L488.7 630.4L488.6 631.4L488.5 632.4L488.4 633.4L488.3 634.4L488.3 634.4M488.1 637.1L488.1 637.3L488.0 638.3L488.0 639.3L487.9 640.3L487.9 641.3L487.8 642.3L487.8 643.3L487.8 643.6M487.7 645.6L487.7 646.3L487.7 647.3L487.7 648.3L487.6 649.3L487.6 650.3L487.6 651.3L487.6 651.6M487.6 653.1L487.6 653.3L487.6 654.3L487.5 655.3L487.5 656.3L487.5 657.3L487.5 658.3L487.5 659.3L487.5 660.3M431.2 624.7L431.1 624.7L430.7 625.6L430.3 626.5L429.8 627.5L429.4 628.4L429.0 629.3L428.6 630.2L428.2 631.1L428.1 631.5M427.1 633.6L427.0 633.9L426.7 634.8L426.3 635.7L425.9 636.6L425.5 637.6L425.1 638.5L425.0 638.7M424.2 640.6L424.0 641.3L423.6 642.2L423.2 643.1L422.8 644.0L422.4 644.9L422.0 645.9L421.7 646.8L421.3 647.7L420.9 648.6L420.5 649.6L420.2 650.2M419.6 651.6L419.3 652.3L418.9 653.2L418.5 654.1L418.1 655.1L417.7 656.0L417.3 656.9L416.9 657.8L416.5 658.7L416.0 659.6M559.4 621.4L560.0 622.2L560.6 623.0L561.2 623.8L561.8 624.5L562.4 625.3L563.1 626.1L563.7 626.9L564.3 627.7L564.9 628.5L565.5 629.3L566.2 630.0L566.8 630.8L567.4 631.6L567.7 631.9M569.0 633.5L569.3 633.9L569.9 634.7L570.5 635.5L571.2 636.3L571.8 637.0L572.5 637.8L573.1 638.6L573.7 639.4L574.4 640.1L575.0 640.9L575.7 641.7L576.3 642.4L576.7 642.8M578.3 644.8L578.9 645.5L579.6 646.2L580.2 647.0L580.9 647.7L581.5 648.5L582.2 649.2L582.9 650.0L583.5 650.7L584.2 651.5L584.8 652.1M586.5 654.1L586.9 654.4L587.5 655.2L588.2 655.9L588.9 656.6L589.6 657.4L590.3 658.1L590.7 658.6M409.5 619.8L408.9 620.6L408.3 621.4L407.6 622.1L407.0 622.9L406.4 623.7L405.7 624.5L405.1 625.2L404.5 626.0L404.1 626.5M402.2 628.7L401.9 629.1L401.3 629.9L400.6 630.6L400.0 631.4L399.3 632.1L398.7 632.9L398.0 633.7L397.4 634.4L397.2 634.6M396.1 635.9L396.0 635.9L395.4 636.7L394.7 637.4L394.1 638.2L393.4 638.9L392.7 639.7L392.0 640.4L391.4 641.1L390.7 641.9L390.0 642.6L389.3 643.3L388.7 644.1L388.0 644.8L387.3 645.5L386.6 646.3L386.2 646.8M384.9 648.1L384.6 648.5L383.9 649.2L383.2 649.9L382.5 650.6L381.8 651.3L381.1 652.1L380.4 652.8L379.7 653.5L379.0 654.2L378.6 654.6M376.7 656.5L376.2 657.0M454.4 580.9L455.3 580.4L456.1 579.8L456.9 579.2L457.7 578.6L458.5 578.0L459.2 577.3L460.0 576.7L460.7 576.0L461.4 575.3L462.1 574.5L462.8 573.8L462.8 573.8M463.9 572.4L464.1 572.3L464.7 571.5L465.3 570.7L465.8 569.9L466.4 569.0L466.9 568.2L467.4 567.3L467.9 566.4L468.3 565.5L468.7 564.6L469.1 563.7L469.5 562.8L469.9 561.8L470.2 560.9L470.4 560.1M471.1 558.0L471.3 557.0L471.5 556.1L471.8 555.1L472.0 554.1L472.1 553.1L472.2 552.8M472.6 550.3L472.6 550.2L472.7 549.2L472.9 548.2L473.0 547.2L473.1 546.2L473.2 545.2L473.3 544.2L473.3 543.2L473.4 542.2L473.5 541.2L473.5 540.2L473.6 539.4M453.0 626.8L453.2 627.1L453.6 628.0L454.0 628.9L454.4 629.8L454.7 630.7L455.1 631.7L455.4 632.6L455.7 633.6L456.0 634.5L456.3 635.3M457.0 638.0L457.1 638.4L457.3 639.4L457.5 640.3L457.7 641.3L457.9 642.3L458.1 643.3L458.3 644.3L458.4 645.3L458.5 646.3L458.7 647.2L458.8 648.2L458.9 649.2L458.9 649.5M459.1 652.1L459.1 652.2L459.2 653.2L459.2 654.2L459.3 655.2L459.3 656.2M526.7 621.3L526.6 622.3L526.4 623.3L526.3 624.2L526.1 625.2L526.0 626.2L525.8 627.2L525.7 628.2L525.6 629.2L525.5 630.2L525.3 631.2L525.3 631.6M525.0 634.5L525.0 635.2L524.9 636.2L524.9 637.2L524.8 638.2L524.8 639.2L524.7 640.2L524.7 641.2L524.7 642.2L524.7 643.2L524.7 644.2L524.7 645.2L524.7 646.2L524.7 647.2L524.7 648.2L524.7 648.5M524.9 651.0L524.9 651.2L524.9 652.2L525.0 653.2L525.0 654.2L525.1 655.1L525.2 656.1L525.3 657.1L525.4 658.1M540.1 624.4L540.6 625.3L541.0 626.2L541.4 627.1L541.9 628.0L542.3 628.9L542.7 629.8L543.1 630.8L543.5 631.7L543.9 632.6L544.3 633.5L544.7 634.4L545.1 635.3L545.5 636.3L545.9 637.2L546.3 638.1M547.0 639.7L547.1 639.9L547.5 640.9L547.8 641.8L548.2 642.7L548.6 643.6L549.0 644.5L549.4 645.4L549.7 646.0M550.8 648.5L551.0 649.1L551.4 650.0L551.8 650.9L552.2 651.9L552.6 652.8L553.1 653.7L553.5 654.6L553.9 655.5L554.1 655.9M554.7 657.3L554.7 657.3L555.1 658.2M453.7 604.2L454.6 604.3L455.6 604.5L456.6 604.8L457.6 605.0L458.5 605.2L459.5 605.4L460.5 605.7L461.5 605.9L462.0 606.1M464.6 606.8L465.3 607.0L466.2 607.4L467.2 607.7L468.1 608.0L469.1 608.4L470.0 608.8L470.9 609.2L471.8 609.7L472.6 610.2L472.7 610.2M474.0 611.0L474.3 611.2L475.2 611.8L475.9 612.4L476.7 613.1L477.4 613.8L478.0 614.6L478.6 615.4L479.1 616.2L479.6 617.1L480.1 618.0L480.5 618.9L480.8 619.9L481.1 620.8L481.4 621.6M481.9 623.8L482.1 624.7L482.2 625.7L482.4 626.7L482.5 627.7L482.7 628.7L482.8 629.7L482.9 630.7L483.0 631.6L483.1 632.6L483.1 633.6L483.2 634.6L483.3 635.6L483.3 636.6L483.4 637.6L483.4 638.2M483.5 639.9L483.5 640.6L483.5 641.6L483.6 642.6L483.6 643.6L483.6 644.6L483.7 645.6L483.7 646.6L483.7 647.6L483.7 648.6L483.7 649.6L483.7 650.3M483.8 652.2L483.8 652.6L483.8 653.6L483.8 654.6L483.8 655.6L483.8 656.6L483.8 657.6M416.3 572.4L416.2 572.3L415.6 571.5L415.0 570.7L414.5 569.9L413.9 569.1L413.3 568.2L412.7 567.4L412.2 566.6L411.6 565.8L411.0 565.0L410.4 564.2L410.0 563.6M408.3 561.2L408.1 560.9L407.5 560.1L407.0 559.3L406.4 558.4L405.8 557.6L405.2 556.8L404.6 556.0L404.0 555.2L403.5 554.4L402.9 553.6L402.3 552.8L401.7 552.0L401.1 551.2L400.5 550.3L400.2 550.0M398.8 548.0L398.7 547.9L398.1 547.1L397.5 546.3L396.9 545.5L396.3 544.7L395.7 543.9L395.1 543.2L394.5 542.4L393.9 541.6L393.3 540.8L393.0 540.4M391.8 538.9L391.4 538.4M517.9 590.2L516.9 589.9L516.0 589.7L515.0 589.4L514.0 589.2L513.1 588.9L512.1 588.6L511.2 588.3L510.2 588.0L509.3 587.7L508.3 587.3L507.7 587.1M506.4 586.6L505.6 586.2L504.6 585.8L503.7 585.4L502.8 584.9L502.0 584.4L501.1 583.9L500.2 583.4L499.4 582.9L498.6 582.3L497.8 581.7L497.1 581.0M495.0 578.9L495.0 578.8L494.4 578.1L493.8 577.2L493.3 576.4L492.8 575.5L492.4 574.6L492.0 573.8M491.2 571.5L491.0 570.9L490.7 569.9L490.5 568.9L490.2 567.9L490.0 567.0L489.9 566.0L489.7 565.0L489.6 564.0L489.5 563.7M489.2 561.3L489.2 561.0L489.1 560.0L489.0 559.0L488.9 558.0L488.8 557.0L488.8 556.0L488.7 555.0L488.6 554.1L488.6 553.1L488.5 552.1L488.5 551.1L488.5 550.6M488.4 548.5L488.4 548.1L488.4 547.1L488.3 546.1L488.3 545.1L488.3 544.1L488.3 543.1L488.2 542.1L488.2 541.1L488.2 540.1L488.2 539.1L488.2 538.1M426.7 570.4L426.2 569.6L425.7 568.7L425.2 567.8L424.7 566.9L424.3 566.0L423.8 565.2M423.1 563.8L422.9 563.4L422.4 562.5L422.0 561.6L421.5 560.7L421.1 559.8L420.6 558.9L420.2 558.0L420.0 557.6M419.3 556.3L419.3 556.2L418.8 555.4L418.4 554.5L417.9 553.6L417.5 552.7L417.0 551.8L416.6 550.9L416.1 550.0L415.7 549.1L415.2 548.2L414.7 547.3L414.5 546.9M413.6 545.2L413.4 544.7L412.9 543.8L412.4 542.9M529.8 572.5L529.9 571.5L529.9 570.5L530.0 569.5L530.1 568.5L530.2 567.5L530.2 566.5L530.3 565.5L530.4 564.5L530.5 563.5L530.5 562.5L530.6 561.5L530.7 560.5L530.8 559.5L530.8 559.3M531.0 557.7L531.0 557.5L531.1 556.5L531.2 555.5L531.3 554.5L531.4 553.5L531.5 552.5L531.6 551.5L531.8 550.6L531.9 549.6L532.0 548.6L532.2 547.6L532.3 546.6L532.5 545.6L532.6 545.1M532.9 542.9L533.0 542.6L533.1 541.7L533.3 540.7L533.5 539.7M521.6 612.1L520.7 612.4L519.7 612.7L518.8 613.2L517.9 613.6L517.1 614.1L516.2 614.6L515.4 615.1L514.5 615.7L513.7 616.3L512.9 616.9L512.1 617.5L512.1 617.5M510.8 618.6L510.6 618.8L509.8 619.4L509.1 620.1L508.4 620.8L507.7 621.6L507.1 622.3L506.4 623.1L505.8 623.8L505.2 624.6L504.6 625.4L504.0 626.3L503.5 627.1L503.0 628.0L502.5 628.9L502.3 629.3M501.1 631.9L500.8 632.5L500.5 633.4L500.1 634.4L499.8 635.3L499.5 636.3L499.3 637.2L499.0 638.2L498.8 639.2L498.5 640.1L498.3 641.1L498.1 642.1L498.1 642.6M497.7 644.9L497.7 645.1L497.5 646.1L497.4 647.0L497.3 648.0L497.2 649.0L497.1 650.0L497.0 651.0L496.9 652.0L496.9 653.0L496.8 654.0L496.8 654.2M496.7 655.6L496.7 656.0M532.5 620.8L532.9 621.7L533.2 622.7L533.5 623.6L533.8 624.6L534.1 625.5L534.3 626.5L534.6 627.5L534.7 628.0M535.4 630.6L535.6 631.3L535.8 632.3L536.0 633.3L536.3 634.2L536.5 635.2L536.7 636.2L537.0 637.2L537.2 638.1L537.5 639.1L537.7 640.1L537.9 641.0L538.0 641.4M538.5 643.2L538.7 644.0L538.9 644.9L539.2 645.9L539.4 646.9L539.7 647.8L539.9 648.8L540.2 649.8L540.5 650.7L540.7 651.7L541.0 652.6L541.3 653.6L541.6 654.6L541.8 655.5L542.1 656.5L542.2 656.7M516.5 608.2L515.5 608.5L514.6 608.9L513.6 609.2L512.7 609.6L511.8 609.9L510.8 610.3L510.0 610.7M507.8 611.7L507.2 612.0L506.4 612.5L505.5 613.0L504.6 613.5L503.8 614.0L503.0 614.6L502.1 615.2L502.1 615.2M500.5 616.6L499.8 617.1L499.1 617.8L498.4 618.5L497.8 619.3L497.1 620.1L496.5 620.9L496.0 621.7L495.5 622.5L495.0 623.4L494.5 624.3L494.1 625.2L493.7 626.1L493.4 627.1L493.3 627.4M492.8 628.9L492.8 629.0L492.5 629.9L492.3 630.9L492.0 631.9L491.8 632.9L491.6 633.9L491.5 634.8L491.3 635.8L491.2 636.8L491.0 637.8L490.9 638.8L490.8 639.8L490.7 640.8L490.6 641.8L490.6 641.8M490.4 643.8L490.4 643.8L490.4 644.8L490.3 645.8L490.2 646.8L490.2 647.8L490.1 648.8L490.1 649.8L490.1 650.8L490.0 651.8L490.0 652.8L490.0 652.8M489.9 655.5L489.9 655.8M518.7 592.8L518.4 592.8L517.4 592.6L516.4 592.5L515.4 592.3L514.5 592.1L513.5 592.0L512.5 591.8L511.5 591.6L510.5 591.4L509.6 591.1L509.1 591.0M506.4 590.4L505.7 590.2L504.7 589.9L503.7 589.6L502.8 589.3L501.8 589.0L500.9 588.7L500.0 588.3L499.1 587.9L498.4 587.6M496.3 586.5L495.5 586.0L494.7 585.5L493.9 584.8L493.2 584.2L492.5 583.4L491.9 582.7L491.6 582.3M490.4 580.4L490.3 580.1L489.9 579.2L489.5 578.3L489.2 577.3L488.9 576.4L488.7 575.4L488.4 574.4L488.3 573.4L488.1 572.5L487.9 571.5L487.8 570.5L487.7 569.7M449.6 595.5L449.6 595.5L450.6 595.5L451.6 595.4L452.6 595.3L453.6 595.3L454.6 595.2L455.6 595.1L456.6 595.0L457.6 594.9L458.6 594.8L459.6 594.7L460.6 594.6L460.7 594.6M462.3 594.5L462.6 594.4L463.6 594.3L464.6 594.2L465.6 594.0L466.6 593.9L467.6 593.8L468.5 593.6L469.5 593.4L470.5 593.3L470.9 593.2M473.0 592.7L473.5 592.6L474.4 592.4L475.4 592.1L476.3 591.8L477.3 591.5L478.2 591.0L479.1 590.6L479.9 590.1L480.2 589.8M481.4 588.7L482.0 587.9M430.6 571.6L430.1 570.8L429.7 569.9L429.2 569.0L428.8 568.1L428.3 567.2L427.9 566.3L427.5 565.3L427.1 564.4L427.0 564.3M425.9 561.7L425.9 561.7L425.5 560.8L425.1 559.9L424.7 558.9L424.3 558.0L423.9 557.1L423.5 556.2L423.1 555.3L422.7 554.4L422.3 553.4L421.9 552.5L421.9 552.5M421.2 551.0L421.1 550.7L420.7 549.8L420.3 548.9L419.9 547.9L419.5 547.0L419.1 546.1L418.7 545.2L418.4 544.5M417.3 542.3L417.0 541.6L416.6 540.7L416.2 539.8L415.7 538.8L415.3 537.9M396.6 620.1L395.9 620.9L395.2 621.6L394.5 622.3L393.8 623.0L393.1 623.7L392.4 624.4L391.7 625.1L391.0 625.8L390.2 626.5L389.6 627.1M387.9 628.8L387.3 629.3L386.6 630.0L385.9 630.6L385.1 631.3L384.4 632.0L383.6 632.7L383.1 633.1M381.0 635.0L380.6 635.3L379.9 636.0L379.1 636.6L378.4 637.3L377.6 637.9L376.8 638.5L376.1 639.2L375.3 639.8L374.5 640.5M449.2 617.2L449.9 617.8L450.6 618.6L451.3 619.3L451.9 620.1L452.6 620.8L453.2 621.6L453.8 622.4L454.4 623.2L454.9 624.1L455.5 624.9M456.7 627.0L457.0 627.5L457.5 628.4L457.9 629.3L458.3 630.2L458.8 631.1L459.2 632.0L459.5 632.9L459.9 633.9L460.2 634.8L460.4 635.2M461.0 637.2L461.2 637.6L461.4 638.6L461.7 639.6L461.9 640.5L462.2 641.5L462.4 642.5L462.6 643.5L462.7 644.2M463.1 646.9L463.2 647.4L463.3 648.4L463.4 649.4L463.6 650.4L463.7 651.4L463.7 652.4L463.8 653.4L463.9 654.4L463.9 655.3M464.0 657.4L464.1 658.4M382.8 573.8L382.0 573.1L381.2 572.5L380.5 571.9L379.7 571.3L378.9 570.6L378.1 570.0L377.3 569.4L376.5 568.8L376.3 568.7M374.6 567.4L374.1 567.0M592.4 575.8L593.2 575.2L594.0 574.7L594.8 574.1L595.6 573.5L596.5 572.9L596.7 572.7M452.1 593.5L453.1 593.4L454.1 593.3L455.1 593.1L456.1 593.0L457.1 592.8L458.1 592.7L459.1 592.5L460.1 592.3L460.7 592.2M462.7 591.8L463.0 591.7L464.0 591.5L464.9 591.3L465.9 591.1L466.9 590.8L467.9 590.6L468.8 590.3L469.8 590.0L470.7 589.7L471.0 589.6M473.4 588.7L473.5 588.6L474.4 588.2L475.3 587.7L476.2 587.2L477.0 586.7L477.8 586.1L478.6 585.4L479.3 584.7L479.9 583.9L480.5 583.1L481.0 582.2L481.4 581.3L481.8 580.4L482.1 579.5L482.4 578.5L482.5 578.2M483.0 575.7L483.1 575.6L483.2 574.6L483.4 573.6L483.5 572.6L483.6 571.6L483.7 570.6M449.7 578.3L450.4 577.6L451.1 576.9L451.7 576.1L452.4 575.4L453.0 574.6L453.6 573.8L454.2 573.0L454.8 572.2L455.2 571.4M456.6 569.2L456.8 568.8L457.3 567.9L457.8 567.0L458.2 566.1L458.6 565.2L459.1 564.3L459.4 563.4L459.8 562.4L460.2 561.5L460.5 560.5L460.8 559.6L460.9 559.3M461.4 557.5L461.6 556.7L461.9 555.7L462.1 554.8L462.3 553.8L462.5 552.8L462.7 551.8L462.9 550.9L463.1 549.9L463.2 548.9L463.3 547.9L463.5 546.9L463.6 545.9L463.7 544.9L463.8 543.9M440.3 571.0L440.2 570.0L440.1 569.0L440.0 568.0L439.9 567.0L439.8 566.0L439.7 565.0L439.6 564.1L439.4 563.1L439.3 562.1L439.2 561.1L439.2 560.5M438.9 558.5L438.9 558.1L438.8 557.1L438.6 556.1L438.5 555.1L438.4 554.1L438.2 553.1L438.1 552.1L437.9 551.2L437.8 550.5M437.4 547.8L437.3 547.2L437.1 546.2L437.0 545.2L436.8 544.2L436.6 543.3L436.4 542.3L436.3 541.7M448.9 612.5L449.8 612.8L450.8 613.2L451.7 613.6L452.6 614.1L453.4 614.6L454.0 614.9M455.2 615.7L455.9 616.2L456.7 616.8L457.5 617.4L458.3 618.1L459.1 618.7L459.8 619.4L460.5 620.1L461.2 620.8L461.9 621.5L462.6 622.3L463.2 623.0L463.9 623.8L464.0 624.0M465.5 626.0L465.6 626.2L466.2 627.1L466.7 627.9L467.2 628.8L467.6 629.7L468.1 630.6L468.5 631.5L468.9 632.4L469.3 633.3L469.6 634.3L469.9 635.2L470.2 636.2L470.5 637.1L470.8 638.1L470.8 638.1M471.4 640.4L471.5 641.0L471.7 642.0L471.9 643.0L472.0 644.0L472.2 645.0L472.3 645.9L472.5 646.9L472.6 647.9L472.7 648.9L472.8 649.9L472.9 650.9L473.0 651.9L473.1 652.9L473.1 653.9L473.2 654.9L473.2 655.0M473.3 657.1L473.3 657.9L473.4 658.9M445.0 569.7L445.2 568.7L445.3 567.7L445.4 566.7L445.6 565.7L445.7 564.7L445.8 563.7L445.9 562.7L446.0 561.7L446.0 560.7L446.1 559.7L446.2 558.7L446.2 557.7L446.3 557.0M446.3 554.3L446.4 553.7L446.4 552.7L446.4 551.7L446.4 550.7L446.4 549.7L446.4 548.7L446.3 547.7L446.3 546.7L446.3 545.7L446.2 544.7L446.2 544.1M446.0 541.2L446.0 540.7L445.9 539.7M522.8 620.3L522.3 621.2L521.9 622.0L521.4 622.9L521.0 623.8L520.5 624.7L520.1 625.6L519.7 626.6L519.3 627.5L519.0 628.4L518.6 629.3L518.3 630.3L518.0 631.2L517.7 632.2L517.4 633.1L517.3 633.5M516.9 634.9L516.8 635.1L516.6 636.0L516.4 637.0L516.1 638.0L515.9 639.0L515.7 639.9L515.6 640.9L515.4 641.9L515.4 642.2M515.1 644.1L515.0 644.9L514.8 645.9L514.7 646.9L514.6 647.9L514.6 648.9L514.5 649.9L514.4 650.9L514.4 651.9L514.3 652.9L514.3 653.9L514.3 654.9L514.2 655.9L514.2 656.9L514.2 657.9M442.7 565.6L442.7 565.5L442.7 564.5L442.7 563.5L442.7 562.5L442.7 561.5L442.7 560.5L442.6 559.5L442.6 559.3M442.6 557.4L442.5 556.5L442.5 555.5L442.4 554.5L442.4 553.5L442.3 552.5L442.3 551.5L442.2 550.7M442.1 549.3L442.0 548.5L441.9 547.5L441.8 546.5L441.7 545.5L441.6 544.5L441.5 543.6L441.4 542.6L441.3 541.6L441.1 540.6L441.0 539.6L440.8 538.6M539.4 571.8L539.9 570.9L540.3 570.0L540.8 569.1L541.2 568.2L541.6 567.2L542.0 566.3L542.4 565.4L542.8 564.5L543.2 563.6L543.6 562.7L544.0 561.7L544.4 560.8L544.7 559.9L545.0 559.2M546.1 556.7L546.3 556.2L546.6 555.3L547.0 554.3L547.4 553.4L547.8 552.5L548.2 551.6L548.5 550.7M549.5 548.5L549.7 547.9L550.1 547.0L550.5 546.1L550.9 545.1L551.3 544.2L551.7 543.3M440.9 623.3L440.8 624.3L440.7 625.3L440.6 626.3L440.5 627.3L440.5 628.3L440.4 629.3L440.3 630.3L440.2 631.3L440.1 632.3L440.0 633.3L439.9 634.3L439.8 635.3L439.8 635.4M439.7 637.0L439.6 637.3L439.5 638.3L439.4 639.3L439.3 640.3L439.2 641.3L439.1 642.3L439.0 643.2L438.9 643.8M438.7 645.6L438.6 646.2L438.4 647.2L438.3 648.2L438.1 649.2L438.0 650.2L437.8 651.2L437.6 652.1L437.5 653.1L437.3 654.1L437.1 655.1M402.7 574.9L402.1 574.1L401.4 573.4L400.7 572.6L400.1 571.9L399.4 571.1L398.7 570.4L398.1 569.6L397.4 568.9L396.7 568.2L396.0 567.4L395.4 566.7L394.7 566.0L394.0 565.2L393.9 565.2M392.1 563.2L391.9 563.1L391.2 562.4L390.5 561.6L389.8 560.9L389.1 560.2L388.4 559.5L387.7 558.8L387.0 558.1L386.3 557.4L385.6 556.7L384.8 556.0L384.1 555.3L383.9 555.1M381.9 553.2L381.2 552.5L380.5 551.9L379.8 551.2L379.0 550.5L378.3 549.8L377.6 549.1L376.8 548.4L376.1 547.8L375.8 547.5M547.1 574.8L547.7 574.0L548.3 573.2L548.8 572.3L549.4 571.5L549.9 570.7L550.5 569.8L551.0 569.0L551.5 568.1L552.1 567.3L552.6 566.4L552.7 566.3M553.4 565.1L553.7 564.7L554.2 563.9L554.7 563.0L555.2 562.2L555.8 561.3L556.3 560.5L556.8 559.6L557.3 558.8L557.8 557.9L558.4 557.1L558.9 556.2L559.1 555.8M560.6 553.4L561.0 552.8L561.5 552.0L562.0 551.1L562.6 550.3L563.1 549.4L563.6 548.6L564.2 547.7L564.7 546.9L565.2 546.0L565.8 545.2L566.3 544.3L566.6 543.9M567.4 542.6L567.9 541.8L568.5 541.0L569.0 540.1L569.6 539.3M385.3 623.6L385.0 623.9L384.3 624.5L383.5 625.2L382.7 625.8L382.0 626.5L381.2 627.1L380.4 627.7L379.7 628.4L378.9 629.0L378.4 629.3M377.0 630.4L376.5 630.8L375.7 631.5L374.9 632.1M425.4 574.0L425.0 573.3L424.4 572.5L423.9 571.6L423.3 570.8L422.8 569.9L422.3 569.1L421.8 568.2M420.6 566.3L420.2 565.6L419.7 564.8L419.2 563.9L418.7 563.0L418.2 562.2L417.7 561.3L417.2 560.4L416.8 559.6L416.3 558.7L415.8 557.8L415.3 557.0L414.8 556.1L414.3 555.2L414.2 555.2M413.0 553.0L412.8 552.6L412.3 551.7L411.8 550.9L411.3 550.0L410.8 549.2L410.3 548.3L409.8 547.4L409.7 547.4M408.8 545.9L408.7 545.7L408.2 544.8L407.7 544.0L407.2 543.1L406.7 542.3L406.2 541.4L405.7 540.6M542.3 573.7L542.7 573.1L543.2 572.3L543.7 571.4L544.2 570.5L544.7 569.7L545.2 568.8L545.7 567.9L546.2 567.0L546.6 566.1L547.1 565.3L547.6 564.4L548.0 563.5L548.5 562.6L548.9 561.7M550.0 559.5L550.3 559.0L550.7 558.1L551.2 557.2L551.6 556.3L552.1 555.5L552.5 554.6L553.0 553.7L553.4 552.8L553.9 551.9L554.3 551.0L554.8 550.1L555.1 549.4M556.0 547.8L556.2 547.4L556.6 546.6L557.1 545.7L557.6 544.8L558.0 543.9L558.5 543.0L559.0 542.1L559.4 541.2L559.9 540.4L560.4 539.5L560.8 538.6L561.3 537.7L561.8 536.8M522.2 582.9L521.3 582.6L520.4 582.2L519.5 581.7L518.6 581.2L517.8 580.7L516.9 580.2L516.1 579.6L515.3 579.0L514.6 578.4M513.2 577.2L513.0 577.1L512.3 576.4L511.6 575.7L510.9 575.0L510.2 574.2L509.5 573.5L508.9 572.7L508.3 571.9L507.6 571.1L507.1 570.3L506.5 569.5L506.0 568.7L505.9 568.6M504.7 566.5L504.5 566.0L504.0 565.1L503.6 564.2L503.2 563.3L502.8 562.4L502.5 561.5L502.1 560.5L501.8 559.6L501.5 558.6L501.3 557.7L501.0 556.7L500.8 555.8M500.2 553.1L500.2 552.8L500.0 551.8L499.8 550.8L499.7 549.8L499.5 548.8L499.4 547.8L499.3 546.8L499.2 545.8L499.1 544.9L499.0 543.9L498.9 542.9L498.9 542.5M498.8 540.1L498.7 539.9L498.7 538.9M520.7 586.0L520.2 585.8L519.2 585.5L518.3 585.2L517.3 584.8L516.4 584.4L515.5 584.0L514.6 583.6L513.7 583.1L512.8 582.6L512.0 582.1L511.1 581.6L510.3 581.1L509.7 580.7M508.1 579.6L507.8 579.4L507.0 578.8L506.2 578.1L505.5 577.5L504.7 576.8L504.0 576.1L503.3 575.4L502.6 574.7L502.0 573.9L501.4 573.1L500.8 572.3L500.2 571.5L499.8 570.8M498.4 568.5L498.2 568.0L497.8 567.1L497.4 566.2L497.0 565.3L496.7 564.3L496.4 563.4L496.1 562.4L495.8 561.5L495.5 560.5L495.3 559.5L495.1 558.6L494.9 557.6L494.7 556.6L494.7 556.3M494.2 553.7L494.2 553.6L494.1 552.6L494.0 551.7L493.9 550.7L493.8 549.7L493.7 548.7L493.6 547.7L493.6 547.6M493.4 545.3L493.4 544.7L493.3 543.7L493.3 542.7L493.2 541.7L493.2 540.7M559.1 570.1L559.7 569.3L560.3 568.4L560.9 567.6L561.5 566.8L562.1 566.0L562.7 565.2L563.3 564.4L563.9 563.6L564.5 562.8L564.7 562.5M566.1 560.7L566.3 560.4L566.9 559.6L567.5 558.8L568.1 558.0L568.7 557.3L569.3 556.5L569.9 555.7L570.5 554.9L571.1 554.1L571.7 553.3L572.4 552.5L573.0 551.7L573.6 550.9L573.6 550.9M575.1 549.1L575.5 548.6L576.1 547.8L576.7 547.0L577.3 546.2L578.0 545.5L578.6 544.7L579.2 543.9L579.6 543.5M581.4 541.2L581.8 540.8L582.4 540.1L583.1 539.3L583.7 538.5L584.3 537.8L585.0 537.0M452.2 599.8L453.2 599.8L454.2 599.9L455.2 599.9L456.2 600.0L457.2 600.1L458.2 600.1L459.2 600.2L460.2 600.3L461.2 600.4L462.2 600.4L462.9 600.5M464.8 600.7L465.2 600.7L466.2 600.8L467.2 600.9L468.2 601.0L469.2 601.1L470.2 601.2L471.2 601.4L472.2 601.5L473.2 601.7L474.1 601.8L475.1 602.0L475.3 602.1M477.1 602.5L478.0 602.8L479.0 603.1L479.9 603.5L480.8 604.0L481.6 604.6L482.3 605.3L482.9 606.1L483.3 606.7M563.4 573.4L564.0 572.6L564.7 571.9L565.3 571.1L565.9 570.3L566.6 569.5L567.2 568.8L567.8 568.0L568.5 567.2L569.1 566.5L569.8 565.7L570.4 564.9L570.7 564.6M571.9 563.2L572.4 562.7L573.0 561.9L573.7 561.2L574.3 560.4L575.0 559.6L575.6 558.9L576.3 558.2M578.0 556.2L578.3 555.9L579.0 555.2L579.6 554.4L580.3 553.7L581.0 553.0L581.7 552.2L582.3 551.5L582.7 551.2M584.0 549.7L584.4 549.3L585.1 548.6L585.8 547.8L586.5 547.1L587.1 546.4L587.8 545.7L588.5 544.9L589.2 544.2L589.9 543.5L590.6 542.8L591.3 542.1L592.0 541.4M553.6 627.5L553.8 627.8L554.3 628.6L554.9 629.5L555.4 630.3L556.0 631.1L556.5 632.0L557.1 632.8L557.6 633.7L558.1 634.5L558.7 635.3L559.2 636.2L559.8 637.0L560.3 637.9L560.9 638.7L561.4 639.5L561.7 639.9M563.0 641.9L563.1 642.0L563.6 642.9L564.2 643.7L564.7 644.5L565.3 645.4L565.8 646.2L566.4 647.0L566.9 647.9L567.2 648.3M568.9 650.7L569.2 651.2L569.7 652.0L570.3 652.8L570.9 653.7L571.4 654.5L572.0 655.3L572.6 656.1L573.2 656.9L573.7 657.8M536.0 570.3L536.0 570.2L536.3 569.3L536.6 568.3L536.9 567.4L537.2 566.4L537.5 565.5L537.8 564.5L538.1 563.6L538.4 562.6L538.7 561.7L539.0 560.7L539.3 559.7L539.6 558.8L539.8 558.2M540.4 556.1L540.5 555.9L540.7 555.0L541.0 554.0L541.3 553.0L541.6 552.1L541.9 551.1L542.2 550.2L542.5 549.2L542.8 548.3L543.1 547.3L543.4 546.4L543.7 545.4L544.1 544.5L544.4 543.5L544.4 543.4M544.9 541.8L545.0 541.6L545.3 540.7L545.6 539.7L546.0 538.8L546.3 537.8L546.6 536.9M519.2 601.0L518.3 601.1L517.3 601.2L516.3 601.3L515.3 601.4L514.3 601.5L513.3 601.6L512.3 601.7L511.7 601.8M509.6 602.1L509.3 602.1L508.3 602.2L507.3 602.4L506.3 602.5L505.4 602.7L504.4 602.9L504.3 602.9M502.6 603.2L502.4 603.2L501.4 603.4L500.4 603.6L499.5 603.9L498.5 604.1L497.5 604.4L496.6 604.7L495.6 605.0L494.7 605.4L494.3 605.6M491.9 606.9L491.3 607.4L490.5 608.0L489.8 608.8L489.3 609.6L488.8 610.5M567.9 625.9L568.5 626.6L569.1 627.4L569.8 628.1L570.4 628.9L571.1 629.6L571.7 630.4L572.4 631.1L573.0 631.9L573.7 632.6L574.4 633.4L575.0 634.1L575.7 634.9L576.4 635.6L576.7 636.0M578.2 637.7L578.4 637.8L579.1 638.6L579.7 639.3L580.4 640.0L581.1 640.8L581.8 641.5L582.5 642.2L583.2 643.0L583.9 643.7L584.6 644.4L585.2 645.1L585.7 645.6M587.2 647.2L587.3 647.3L588.0 648.0L588.7 648.7L589.4 649.4L590.2 650.1L590.9 650.8L591.6 651.5L592.3 652.2L593.0 652.9L593.7 653.6L594.4 654.3L595.1 655.0M446.2 622.5L446.4 623.5L446.7 624.4L447.0 625.4L447.2 626.4L447.5 627.3L447.7 628.3L447.9 629.3L448.1 630.3L448.3 631.2L448.5 632.2L448.7 633.2L448.9 634.2M449.2 636.0L449.2 636.2L449.3 637.2L449.4 638.2L449.6 639.2L449.7 640.1L449.8 641.1L449.8 642.1L449.9 643.1M450.1 646.0L450.1 646.1L450.1 647.1L450.1 648.1L450.2 649.1L450.2 650.1L450.2 651.1L450.2 652.1L450.2 653.1L450.1 654.1L450.1 655.1L450.1 656.1M431.1 619.8L430.6 620.7L430.0 621.5L429.5 622.3L429.0 623.2L428.5 624.1L428.0 624.9L427.5 625.8L427.0 626.7L426.5 627.6L426.1 628.5L425.6 629.3L425.2 630.2L424.8 631.0M423.6 633.4L423.4 633.8L422.9 634.7L422.5 635.6L422.1 636.5L421.6 637.4L421.2 638.3L420.8 639.2L420.3 640.1L419.9 641.0L419.6 641.7M418.5 643.9L418.1 644.6L417.7 645.5L417.3 646.4L416.8 647.3L416.4 648.2L415.9 649.1L415.5 650.0L415.2 650.7M413.8 653.3L413.7 653.6L413.2 654.5L412.8 655.3L412.3 656.2L411.9 657.1L411.4 658.0M395.5 573.4L395.3 573.1L394.6 572.4L393.9 571.7L393.2 571.0L392.5 570.3L391.8 569.6L391.1 568.9L390.4 568.2L389.6 567.5L388.9 566.8L388.2 566.1L387.5 565.4L386.7 564.7L386.1 564.2M384.1 562.4L383.8 562.0L383.0 561.4L382.3 560.7L381.5 560.0L380.8 559.4L380.0 558.7L379.3 558.1L378.5 557.4L377.8 556.8L377.0 556.1L376.3 555.5L375.5 554.8L374.7 554.2L374.2 553.7M589.6 623.5L590.4 624.2L591.2 624.8L592.0 625.4L592.8 626.0M516.1 597.8L515.1 597.8L514.1 597.8L513.1 597.8L512.1 597.8L511.1 597.7L510.1 597.7L509.1 597.7L508.1 597.7L507.1 597.7L506.1 597.7L505.1 597.7L504.8 597.7M502.1 597.7L502.1 597.7L501.1 597.7L500.1 597.6L499.1 597.6L498.1 597.6L497.1 597.6L496.1 597.6L495.1 597.6L494.1 597.5L493.1 597.5L492.1 597.5L491.1 597.5L490.1 597.4L489.1 597.3L489.0 597.3M515.5 595.4L514.5 595.4L513.5 595.3L512.5 595.2L511.5 595.1L510.5 595.0L509.5 594.9L508.5 594.8L507.5 594.7L506.5 594.6L505.5 594.5L504.5 594.4L503.6 594.2L502.6 594.1L501.6 594.0L501.4 593.9M498.6 593.5L498.6 593.5L497.6 593.3L496.7 593.0L495.7 592.8L494.7 592.5L493.8 592.2L492.8 591.9L491.9 591.4L491.1 591.0L490.2 590.4L489.5 589.7M444.2 625.2L444.3 626.2L444.4 627.2L444.5 628.2L444.6 629.2L444.7 630.2L444.7 631.2L444.8 632.2L444.8 632.7M445.0 635.0L445.0 635.2L445.0 636.2L445.1 637.2L445.1 638.2L445.1 639.2L445.1 640.2L445.1 641.2L445.1 642.2L445.1 643.2L445.1 644.2L445.1 645.2L445.0 646.2L445.0 646.5M444.9 649.5L444.9 650.2L444.8 651.2L444.7 652.2L444.6 653.2L444.6 654.2L444.5 655.2M538.5 628.5L538.8 629.2L539.1 630.1L539.5 631.1L539.8 632.0L540.1 632.9L540.4 633.9L540.7 634.6M541.2 636.1L541.4 636.7L541.7 637.7L542.1 638.6L542.4 639.6L542.7 640.5L543.0 641.5L543.4 642.4L543.7 643.3L544.0 644.3L544.2 644.7M544.7 646.1L544.7 646.2L545.0 647.1L545.4 648.1L545.7 649.0L546.0 649.9L546.4 650.9L546.7 651.8L547.1 652.8L547.4 653.7L547.8 654.6L548.1 655.6L548.5 656.5L548.8 657.4L549.2 658.4L549.6 659.3M426.1 620.0L425.5 620.8L424.9 621.6L424.3 622.5L423.8 623.3L423.2 624.1L422.7 625.0L422.3 625.6M420.9 627.9L420.6 628.4L420.1 629.2L419.6 630.1L419.1 631.0L418.6 631.8L418.0 632.7L417.5 633.5L417.0 634.4M415.7 636.7L415.5 637.0L415.0 637.9L414.5 638.7L414.0 639.6L413.5 640.4L413.0 641.3L412.5 642.2L412.3 642.4M411.4 644.0L411.0 644.8L410.4 645.6L409.9 646.5L409.4 647.3L408.9 648.2L408.4 649.0L408.3 649.2M407.0 651.2L406.8 651.6L406.3 652.5L405.8 653.3L405.3 654.2L404.7 655.0L404.2 655.9L403.7 656.7M403.5 620.1L402.9 620.9L402.2 621.6L401.6 622.4L400.9 623.1L400.3 623.9L399.6 624.6L398.9 625.4L398.3 626.1L397.6 626.9L396.9 627.6L396.2 628.3L395.5 629.1L395.1 629.5M394.0 630.7L393.5 631.2L392.8 632.0L392.1 632.7L391.4 633.4L390.7 634.1L390.0 634.8L389.3 635.5L388.6 636.3L387.9 637.0L387.2 637.7L386.5 638.4L385.7 639.1L385.0 639.8L385.0 639.8M382.8 641.9L382.2 642.5L381.4 643.2L380.7 643.9L380.0 644.6L379.2 645.3L378.5 646.0L377.8 646.7M434.9 626.2L434.6 627.2L434.3 628.1L434.0 629.1L433.7 630.0L433.4 631.0L433.1 631.9L432.8 632.9L432.8 633.0M432.1 635.2L432.0 635.8L431.7 636.7L431.4 637.7L431.1 638.6L430.8 639.6L430.6 640.6L430.3 641.5L430.0 642.5L429.7 643.4L429.4 644.4L429.2 645.0M428.4 647.7L428.2 648.2L427.9 649.2L427.6 650.1L427.3 651.1L427.0 652.0L426.7 653.0L426.4 653.9M410.6 573.5L409.9 572.7L409.3 571.9L408.7 571.1L408.1 570.3L407.5 569.6L406.9 568.8L406.5 568.3M404.8 566.2L404.4 565.6L403.7 564.9L403.1 564.1L402.5 563.3L401.9 562.5L401.2 561.8L401.0 561.5M399.9 560.2L399.3 559.4L398.7 558.7L398.0 557.9L397.4 557.1L396.8 556.4L396.1 555.6L395.5 554.8L394.8 554.1L394.2 553.3L393.8 552.8M392.3 551.1L392.2 551.0L391.6 550.3L390.9 549.5L390.3 548.8L389.6 548.0L388.9 547.3L388.3 546.5L387.6 545.8L387.6 545.8M386.3 544.3L386.3 544.3L385.6 543.5L384.9 542.8L384.3 542.1L383.6 541.3L382.9 540.6L382.2 539.8L381.5 539.1L380.9 538.4M449.4 609.8L450.3 610.1L451.3 610.4L452.2 610.7L453.2 611.1L454.1 611.5L455.0 611.9L455.9 612.3L456.8 612.8L457.4 613.1M458.8 613.9L459.4 614.3L460.3 614.8L461.1 615.3L461.9 615.9L462.7 616.5L463.5 617.1L464.3 617.7L465.1 618.4L465.8 619.0L466.5 619.7L467.2 620.4L467.9 621.2L468.6 621.9L469.2 622.7L469.2 622.8M470.3 624.2L470.4 624.3L470.9 625.2L471.4 626.0L471.9 626.9L472.4 627.8L472.8 628.7L473.2 629.6L473.6 630.5L474.0 631.5L474.3 632.4L474.6 633.4L474.9 634.3L475.0 634.8M475.5 637.0L475.6 637.2L475.8 638.2L476.0 639.2L476.2 640.2L476.3 641.2L476.5 642.2L476.6 643.1L476.7 644.1L476.8 645.1L476.9 646.1L477.0 647.1L477.0 647.1M477.2 649.6L477.3 650.1L477.3 651.1L477.4 652.1L477.5 653.1L477.5 654.1L477.5 655.1L477.6 656.1L477.6 657.1M532.3 572.2L532.5 571.3L532.7 570.3L532.9 569.3L533.1 568.3L533.3 567.3L533.5 566.4L533.7 565.4L533.9 564.4L534.1 563.4L534.3 562.4L534.5 561.5L534.5 561.4M535.0 558.7L535.0 558.5L535.2 557.5L535.4 556.5L535.6 555.6L535.8 554.6L536.0 553.6L536.2 552.6L536.4 551.6L536.6 551.0M537.0 549.3L537.1 548.7L537.3 547.7L537.5 546.8L537.8 545.8L538.0 544.8L538.2 543.8L538.4 543.2M538.9 541.3L539.0 540.9L539.2 540.0L539.5 539.0L539.7 538.0M554.5 571.6L554.7 571.4L555.2 570.5L555.8 569.7L556.4 568.9L557.0 568.1L557.5 567.3L558.1 566.5L558.7 565.6L558.8 565.5M560.4 563.2L560.4 563.2L561.0 562.3L561.5 561.5L562.1 560.7L562.7 559.9L563.2 559.1L563.8 558.2L564.4 557.4L565.0 556.6L565.5 555.8L565.5 555.8M566.5 554.5L566.7 554.2L567.3 553.4L567.9 552.5L568.4 551.7L569.0 550.9L569.6 550.1L570.2 549.3L570.7 548.6M572.1 546.7L572.6 546.1L573.2 545.3L573.8 544.5L574.4 543.7L575.0 542.9L575.6 542.1L576.2 541.3L576.8 540.5L577.4 539.7M568.9 575.3L569.6 574.6L570.2 573.8L570.9 573.1L571.6 572.3L572.2 571.6L572.9 570.8L573.6 570.1L574.3 569.4L575.0 568.7L575.6 567.9L576.3 567.2L577.0 566.5L577.1 566.4M578.3 565.1L578.4 565.0L579.1 564.3L579.8 563.6L580.5 562.9L581.2 562.2L581.9 561.5L582.6 560.8L583.4 560.1L584.1 559.4L584.8 558.7L585.5 558.0L586.2 557.3L587.0 556.6L587.3 556.3M588.8 554.9L589.1 554.5L589.9 553.9L590.6 553.2L591.3 552.5L592.1 551.8L592.5 551.4M593.7 550.3L594.3 549.8L595.0 549.1L595.8 548.5L596.5 547.8M452.6 607.1L453.4 607.3L454.4 607.6L455.3 607.9L456.3 608.2L457.2 608.6L457.4 608.6M459.7 609.5L460.0 609.6L461.0 610.0L461.9 610.4L462.8 610.8L463.7 611.2L464.5 611.6M467.0 613.0L467.2 613.1L468.1 613.7L468.9 614.2L469.7 614.8L470.5 615.4L471.3 616.1L472.0 616.7L472.7 617.4L473.4 618.1L474.0 618.9L474.7 619.7L475.2 620.5L475.3 620.6M476.3 622.2L476.8 623.1L477.2 624.0L477.6 624.9L477.9 625.9L478.3 626.8L478.6 627.8L478.8 628.7L479.1 629.7L479.3 630.7L479.5 631.6L479.7 632.6L479.9 633.6L480.0 634.3M480.2 635.8L480.3 636.6L480.5 637.6L480.6 638.6L480.7 639.5L480.8 640.5L480.8 641.5L480.9 642.5L481.0 643.5L481.1 644.5L481.1 645.5L481.2 646.5L481.2 647.5L481.3 648.2M481.4 650.7L481.4 651.5L481.4 652.5L481.4 653.5L481.5 654.5L481.5 655.5L481.5 656.5M529.1 628.2L529.1 629.0L529.1 630.0L529.1 631.0L529.2 632.0L529.2 633.0L529.2 634.0L529.3 635.0L529.3 636.0L529.3 636.3M529.5 638.9L529.5 639.0L529.6 639.9L529.6 640.9L529.7 641.9L529.8 642.9L529.9 643.9L530.0 644.9L530.1 645.9L530.2 646.9L530.3 647.9L530.4 648.9L530.5 649.9L530.7 650.9L530.8 651.9L530.8 652.2M531.1 654.1L531.2 654.9L531.4 655.8L531.5 656.8L531.7 657.8L531.9 658.8M436.1 574.8L435.7 573.9L435.3 573.0L434.9 572.1L434.5 571.2L434.1 570.2L433.8 569.3L433.4 568.3L433.1 567.4L432.7 566.5L432.5 565.7M431.6 563.0L431.5 562.7L431.1 561.7L430.8 560.8L430.5 559.8L430.2 558.9L429.9 557.9L429.6 557.0L429.3 556.0L429.1 555.4M428.5 553.6L428.4 553.2L428.0 552.2L427.7 551.3L427.4 550.3L427.1 549.4L426.8 548.4L426.4 547.5L426.1 546.5L425.8 545.6L425.5 544.6L425.1 543.7L425.1 543.6M424.4 541.5L424.1 540.9L423.8 539.9L423.4 539.0L423.1 538.1L422.7 537.1L422.4 536.2M421.2 574.9L420.6 574.1L420.0 573.3L419.4 572.5L418.9 571.7L418.3 570.8L417.7 570.0L417.2 569.2L416.8 568.6M415.2 566.2L415.0 565.9L414.4 565.0L413.9 564.2L413.3 563.3L412.8 562.5L412.2 561.7L411.7 560.8L411.1 560.0L410.9 559.7M410.1 558.5L410.0 558.3L409.5 557.5L408.9 556.7L408.3 555.8L407.8 555.0L407.2 554.2L406.7 553.3L406.1 552.5L405.6 551.7M404.7 550.4L404.4 550.0L403.9 549.2L403.3 548.4L402.8 547.5L402.2 546.7L401.6 545.9L401.0 545.1L400.5 544.3L399.9 543.4L399.3 542.6L398.8 541.8L398.7 541.7M412.8 625.7L412.3 626.5L411.7 627.3L411.1 628.1L410.5 628.9L409.9 629.7L409.3 630.5L408.7 631.3L408.1 632.2L407.5 633.0L406.9 633.8L406.3 634.6L405.7 635.4L405.2 636.0M403.8 638.0L403.4 638.6L402.8 639.4L402.2 640.2L401.6 641.0L401.0 641.8L400.3 642.6L399.7 643.4L399.3 643.9M398.1 645.5L397.9 645.7L397.3 646.5L396.7 647.3L396.1 648.1L395.4 648.9L394.8 649.7L394.2 650.5L393.6 651.3L393.0 652.0L392.3 652.8L391.7 653.6L391.1 654.4L390.5 655.1L390.3 655.4M522.0 572.7L521.8 572.2L521.4 571.3L521.0 570.4L520.6 569.4L520.3 568.5L519.9 567.5L519.7 566.9M519.2 565.3L519.0 564.7L518.7 563.7L518.4 562.8L518.2 561.8L517.9 560.8L517.7 559.9L517.6 559.2M517.2 557.2L517.1 556.9L516.9 555.9L516.8 555.0L516.6 554.0L516.5 553.0L516.3 552.0L516.2 551.0L516.1 550.0L516.0 549.0L515.9 548.0L515.9 547.0L515.8 546.2M515.7 544.4L515.7 544.0L515.7 543.0L515.6 542.0L515.6 541.0L515.6 540.0L515.6 539.0M452.0 588.8L453.0 588.5L453.9 588.2L454.9 587.9L455.9 587.6L456.8 587.3L457.7 587.0L458.7 586.6L458.9 586.6M461.3 585.5L461.5 585.5L462.4 585.1L463.3 584.6L464.2 584.2L465.1 583.7L465.9 583.2L466.8 582.7L467.6 582.2L468.5 581.7L469.3 581.1L470.1 580.5L470.9 579.8L471.6 579.2L471.7 579.1M473.7 577.0L474.3 576.2L474.9 575.4L475.4 574.6L476.0 573.7L476.4 572.9L476.9 572.0L477.3 571.0L477.7 570.1L478.0 569.2M478.6 567.4L478.6 567.3L478.9 566.3L479.1 565.3L479.3 564.4L479.5 563.4L479.7 562.4L479.9 561.4L480.0 560.4L480.1 559.6M480.4 557.0L480.5 556.4L480.6 555.5L480.7 554.5L480.8 553.5L480.8 552.5L480.9 551.5L481.0 550.5L481.0 549.5L481.1 548.5L481.1 547.5L481.2 546.5L481.2 545.5L481.2 544.9M481.3 542.8L481.3 542.5L481.3 541.5L481.3 540.5L481.4 539.5L481.4 538.5L481.4 537.5L481.4 536.8M522.0 615.0L521.1 615.6L520.3 616.1L519.5 616.7L518.7 617.4L518.0 618.0L517.2 618.7L516.5 619.4L515.8 620.1L515.2 620.9L514.8 621.3M513.6 622.8L513.3 623.2L512.6 624.0L512.1 624.8L511.5 625.6L511.0 626.5L510.4 627.3L509.9 628.2L509.4 629.0L509.0 629.9L508.5 630.8L508.1 631.7L507.7 632.6L507.3 633.6L507.2 633.8M506.5 635.7L506.3 636.4L506.0 637.3L505.7 638.3L505.4 639.2L505.1 640.2L504.9 641.2L504.7 642.2L504.5 643.1L504.3 644.1L504.1 645.1L504.1 645.3M503.7 648.1L503.5 649.1L503.4 650.1L503.3 651.1L503.2 652.0L503.1 653.0L503.1 653.9M503.0 655.6L502.9 656.0M446.6 572.3L446.9 571.3L447.2 570.3L447.5 569.4L447.7 568.4L448.0 567.4L448.2 566.5L448.4 565.5L448.6 564.5L448.8 563.5L449.0 562.5L449.2 561.6L449.3 560.6L449.3 560.5M449.7 558.1L449.7 557.6L449.8 556.6L450.0 555.6L450.1 554.6L450.1 553.6L450.2 552.6L450.3 551.6L450.3 550.6L450.4 549.6L450.4 548.6L450.4 548.4M450.5 546.0L450.5 545.6L450.5 544.6L450.5 543.6M400.9 619.6L400.2 620.4L399.5 621.1L398.9 621.9L398.2 622.6L397.5 623.3L396.8 624.1L396.1 624.8L395.5 625.5L394.8 626.2L394.1 627.0L393.7 627.3M392.2 628.9L392.0 629.1L391.3 629.8L390.5 630.5L389.8 631.2L389.1 631.9L388.4 632.6L387.7 633.3L387.0 634.0L386.2 634.7L385.5 635.4L384.8 636.1L384.6 636.3M382.9 637.9L382.6 638.1L381.9 638.8L381.1 639.5L380.4 640.1L379.6 640.8L378.9 641.5L378.1 642.1L377.4 642.8L376.6 643.5L376.6 643.5M551.7 620.7L552.3 621.5L552.9 622.3L553.5 623.1L554.1 623.9L554.7 624.8L555.2 625.6L555.8 626.3M556.8 627.9L557.0 628.0L557.5 628.9L558.1 629.7L558.7 630.5L559.2 631.3L559.8 632.2L560.4 633.0L560.9 633.8L561.5 634.6L562.1 635.4L562.7 636.3L563.2 637.1L563.8 637.9L564.1 638.3M565.7 640.5L566.1 641.2L566.7 642.0L567.3 642.8L567.8 643.6L568.4 644.4L569.0 645.2L569.6 646.0L570.2 646.9L570.8 647.7L571.4 648.5L571.9 649.3L572.5 650.1L572.5 650.1M573.6 651.6L573.7 651.7L574.3 652.5L574.9 653.3L575.5 654.1L576.1 654.9L576.7 655.7L577.3 656.5M530.7 620.6L530.9 621.6L531.1 622.6L531.3 623.6L531.5 624.5L531.6 625.5L531.8 626.5L532.0 627.5L532.1 628.5L532.3 629.5L532.4 630.5L532.6 631.5L532.7 632.4L532.9 633.4L533.0 634.4L533.0 634.7M533.4 637.1L533.5 637.4L533.6 638.4L533.8 639.4L533.9 640.3L534.1 641.3L534.3 642.3L534.4 642.9M534.7 644.7L534.8 645.3L535.0 646.3L535.2 647.2L535.4 648.2L535.6 649.2L535.8 650.2L536.0 651.2L536.2 652.1L536.4 653.1L536.6 654.1L536.8 655.1M449.6 585.7L450.5 585.5L451.5 585.1L452.4 584.8L453.3 584.4L454.3 584.0L455.2 583.6L456.1 583.2L456.5 582.9M458.1 582.0L458.7 581.7L459.5 581.2L460.4 580.6L461.2 580.1L462.0 579.5L462.8 578.9L463.6 578.2L464.3 577.6L465.1 576.9L465.7 576.3M467.2 574.8L467.9 574.1L468.5 573.3L469.1 572.5L469.7 571.7L470.3 570.9L470.8 570.0L471.3 569.2L471.6 568.7M472.8 566.1L473.0 565.5L473.4 564.6L473.7 563.7L474.1 562.7L474.3 561.8L474.6 560.8L474.9 559.8L475.1 558.9L475.3 558.1M475.6 556.6L475.7 555.9L475.9 554.9L476.0 554.0L476.2 553.0L476.3 552.0L476.4 551.0L476.5 550.0L476.6 549.0L476.7 548.0L476.8 547.0L476.9 546.0L476.9 545.0L477.0 544.3M439.7 619.8L439.4 620.7L439.1 621.7L438.8 622.7L438.6 623.6L438.3 624.6L438.1 625.6L437.9 626.6L437.7 627.5L437.5 628.5L437.3 629.5L437.1 630.5M436.8 632.0L436.7 632.4L436.5 633.4L436.3 634.4L436.1 635.4L435.9 636.4L435.7 637.3L435.5 638.3L435.3 639.3L435.3 639.3M435.0 640.8L434.9 641.3L434.7 642.2L434.5 643.2L434.3 644.2L434.1 645.2L433.9 645.9M433.3 648.5L433.2 649.1L433.0 650.1L432.7 651.0L432.5 652.0L432.3 653.0L432.0 653.9L431.8 654.9L431.5 655.9L431.3 656.8L431.0 657.8L430.9 658.3M430.5 659.9L430.2 660.7M436.8 570.4L436.8 570.3L436.5 569.4L436.3 568.4L436.0 567.4L435.8 566.5L435.5 565.5L435.3 564.5L435.0 563.6L434.8 562.6L434.8 562.5M434.3 560.7L434.3 560.6L434.1 559.7L433.9 558.7L433.6 557.7L433.4 556.8L433.1 555.8L432.9 554.8L432.7 553.8L432.4 552.9L432.2 551.9L431.9 550.9L431.7 550.0L431.4 549.0L431.4 549.0M430.9 547.1L430.9 547.1L430.6 546.1L430.4 545.1L430.1 544.2L429.8 543.2L429.5 542.3M404.2 571.9L403.5 571.1L402.9 570.4L402.2 569.6L401.6 568.9L400.9 568.1L400.3 567.3L399.6 566.6L399.0 565.8L398.3 565.1L397.6 564.3L397.2 563.9M395.4 561.9L395.0 561.4L394.3 560.6L393.6 559.9L392.9 559.1L392.3 558.4L391.6 557.7L390.9 556.9L390.2 556.2L389.5 555.5L388.8 554.8L388.8 554.7M387.0 552.8L386.8 552.6L386.1 551.9L385.4 551.2L384.7 550.4L384.0 549.7L383.3 549.0L382.6 548.3L381.9 547.6L381.2 546.9L380.5 546.2L379.7 545.5L379.4 545.1M378.1 543.8L377.6 543.4L376.9 542.7L376.2 542.0L375.5 541.3L374.7 540.6L374.0 539.9M545.6 626.8L545.9 627.4L546.4 628.3L546.9 629.2L547.4 630.1L547.8 631.0L548.3 631.8L548.8 632.7L549.2 633.6L549.7 634.5L550.2 635.4L550.6 636.3L550.7 636.5M552.1 639.2L552.4 639.8L552.9 640.7L553.4 641.6L553.8 642.5L554.3 643.4L554.7 644.3L555.2 645.2L555.7 646.0L556.1 646.9L556.6 647.8L557.1 648.7L557.5 649.6L557.8 650.1M558.6 651.7L558.9 652.2L559.4 653.1L559.9 654.0L560.4 654.9L560.8 655.7L561.3 656.6L561.8 657.5L562.3 658.4L562.8 659.3L563.3 660.1M558.7 625.3L558.8 625.4L559.4 626.2L560.0 627.0L560.6 627.8L561.2 628.6L561.8 629.4L562.4 630.3L563.0 631.1L563.6 631.9L564.2 632.7L564.8 633.5L565.0 633.6M565.8 634.8L566.0 635.1L566.6 635.9L567.2 636.6L567.8 637.4L568.4 638.2L568.9 638.9M570.6 641.1L570.9 641.4L571.5 642.2L572.1 643.0L572.7 643.8L573.3 644.6L574.0 645.3L574.6 646.1M575.5 647.3L575.8 647.7L576.5 648.5L577.1 649.3L577.7 650.0L578.3 650.8L579.0 651.6L579.6 652.4L580.2 653.1L580.9 653.9L581.3 654.4M582.8 656.2L583.4 657.0M518.5 599.3L517.5 599.3L516.5 599.3L515.5 599.4L514.5 599.4L513.5 599.5L512.5 599.5L511.5 599.6L510.5 599.6L509.5 599.7L508.5 599.7L507.6 599.8L507.4 599.8M504.5 600.0L503.6 600.1L502.6 600.2L501.6 600.2L500.6 600.3L499.6 600.4L498.6 600.5L497.6 600.6L496.6 600.8M494.5 601.1L493.6 601.3L492.7 601.5L491.7 601.7L490.7 602.0L489.8 602.4L489.0 602.9M524.5 622.5L524.2 623.5L523.9 624.4L523.6 625.4L523.4 626.4L523.1 627.3L522.9 628.3M522.2 631.0L522.2 631.2L522.0 632.2L521.8 633.2L521.6 634.2L521.5 635.1L521.3 636.1L521.2 637.1L521.0 638.1L520.9 639.1L520.8 640.1L520.7 641.1L520.7 641.3M520.5 642.8L520.5 643.1L520.4 644.1L520.4 645.1L520.3 646.1L520.3 647.1L520.3 648.1L520.2 649.1L520.2 650.1L520.2 651.1L520.2 652.1L520.2 653.1L520.2 653.3M448.6 581.4L449.5 580.9L450.4 580.4L451.2 579.8L452.0 579.2L452.8 578.6L453.6 578.0L454.3 577.3L455.0 576.6L455.7 575.9L456.4 575.2L456.8 574.7M458.4 572.9L459.0 572.1L459.6 571.3L460.1 570.5L460.7 569.6L461.2 568.8L461.7 567.9L462.2 567.1L462.7 566.2L463.2 565.3L463.6 564.4L464.0 563.5L464.4 562.6L464.8 561.6L464.8 561.5M465.8 558.8L466.1 557.8L466.3 556.9L466.6 555.9L466.8 554.9L467.0 554.0L467.3 553.0L467.4 552.0L467.6 551.0L467.8 550.0L467.9 549.4M468.1 547.8L468.2 547.1L468.3 546.1L468.4 545.1L468.5 544.1L468.6 543.1L468.7 542.1L468.8 541.1L468.8 540.1L468.9 539.1M577.9 575.1L578.2 574.9L578.9 574.2L579.6 573.5L580.3 572.8L581.0 572.1L581.7 571.4L582.5 570.7L583.2 570.1L583.5 569.8M585.4 568.1L585.4 568.0L586.2 567.4L586.9 566.7L587.7 566.1L588.4 565.4L589.2 564.8L590.0 564.1L590.7 563.5L591.5 562.8L592.0 562.4M593.2 561.5L593.8 560.9L594.6 560.3L595.4 559.7L596.2 559.0L596.9 558.4L597.5 558.0M519.0 588.3L518.0 588.0L517.1 587.7L516.1 587.4L515.2 587.0L514.3 586.7L513.3 586.4L512.4 586.0L511.5 585.6L510.5 585.2L509.6 584.8L508.7 584.4L507.8 583.9L507.3 583.6M505.9 582.8L505.2 582.4L504.4 581.9L503.5 581.4L502.7 580.8L501.9 580.2L501.2 579.6L500.4 578.9L499.7 578.2L499.0 577.5L498.3 576.8L497.6 576.0L497.0 575.2L496.5 574.4L495.9 573.5L495.5 572.8M494.2 570.2L494.1 570.0L493.8 569.0L493.4 568.1L493.1 567.2L492.8 566.2L492.6 565.2L492.3 564.3L492.1 563.3L491.9 562.3L491.8 561.5M491.5 559.9L491.4 559.3L491.3 558.4L491.1 557.4L491.0 556.4L490.9 555.4L490.8 554.4L490.8 554.0M490.7 552.4L490.7 552.4L490.6 551.4L490.5 550.4L490.4 549.4M389.2 623.7L388.5 624.4L387.7 625.1L387.0 625.8L386.2 626.4L385.5 627.1L384.8 627.8L384.0 628.4L383.2 629.1L382.5 629.7L381.7 630.4L381.5 630.6M379.3 632.4L378.7 632.9L377.9 633.6L377.1 634.2L376.3 634.8M585.8 573.5L586.5 572.9L587.3 572.2L588.0 571.6L588.8 570.9L589.6 570.3L590.4 569.7L591.1 569.0L591.9 568.4L592.7 567.8L593.5 567.2L594.2 566.7M577.3 623.2L577.8 623.7L578.5 624.4L579.2 625.1L579.9 625.8L580.6 626.5L581.3 627.2L582.1 627.9L582.8 628.6L583.5 629.3L584.1 629.8M585.3 630.9L585.7 631.3L586.5 632.0L587.2 632.6L588.0 633.3L588.7 634.0L589.1 634.3M590.3 635.4L591.0 635.9L591.7 636.6L592.5 637.2L593.2 637.9M568.9 622.2L569.6 623.0L570.2 623.7L570.9 624.4L571.5 625.2L572.2 625.9L572.9 626.7L573.6 627.4L574.2 628.1L574.9 628.9L575.6 629.6L576.3 630.3L577.0 631.1L577.7 631.8L578.4 632.5L578.5 632.7M579.8 634.1L580.4 634.7L581.1 635.4L581.8 636.1L582.5 636.8L583.3 637.5L584.0 638.2L584.7 638.9L585.4 639.6L586.1 640.3L586.8 641.0L587.5 641.7L588.3 642.4L589.0 643.1L589.3 643.4M590.9 644.9L591.2 645.2L591.9 645.8L592.6 646.5L593.4 647.2L594.1 647.9L594.8 648.6L595.6 649.2L596.3 649.9M519.0 575.5L518.4 574.8L517.8 574.0L517.2 573.2L516.6 572.3L516.1 571.5L515.5 570.6L515.0 569.8L514.5 568.9L514.1 568.0L513.6 567.1L513.3 566.6M512.4 564.6L512.3 564.4L511.9 563.5L511.6 562.6L511.2 561.6L510.9 560.7L510.6 559.7L510.3 558.8L510.0 557.8L509.7 556.9L509.5 555.9L509.3 554.9L509.2 554.5M508.6 551.6L508.5 551.0L508.3 550.0L508.2 549.0L508.0 548.0L507.9 547.0L507.8 546.1M507.6 543.6L507.5 543.1L507.5 542.1L507.4 541.1L507.3 540.1L507.3 539.1L507.3 538.1L507.2 537.1L507.2 536.1M583.1 625.4L583.5 625.7L584.2 626.3L584.9 627.0L585.7 627.7L586.4 628.3L587.2 629.0L587.9 629.7L588.4 630.1M589.5 631.0L590.2 631.6L591.0 632.2L591.8 632.9L592.5 633.5L593.3 634.2L594.1 634.8M574.2 624.8L574.9 625.5L575.6 626.3L576.3 627.0L577.0 627.7L577.7 628.4L577.7 628.5M579.7 630.4L579.8 630.5L580.5 631.2L581.2 632.0L581.9 632.7L582.6 633.4L583.4 634.1L584.1 634.7L584.8 635.4L585.5 636.1L586.3 636.8L586.6 637.2M588.6 639.0L589.2 639.5L589.9 640.2L590.7 640.9L591.4 641.6L592.1 642.2L592.9 642.9M452.6 617.5L452.8 617.7L453.5 618.3L454.3 619.0L455.0 619.7L455.7 620.5L456.3 621.2L457.0 622.0L457.6 622.7L458.2 623.5L458.8 624.3L458.9 624.4M459.8 625.7L460.0 626.0L460.5 626.8L461.0 627.7L461.5 628.5L462.0 629.4L462.5 630.3L462.6 630.5M463.4 632.3L463.7 633.0L464.1 633.9L464.5 634.9L464.8 635.8L465.1 636.8L465.4 637.7L465.7 638.7L466.0 639.6L466.2 640.6L466.4 641.6L466.7 642.6L466.9 643.5L467.0 644.5L467.2 645.5M467.6 647.9L467.6 648.5L467.8 649.5L467.9 650.5L468.0 651.5L468.1 652.5L468.1 653.5L468.2 654.4L468.3 655.4L468.3 656.4L468.4 657.4M547.0 570.7L547.5 569.8L548.1 569.0L548.6 568.1L549.1 567.3L549.6 566.4L550.1 565.5L550.6 564.7L551.1 563.8L551.6 562.9L552.1 562.0L552.4 561.5M553.6 559.4L554.0 558.6L554.5 557.7L555.0 556.8L555.5 555.9L556.0 555.1L556.5 554.2L556.9 553.3L557.4 552.5L557.9 551.6L558.4 550.7L558.9 549.8L559.4 549.0L559.8 548.3M560.6 547.0L560.9 546.4L561.4 545.5L561.9 544.6L562.4 543.8L562.9 542.9L563.4 542.1L563.9 541.2L564.3 540.6M565.1 539.3L565.5 538.6L566.0 537.8M418.4 624.3L417.8 625.2L417.3 626.0L416.7 626.8L416.1 627.6L415.6 628.5L415.0 629.3L414.5 630.1L414.4 630.3M413.4 631.7L413.4 631.8L412.8 632.6L412.2 633.5L411.7 634.3L411.1 635.1L410.6 636.0L410.0 636.8L409.5 637.6L408.9 638.5L408.4 639.3L407.8 640.1L407.2 640.9L406.7 641.8L406.1 642.6L406.1 642.7M405.0 644.2L405.0 644.3L404.4 645.1L403.9 645.9L403.3 646.7L402.7 647.5L402.2 648.4L401.7 649.0M400.6 650.6L400.4 650.8L399.9 651.6L399.3 652.5L398.7 653.3L398.1 654.1L397.5 654.9L397.0 655.7M591.4 622.2L592.2 622.8L593.0 623.4L593.8 624.0L594.6 624.6L595.4 625.2L596.2 625.8M586.0 623.9L586.8 624.5L587.6 625.2L588.3 625.8L589.1 626.5L589.9 627.1L590.4 627.5M592.0 628.8L592.2 629.0L593.0 629.6L593.8 630.2L594.6 630.8M449.9 572.3L450.1 571.8L450.5 570.9L450.9 570.0L451.3 569.1L451.7 568.1L452.0 567.2L452.4 566.3L452.7 565.3L453.0 564.4L453.2 563.8M454.0 561.3L454.2 560.5L454.4 559.6L454.6 558.6L454.9 557.6L455.1 556.6L455.2 555.7L455.4 554.7L455.6 553.7L455.7 552.7L455.8 551.9M456.2 549.1L456.2 548.7L456.3 547.7L456.4 546.7L456.5 545.7L456.5 544.7L456.6 543.7L456.6 542.7L456.6 542.2M410.6 622.8L410.0 623.5L409.4 624.3L408.7 625.1L408.1 625.9L407.5 626.7L406.9 627.5L406.3 628.3L405.9 628.7M404.8 630.1L404.4 630.6L403.8 631.4L403.2 632.2L402.5 633.0L401.9 633.7L401.3 634.5L400.6 635.3L400.0 636.1L399.4 636.8L398.7 637.6L398.1 638.4L397.5 639.2L397.0 639.7M395.2 641.9L394.9 642.2L394.2 643.0L393.6 643.7L392.9 644.5L392.3 645.3L391.6 646.0L391.0 646.8L390.6 647.2M389.3 648.7L389.0 649.0L388.4 649.8L387.7 650.5L387.0 651.3L386.4 652.0L385.7 652.8L385.0 653.5L384.4 654.3L383.7 655.0L383.0 655.7L382.3 656.5L381.7 657.2M448.6 623.3L449.0 624.2L449.4 625.1L449.8 626.1L450.1 627.0L450.5 627.9L450.8 628.9L450.8 629.0M451.6 631.6L451.7 631.8L451.9 632.7L452.2 633.7L452.4 634.7L452.7 635.6L452.9 636.6L453.1 637.6L453.3 638.6L453.4 639.6L453.5 639.7M453.7 641.3L453.7 641.5L453.9 642.5L454.0 643.5L454.1 644.5L454.2 645.5L454.3 646.5L454.4 647.5L454.5 648.5L454.5 649.5L454.6 650.5L454.6 651.5L454.7 652.5L454.7 653.5M571.0 569.3L571.1 569.1L571.8 568.4L572.5 567.7L573.1 566.9L573.8 566.2L574.5 565.4L575.2 564.7L575.8 564.0L576.5 563.2L577.2 562.5L577.9 561.8L578.6 561.0L579.3 560.3L580.0 559.6L580.6 558.9L580.9 558.6M582.0 557.5L582.0 557.4L582.7 556.7L583.4 556.0L584.1 555.3L584.8 554.6L585.5 553.9L586.3 553.2L586.7 552.7M588.8 550.7L589.1 550.4L589.8 549.7L590.5 549.0L591.3 548.3L592.0 547.6L592.4 547.2M521.1 619.3L520.4 620.0L519.8 620.8L519.3 621.7L518.7 622.5L518.1 623.3L517.6 624.2L517.1 625.0L516.6 625.9L516.2 626.8L515.7 627.7L515.5 628.1M514.6 629.9L514.4 630.4L514.0 631.3L513.7 632.2L513.3 633.2L513.0 634.1L512.7 635.1L512.4 636.0L512.1 637.0L511.8 637.9L511.8 638.1M511.2 640.2L511.1 640.9L510.9 641.8L510.7 642.8L510.5 643.8L510.3 644.8L510.2 645.8L510.1 646.8L509.9 647.8L509.8 648.8L509.7 649.7L509.6 650.7L509.5 651.7L509.4 652.7L509.4 653.7L509.3 654.7M519.3 602.8L518.3 602.9L517.3 603.1L516.4 603.2L515.4 603.4L514.4 603.6L513.4 603.7L512.4 603.9L511.4 604.1L510.4 604.3L509.5 604.5L508.5 604.7L507.5 605.0L506.9 605.1M504.6 605.7L504.6 605.7L503.7 606.0L502.7 606.3L501.7 606.6L500.8 606.9L499.9 607.3L499.2 607.6M496.8 608.6L496.3 609.0L495.4 609.5L494.6 610.1L493.8 610.7L493.0 611.3L492.3 612.0L491.7 612.8L491.1 613.6L490.6 614.5L490.1 615.4L489.7 616.3L489.3 617.2L489.0 618.1L488.9 618.7M488.5 620.1L488.5 620.1M448.0 597.9L449.0 597.9L450.0 597.9L451.0 597.9L452.0 597.9L453.0 597.9L454.0 597.9L455.0 597.9L456.0 597.9L457.0 597.9L458.0 597.9L459.0 597.9L460.0 597.9L461.0 597.9L462.0 597.9L462.7 597.9M464.7 597.9L465.0 597.9L466.0 597.9L467.0 597.9L468.0 597.9L469.0 597.8L470.0 597.8L471.0 597.8L472.0 597.8L473.0 597.8L474.0 597.8L474.0 597.8M477.0 597.8L478.0 597.8L479.0 597.8L480.0 597.8L481.0 597.8M455.1 602.2L455.3 602.3L456.3 602.4L457.3 602.6L458.3 602.7L459.3 602.9L460.3 603.0L461.3 603.2L462.3 603.3L463.2 603.5L464.2 603.7L465.2 603.9L466.1 604.1M467.6 604.4L468.1 604.6L469.1 604.8L470.1 605.1L471.0 605.4L472.0 605.7L472.9 606.0L473.8 606.4L474.8 606.8L475.7 607.2L476.5 607.7L477.4 608.2L478.2 608.8L479.0 609.4L479.7 610.1M480.9 611.7L481.4 612.6L481.8 613.5L482.2 614.4L482.5 615.4L482.8 616.3L483.0 617.3L483.2 618.3M523.8 571.4L523.5 570.4L523.2 569.4L523.0 568.5L522.7 567.5L522.5 566.5L522.3 565.6L522.1 564.8M521.8 563.3L521.7 562.6L521.5 561.6L521.3 560.7L521.2 559.7L521.0 558.7L520.9 557.7L520.7 556.7L520.6 555.7L520.5 554.7L520.5 553.9M520.3 552.5L520.3 551.7L520.2 550.7L520.2 549.7L520.1 548.7L520.1 547.7L520.1 546.7L520.0 545.7L520.0 544.7L520.0 544.4M390.6 571.9L389.9 571.2L389.2 570.5L388.4 569.8L387.7 569.1L387.0 568.5L386.2 567.8L385.5 567.1L384.7 566.4L384.0 565.8L383.2 565.1L382.5 564.5L381.7 563.8L381.0 563.2L380.5 562.8M379.2 561.7L378.7 561.2L377.9 560.6L377.1 560.0L376.3 559.3L375.6 558.7M579.0 570.3L579.2 570.1L579.9 569.4L580.6 568.7L581.3 568.0L582.1 567.3L582.8 566.6L583.5 565.9L584.3 565.3L585.0 564.6L585.7 563.9L586.5 563.2L587.2 562.6L587.3 562.5M589.0 561.0L589.5 560.6L590.2 559.9L591.0 559.3L591.7 558.6L592.5 557.9L593.2 557.3L594.0 556.6L594.8 556.0L594.8 556.0M517.4 577.8L516.6 577.1L515.9 576.4L515.2 575.7L514.5 574.9L513.9 574.2L513.2 573.4L512.6 572.6L512.0 571.8L511.4 571.0L510.9 570.2L510.3 569.4L509.8 568.5L509.3 567.6L509.2 567.4M507.8 564.9L507.4 564.1L507.0 563.2L506.7 562.2L506.3 561.3L506.0 560.4L505.6 559.4L505.4 558.7M504.9 557.2L504.8 556.6L504.5 555.6L504.3 554.6L504.1 553.6L503.9 552.7L503.7 551.7L503.5 550.7L503.3 549.7L503.2 548.7L503.2 548.4M502.8 545.5L502.7 544.7L502.6 543.8L502.5 542.8L502.5 541.8L502.4 540.8L502.3 539.8L502.3 538.8M521.2 575.2L521.0 574.9L520.4 574.1L519.9 573.2L519.4 572.4L518.9 571.5L518.5 570.6L518.0 569.7L517.6 568.8L517.2 567.9M516.5 566.4L516.4 566.1L516.0 565.1L515.6 564.2L515.3 563.2L515.0 562.3L514.7 561.3L514.4 560.4L514.1 559.4L513.9 558.5L513.6 557.5L513.4 556.5L513.2 555.5L513.0 554.6L512.8 553.6L512.7 553.3M512.3 550.4L512.2 549.6L512.0 548.6L511.9 547.6L511.8 546.6L511.7 545.7L511.7 544.9M511.5 542.7L511.5 542.7L511.5 541.7L511.4 540.7L511.4 539.7L511.4 538.7L511.3 537.7M450.8 591.4L451.8 591.2L452.8 591.0L453.7 590.8L454.7 590.5L455.7 590.3L456.7 590.1L457.6 589.8L458.1 589.7M460.1 589.1L460.5 589.0L461.5 588.7L462.4 588.4L463.4 588.1L464.3 587.8L465.3 587.4L466.1 587.1M467.8 586.4L468.0 586.3L468.9 585.9L469.8 585.4L470.7 584.9L471.6 584.4L472.4 583.9L473.2 583.3L474.0 582.7L474.8 582.1L475.5 581.4L476.2 580.7L476.9 579.9L477.1 579.6M477.9 578.4L478.0 578.3L478.5 577.4L479.0 576.5L479.4 575.6L479.8 574.7L480.1 573.8L480.5 572.8L480.7 572.1M481.1 570.4L481.2 569.9L481.4 568.9L481.6 567.9L481.7 567.0L481.9 566.0L482.0 565.0L482.1 564.0L482.2 563.0L482.3 562.0L482.4 561.0L482.5 560.0L482.6 559.1M482.7 556.6L482.8 556.0L482.8 555.0L482.9 554.0L482.9 553.0L483.0 552.0L483.0 551.4M483.1 548.8L483.1 548.0M528.2 571.3L528.1 570.3L528.1 569.3L528.1 568.3L528.1 567.3L528.1 566.3L528.0 565.3L528.0 564.3L528.0 563.3L528.0 562.3L528.0 561.3L528.0 560.3L528.1 559.6M528.1 557.7L528.1 557.3L528.1 556.3L528.2 555.3L528.2 554.3L528.3 553.3L528.3 552.3L528.4 551.3L528.5 550.3L528.6 549.3L528.6 549.0M528.7 547.6L528.7 547.3L528.8 546.3L528.9 545.3L529.0 544.3L529.1 543.3L529.3 542.3M374.7 575.2L374.7 575.2L373.9 574.6L373.0 574.0M387.2 572.4L386.4 571.7L385.7 571.0L384.9 570.4L384.2 569.7L383.4 569.1L382.6 568.4L381.9 567.8L381.1 567.1L380.7 566.8M378.4 565.0L378.0 564.6M594.4 619.6L595.2 620.2L596.0 620.8L596.9 621.4L597.7 621.9M415.6 575.6L415.0 574.8L414.4 574.0L413.8 573.2L413.2 572.4L412.6 571.6L412.0 570.8L411.4 570.0L410.8 569.2L410.2 568.4L409.6 567.6L409.0 566.8L408.4 566.0L407.8 565.2L407.6 565.0M406.3 563.3L406.0 562.8L405.4 562.0L404.8 561.2L404.1 560.4L403.5 559.6L402.9 558.8L402.3 558.0L401.7 557.3L401.1 556.5L400.5 555.7L399.9 554.9L399.3 554.1L398.6 553.3L398.3 552.9M396.9 551.1L396.8 551.0L396.2 550.2L395.5 549.4L394.9 548.6L394.3 547.8L393.6 547.1L393.0 546.3L392.4 545.5L392.3 545.4M390.7 543.5L390.5 543.2L389.8 542.4L389.2 541.7L388.5 540.9L387.9 540.1M518.9 610.6L518.5 610.7L517.6 611.1L516.6 611.5L515.7 611.9L514.8 612.3L513.9 612.8L513.0 613.3L512.6 613.5M510.1 615.1L509.6 615.3L508.8 615.9L508.0 616.5L507.2 617.1L506.4 617.7L505.7 618.4L504.9 619.1L504.2 619.8L503.5 620.5L502.8 621.2L502.5 621.6M501.1 623.3L501.0 623.5L500.4 624.4L499.8 625.2L499.3 626.1L498.8 626.9L498.4 627.8L498.4 627.9M497.3 630.2L497.2 630.6L496.8 631.5L496.5 632.4L496.2 633.4L495.9 634.4L495.7 635.3L495.4 636.3L495.2 637.3L495.0 638.3L494.8 639.2L494.6 640.2L494.6 640.4M494.3 642.3L494.2 643.2L494.1 644.2L494.0 645.2L493.9 646.2L493.8 647.2L493.7 648.2L493.7 648.3M493.5 650.8L493.5 651.2L493.4 652.2L493.4 653.2L493.3 654.2L493.3 655.1M380.4 620.5L380.0 620.8L379.2 621.4L378.4 622.0L377.6 622.6L376.8 623.2M380.4 623.4L379.6 624.1L378.8 624.7L378.0 625.3L377.3 625.9L376.5 626.5L375.7 627.1M592.9 571.5L593.0 571.4L593.8 570.8L594.6 570.2L595.4 569.6L596.2 569.0M454.4 586.1L455.4 585.7L456.3 585.3L457.2 584.9L458.1 584.5L459.0 584.1L459.9 583.6L460.8 583.2L461.7 582.7L462.5 582.2L463.4 581.7L464.2 581.1L465.1 580.6L465.9 580.0L466.7 579.4L466.9 579.2M468.5 577.8L468.9 577.4L469.6 576.7L470.3 576.0L471.0 575.2L471.6 574.5L472.2 573.7L472.8 572.8L473.3 572.0L473.8 571.1L474.3 570.3L474.8 569.4L475.2 568.5L475.5 567.5L475.6 567.4M476.3 565.5L476.5 564.7L476.8 563.7L477.1 562.8L477.3 561.8L477.5 560.8L477.7 559.8L477.9 558.9L478.1 557.9L478.2 556.9L478.3 555.9L478.5 554.9L478.6 553.9L478.7 552.9L478.7 552.7M478.9 550.6L479.0 549.9M560.9 572.4L561.0 572.3L561.6 571.5L562.2 570.7L562.8 569.9L563.4 569.2L564.1 568.4L564.7 567.6L565.3 566.8L565.9 566.0L566.5 565.2L567.2 564.5L567.8 563.7L568.0 563.4M569.1 562.0L569.7 561.3L570.3 560.6L570.9 559.8L571.6 559.0L572.2 558.2L572.8 557.5L573.1 557.2M574.1 555.9L574.8 555.2L575.4 554.4L576.0 553.6L576.7 552.9L577.3 552.1L577.8 551.6M579.7 549.4L580.0 549.1L580.6 548.3L581.3 547.6L581.9 546.8L582.6 546.1L583.3 545.3L583.9 544.6L584.6 543.8L585.3 543.1L585.9 542.3L586.6 541.6L587.3 540.9L587.5 540.6M379.4 576.4L378.6 575.8L377.8 575.1L377.0 574.6L376.2 574.0L375.4 573.4L375.3 573.3M452.9 596.8L453.8 596.7L454.8 596.7L455.8 596.7L456.8 596.6L457.8 596.6L458.8 596.5L459.8 596.5L460.8 596.5L461.8 596.4L462.8 596.4L463.8 596.3L464.8 596.2L465.8 596.2L466.5 596.1M468.8 596.0L469.7 595.9L470.7 595.8L471.7 595.7L472.7 595.6L473.7 595.5L474.1 595.5M476.8 595.1L477.7 595.0L478.7 594.8L479.6 594.5M572.9 573.7L573.4 573.2L574.1 572.5L574.7 571.7L575.4 571.0L576.1 570.3L576.8 569.6L577.5 568.9M579.0 567.3L579.6 566.7L580.3 566.0L581.1 565.3L581.8 564.6L582.5 563.9L583.2 563.2L583.9 562.5L584.7 561.9L585.4 561.2L586.1 560.5L586.9 559.8L587.2 559.5M589.0 557.9L589.1 557.8L589.8 557.1L590.5 556.4L591.3 555.8L592.0 555.1L592.8 554.4L593.5 553.8L594.3 553.1L595.0 552.5L595.8 551.8L596.6 551.2M397.7 573.0L397.5 572.7L396.8 572.0L396.1 571.3L395.4 570.6L394.7 569.8L394.0 569.1L393.3 568.4L392.6 567.7L392.5 567.6M391.2 566.2L390.5 565.6L389.8 564.9L389.1 564.2L388.4 563.5L387.6 562.8L387.4 562.6M385.5 560.7L385.5 560.7L384.7 560.0L384.0 559.3L383.3 558.7L382.5 558.0L381.8 557.3L381.6 557.1M379.6 555.3L379.6 555.3L378.8 554.6L378.1 554.0L377.3 553.3L376.6 552.6L375.8 552.0L375.1 551.3M381.0 575.6L380.3 575.0L379.5 574.4L378.7 573.8L377.9 573.2L377.1 572.6L376.3 572.0L375.5 571.4M378.2 619.6L377.4 620.2L376.6 620.8L375.8 621.3L375.0 621.9L374.2 622.5L373.4 623.1" fill="none" stroke="#575757" stroke-width="0.75" stroke-linecap="round"/><rect x="88.6" y="365.4" width="165.8" height="33.60000000000002" fill="#fff"/>
<g filter="url(#wc)"><rect x="89.6" y="366.4" width="81.4" height="31.600000000000023" fill="#4083b7"/>
<rect x="171" y="366.4" width="82.4" height="31.600000000000023" fill="#e5333a"/></g>
<text x="107.8" y="389.3" font-family="Liberation Serif" font-size="21.5" fill="#fff" stroke="#fff" stroke-width="0.6" text-anchor="middle">N</text>
<text x="239" y="390" font-family="Liberation Serif" font-size="21.5" fill="#fff" stroke="#fff" stroke-width="0.6" text-anchor="middle">S</text><defs><clipPath id="hsTop"><rect x="0" y="0" width="400" height="580.5"/></clipPath><clipPath id="hsBot"><rect x="0" y="580.5" width="400" height="200"/></clipPath></defs>
<path d="M 214.4 523.4 H 100.3 A 55.65 55.65 0 0 0 100.3 634.7 H 214.4 V 604.4 H 100.3 A 24.65 24.65 0 0 1 100.3 555.1 H 214.4 Z" fill="none" stroke="#fff" stroke-width="2.5"/>
<g filter="url(#wc)"><path d="M 214.4 523.4 H 100.3 A 55.65 55.65 0 0 0 100.3 634.7 H 214.4 V 604.4 H 100.3 A 24.65 24.65 0 0 1 100.3 555.1 H 214.4 Z" fill="#4083b7" clip-path="url(#hsTop)"/>
<path d="M 214.4 523.4 H 100.3 A 55.65 55.65 0 0 0 100.3 634.7 H 214.4 V 604.4 H 100.3 A 24.65 24.65 0 0 1 100.3 555.1 H 214.4 Z" fill="#e5333a" clip-path="url(#hsBot)"/></g>
<text x="198.9" y="547.6" font-family="Liberation Serif" font-size="21" fill="#fff" stroke="#fff" stroke-width="0.6" text-anchor="middle">N</text>
<text x="198.3" y="627.7" font-family="Liberation Serif" font-size="21" fill="#fff" stroke="#fff" stroke-width="0.6" text-anchor="middle">S</text><rect x="375.1" y="407.0" width="69.5" height="39.69999999999999" fill="#e5333a" filter="url(#wc)"/>
<rect x="444.6" y="406.0" width="1.5" height="41.69999999999999" fill="#fff"/>
<rect x="525.2" y="406.0" width="1.5" height="41.69999999999999" fill="#fff"/>
<rect x="526.7" y="407.0" width="65.59999999999991" height="39.69999999999999" fill="#377db4" filter="url(#wc)"/>
<text x="418.75" y="435.8" font-family="Liberation Serif" font-size="27" fill="#fff" stroke="#fff" stroke-width="0.7" text-anchor="middle">S</text>
<text x="553.4" y="436" font-family="Liberation Serif" font-size="27" fill="#fff" stroke="#fff" stroke-width="0.7" text-anchor="middle">N</text><rect x="372.8" y="578.4" width="72.80000000000001" height="39.10000000000002" fill="#377db4" filter="url(#wc)"/>
<rect x="445.6" y="577.4" width="1.5" height="41.10000000000002" fill="#fff"/>
<rect x="523.8" y="577.4" width="1.5" height="41.10000000000002" fill="#fff"/>
<rect x="525.3" y="578.4" width="73.45000000000005" height="39.10000000000002" fill="#377db4" filter="url(#wc)"/>
<text x="420" y="607.5" font-family="Liberation Serif" font-size="27" fill="#fff" stroke="#fff" stroke-width="0.7" text-anchor="middle">N</text>
<text x="554" y="607.5" font-family="Liberation Serif" font-size="27" fill="#fff" stroke="#fff" stroke-width="0.7" text-anchor="middle">N</text><defs>
<linearGradient id="gLeft" x1="0" y1="0" x2="1" y2="1"><stop offset="0" stop-color="#cfd0cb"/><stop offset="0.5" stop-color="#c6c7c3"/><stop offset="1" stop-color="#bebfbb"/></linearGradient>
<linearGradient id="gRight" x1="0" y1="0" x2="1" y2="1"><stop offset="0" stop-color="#bbbcb8"/><stop offset="1" stop-color="#b3b4b0"/></linearGradient>
<linearGradient id="gBlk" x1="0" y1="0" x2="0" y2="1"><stop offset="0" stop-color="#b9bab7"/><stop offset="1" stop-color="#9b9c99"/></linearGradient>
<filter id="stone" x="0" y="0" width="100%" height="100%" color-interpolation-filters="sRGB">
<feTurbulence type="fractalNoise" baseFrequency="0.03" numOctaves="3" seed="9" result="n"/>
<feColorMatrix in="n" type="matrix" values="0 0 0 0 0.93  0 0 0 0 0.93  0 0 0 0 0.9  0 0 0 0.6 -0.22" result="w"/>
<feComposite in="w" in2="SourceAlpha" operator="in" result="wi"/>
<feMerge><feMergeNode in="SourceGraphic"/><feMergeNode in="wi"/></feMerge></filter>
</defs><g filter="url(#stone)"><polygon points="349.4,1086.5 425.3,1108.4 426.4,1220.7 350.9,1192.3" fill="url(#gLeft)"/><polygon points="425.3,1108.4 502.2,1078.4 503.1,1187.5 426.4,1220.7" fill="url(#gRight)"/></g><polygon points="349.4,1086.5 425.3,1108.4 426.4,1220.7 350.9,1192.3" fill="none" stroke="#6d6e6c" stroke-width="0.7"/><polygon points="425.3,1108.4 502.2,1078.4 503.1,1187.5 426.4,1220.7" fill="none" stroke="#6d6e6c" stroke-width="0.7"/><polygon points="349.4,1086.5 424.4,1059.0 502.2,1078.4 425.3,1108.4" fill="#c3c4c1" stroke="#6d6e6c" stroke-width="0.7"/><polygon points="363.2,1081.9 438.5,1062.7 440.5,1069.3 365.2,1088.6" fill="#c4c5c2" stroke="#4a4a4a" stroke-width="0.9"/><polygon points="384.8,1088.5 462.0,1068.3 464.0,1075.0 386.8,1095.2" fill="#c4c5c2" stroke="#4a4a4a" stroke-width="0.9"/><polygon points="406.4,1095.9 485.4,1074.8 487.4,1081.5 408.4,1102.6" fill="#c4c5c2" stroke="#4a4a4a" stroke-width="0.9"/><ellipse cx="379.4" cy="1083.5" rx="4.6" ry="3.0" fill="#a3a4a1" stroke="#444" stroke-width="0.8"/><ellipse cx="425.3" cy="1066.2" rx="4.6" ry="3.0" fill="#a3a4a1" stroke="#444" stroke-width="0.8"/><ellipse cx="401.9" cy="1090.2" rx="4.6" ry="3.0" fill="#a3a4a1" stroke="#444" stroke-width="0.8"/><ellipse cx="446.9" cy="1072.8" rx="4.6" ry="3.0" fill="#a3a4a1" stroke="#444" stroke-width="0.8"/><ellipse cx="423.4" cy="1097.2" rx="4.6" ry="3.0" fill="#a3a4a1" stroke="#444" stroke-width="0.8"/><ellipse cx="470.3" cy="1079.4" rx="4.6" ry="3.0" fill="#a3a4a1" stroke="#444" stroke-width="0.8"/><path d="M357.8 1101.9 L371.0 1103.5 M400.0 1116.0 L413.0 1117.0 M406.5 1109.5 L406.5 1122.5" stroke="#555" stroke-width="0.8" fill="none"/><path d="M383.3 1005.0 C381.6 1008.0 376.6 1014.7 373.3 1023.3 C370.0 1031.9 364.7 1047.8 363.3 1056.7 C361.9 1065.6 362.2 1072.3 365.0 1076.7 C367.8 1081.1 377.5 1082.2 380.0 1083.3" fill="none" stroke="#2a2a2a" stroke-width="0.9"/><path d="M423.3 1011.7 C428.3 1014.8 443.9 1022.5 453.3 1030.0 C462.8 1037.5 473.9 1047.8 480.0 1056.7 C486.1 1065.6 489.4 1076.1 490.0 1083.3 C490.6 1090.5 488.3 1096.7 483.3 1100.0 C478.3 1103.3 469.4 1103.6 460.0 1103.3 C450.6 1103.0 432.2 1099.1 426.7 1098.3" fill="none" stroke="#2a2a2a" stroke-width="0.9"/><polygon points="370.6,811.2 426.8,815.1 426.8,833.3 371.5,828.2" fill="url(#gBlk)" stroke="#5e5f5d" stroke-width="0.6"/><polygon points="426.8,815.1 441.3,812.0 441.3,829.9 426.8,833.3" fill="#8f908d" stroke="#5e5f5d" stroke-width="0.6"/><polygon points="370.6,811.2 385.1,808.3 441.3,812.0 426.8,815.1" fill="#c1c2bf" stroke="#5e5f5d" stroke-width="0.6"/><polygon points="384.3,985.0 428.5,995.0 428.5,1014.6 384.3,1005.0" fill="url(#gBlk)" stroke="#5e5f5d" stroke-width="0.6"/><polygon points="428.5,995.0 443.8,992.5 443.8,1011.2 428.5,1014.6" fill="#8f908d" stroke="#5e5f5d" stroke-width="0.6"/><polygon points="384.3,985.0 398.0,982.0 443.8,992.5 428.5,995.0" fill="#c1c2bf" stroke="#5e5f5d" stroke-width="0.6"/><path d="M368.1 825.6 Q369.0 912.7 369.8 1001.0 L385.1 1001.0 Q383.8 912.7 382.6 825.6 Z" fill="#c2c9dd" stroke="#8c93ae" stroke-width="0.8"/><path d="M370.3 825.6 Q371.2 912.7 372.0 1001.0" fill="none" stroke="#eef0f8" stroke-width="0.9"/><path d="M398.7 828.2 Q399.5 915.7 400.4 1004.4 L414.9 1004.4 Q414.6 915.7 414.0 828.2 Z" fill="#c2c9dd" stroke="#8c93ae" stroke-width="0.8"/><path d="M400.9 828.2 Q401.7 915.7 402.6 1004.4" fill="none" stroke="#eef0f8" stroke-width="0.9"/><ellipse cx="386.0" cy="807.8" rx="3.5" ry="1.8" fill="#9a9b98" stroke="#555" stroke-width="0.5"/><ellipse cx="420.0" cy="811.2" rx="3.5" ry="1.8" fill="#9a9b98" stroke="#555" stroke-width="0.5"/><line x1="365.5" y1="825.6" x2="382.9" y2="821.3" stroke="#6a6b69" stroke-width="8" stroke-linecap="round"/><line x1="365.5" y1="825.6" x2="382.9" y2="821.3" stroke="#949592" stroke-width="6.3" stroke-linecap="round"/><ellipse cx="365.5" cy="825.6" rx="3.6" ry="3.3" fill="#a9aaa7" stroke="#5d5e5c" stroke-width="0.6"/><line x1="396.2" y1="828.2" x2="415.7" y2="823.1" stroke="#6a6b69" stroke-width="8" stroke-linecap="round"/><line x1="396.2" y1="828.2" x2="415.7" y2="823.1" stroke="#949592" stroke-width="6.3" stroke-linecap="round"/><ellipse cx="396.2" cy="828.2" rx="3.6" ry="3.3" fill="#a9aaa7" stroke="#5d5e5c" stroke-width="0.6"/><ellipse cx="394.0" cy="1009.0" rx="3.5" ry="1.8" fill="#9a9b98" stroke="#555" stroke-width="0.5"/><ellipse cx="418.0" cy="1013.0" rx="3.5" ry="1.8" fill="#9a9b98" stroke="#555" stroke-width="0.5"/><line x1="366.4" y1="1001.0" x2="384.5" y2="997.3" stroke="#6a6b69" stroke-width="8" stroke-linecap="round"/><line x1="366.4" y1="1001.0" x2="384.5" y2="997.3" stroke="#949592" stroke-width="6.3" stroke-linecap="round"/><ellipse cx="366.4" cy="1001.0" rx="3.6" ry="3.3" fill="#a9aaa7" stroke="#5d5e5c" stroke-width="0.6"/><line x1="397.0" y1="1008.6" x2="416.6" y2="1004.3" stroke="#6a6b69" stroke-width="8" stroke-linecap="round"/><line x1="397.0" y1="1008.6" x2="416.6" y2="1004.3" stroke="#949592" stroke-width="6.3" stroke-linecap="round"/><ellipse cx="397.0" cy="1008.6" rx="3.6" ry="3.3" fill="#a9aaa7" stroke="#5d5e5c" stroke-width="0.6"/><g filter="url(#stone)"><polygon points="554.9,1085.3 630.8,1107.2 631.9,1219.5 556.4,1191.1" fill="url(#gLeft)"/><polygon points="630.8,1107.2 707.7,1077.2 708.6,1186.3 631.9,1219.5" fill="url(#gRight)"/></g><polygon points="554.9,1085.3 630.8,1107.2 631.9,1219.5 556.4,1191.1" fill="none" stroke="#6d6e6c" stroke-width="0.7"/><polygon points="630.8,1107.2 707.7,1077.2 708.6,1186.3 631.9,1219.5" fill="none" stroke="#6d6e6c" stroke-width="0.7"/><polygon points="554.9,1085.3 629.9,1057.8 707.7,1077.2 630.8,1107.2" fill="#c3c4c1" stroke="#6d6e6c" stroke-width="0.7"/><polygon points="568.8,1080.7 644.0,1061.5 646.0,1068.1 570.8,1087.4" fill="#c4c5c2" stroke="#4a4a4a" stroke-width="0.9"/><polygon points="590.3,1087.3 667.5,1067.1 669.5,1073.8 592.3,1094.0" fill="#c4c5c2" stroke="#4a4a4a" stroke-width="0.9"/><polygon points="611.9,1094.7 690.9,1073.6 692.9,1080.3 613.9,1101.4" fill="#c4c5c2" stroke="#4a4a4a" stroke-width="0.9"/><ellipse cx="584.9" cy="1082.3" rx="4.6" ry="3.0" fill="#a3a4a1" stroke="#444" stroke-width="0.8"/><ellipse cx="630.8" cy="1065.0" rx="4.6" ry="3.0" fill="#a3a4a1" stroke="#444" stroke-width="0.8"/><ellipse cx="607.4" cy="1089.0" rx="4.6" ry="3.0" fill="#a3a4a1" stroke="#444" stroke-width="0.8"/><ellipse cx="652.4" cy="1071.6" rx="4.6" ry="3.0" fill="#a3a4a1" stroke="#444" stroke-width="0.8"/><ellipse cx="628.9" cy="1096.0" rx="4.6" ry="3.0" fill="#a3a4a1" stroke="#444" stroke-width="0.8"/><ellipse cx="675.8" cy="1078.2" rx="4.6" ry="3.0" fill="#a3a4a1" stroke="#444" stroke-width="0.8"/><path d="M563.3 1100.7 L576.5 1102.3 M605.5 1114.8 L618.5 1115.8 M612.0 1108.3 L612.0 1121.3" stroke="#555" stroke-width="0.8" fill="none"/><path d="M590.0 1005.0 C583.9 1009.2 561.1 1021.4 553.3 1030.0 C545.5 1038.6 542.2 1048.9 543.3 1056.7 C544.4 1064.5 553.3 1072.3 560.0 1076.7 C566.7 1081.1 579.4 1082.2 583.3 1083.3" fill="none" stroke="#2a2a2a" stroke-width="0.9"/><path d="M640.0 1013.3 C645.5 1017.8 664.1 1030.5 673.3 1040.0 C682.5 1049.5 690.8 1061.7 695.0 1070.0 C699.2 1078.3 699.7 1084.7 698.3 1090.0 C696.9 1095.3 693.1 1099.8 686.7 1101.7 C680.3 1103.7 668.8 1102.5 660.0 1101.7 C651.2 1100.9 638.3 1097.5 634.0 1096.7" fill="none" stroke="#2a2a2a" stroke-width="0.9"/><polygon points="576.1,810.0 632.3,813.9 632.3,832.1 577.0,827.0" fill="url(#gBlk)" stroke="#5e5f5d" stroke-width="0.6"/><polygon points="632.3,813.9 646.8,810.8 646.8,828.7 632.3,832.1" fill="#8f908d" stroke="#5e5f5d" stroke-width="0.6"/><polygon points="576.1,810.0 590.6,807.1 646.8,810.8 632.3,813.9" fill="#c1c2bf" stroke="#5e5f5d" stroke-width="0.6"/><polygon points="589.8,983.8 634.0,993.8 634.0,1013.4 589.8,1003.8" fill="url(#gBlk)" stroke="#5e5f5d" stroke-width="0.6"/><polygon points="634.0,993.8 649.3,991.3 649.3,1010.0 634.0,1013.4" fill="#8f908d" stroke="#5e5f5d" stroke-width="0.6"/><polygon points="589.8,983.8 603.5,980.8 649.3,991.3 634.0,993.8" fill="#c1c2bf" stroke="#5e5f5d" stroke-width="0.6"/><path d="M570.8 826.0 Q542.4 901.3 570.8 994.5 L586.8 994.5 Q557.5 901.3 588.6 826.0 Z" fill="#c2c9dd" stroke="#8c93ae" stroke-width="0.8"/><path d="M573.0 826.0 Q544.6 901.3 573.0 994.5" fill="none" stroke="#eef0f8" stroke-width="0.9"/><path d="M609.0 826.0 Q639.0 897.8 609.0 1001.5 L623.0 1001.5 Q655.4 897.8 622.3 826.0 Z" fill="#c2c9dd" stroke="#8c93ae" stroke-width="0.8"/><path d="M611.2 826.0 Q641.2 897.8 611.2 1001.5" fill="none" stroke="#eef0f8" stroke-width="0.9"/><ellipse cx="591.5" cy="806.6" rx="3.5" ry="1.8" fill="#9a9b98" stroke="#555" stroke-width="0.5"/><ellipse cx="625.5" cy="810.0" rx="3.5" ry="1.8" fill="#9a9b98" stroke="#555" stroke-width="0.5"/><line x1="571.0" y1="824.4" x2="588.4" y2="820.1" stroke="#6a6b69" stroke-width="8" stroke-linecap="round"/><line x1="571.0" y1="824.4" x2="588.4" y2="820.1" stroke="#949592" stroke-width="6.3" stroke-linecap="round"/><ellipse cx="571.0" cy="824.4" rx="3.6" ry="3.3" fill="#a9aaa7" stroke="#5d5e5c" stroke-width="0.6"/><line x1="601.7" y1="827.0" x2="621.2" y2="821.9" stroke="#6a6b69" stroke-width="8" stroke-linecap="round"/><line x1="601.7" y1="827.0" x2="621.2" y2="821.9" stroke="#949592" stroke-width="6.3" stroke-linecap="round"/><ellipse cx="601.7" cy="827.0" rx="3.6" ry="3.3" fill="#a9aaa7" stroke="#5d5e5c" stroke-width="0.6"/><ellipse cx="599.5" cy="1007.8" rx="3.5" ry="1.8" fill="#9a9b98" stroke="#555" stroke-width="0.5"/><ellipse cx="623.5" cy="1011.8" rx="3.5" ry="1.8" fill="#9a9b98" stroke="#555" stroke-width="0.5"/><line x1="571.9" y1="999.8" x2="590.0" y2="996.1" stroke="#6a6b69" stroke-width="8" stroke-linecap="round"/><line x1="571.9" y1="999.8" x2="590.0" y2="996.1" stroke="#949592" stroke-width="6.3" stroke-linecap="round"/><ellipse cx="571.9" cy="999.8" rx="3.6" ry="3.3" fill="#a9aaa7" stroke="#5d5e5c" stroke-width="0.6"/><line x1="602.5" y1="1007.4" x2="622.0" y2="1003.1" stroke="#6a6b69" stroke-width="8" stroke-linecap="round"/><line x1="602.5" y1="1007.4" x2="622.0" y2="1003.1" stroke="#949592" stroke-width="6.3" stroke-linecap="round"/><ellipse cx="602.5" cy="1007.4" rx="3.6" ry="3.3" fill="#a9aaa7" stroke="#5d5e5c" stroke-width="0.6"/><g filter="url(#stone)"><polygon points="759.9,1081.5 835.8,1103.4 836.9,1215.7 761.4,1187.3" fill="url(#gLeft)"/><polygon points="835.8,1103.4 912.7,1073.4 913.6,1182.5 836.9,1215.7" fill="url(#gRight)"/></g><polygon points="759.9,1081.5 835.8,1103.4 836.9,1215.7 761.4,1187.3" fill="none" stroke="#6d6e6c" stroke-width="0.7"/><polygon points="835.8,1103.4 912.7,1073.4 913.6,1182.5 836.9,1215.7" fill="none" stroke="#6d6e6c" stroke-width="0.7"/><polygon points="759.9,1081.5 834.9,1054.0 912.7,1073.4 835.8,1103.4" fill="#c3c4c1" stroke="#6d6e6c" stroke-width="0.7"/><polygon points="773.8,1076.9 849.0,1057.7 851.0,1064.3 775.8,1083.6" fill="#c4c5c2" stroke="#4a4a4a" stroke-width="0.9"/><polygon points="795.3,1083.5 872.5,1063.3 874.5,1070.0 797.3,1090.2" fill="#c4c5c2" stroke="#4a4a4a" stroke-width="0.9"/><polygon points="816.9,1090.9 895.9,1069.8 897.9,1076.5 818.9,1097.6" fill="#c4c5c2" stroke="#4a4a4a" stroke-width="0.9"/><ellipse cx="789.9" cy="1078.5" rx="4.6" ry="3.0" fill="#a3a4a1" stroke="#444" stroke-width="0.8"/><ellipse cx="835.8" cy="1061.2" rx="4.6" ry="3.0" fill="#a3a4a1" stroke="#444" stroke-width="0.8"/><ellipse cx="812.4" cy="1085.2" rx="4.6" ry="3.0" fill="#a3a4a1" stroke="#444" stroke-width="0.8"/><ellipse cx="857.4" cy="1067.8" rx="4.6" ry="3.0" fill="#a3a4a1" stroke="#444" stroke-width="0.8"/><ellipse cx="833.9" cy="1092.2" rx="4.6" ry="3.0" fill="#a3a4a1" stroke="#444" stroke-width="0.8"/><ellipse cx="880.8" cy="1074.4" rx="4.6" ry="3.0" fill="#a3a4a1" stroke="#444" stroke-width="0.8"/><path d="M768.3 1096.9 L781.5 1098.5 M810.5 1111.0 L823.5 1112.0 M817.0 1104.5 L817.0 1117.5" stroke="#555" stroke-width="0.8" fill="none"/><path d="M781.7 808.3 C778.6 810.8 766.6 812.5 763.3 823.3 C760.0 834.1 761.1 851.1 761.7 873.3 C762.3 895.5 765.6 931.7 766.7 956.7 C767.8 981.7 767.8 1006.6 768.3 1023.3 C768.8 1040.0 768.0 1047.8 770.0 1056.7 C772.0 1065.6 776.7 1072.8 780.0 1076.7 C783.3 1080.6 788.3 1079.5 790.0 1080.0" fill="none" stroke="#2a2a2a" stroke-width="0.9"/><path d="M830.0 1008.3 C836.1 1011.9 856.2 1021.9 866.7 1030.0 C877.2 1038.1 887.8 1047.8 893.3 1056.7 C898.8 1065.6 901.1 1076.4 900.0 1083.3 C898.9 1090.2 894.5 1095.8 886.7 1098.3 C878.9 1100.8 862.2 1099.1 853.3 1098.3 C844.4 1097.5 836.6 1094.1 833.3 1093.3" fill="none" stroke="#2a2a2a" stroke-width="0.9"/><polygon points="781.1,806.2 837.3,810.1 837.3,828.3 782.0,823.2" fill="url(#gBlk)" stroke="#5e5f5d" stroke-width="0.6"/><polygon points="837.3,810.1 851.8,807.0 851.8,824.9 837.3,828.3" fill="#8f908d" stroke="#5e5f5d" stroke-width="0.6"/><polygon points="781.1,806.2 795.6,803.3 851.8,807.0 837.3,810.1" fill="#c1c2bf" stroke="#5e5f5d" stroke-width="0.6"/><polygon points="794.8,980.0 839.0,990.0 839.0,1009.6 794.8,1000.0" fill="url(#gBlk)" stroke="#5e5f5d" stroke-width="0.6"/><polygon points="839.0,990.0 854.3,987.5 854.3,1006.2 839.0,1009.6" fill="#8f908d" stroke="#5e5f5d" stroke-width="0.6"/><polygon points="794.8,980.0 808.5,977.0 854.3,987.5 839.0,990.0" fill="#c1c2bf" stroke="#5e5f5d" stroke-width="0.6"/><path d="M776.6 823.7 Q808.1 885.5 781.1 991.4 L797.0 991.4 Q807.4 885.5 790.6 823.7 Z" fill="#c2c9dd" stroke="#8c93ae" stroke-width="0.8"/><path d="M778.8 823.7 Q810.3 885.5 783.3 991.4" fill="none" stroke="#eef0f8" stroke-width="0.9"/><path d="M807.6 825.5 Q781.9 881.5 809.4 997.6 L825.4 997.6 Q784.6 881.5 821.9 825.5 Z" fill="#c2c9dd" stroke="#8c93ae" stroke-width="0.8"/><path d="M809.8 825.5 Q784.1 881.5 811.6 997.6" fill="none" stroke="#eef0f8" stroke-width="0.9"/><ellipse cx="796.5" cy="802.8" rx="3.5" ry="1.8" fill="#9a9b98" stroke="#555" stroke-width="0.5"/><ellipse cx="830.5" cy="806.2" rx="3.5" ry="1.8" fill="#9a9b98" stroke="#555" stroke-width="0.5"/><line x1="776.0" y1="820.6" x2="793.4" y2="816.3" stroke="#6a6b69" stroke-width="8" stroke-linecap="round"/><line x1="776.0" y1="820.6" x2="793.4" y2="816.3" stroke="#949592" stroke-width="6.3" stroke-linecap="round"/><ellipse cx="776.0" cy="820.6" rx="3.6" ry="3.3" fill="#a9aaa7" stroke="#5d5e5c" stroke-width="0.6"/><line x1="806.7" y1="823.2" x2="826.2" y2="818.1" stroke="#6a6b69" stroke-width="8" stroke-linecap="round"/><line x1="806.7" y1="823.2" x2="826.2" y2="818.1" stroke="#949592" stroke-width="6.3" stroke-linecap="round"/><ellipse cx="806.7" cy="823.2" rx="3.6" ry="3.3" fill="#a9aaa7" stroke="#5d5e5c" stroke-width="0.6"/><ellipse cx="804.5" cy="1004.0" rx="3.5" ry="1.8" fill="#9a9b98" stroke="#555" stroke-width="0.5"/><ellipse cx="828.5" cy="1008.0" rx="3.5" ry="1.8" fill="#9a9b98" stroke="#555" stroke-width="0.5"/><line x1="776.9" y1="996.0" x2="795.0" y2="992.3" stroke="#6a6b69" stroke-width="8" stroke-linecap="round"/><line x1="776.9" y1="996.0" x2="795.0" y2="992.3" stroke="#949592" stroke-width="6.3" stroke-linecap="round"/><ellipse cx="776.9" cy="996.0" rx="3.6" ry="3.3" fill="#a9aaa7" stroke="#5d5e5c" stroke-width="0.6"/><line x1="807.5" y1="1003.6" x2="827.0" y2="999.3" stroke="#6a6b69" stroke-width="8" stroke-linecap="round"/><line x1="807.5" y1="1003.6" x2="827.0" y2="999.3" stroke="#949592" stroke-width="6.3" stroke-linecap="round"/><ellipse cx="807.5" cy="1003.6" rx="3.6" ry="3.3" fill="#a9aaa7" stroke="#5d5e5c" stroke-width="0.6"/><path d="M597.4 806.9 C599.2 805.2 605.0 799.1 608.0 797.0 C611.0 794.9 612.8 794.1 615.2 794.4 C617.6 794.7 620.4 796.5 622.3 798.9 C624.2 801.3 626.0 807.0 626.7 808.6" fill="none" stroke="#2a2a2a" stroke-width="0.9"/><path d="M801.9 804.2 C803.2 803.0 807.5 798.5 810.0 797.0 C812.5 795.5 814.9 795.1 816.9 795.3 C818.9 795.5 820.4 796.4 822.0 798.0 C823.6 799.6 825.9 803.9 826.7 805.1" fill="none" stroke="#2a2a2a" stroke-width="0.9"/><line x1="545.1" y1="937.3" x2="545.1" y2="881.4" stroke="#1a1a1a" stroke-width="1.6"/><polygon points="541.8000000000001,883.4 545.1,873.4 548.4,883.4 545.1,880.9" fill="#1a1a1a"/><line x1="650.6" y1="937.3" x2="650.6" y2="881.4" stroke="#1a1a1a" stroke-width="1.6"/><polygon points="647.3000000000001,883.4 650.6,873.4 653.9,883.4 650.6,880.9" fill="#1a1a1a"/><line x1="749.9" y1="872.5" x2="749.9" y2="929.3" stroke="#1a1a1a" stroke-width="1.6"/><polygon points="746.6,927.3 749.9,937.3 753.1999999999999,927.3 749.9,929.8" fill="#1a1a1a"/><line x1="838.2" y1="937.3" x2="838.2" y2="881.4" stroke="#1a1a1a" stroke-width="1.6"/><polygon points="834.9000000000001,883.4 838.2,873.4 841.5,883.4 838.2,880.9" fill="#1a1a1a"/><line x1="541.3" y1="900.3" x2="538.3" y2="910.3" stroke="#1a1a1a" stroke-width="1.5"/><line x1="658.4" y1="900.3" x2="655.4" y2="910.3" stroke="#1a1a1a" stroke-width="1.5"/><line x1="745.7" y1="900.3" x2="742.7" y2="910.3" stroke="#1a1a1a" stroke-width="1.5"/><line x1="845.9" y1="900.3" x2="842.9" y2="910.3" stroke="#1a1a1a" stroke-width="1.5"/><g fill="none" stroke="#444" stroke-width="5.8" stroke-linejoin="round" stroke-linecap="round"><g transform="translate(630,380) scale(0.13540961408259986)"><path d="M535 215 L905 188 L912 325 L890 365 L510 392 L500 265 Z M535 215 L540 355 L912 325 M540 355 L510 392 M720 203 L728 340 L705 380 " fill="#f7f7f4"/><path d="M25 420 L72 373 L92 392 L122 472 M92 392 C130 300 180 210 215 160 C250 130 330 100 420 75 C470 68 530 70 580 95 C640 125 700 150 718 172 C725 185 718 196 705 200 M235 165 C290 130 340 105 400 85 M300 178 C340 140 400 110 480 85 M655 205 C600 185 560 165 530 158 C470 180 400 250 375 300 C365 350 385 395 430 415 C470 428 520 420 560 400 C600 385 640 375 655 385 C665 400 640 430 600 460 C540 505 480 530 400 540 C330 548 270 570 200 610 M195 612 L235 595 L240 625 L205 650"/></g><g transform="translate(879.2,380) scale(-0.13540961408259986,0.13540961408259986)"><path d="M535 215 L905 188 L912 325 L890 365 L510 392 L500 265 Z M535 215 L540 355 L912 325 M540 355 L510 392 M720 203 L728 340 L705 380 " fill="#f7f7f4"/><path d="M25 420 L72 373 L92 392 L122 472 M92 392 C130 300 180 210 215 160 C250 130 330 100 420 75 C470 68 530 70 580 95 C640 125 700 150 718 172 C725 185 718 196 705 200 M235 165 C290 130 340 105 400 85 M300 178 C340 140 400 110 480 85 M655 205 C600 185 560 165 530 158 C470 180 400 250 375 300 C365 350 385 395 430 415 C470 428 520 420 560 400 C600 385 640 375 655 385 C665 400 640 430 600 460 C540 505 480 530 400 540 C330 548 270 570 200 610 M195 612 L235 595 L240 625 L205 650"/></g><g transform="translate(614.2,544.4) scale(0.13540961408259986)"><path d="M535 215 L905 188 L912 325 L890 365 L510 392 L500 265 Z M535 215 L540 355 L912 325 M540 355 L510 392 M720 203 L728 340 L705 380 " fill="#f7f7f4"/><path d="M25 420 L72 373 L92 392 L122 472 M92 392 C130 300 180 210 215 160 C250 130 330 100 420 75 C470 68 530 70 580 95 C640 125 700 150 718 172 C725 185 718 196 705 200 M235 165 C290 130 340 105 400 85 M300 178 C340 140 400 110 480 85 M655 205 C600 185 560 165 530 158 C470 180 400 250 375 300 C365 350 385 395 430 415 C470 428 520 420 560 400 C600 385 640 375 655 385 C665 400 640 430 600 460 C540 505 480 530 400 540 C330 548 270 570 200 610 M195 612 L235 595 L240 625 L205 650"/></g><g transform="translate(899.3,544.4) scale(-0.13540961408259986,0.13540961408259986)"><path d="M535 215 L905 188 L912 325 L890 365 L510 392 L500 265 Z M535 215 L540 355 L912 325 M540 355 L510 392 M720 203 L728 340 L705 380 " fill="#f7f7f4"/><path d="M25 420 L72 373 L92 392 L122 472 M92 392 C130 300 180 210 215 160 C250 130 330 100 420 75 C470 68 530 70 580 95 C640 125 700 150 718 172 C725 185 718 196 705 200 M235 165 C290 130 340 105 400 85 M300 178 C340 140 400 110 480 85 M655 205 C600 185 560 165 530 158 C470 180 400 250 375 300 C365 350 385 395 430 415 C470 428 520 420 560 400 C600 385 640 375 655 385 C665 400 640 430 600 460 C540 505 480 530 400 540 C330 548 270 570 200 610 M195 612 L235 595 L240 625 L205 650"/></g></g><text x="740.4" y="420.8" font-family="Liberation Serif" font-weight="bold" font-size="16.5" fill="#d9393a" text-anchor="middle">S</text><text x="769" y="420.8" font-family="Liberation Serif" font-weight="bold" font-size="16.5" fill="#2a72aa" text-anchor="middle">N</text><text x="724" y="585.3" font-family="Liberation Serif" font-weight="bold" font-size="16.5" fill="#2a72aa" text-anchor="middle">N</text><text x="791" y="585.3" font-family="Liberation Serif" font-weight="bold" font-size="16.5" fill="#2a72aa" text-anchor="middle">N</text></svg>
<div class="ln t" style="left:42.60px;top:26.06px;font-size:46px;letter-spacing:0.119px"><span style="color:#1b1b1b;">Физика магнитных явлений</span></div>
<div class="ln" style="left:43.00px;top:105.61px;font-size:17px;letter-spacing:0.103px"><span class="b" style="color:#1b1b1b;font-weight:bold;">Магнетизм</span><span style="color:#1b1b1b;"> — одно из проявлений электромагнитных взаимодействий.</span></div>
<div class="ln hd" style="transform:scaleX(0.92);transform-origin:0 0;left:43.08px;top:160.31px;font-size:17px;letter-spacing:1.282px"><span class="b" style="color:#1b1b1b;font-weight:bold;">МАГНИТНОЕ СИЛОВОЕ ПОЛЕ</span></div>
<div class="ln" style="left:43.00px;top:193.11px;font-size:17px;letter-spacing:0.150px"><span style="color:#1b1b1b;">Магнитное поле можно условно изобразить с помощью силовых линий,</span></div>
<div class="ln" style="left:43.00px;top:215.01px;font-size:17px;letter-spacing:0.195px"><span style="color:#1b1b1b;">показав его интенсивность и направление.</span></div>
<div class="ln" style="left:43.00px;top:247.61px;font-size:17px;letter-spacing:-0.046px"><span style="color:#1b1b1b;">Визуализировать силовые линии помогут </span><span class="b" style="color:#1b1b1b;font-weight:bold;">стальные опилки</span><span style="color:#1b1b1b;">.</span></div>
<div class="ln" style="left:94.60px;top:302.26px;font-size:16px;letter-spacing:-0.035px"><span class="b" style="color:#1b1b1b;font-weight:bold;">Полосовой магнит</span></div>
<div class="ln" style="left:82.00px;top:456.26px;font-size:16px;letter-spacing:0.056px"><span class="b" style="color:#1b1b1b;font-weight:bold;">Дугообразный магнит</span></div>
<div class="ln hd" style="transform:scaleX(0.92);transform-origin:0 0;left:385.28px;top:323.61px;font-size:17px;letter-spacing:1.294px"><span class="b" style="color:#e8453c;font-weight:bold;">ПОЛЮСА </span><span class="b" style="color:#1f6aa6;font-weight:bold;">МАГНИТОВ</span></div>
<div class="ln hd" style="transform:scaleX(0.92);transform-origin:0 0;left:44.00px;top:728.11px;font-size:17px;letter-spacing:1.579px"><span class="b" style="color:#1b1b1b;font-weight:bold;">ЭЛЕКТРОМАГНЕТИЗМ</span></div>
<div class="ln" style="left:43.00px;top:758.61px;font-size:17px;letter-spacing:0.292px"><span style="color:#1b1b1b;">Магнитное поле существует вокруг движущихся зарядов, следовательно вокруг проводника,</span></div>
<div class="ln" style="left:43.00px;top:782.21px;font-size:17px;letter-spacing:0.268px"><span style="color:#1b1b1b;">по которому течет ток.</span></div>
<div class="ln" style="left:77.40px;top:825.31px;font-size:17px;letter-spacing:0.297px"><span style="color:#1b1b1b;">При отсутствии тока</span></div>
<div class="ln" style="left:43.00px;top:847.21px;font-size:17px;letter-spacing:0.320px"><span style="color:#1b1b1b;">притяжения или отталкивания</span></div>
<div class="ln" style="left:43.00px;top:868.11px;font-size:17px;letter-spacing:0.273px"><span style="color:#1b1b1b;">проводников не происходит</span></div>
<div class="ln" style="left:79.00px;top:912.21px;font-size:17px;letter-spacing:0.116px"><span style="color:#1b1b1b;">При замыкании цепи</span></div>
<div class="ln" style="left:43.00px;top:934.01px;font-size:17px;letter-spacing:0.323px"><span style="color:#1b1b1b;">и протекании токов</span></div>
<div class="ln" style="left:43.00px;top:955.91px;font-size:17px;letter-spacing:0.294px"><span style="color:#1b1b1b;">противоположного направления</span></div>
<div class="ln" style="left:43.00px;top:976.86px;font-size:17px;letter-spacing:0.398px"><span style="color:#1b1b1b;">проводники начнут отталкиваться</span></div>
<div class="ln" style="left:80.60px;top:1022.21px;font-size:17px;letter-spacing:0.163px"><span style="color:#1b1b1b;">При замыкании цепи</span></div>
<div class="ln" style="left:45.00px;top:1044.21px;font-size:17px;letter-spacing:0.328px"><span style="color:#1b1b1b;">и протекании токов одного</span></div>
<div class="ln" style="left:45.00px;top:1066.21px;font-size:17px;letter-spacing:0.330px"><span style="color:#1b1b1b;">направления проводники</span></div>
<div class="ln" style="left:45.00px;top:1088.21px;font-size:17px;letter-spacing:0.282px"><span style="color:#1b1b1b;">начнут притягиваться</span></div>
<div class="ln" style="left:43.00px;top:1153.90px;font-size:15px;letter-spacing:0.017px"><span style="color:#1b1b1b;">На примере прибора для демонстрации</span></div>
<div class="ln" style="left:43.00px;top:1174.80px;font-size:15px;letter-spacing:0.074px"><span style="color:#1b1b1b;">взаимодействия параллельных токов</span></div>
<div class="ln" style="left:43.00px;top:1196.05px;font-size:15px;letter-spacing:0.266px"><span style="color:#1b1b1b;">из коллекции Политехнического музея.</span></div>
<div class="ln ft" style="left:112.80px;top:1252.30px;font-size:15px;letter-spacing:-0.315px"><span style="color:#a9a8a4;">©  ТАСС, 2025.</span></div>
<div class="ln ft" style="left:111.80px;top:1273.30px;font-size:15px;letter-spacing:0.130px"><span style="color:#a9a8a4;">Источник: Вонсовский С.В. &quot;Магнетизм&quot;, 1984 год. ТАСС благодарит Политехнический музей</span></div>
<div class="ln ft" style="left:112.80px;top:1295.30px;font-size:15px;letter-spacing:0.075px"><span style="color:#a9a8a4;">за помощь в подготовке материала.</span></div>
<div class="num" style="left:43.1px;top:820.1px">1</div><div class="num" style="left:43.1px;top:907.7px">2</div><div class="num" style="left:43.1px;top:1015.9px">3</div><div class="num" style="left:332.5px;top:882.0px">1</div><div class="num" style="left:583.8px;top:882.0px">2</div><div class="num" style="left:757.2px;top:881.5px">3</div>
</body></html>
